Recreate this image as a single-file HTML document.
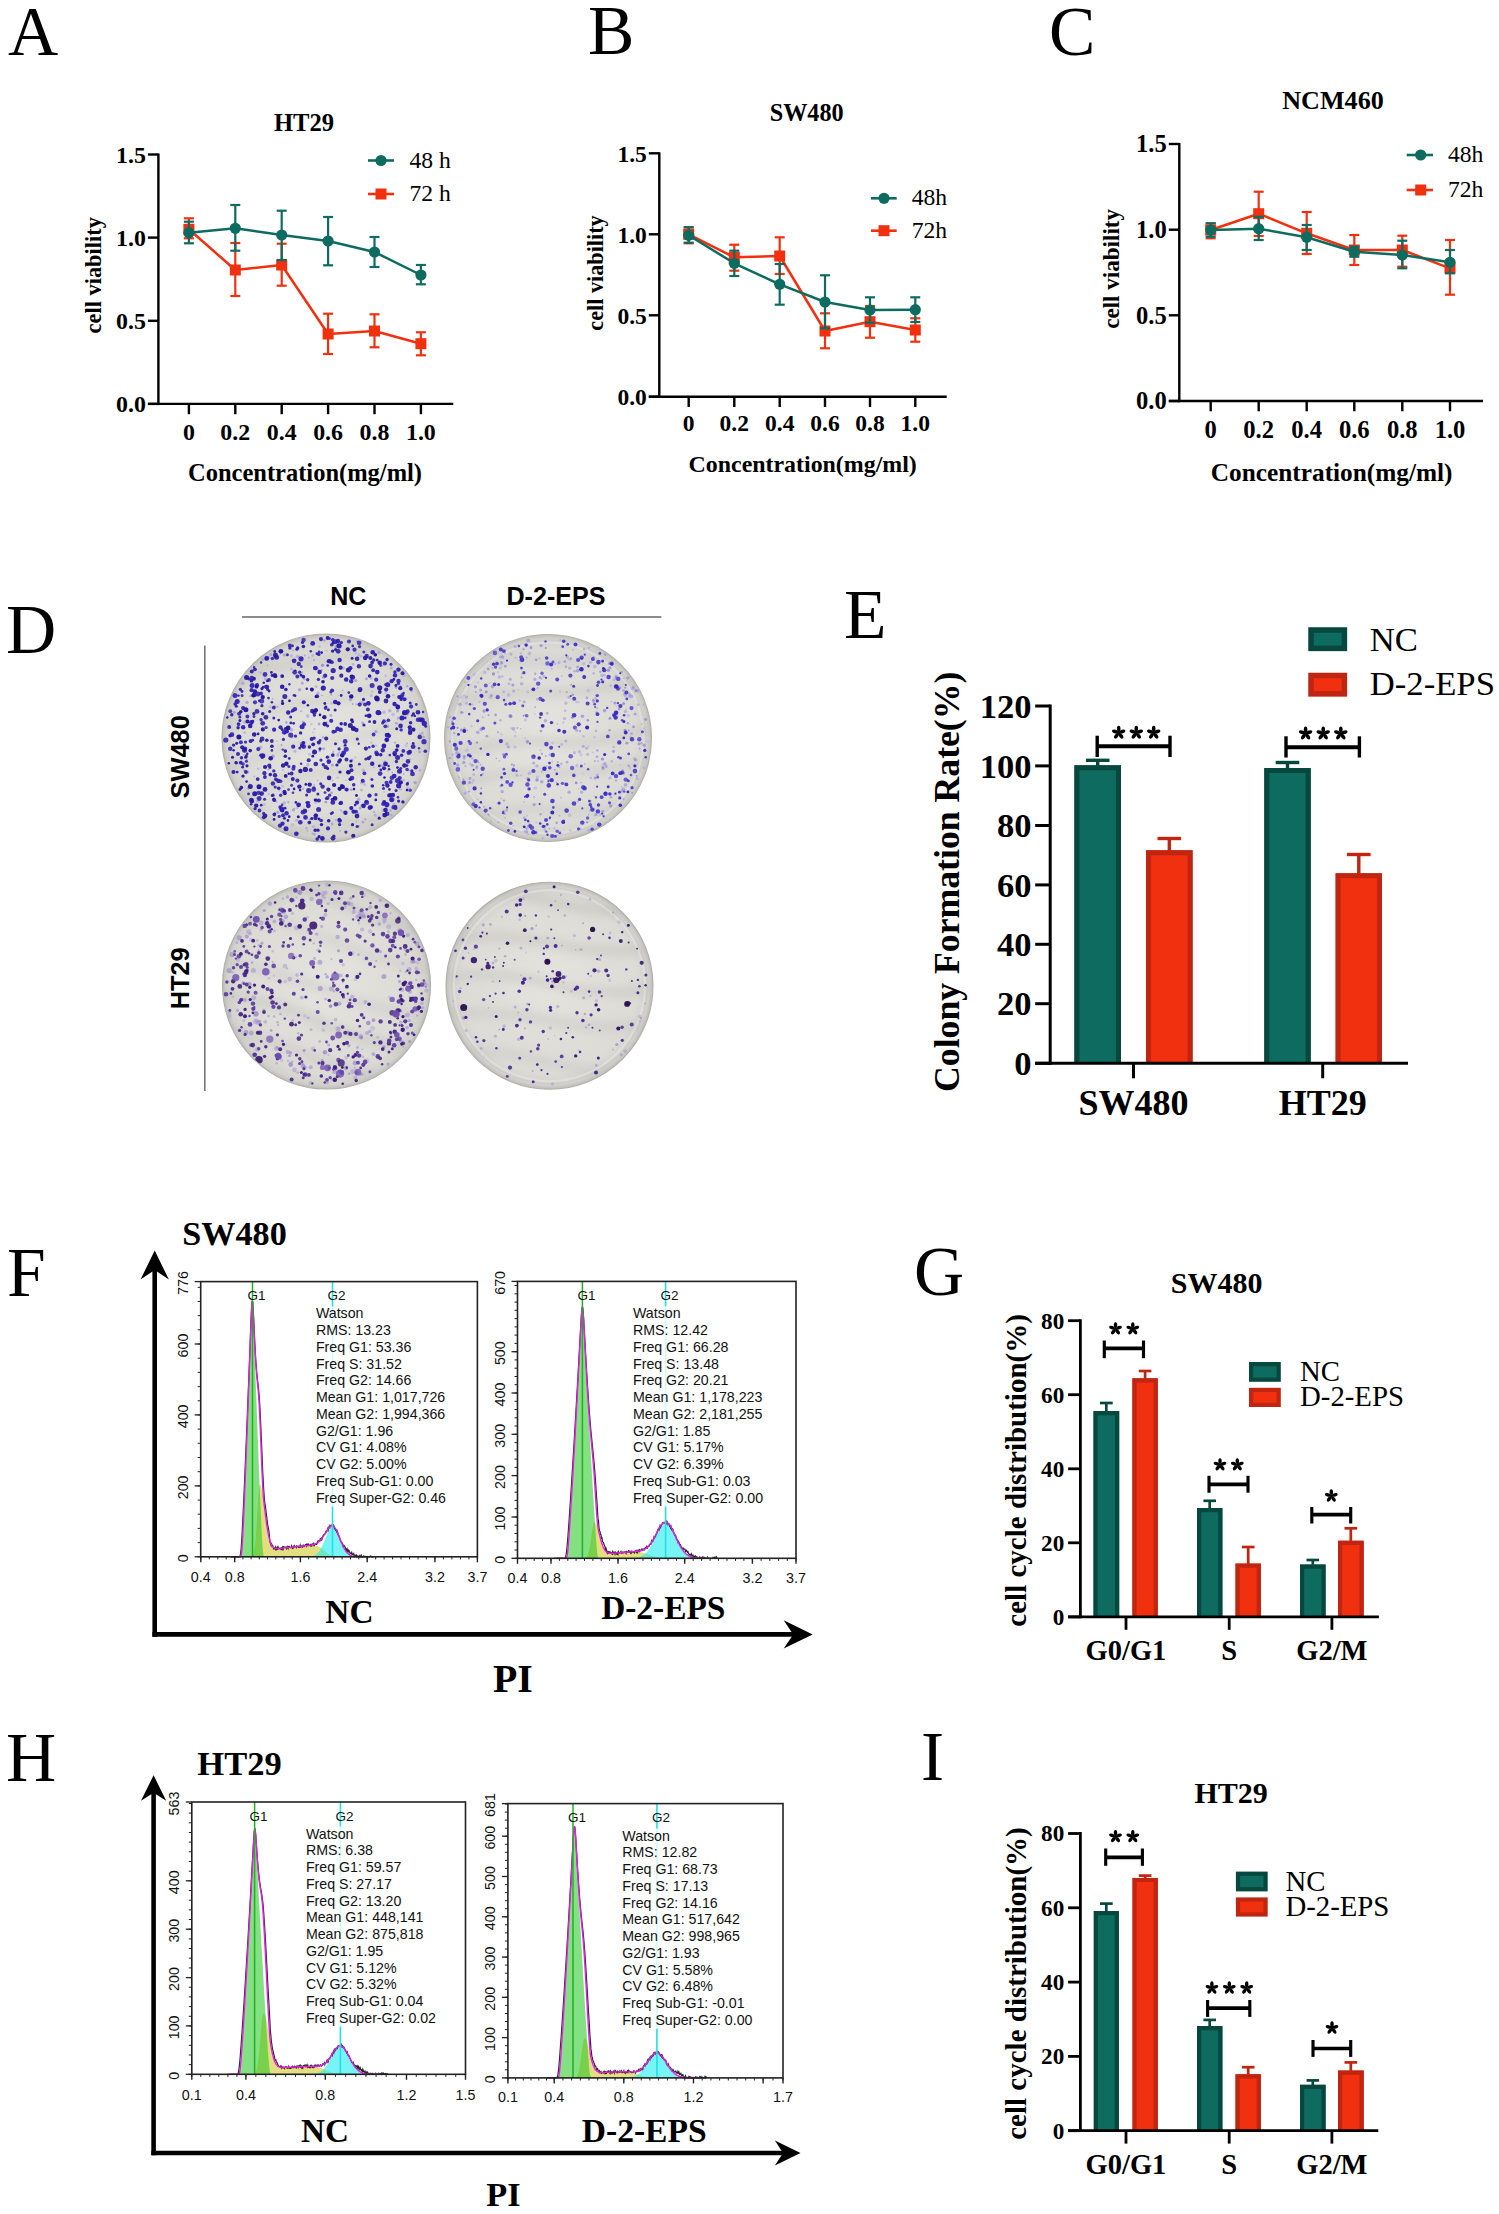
<!DOCTYPE html>
<html><head><meta charset="utf-8"><style>
html,body{margin:0;padding:0;background:#fff;}
svg{display:block;}
</style></head><body>
<svg width="1499" height="2214" viewBox="0 0 1499 2214">
<rect width="1499" height="2214" fill="#fff"/>
<text x="8.0" y="54.5" font-family='"Liberation Serif", serif' font-size="69.5" font-weight="normal" text-anchor="start" fill="#000" >A</text>
<text x="588.0" y="54.3" font-family='"Liberation Serif", serif' font-size="69.5" font-weight="normal" text-anchor="start" fill="#000" >B</text>
<text x="1049.0" y="54.8" font-family='"Liberation Serif", serif' font-size="69.5" font-weight="normal" text-anchor="start" fill="#000" >C</text>
<text x="6.0" y="653.0" font-family='"Liberation Serif", serif' font-size="69.5" font-weight="normal" text-anchor="start" fill="#000" >D</text>
<text x="844.0" y="638.0" font-family='"Liberation Serif", serif' font-size="69.5" font-weight="normal" text-anchor="start" fill="#000" >E</text>
<text x="7.0" y="1296.0" font-family='"Liberation Serif", serif' font-size="69.5" font-weight="normal" text-anchor="start" fill="#000" >F</text>
<text x="914.0" y="1294.5" font-family='"Liberation Serif", serif' font-size="69.5" font-weight="normal" text-anchor="start" fill="#000" >G</text>
<text x="6.0" y="1781.0" font-family='"Liberation Serif", serif' font-size="69.5" font-weight="normal" text-anchor="start" fill="#000" >H</text>
<text x="921.0" y="1780.2" font-family='"Liberation Serif", serif' font-size="69.5" font-weight="normal" text-anchor="start" fill="#000" >I</text>
<line x1="158.4" y1="153.5" x2="158.4" y2="405.1" stroke="#000" stroke-width="2.4" />
<line x1="147.9" y1="403.9" x2="453.3" y2="403.9" stroke="#000" stroke-width="2.4" />
<line x1="147.9" y1="154.5" x2="158.4" y2="154.5" stroke="#000" stroke-width="2.4" />
<text x="145.9" y="162.8" font-family='"Liberation Serif", serif' font-size="23.9" font-weight="bold" text-anchor="end" fill="#000" >1.5</text>
<line x1="147.9" y1="237.6" x2="158.4" y2="237.6" stroke="#000" stroke-width="2.4" />
<text x="145.9" y="245.9" font-family='"Liberation Serif", serif' font-size="23.9" font-weight="bold" text-anchor="end" fill="#000" >1.0</text>
<line x1="147.9" y1="320.8" x2="158.4" y2="320.8" stroke="#000" stroke-width="2.4" />
<text x="145.9" y="329.1" font-family='"Liberation Serif", serif' font-size="23.9" font-weight="bold" text-anchor="end" fill="#000" >0.5</text>
<line x1="147.9" y1="403.9" x2="158.4" y2="403.9" stroke="#000" stroke-width="2.4" />
<text x="145.9" y="412.2" font-family='"Liberation Serif", serif' font-size="23.9" font-weight="bold" text-anchor="end" fill="#000" >0.0</text>
<line x1="188.9" y1="403.9" x2="188.9" y2="414.2" stroke="#000" stroke-width="2.4" />
<text x="188.9" y="439.5" font-family='"Liberation Serif", serif' font-size="23.9" font-weight="bold" text-anchor="middle" fill="#000" >0</text>
<line x1="235.3" y1="403.9" x2="235.3" y2="414.2" stroke="#000" stroke-width="2.4" />
<text x="235.3" y="439.5" font-family='"Liberation Serif", serif' font-size="23.9" font-weight="bold" text-anchor="middle" fill="#000" >0.2</text>
<line x1="281.7" y1="403.9" x2="281.7" y2="414.2" stroke="#000" stroke-width="2.4" />
<text x="281.7" y="439.5" font-family='"Liberation Serif", serif' font-size="23.9" font-weight="bold" text-anchor="middle" fill="#000" >0.4</text>
<line x1="328.1" y1="403.9" x2="328.1" y2="414.2" stroke="#000" stroke-width="2.4" />
<text x="328.1" y="439.5" font-family='"Liberation Serif", serif' font-size="23.9" font-weight="bold" text-anchor="middle" fill="#000" >0.6</text>
<line x1="374.5" y1="403.9" x2="374.5" y2="414.2" stroke="#000" stroke-width="2.4" />
<text x="374.5" y="439.5" font-family='"Liberation Serif", serif' font-size="23.9" font-weight="bold" text-anchor="middle" fill="#000" >0.8</text>
<line x1="420.9" y1="403.9" x2="420.9" y2="414.2" stroke="#000" stroke-width="2.4" />
<text x="420.9" y="439.5" font-family='"Liberation Serif", serif' font-size="23.9" font-weight="bold" text-anchor="middle" fill="#000" >1.0</text>
<text x="304.0" y="131.3" font-family='"Liberation Serif", serif' font-size="24.6" font-weight="bold" text-anchor="middle" fill="#000" >HT29</text>
<text x="305.0" y="481.0" font-family='"Liberation Serif", serif' font-size="24.5" font-weight="bold" text-anchor="middle" fill="#000" >Concentration(mg/ml)</text>
<text transform="translate(100.6,275.3) rotate(-90)" font-family='"Liberation Serif", serif' font-size="22.4" font-weight="bold" text-anchor="middle" fill="#000">cell viability</text>
<line x1="188.9" y1="218.3" x2="188.9" y2="238.3" stroke="#f0300f" stroke-width="2.2" />
<line x1="183.9" y1="218.3" x2="193.9" y2="218.3" stroke="#f0300f" stroke-width="2.2" />
<line x1="183.9" y1="238.3" x2="193.9" y2="238.3" stroke="#f0300f" stroke-width="2.2" />
<line x1="235.3" y1="243.0" x2="235.3" y2="296.0" stroke="#f0300f" stroke-width="2.2" />
<line x1="230.3" y1="243.0" x2="240.3" y2="243.0" stroke="#f0300f" stroke-width="2.2" />
<line x1="230.3" y1="296.0" x2="240.3" y2="296.0" stroke="#f0300f" stroke-width="2.2" />
<line x1="281.7" y1="243.7" x2="281.7" y2="285.7" stroke="#f0300f" stroke-width="2.2" />
<line x1="276.7" y1="243.7" x2="286.7" y2="243.7" stroke="#f0300f" stroke-width="2.2" />
<line x1="276.7" y1="285.7" x2="286.7" y2="285.7" stroke="#f0300f" stroke-width="2.2" />
<line x1="328.1" y1="313.7" x2="328.1" y2="354.0" stroke="#f0300f" stroke-width="2.2" />
<line x1="323.1" y1="313.7" x2="333.1" y2="313.7" stroke="#f0300f" stroke-width="2.2" />
<line x1="323.1" y1="354.0" x2="333.1" y2="354.0" stroke="#f0300f" stroke-width="2.2" />
<line x1="374.5" y1="314.3" x2="374.5" y2="347.3" stroke="#f0300f" stroke-width="2.2" />
<line x1="369.5" y1="314.3" x2="379.5" y2="314.3" stroke="#f0300f" stroke-width="2.2" />
<line x1="369.5" y1="347.3" x2="379.5" y2="347.3" stroke="#f0300f" stroke-width="2.2" />
<line x1="420.9" y1="332.3" x2="420.9" y2="355.3" stroke="#f0300f" stroke-width="2.2" />
<line x1="415.9" y1="332.3" x2="425.9" y2="332.3" stroke="#f0300f" stroke-width="2.2" />
<line x1="415.9" y1="355.3" x2="425.9" y2="355.3" stroke="#f0300f" stroke-width="2.2" />
<polyline points="188.9,229.3 235.3,270.0 281.7,265.0 328.1,334.0 374.5,331.0 420.9,343.7" fill="none" stroke="#f0300f" stroke-width="2.5" stroke-linejoin="round"/>
<rect x="183.4" y="223.8" width="11" height="11" fill="#f0300f"/>
<rect x="229.8" y="264.5" width="11" height="11" fill="#f0300f"/>
<rect x="276.2" y="259.5" width="11" height="11" fill="#f0300f"/>
<rect x="322.6" y="328.5" width="11" height="11" fill="#f0300f"/>
<rect x="369.0" y="325.5" width="11" height="11" fill="#f0300f"/>
<rect x="415.4" y="338.2" width="11" height="11" fill="#f0300f"/>
<line x1="188.9" y1="221.7" x2="188.9" y2="243.3" stroke="#0e6b60" stroke-width="2.2" />
<line x1="183.9" y1="221.7" x2="193.9" y2="221.7" stroke="#0e6b60" stroke-width="2.2" />
<line x1="183.9" y1="243.3" x2="193.9" y2="243.3" stroke="#0e6b60" stroke-width="2.2" />
<line x1="235.3" y1="205.0" x2="235.3" y2="250.7" stroke="#0e6b60" stroke-width="2.2" />
<line x1="230.3" y1="205.0" x2="240.3" y2="205.0" stroke="#0e6b60" stroke-width="2.2" />
<line x1="230.3" y1="250.7" x2="240.3" y2="250.7" stroke="#0e6b60" stroke-width="2.2" />
<line x1="281.7" y1="210.7" x2="281.7" y2="260.0" stroke="#0e6b60" stroke-width="2.2" />
<line x1="276.7" y1="210.7" x2="286.7" y2="210.7" stroke="#0e6b60" stroke-width="2.2" />
<line x1="276.7" y1="260.0" x2="286.7" y2="260.0" stroke="#0e6b60" stroke-width="2.2" />
<line x1="328.1" y1="217.0" x2="328.1" y2="265.3" stroke="#0e6b60" stroke-width="2.2" />
<line x1="323.1" y1="217.0" x2="333.1" y2="217.0" stroke="#0e6b60" stroke-width="2.2" />
<line x1="323.1" y1="265.3" x2="333.1" y2="265.3" stroke="#0e6b60" stroke-width="2.2" />
<line x1="374.5" y1="237.0" x2="374.5" y2="267.0" stroke="#0e6b60" stroke-width="2.2" />
<line x1="369.5" y1="237.0" x2="379.5" y2="237.0" stroke="#0e6b60" stroke-width="2.2" />
<line x1="369.5" y1="267.0" x2="379.5" y2="267.0" stroke="#0e6b60" stroke-width="2.2" />
<line x1="420.9" y1="265.0" x2="420.9" y2="284.3" stroke="#0e6b60" stroke-width="2.2" />
<line x1="415.9" y1="265.0" x2="425.9" y2="265.0" stroke="#0e6b60" stroke-width="2.2" />
<line x1="415.9" y1="284.3" x2="425.9" y2="284.3" stroke="#0e6b60" stroke-width="2.2" />
<polyline points="188.9,232.7 235.3,228.3 281.7,235.0 328.1,241.0 374.5,252.0 420.9,275.0" fill="none" stroke="#0e6b60" stroke-width="2.5" stroke-linejoin="round"/>
<circle cx="188.9" cy="232.7" r="5.6" fill="#0e6b60"/>
<circle cx="235.3" cy="228.3" r="5.6" fill="#0e6b60"/>
<circle cx="281.7" cy="235.0" r="5.6" fill="#0e6b60"/>
<circle cx="328.1" cy="241.0" r="5.6" fill="#0e6b60"/>
<circle cx="374.5" cy="252.0" r="5.6" fill="#0e6b60"/>
<circle cx="420.9" cy="275.0" r="5.6" fill="#0e6b60"/>
<line x1="368.0" y1="160.5" x2="394.0" y2="160.5" stroke="#0e6b60" stroke-width="2.6" />
<circle cx="381" cy="160.5" r="5.6" fill="#0e6b60"/>
<line x1="368.0" y1="194.0" x2="394.0" y2="194.0" stroke="#f0300f" stroke-width="2.6" />
<rect x="375.5" y="188.5" width="11" height="11" fill="#f0300f"/>
<text x="409.5" y="167.5" font-family='"Liberation Serif", serif' font-size="23.6" font-weight="normal" text-anchor="start" fill="#000" >48 h</text>
<text x="409.5" y="201.0" font-family='"Liberation Serif", serif' font-size="23.6" font-weight="normal" text-anchor="start" fill="#000" >72 h</text>
<line x1="659.3" y1="152.3" x2="659.3" y2="397.9" stroke="#000" stroke-width="2.4" />
<line x1="648.8" y1="396.7" x2="946.7" y2="396.7" stroke="#000" stroke-width="2.4" />
<line x1="648.8" y1="153.3" x2="659.3" y2="153.3" stroke="#000" stroke-width="2.4" />
<text x="646.8" y="161.6" font-family='"Liberation Serif", serif' font-size="23.5" font-weight="bold" text-anchor="end" fill="#000" >1.5</text>
<line x1="648.8" y1="234.3" x2="659.3" y2="234.3" stroke="#000" stroke-width="2.4" />
<text x="646.8" y="242.6" font-family='"Liberation Serif", serif' font-size="23.5" font-weight="bold" text-anchor="end" fill="#000" >1.0</text>
<line x1="648.8" y1="315.3" x2="659.3" y2="315.3" stroke="#000" stroke-width="2.4" />
<text x="646.8" y="323.6" font-family='"Liberation Serif", serif' font-size="23.5" font-weight="bold" text-anchor="end" fill="#000" >0.5</text>
<line x1="648.8" y1="396.7" x2="659.3" y2="396.7" stroke="#000" stroke-width="2.4" />
<text x="646.8" y="405.0" font-family='"Liberation Serif", serif' font-size="23.5" font-weight="bold" text-anchor="end" fill="#000" >0.0</text>
<line x1="688.7" y1="396.7" x2="688.7" y2="407.0" stroke="#000" stroke-width="2.4" />
<text x="688.7" y="430.8" font-family='"Liberation Serif", serif' font-size="23.5" font-weight="bold" text-anchor="middle" fill="#000" >0</text>
<line x1="734.3" y1="396.7" x2="734.3" y2="407.0" stroke="#000" stroke-width="2.4" />
<text x="734.3" y="430.8" font-family='"Liberation Serif", serif' font-size="23.5" font-weight="bold" text-anchor="middle" fill="#000" >0.2</text>
<line x1="779.7" y1="396.7" x2="779.7" y2="407.0" stroke="#000" stroke-width="2.4" />
<text x="779.7" y="430.8" font-family='"Liberation Serif", serif' font-size="23.5" font-weight="bold" text-anchor="middle" fill="#000" >0.4</text>
<line x1="825.0" y1="396.7" x2="825.0" y2="407.0" stroke="#000" stroke-width="2.4" />
<text x="825.0" y="430.8" font-family='"Liberation Serif", serif' font-size="23.5" font-weight="bold" text-anchor="middle" fill="#000" >0.6</text>
<line x1="870.0" y1="396.7" x2="870.0" y2="407.0" stroke="#000" stroke-width="2.4" />
<text x="870.0" y="430.8" font-family='"Liberation Serif", serif' font-size="23.5" font-weight="bold" text-anchor="middle" fill="#000" >0.8</text>
<line x1="915.3" y1="396.7" x2="915.3" y2="407.0" stroke="#000" stroke-width="2.4" />
<text x="915.3" y="430.8" font-family='"Liberation Serif", serif' font-size="23.5" font-weight="bold" text-anchor="middle" fill="#000" >1.0</text>
<text x="806.7" y="121.3" font-family='"Liberation Serif", serif' font-size="24.2" font-weight="bold" text-anchor="middle" fill="#000" >SW480</text>
<text x="802.7" y="472.3" font-family='"Liberation Serif", serif' font-size="23.9" font-weight="bold" text-anchor="middle" fill="#000" >Concentration(mg/ml)</text>
<text transform="translate(602.5,273) rotate(-90)" font-family='"Liberation Serif", serif' font-size="22.2" font-weight="bold" text-anchor="middle" fill="#000">cell viability</text>
<line x1="688.7" y1="227.3" x2="688.7" y2="243.3" stroke="#f0300f" stroke-width="2.2" />
<line x1="683.7" y1="227.3" x2="693.7" y2="227.3" stroke="#f0300f" stroke-width="2.2" />
<line x1="683.7" y1="243.3" x2="693.7" y2="243.3" stroke="#f0300f" stroke-width="2.2" />
<line x1="734.3" y1="244.7" x2="734.3" y2="270.7" stroke="#f0300f" stroke-width="2.2" />
<line x1="729.3" y1="244.7" x2="739.3" y2="244.7" stroke="#f0300f" stroke-width="2.2" />
<line x1="729.3" y1="270.7" x2="739.3" y2="270.7" stroke="#f0300f" stroke-width="2.2" />
<line x1="779.7" y1="237.3" x2="779.7" y2="274.0" stroke="#f0300f" stroke-width="2.2" />
<line x1="774.7" y1="237.3" x2="784.7" y2="237.3" stroke="#f0300f" stroke-width="2.2" />
<line x1="774.7" y1="274.0" x2="784.7" y2="274.0" stroke="#f0300f" stroke-width="2.2" />
<line x1="825.0" y1="313.3" x2="825.0" y2="348.3" stroke="#f0300f" stroke-width="2.2" />
<line x1="820.0" y1="313.3" x2="830.0" y2="313.3" stroke="#f0300f" stroke-width="2.2" />
<line x1="820.0" y1="348.3" x2="830.0" y2="348.3" stroke="#f0300f" stroke-width="2.2" />
<line x1="870.0" y1="306.0" x2="870.0" y2="337.7" stroke="#f0300f" stroke-width="2.2" />
<line x1="865.0" y1="306.0" x2="875.0" y2="306.0" stroke="#f0300f" stroke-width="2.2" />
<line x1="865.0" y1="337.7" x2="875.0" y2="337.7" stroke="#f0300f" stroke-width="2.2" />
<line x1="915.3" y1="318.3" x2="915.3" y2="341.7" stroke="#f0300f" stroke-width="2.2" />
<line x1="910.3" y1="318.3" x2="920.3" y2="318.3" stroke="#f0300f" stroke-width="2.2" />
<line x1="910.3" y1="341.7" x2="920.3" y2="341.7" stroke="#f0300f" stroke-width="2.2" />
<polyline points="688.7,234.3 734.3,257.3 779.7,256.0 825.0,331.0 870.0,321.7 915.3,330.0" fill="none" stroke="#f0300f" stroke-width="2.5" stroke-linejoin="round"/>
<rect x="683.2" y="228.8" width="11" height="11" fill="#f0300f"/>
<rect x="728.8" y="251.8" width="11" height="11" fill="#f0300f"/>
<rect x="774.2" y="250.5" width="11" height="11" fill="#f0300f"/>
<rect x="819.5" y="325.5" width="11" height="11" fill="#f0300f"/>
<rect x="864.5" y="316.2" width="11" height="11" fill="#f0300f"/>
<rect x="909.8" y="324.5" width="11" height="11" fill="#f0300f"/>
<line x1="688.7" y1="227.3" x2="688.7" y2="242.7" stroke="#0e6b60" stroke-width="2.2" />
<line x1="683.7" y1="227.3" x2="693.7" y2="227.3" stroke="#0e6b60" stroke-width="2.2" />
<line x1="683.7" y1="242.7" x2="693.7" y2="242.7" stroke="#0e6b60" stroke-width="2.2" />
<line x1="734.3" y1="250.7" x2="734.3" y2="276.0" stroke="#0e6b60" stroke-width="2.2" />
<line x1="729.3" y1="250.7" x2="739.3" y2="250.7" stroke="#0e6b60" stroke-width="2.2" />
<line x1="729.3" y1="276.0" x2="739.3" y2="276.0" stroke="#0e6b60" stroke-width="2.2" />
<line x1="779.7" y1="264.0" x2="779.7" y2="304.7" stroke="#0e6b60" stroke-width="2.2" />
<line x1="774.7" y1="264.0" x2="784.7" y2="264.0" stroke="#0e6b60" stroke-width="2.2" />
<line x1="774.7" y1="304.7" x2="784.7" y2="304.7" stroke="#0e6b60" stroke-width="2.2" />
<line x1="825.0" y1="275.3" x2="825.0" y2="328.3" stroke="#0e6b60" stroke-width="2.2" />
<line x1="820.0" y1="275.3" x2="830.0" y2="275.3" stroke="#0e6b60" stroke-width="2.2" />
<line x1="820.0" y1="328.3" x2="830.0" y2="328.3" stroke="#0e6b60" stroke-width="2.2" />
<line x1="870.0" y1="297.3" x2="870.0" y2="322.7" stroke="#0e6b60" stroke-width="2.2" />
<line x1="865.0" y1="297.3" x2="875.0" y2="297.3" stroke="#0e6b60" stroke-width="2.2" />
<line x1="865.0" y1="322.7" x2="875.0" y2="322.7" stroke="#0e6b60" stroke-width="2.2" />
<line x1="915.3" y1="297.3" x2="915.3" y2="322.0" stroke="#0e6b60" stroke-width="2.2" />
<line x1="910.3" y1="297.3" x2="920.3" y2="297.3" stroke="#0e6b60" stroke-width="2.2" />
<line x1="910.3" y1="322.0" x2="920.3" y2="322.0" stroke="#0e6b60" stroke-width="2.2" />
<polyline points="688.7,235.3 734.3,263.3 779.7,284.3 825.0,302.0 870.0,310.0 915.3,309.7" fill="none" stroke="#0e6b60" stroke-width="2.5" stroke-linejoin="round"/>
<circle cx="688.7" cy="235.3" r="5.6" fill="#0e6b60"/>
<circle cx="734.3" cy="263.3" r="5.6" fill="#0e6b60"/>
<circle cx="779.7" cy="284.3" r="5.6" fill="#0e6b60"/>
<circle cx="825.0" cy="302.0" r="5.6" fill="#0e6b60"/>
<circle cx="870.0" cy="310.0" r="5.6" fill="#0e6b60"/>
<circle cx="915.3" cy="309.7" r="5.6" fill="#0e6b60"/>
<line x1="871.0" y1="198.3" x2="896.7" y2="198.3" stroke="#0e6b60" stroke-width="2.6" />
<circle cx="884" cy="198.3" r="5.6" fill="#0e6b60"/>
<line x1="871.0" y1="230.7" x2="896.7" y2="230.7" stroke="#f0300f" stroke-width="2.6" />
<rect x="878.5" y="225.2" width="11" height="11" fill="#f0300f"/>
<text x="911.7" y="205.3" font-family='"Liberation Serif", serif' font-size="23.6" font-weight="normal" text-anchor="start" fill="#000" >48h</text>
<text x="911.7" y="237.7" font-family='"Liberation Serif", serif' font-size="23.6" font-weight="normal" text-anchor="start" fill="#000" >72h</text>
<line x1="1179.3" y1="143.0" x2="1179.3" y2="402.2" stroke="#000" stroke-width="2.4" />
<line x1="1168.8" y1="401.0" x2="1483.0" y2="401.0" stroke="#000" stroke-width="2.4" />
<line x1="1168.8" y1="144.0" x2="1179.3" y2="144.0" stroke="#000" stroke-width="2.4" />
<text x="1166.8" y="152.3" font-family='"Liberation Serif", serif' font-size="24.6" font-weight="bold" text-anchor="end" fill="#000" >1.5</text>
<line x1="1168.8" y1="229.7" x2="1179.3" y2="229.7" stroke="#000" stroke-width="2.4" />
<text x="1166.8" y="238.0" font-family='"Liberation Serif", serif' font-size="24.6" font-weight="bold" text-anchor="end" fill="#000" >1.0</text>
<line x1="1168.8" y1="315.3" x2="1179.3" y2="315.3" stroke="#000" stroke-width="2.4" />
<text x="1166.8" y="323.6" font-family='"Liberation Serif", serif' font-size="24.6" font-weight="bold" text-anchor="end" fill="#000" >0.5</text>
<line x1="1168.8" y1="401.0" x2="1179.3" y2="401.0" stroke="#000" stroke-width="2.4" />
<text x="1166.8" y="409.3" font-family='"Liberation Serif", serif' font-size="24.6" font-weight="bold" text-anchor="end" fill="#000" >0.0</text>
<line x1="1210.7" y1="401.0" x2="1210.7" y2="411.3" stroke="#000" stroke-width="2.4" />
<text x="1210.7" y="437.5" font-family='"Liberation Serif", serif' font-size="24.6" font-weight="bold" text-anchor="middle" fill="#000" >0</text>
<line x1="1258.7" y1="401.0" x2="1258.7" y2="411.3" stroke="#000" stroke-width="2.4" />
<text x="1258.7" y="437.5" font-family='"Liberation Serif", serif' font-size="24.6" font-weight="bold" text-anchor="middle" fill="#000" >0.2</text>
<line x1="1306.7" y1="401.0" x2="1306.7" y2="411.3" stroke="#000" stroke-width="2.4" />
<text x="1306.7" y="437.5" font-family='"Liberation Serif", serif' font-size="24.6" font-weight="bold" text-anchor="middle" fill="#000" >0.4</text>
<line x1="1354.3" y1="401.0" x2="1354.3" y2="411.3" stroke="#000" stroke-width="2.4" />
<text x="1354.3" y="437.5" font-family='"Liberation Serif", serif' font-size="24.6" font-weight="bold" text-anchor="middle" fill="#000" >0.6</text>
<line x1="1402.3" y1="401.0" x2="1402.3" y2="411.3" stroke="#000" stroke-width="2.4" />
<text x="1402.3" y="437.5" font-family='"Liberation Serif", serif' font-size="24.6" font-weight="bold" text-anchor="middle" fill="#000" >0.8</text>
<line x1="1450.0" y1="401.0" x2="1450.0" y2="411.3" stroke="#000" stroke-width="2.4" />
<text x="1450.0" y="437.5" font-family='"Liberation Serif", serif' font-size="24.6" font-weight="bold" text-anchor="middle" fill="#000" >1.0</text>
<text x="1333.0" y="109.3" font-family='"Liberation Serif", serif' font-size="26.1" font-weight="bold" text-anchor="middle" fill="#000" >NCM460</text>
<text x="1331.7" y="481.0" font-family='"Liberation Serif", serif' font-size="25.3" font-weight="bold" text-anchor="middle" fill="#000" >Concentration(mg/ml)</text>
<text transform="translate(1119.3,268.9) rotate(-90)" font-family='"Liberation Serif", serif' font-size="23.1" font-weight="bold" text-anchor="middle" fill="#000">cell viability</text>
<line x1="1210.7" y1="223.3" x2="1210.7" y2="238.3" stroke="#f0300f" stroke-width="2.2" />
<line x1="1205.7" y1="223.3" x2="1215.7" y2="223.3" stroke="#f0300f" stroke-width="2.2" />
<line x1="1205.7" y1="238.3" x2="1215.7" y2="238.3" stroke="#f0300f" stroke-width="2.2" />
<line x1="1258.7" y1="191.7" x2="1258.7" y2="236.0" stroke="#f0300f" stroke-width="2.2" />
<line x1="1253.7" y1="191.7" x2="1263.7" y2="191.7" stroke="#f0300f" stroke-width="2.2" />
<line x1="1253.7" y1="236.0" x2="1263.7" y2="236.0" stroke="#f0300f" stroke-width="2.2" />
<line x1="1306.7" y1="212.0" x2="1306.7" y2="254.0" stroke="#f0300f" stroke-width="2.2" />
<line x1="1301.7" y1="212.0" x2="1311.7" y2="212.0" stroke="#f0300f" stroke-width="2.2" />
<line x1="1301.7" y1="254.0" x2="1311.7" y2="254.0" stroke="#f0300f" stroke-width="2.2" />
<line x1="1354.3" y1="235.0" x2="1354.3" y2="265.0" stroke="#f0300f" stroke-width="2.2" />
<line x1="1349.3" y1="235.0" x2="1359.3" y2="235.0" stroke="#f0300f" stroke-width="2.2" />
<line x1="1349.3" y1="265.0" x2="1359.3" y2="265.0" stroke="#f0300f" stroke-width="2.2" />
<line x1="1402.3" y1="235.7" x2="1402.3" y2="266.7" stroke="#f0300f" stroke-width="2.2" />
<line x1="1397.3" y1="235.7" x2="1407.3" y2="235.7" stroke="#f0300f" stroke-width="2.2" />
<line x1="1397.3" y1="266.7" x2="1407.3" y2="266.7" stroke="#f0300f" stroke-width="2.2" />
<line x1="1450.0" y1="240.0" x2="1450.0" y2="294.7" stroke="#f0300f" stroke-width="2.2" />
<line x1="1445.0" y1="240.0" x2="1455.0" y2="240.0" stroke="#f0300f" stroke-width="2.2" />
<line x1="1445.0" y1="294.7" x2="1455.0" y2="294.7" stroke="#f0300f" stroke-width="2.2" />
<polyline points="1210.7,230.0 1258.7,213.7 1306.7,233.3 1354.3,250.0 1402.3,250.0 1450.0,268.3" fill="none" stroke="#f0300f" stroke-width="2.5" stroke-linejoin="round"/>
<rect x="1205.2" y="224.5" width="11" height="11" fill="#f0300f"/>
<rect x="1253.2" y="208.2" width="11" height="11" fill="#f0300f"/>
<rect x="1301.2" y="227.8" width="11" height="11" fill="#f0300f"/>
<rect x="1348.8" y="244.5" width="11" height="11" fill="#f0300f"/>
<rect x="1396.8" y="244.5" width="11" height="11" fill="#f0300f"/>
<rect x="1444.5" y="262.8" width="11" height="11" fill="#f0300f"/>
<line x1="1210.7" y1="223.3" x2="1210.7" y2="236.7" stroke="#0e6b60" stroke-width="2.2" />
<line x1="1205.7" y1="223.3" x2="1215.7" y2="223.3" stroke="#0e6b60" stroke-width="2.2" />
<line x1="1205.7" y1="236.7" x2="1215.7" y2="236.7" stroke="#0e6b60" stroke-width="2.2" />
<line x1="1258.7" y1="216.7" x2="1258.7" y2="240.0" stroke="#0e6b60" stroke-width="2.2" />
<line x1="1253.7" y1="216.7" x2="1263.7" y2="216.7" stroke="#0e6b60" stroke-width="2.2" />
<line x1="1253.7" y1="240.0" x2="1263.7" y2="240.0" stroke="#0e6b60" stroke-width="2.2" />
<line x1="1306.7" y1="225.0" x2="1306.7" y2="250.0" stroke="#0e6b60" stroke-width="2.2" />
<line x1="1301.7" y1="225.0" x2="1311.7" y2="225.0" stroke="#0e6b60" stroke-width="2.2" />
<line x1="1301.7" y1="250.0" x2="1311.7" y2="250.0" stroke="#0e6b60" stroke-width="2.2" />
<line x1="1354.3" y1="246.7" x2="1354.3" y2="256.7" stroke="#0e6b60" stroke-width="2.2" />
<line x1="1349.3" y1="246.7" x2="1359.3" y2="246.7" stroke="#0e6b60" stroke-width="2.2" />
<line x1="1349.3" y1="256.7" x2="1359.3" y2="256.7" stroke="#0e6b60" stroke-width="2.2" />
<line x1="1402.3" y1="240.7" x2="1402.3" y2="268.3" stroke="#0e6b60" stroke-width="2.2" />
<line x1="1397.3" y1="240.7" x2="1407.3" y2="240.7" stroke="#0e6b60" stroke-width="2.2" />
<line x1="1397.3" y1="268.3" x2="1407.3" y2="268.3" stroke="#0e6b60" stroke-width="2.2" />
<line x1="1450.0" y1="250.0" x2="1450.0" y2="273.3" stroke="#0e6b60" stroke-width="2.2" />
<line x1="1445.0" y1="250.0" x2="1455.0" y2="250.0" stroke="#0e6b60" stroke-width="2.2" />
<line x1="1445.0" y1="273.3" x2="1455.0" y2="273.3" stroke="#0e6b60" stroke-width="2.2" />
<polyline points="1210.7,230.0 1258.7,228.7 1306.7,237.3 1354.3,251.7 1402.3,255.0 1450.0,262.3" fill="none" stroke="#0e6b60" stroke-width="2.5" stroke-linejoin="round"/>
<circle cx="1210.7" cy="230.0" r="5.6" fill="#0e6b60"/>
<circle cx="1258.7" cy="228.7" r="5.6" fill="#0e6b60"/>
<circle cx="1306.7" cy="237.3" r="5.6" fill="#0e6b60"/>
<circle cx="1354.3" cy="251.7" r="5.6" fill="#0e6b60"/>
<circle cx="1402.3" cy="255.0" r="5.6" fill="#0e6b60"/>
<circle cx="1450.0" cy="262.3" r="5.6" fill="#0e6b60"/>
<line x1="1406.7" y1="155.0" x2="1433.0" y2="155.0" stroke="#0e6b60" stroke-width="2.6" />
<circle cx="1420.7" cy="155" r="5.6" fill="#0e6b60"/>
<line x1="1406.7" y1="190.0" x2="1433.0" y2="190.0" stroke="#f0300f" stroke-width="2.6" />
<rect x="1415.2" y="184.5" width="11" height="11" fill="#f0300f"/>
<text x="1448.0" y="162.0" font-family='"Liberation Serif", serif' font-size="23.6" font-weight="normal" text-anchor="start" fill="#000" >48h</text>
<text x="1448.0" y="197.0" font-family='"Liberation Serif", serif' font-size="23.6" font-weight="normal" text-anchor="start" fill="#000" >72h</text>
<line x1="1035.2" y1="706.0" x2="1050.2" y2="706.0" stroke="#000" stroke-width="3.0" />
<text x="1031.5" y="717.6" font-family='"Liberation Serif", serif' font-size="34.5" font-weight="bold" text-anchor="end" fill="#000" >120</text>
<line x1="1035.2" y1="765.9" x2="1050.2" y2="765.9" stroke="#000" stroke-width="3.0" />
<text x="1031.5" y="777.5" font-family='"Liberation Serif", serif' font-size="34.5" font-weight="bold" text-anchor="end" fill="#000" >100</text>
<line x1="1035.2" y1="825.5" x2="1050.2" y2="825.5" stroke="#000" stroke-width="3.0" />
<text x="1031.5" y="837.1" font-family='"Liberation Serif", serif' font-size="34.5" font-weight="bold" text-anchor="end" fill="#000" >80</text>
<line x1="1035.2" y1="884.9" x2="1050.2" y2="884.9" stroke="#000" stroke-width="3.0" />
<text x="1031.5" y="896.5" font-family='"Liberation Serif", serif' font-size="34.5" font-weight="bold" text-anchor="end" fill="#000" >60</text>
<line x1="1035.2" y1="944.3" x2="1050.2" y2="944.3" stroke="#000" stroke-width="3.0" />
<text x="1031.5" y="955.9" font-family='"Liberation Serif", serif' font-size="34.5" font-weight="bold" text-anchor="end" fill="#000" >40</text>
<line x1="1035.2" y1="1003.7" x2="1050.2" y2="1003.7" stroke="#000" stroke-width="3.0" />
<text x="1031.5" y="1015.3" font-family='"Liberation Serif", serif' font-size="34.5" font-weight="bold" text-anchor="end" fill="#000" >20</text>
<line x1="1035.2" y1="1063.3" x2="1050.2" y2="1063.3" stroke="#000" stroke-width="3.0" />
<text x="1031.5" y="1074.9" font-family='"Liberation Serif", serif' font-size="34.5" font-weight="bold" text-anchor="end" fill="#000" >0</text>
<line x1="1133.5" y1="1063.3" x2="1133.5" y2="1078.3" stroke="#000" stroke-width="3.0" />
<line x1="1322.7" y1="1063.3" x2="1322.7" y2="1078.3" stroke="#000" stroke-width="3.0" />
<text x="1133.5" y="1114.5" font-family='"Liberation Serif", serif' font-size="36" font-weight="bold" text-anchor="middle" fill="#000" >SW480</text>
<text x="1322.7" y="1114.5" font-family='"Liberation Serif", serif' font-size="36" font-weight="bold" text-anchor="middle" fill="#000" >HT29</text>
<line x1="1097.7" y1="760.3" x2="1097.7" y2="766.3" stroke="#06483e" stroke-width="3.4" />
<line x1="1085.9" y1="760.3" x2="1109.5" y2="760.3" stroke="#06483e" stroke-width="3.4" />
<rect x="1074.4" y="765.3" width="46.6" height="298.0" fill="#0e6b60"/>
<path d="M1076.9,1063.3 L1076.9,767.8 L1118.5,767.8 L1118.5,1063.3" fill="none" stroke="#06483e" stroke-width="5"/>
<line x1="1169.3" y1="838.5" x2="1169.3" y2="851.2" stroke="#bf2510" stroke-width="3.4" />
<line x1="1157.5" y1="838.5" x2="1181.1" y2="838.5" stroke="#bf2510" stroke-width="3.4" />
<rect x="1146.0" y="850.2" width="46.6" height="213.1" fill="#f0300f"/>
<path d="M1148.5,1063.3 L1148.5,852.7 L1190.1,852.7 L1190.1,1063.3" fill="none" stroke="#bf2510" stroke-width="5"/>
<line x1="1287.5" y1="762.5" x2="1287.5" y2="769.0" stroke="#06483e" stroke-width="3.4" />
<line x1="1275.7" y1="762.5" x2="1299.3" y2="762.5" stroke="#06483e" stroke-width="3.4" />
<rect x="1264.3" y="768.0" width="46.4" height="295.3" fill="#0e6b60"/>
<path d="M1266.8,1063.3 L1266.8,770.5 L1308.2,770.5 L1308.2,1063.3" fill="none" stroke="#06483e" stroke-width="5"/>
<line x1="1358.8" y1="854.5" x2="1358.8" y2="874.3" stroke="#bf2510" stroke-width="3.4" />
<line x1="1347.0" y1="854.5" x2="1370.6" y2="854.5" stroke="#bf2510" stroke-width="3.4" />
<rect x="1335.6" y="873.3" width="46.4" height="190.0" fill="#f0300f"/>
<path d="M1338.1,1063.3 L1338.1,875.8 L1379.5,875.8 L1379.5,1063.3" fill="none" stroke="#bf2510" stroke-width="5"/>
<line x1="1050.2" y1="704.5" x2="1050.2" y2="1064.8" stroke="#000" stroke-width="3.0" />
<line x1="1035.2" y1="1063.3" x2="1408.0" y2="1063.3" stroke="#000" stroke-width="3.0" />
<line x1="1097.2" y1="746.3" x2="1170.0" y2="746.3" stroke="#000" stroke-width="4" />
<line x1="1097.2" y1="735.7" x2="1097.2" y2="757.0" stroke="#000" stroke-width="3.4" />
<line x1="1170.0" y1="735.7" x2="1170.0" y2="757.0" stroke="#000" stroke-width="3.4" />
<g fill="#000"><ellipse cx="1118.70" cy="728.84" rx="3.11" ry="1.79" transform="rotate(-90.0 1118.70 728.84)"/><ellipse cx="1122.37" cy="731.51" rx="3.11" ry="1.79" transform="rotate(-18.0 1122.37 731.51)"/><ellipse cx="1120.97" cy="735.83" rx="3.11" ry="1.79" transform="rotate(54.0 1120.97 735.83)"/><ellipse cx="1116.43" cy="735.83" rx="3.11" ry="1.79" transform="rotate(126.0 1116.43 735.83)"/><ellipse cx="1115.03" cy="731.51" rx="3.11" ry="1.79" transform="rotate(198.0 1115.03 731.51)"/><circle cx="1118.70" cy="732.70" r="1.38"/></g>
<g fill="#000"><ellipse cx="1136.30" cy="728.84" rx="3.11" ry="1.79" transform="rotate(-90.0 1136.30 728.84)"/><ellipse cx="1139.97" cy="731.51" rx="3.11" ry="1.79" transform="rotate(-18.0 1139.97 731.51)"/><ellipse cx="1138.57" cy="735.83" rx="3.11" ry="1.79" transform="rotate(54.0 1138.57 735.83)"/><ellipse cx="1134.03" cy="735.83" rx="3.11" ry="1.79" transform="rotate(126.0 1134.03 735.83)"/><ellipse cx="1132.63" cy="731.51" rx="3.11" ry="1.79" transform="rotate(198.0 1132.63 731.51)"/><circle cx="1136.30" cy="732.70" r="1.38"/></g>
<g fill="#000"><ellipse cx="1153.70" cy="728.84" rx="3.11" ry="1.79" transform="rotate(-90.0 1153.70 728.84)"/><ellipse cx="1157.37" cy="731.51" rx="3.11" ry="1.79" transform="rotate(-18.0 1157.37 731.51)"/><ellipse cx="1155.97" cy="735.83" rx="3.11" ry="1.79" transform="rotate(54.0 1155.97 735.83)"/><ellipse cx="1151.43" cy="735.83" rx="3.11" ry="1.79" transform="rotate(126.0 1151.43 735.83)"/><ellipse cx="1150.03" cy="731.51" rx="3.11" ry="1.79" transform="rotate(198.0 1150.03 731.51)"/><circle cx="1153.70" cy="732.70" r="1.38"/></g>
<line x1="1286.0" y1="747.2" x2="1359.4" y2="747.2" stroke="#000" stroke-width="4" />
<line x1="1286.0" y1="736.3" x2="1286.0" y2="757.5" stroke="#000" stroke-width="3.4" />
<line x1="1359.4" y1="736.3" x2="1359.4" y2="757.5" stroke="#000" stroke-width="3.4" />
<g fill="#000"><ellipse cx="1305.60" cy="729.64" rx="3.11" ry="1.79" transform="rotate(-90.0 1305.60 729.64)"/><ellipse cx="1309.27" cy="732.31" rx="3.11" ry="1.79" transform="rotate(-18.0 1309.27 732.31)"/><ellipse cx="1307.87" cy="736.63" rx="3.11" ry="1.79" transform="rotate(54.0 1307.87 736.63)"/><ellipse cx="1303.33" cy="736.63" rx="3.11" ry="1.79" transform="rotate(126.0 1303.33 736.63)"/><ellipse cx="1301.93" cy="732.31" rx="3.11" ry="1.79" transform="rotate(198.0 1301.93 732.31)"/><circle cx="1305.60" cy="733.50" r="1.38"/></g>
<g fill="#000"><ellipse cx="1323.20" cy="729.64" rx="3.11" ry="1.79" transform="rotate(-90.0 1323.20 729.64)"/><ellipse cx="1326.87" cy="732.31" rx="3.11" ry="1.79" transform="rotate(-18.0 1326.87 732.31)"/><ellipse cx="1325.47" cy="736.63" rx="3.11" ry="1.79" transform="rotate(54.0 1325.47 736.63)"/><ellipse cx="1320.93" cy="736.63" rx="3.11" ry="1.79" transform="rotate(126.0 1320.93 736.63)"/><ellipse cx="1319.53" cy="732.31" rx="3.11" ry="1.79" transform="rotate(198.0 1319.53 732.31)"/><circle cx="1323.20" cy="733.50" r="1.38"/></g>
<g fill="#000"><ellipse cx="1340.80" cy="729.64" rx="3.11" ry="1.79" transform="rotate(-90.0 1340.80 729.64)"/><ellipse cx="1344.47" cy="732.31" rx="3.11" ry="1.79" transform="rotate(-18.0 1344.47 732.31)"/><ellipse cx="1343.07" cy="736.63" rx="3.11" ry="1.79" transform="rotate(54.0 1343.07 736.63)"/><ellipse cx="1338.53" cy="736.63" rx="3.11" ry="1.79" transform="rotate(126.0 1338.53 736.63)"/><ellipse cx="1337.13" cy="732.31" rx="3.11" ry="1.79" transform="rotate(198.0 1337.13 732.31)"/><circle cx="1340.80" cy="733.50" r="1.38"/></g>
<text transform="translate(958.5,881.8) rotate(-90)" font-family='"Liberation Serif", serif' font-size="35.7" font-weight="bold" text-anchor="middle" fill="#000">Colony Formation Rate(%)</text>
<rect x="1311.0" y="630.0" width="33.4" height="18.4" fill="#0e6b60" stroke="#06483e" stroke-width="5.5"/>
<text x="1369.7" y="650.5" font-family='"Liberation Serif", serif' font-size="34.7" font-weight="normal" text-anchor="start" fill="#000" >NC</text>
<rect x="1311.0" y="675.5" width="33.4" height="18.4" fill="#f0300f" stroke="#bf2510" stroke-width="5.5"/>
<text x="1369.7" y="695.3" font-family='"Liberation Serif", serif' font-size="34.7" font-weight="normal" text-anchor="start" fill="#000" >D-2-EPS</text>
<line x1="1068.1" y1="1320.7" x2="1080.4" y2="1320.7" stroke="#000" stroke-width="2.8" />
<text x="1064.3" y="1328.5" font-family='"Liberation Serif", serif' font-size="23.2" font-weight="bold" text-anchor="end" fill="#000" >80</text>
<line x1="1068.1" y1="1394.7" x2="1080.4" y2="1394.7" stroke="#000" stroke-width="2.8" />
<text x="1064.3" y="1402.5" font-family='"Liberation Serif", serif' font-size="23.2" font-weight="bold" text-anchor="end" fill="#000" >60</text>
<line x1="1068.1" y1="1468.8" x2="1080.4" y2="1468.8" stroke="#000" stroke-width="2.8" />
<text x="1064.3" y="1476.6" font-family='"Liberation Serif", serif' font-size="23.2" font-weight="bold" text-anchor="end" fill="#000" >40</text>
<line x1="1068.1" y1="1542.8" x2="1080.4" y2="1542.8" stroke="#000" stroke-width="2.8" />
<text x="1064.3" y="1550.6" font-family='"Liberation Serif", serif' font-size="23.2" font-weight="bold" text-anchor="end" fill="#000" >20</text>
<line x1="1068.1" y1="1616.9" x2="1080.4" y2="1616.9" stroke="#000" stroke-width="2.8" />
<text x="1064.3" y="1624.7" font-family='"Liberation Serif", serif' font-size="23.2" font-weight="bold" text-anchor="end" fill="#000" >0</text>
<line x1="1126.0" y1="1616.9" x2="1126.0" y2="1629.8" stroke="#000" stroke-width="2.8" />
<line x1="1229.2" y1="1616.9" x2="1229.2" y2="1629.8" stroke="#000" stroke-width="2.8" />
<line x1="1331.9" y1="1616.9" x2="1331.9" y2="1629.8" stroke="#000" stroke-width="2.8" />
<text x="1126.0" y="1660.0" font-family='"Liberation Serif", serif' font-size="28.5" font-weight="bold" text-anchor="middle" fill="#000" >G0/G1</text>
<text x="1229.2" y="1660.0" font-family='"Liberation Serif", serif' font-size="28.5" font-weight="bold" text-anchor="middle" fill="#000" >S</text>
<text x="1331.9" y="1660.0" font-family='"Liberation Serif", serif' font-size="28.5" font-weight="bold" text-anchor="middle" fill="#000" >G2/M</text>
<line x1="1106.3" y1="1403.0" x2="1106.3" y2="1412.0" stroke="#06483e" stroke-width="2.7" />
<line x1="1100.0" y1="1403.0" x2="1112.7" y2="1403.0" stroke="#06483e" stroke-width="2.7" />
<rect x="1093.5" y="1411.0" width="25.7" height="205.9" fill="#0e6b60"/>
<path d="M1095.6,1616.9 L1095.6,1413.1 L1117.1,1413.1 L1117.1,1616.9" fill="none" stroke="#06483e" stroke-width="4.2"/>
<line x1="1145.1" y1="1371.0" x2="1145.1" y2="1379.3" stroke="#bf2510" stroke-width="2.7" />
<line x1="1138.8" y1="1371.0" x2="1151.4" y2="1371.0" stroke="#bf2510" stroke-width="2.7" />
<rect x="1132.4" y="1378.3" width="25.4" height="238.6" fill="#f0300f"/>
<path d="M1134.5,1616.9 L1134.5,1380.4 L1155.7,1380.4 L1155.7,1616.9" fill="none" stroke="#bf2510" stroke-width="4.2"/>
<line x1="1209.7" y1="1500.8" x2="1209.7" y2="1509.1" stroke="#06483e" stroke-width="2.7" />
<line x1="1203.4" y1="1500.8" x2="1216.0" y2="1500.8" stroke="#06483e" stroke-width="2.7" />
<rect x="1197.0" y="1508.1" width="25.4" height="108.8" fill="#0e6b60"/>
<path d="M1199.1,1616.9 L1199.1,1510.2 L1220.3,1510.2 L1220.3,1616.9" fill="none" stroke="#06483e" stroke-width="4.2"/>
<line x1="1248.2" y1="1547.0" x2="1248.2" y2="1564.6" stroke="#bf2510" stroke-width="2.7" />
<line x1="1241.9" y1="1547.0" x2="1254.5" y2="1547.0" stroke="#bf2510" stroke-width="2.7" />
<rect x="1235.5" y="1563.6" width="25.4" height="53.3" fill="#f0300f"/>
<path d="M1237.6,1616.9 L1237.6,1565.7 L1258.8,1565.7 L1258.8,1616.9" fill="none" stroke="#bf2510" stroke-width="4.2"/>
<line x1="1312.8" y1="1560.0" x2="1312.8" y2="1565.5" stroke="#06483e" stroke-width="2.7" />
<line x1="1306.5" y1="1560.0" x2="1319.1" y2="1560.0" stroke="#06483e" stroke-width="2.7" />
<rect x="1300.0" y="1564.5" width="25.6" height="52.4" fill="#0e6b60"/>
<path d="M1302.1,1616.9 L1302.1,1566.6 L1323.5,1566.6 L1323.5,1616.9" fill="none" stroke="#06483e" stroke-width="4.2"/>
<line x1="1350.8" y1="1528.3" x2="1350.8" y2="1541.7" stroke="#bf2510" stroke-width="2.7" />
<line x1="1344.5" y1="1528.3" x2="1357.2" y2="1528.3" stroke="#bf2510" stroke-width="2.7" />
<rect x="1338.0" y="1540.7" width="25.7" height="76.2" fill="#f0300f"/>
<path d="M1340.1,1616.9 L1340.1,1542.8 L1361.6,1542.8 L1361.6,1616.9" fill="none" stroke="#bf2510" stroke-width="4.2"/>
<line x1="1080.4" y1="1319.3" x2="1080.4" y2="1618.3" stroke="#000" stroke-width="2.8" />
<line x1="1068.1" y1="1616.9" x2="1378.9" y2="1616.9" stroke="#000" stroke-width="2.8" />
<line x1="1104.3" y1="1348.4" x2="1143.5" y2="1348.4" stroke="#000" stroke-width="3.7" />
<line x1="1104.3" y1="1340.5" x2="1104.3" y2="1358.2" stroke="#000" stroke-width="3.145" />
<line x1="1143.5" y1="1340.5" x2="1143.5" y2="1358.2" stroke="#000" stroke-width="3.145" />
<g fill="#000"><ellipse cx="1115.50" cy="1325.10" rx="2.97" ry="1.72" transform="rotate(-90.0 1115.50 1325.10)"/><ellipse cx="1119.02" cy="1327.66" rx="2.97" ry="1.72" transform="rotate(-18.0 1119.02 1327.66)"/><ellipse cx="1117.67" cy="1331.79" rx="2.97" ry="1.72" transform="rotate(54.0 1117.67 1331.79)"/><ellipse cx="1113.33" cy="1331.79" rx="2.97" ry="1.72" transform="rotate(126.0 1113.33 1331.79)"/><ellipse cx="1111.98" cy="1327.66" rx="2.97" ry="1.72" transform="rotate(198.0 1111.98 1327.66)"/><circle cx="1115.50" cy="1328.80" r="1.32"/></g>
<g fill="#000"><ellipse cx="1132.80" cy="1325.10" rx="2.97" ry="1.72" transform="rotate(-90.0 1132.80 1325.10)"/><ellipse cx="1136.32" cy="1327.66" rx="2.97" ry="1.72" transform="rotate(-18.0 1136.32 1327.66)"/><ellipse cx="1134.97" cy="1331.79" rx="2.97" ry="1.72" transform="rotate(54.0 1134.97 1331.79)"/><ellipse cx="1130.63" cy="1331.79" rx="2.97" ry="1.72" transform="rotate(126.0 1130.63 1331.79)"/><ellipse cx="1129.28" cy="1327.66" rx="2.97" ry="1.72" transform="rotate(198.0 1129.28 1327.66)"/><circle cx="1132.80" cy="1328.80" r="1.32"/></g>
<line x1="1209.0" y1="1484.3" x2="1248.0" y2="1484.3" stroke="#000" stroke-width="3.7" />
<line x1="1209.0" y1="1475.8" x2="1209.0" y2="1492.7" stroke="#000" stroke-width="3.145" />
<line x1="1248.0" y1="1475.8" x2="1248.0" y2="1492.7" stroke="#000" stroke-width="3.145" />
<g fill="#000"><ellipse cx="1220.00" cy="1461.10" rx="2.97" ry="1.72" transform="rotate(-90.0 1220.00 1461.10)"/><ellipse cx="1223.52" cy="1463.66" rx="2.97" ry="1.72" transform="rotate(-18.0 1223.52 1463.66)"/><ellipse cx="1222.17" cy="1467.79" rx="2.97" ry="1.72" transform="rotate(54.0 1222.17 1467.79)"/><ellipse cx="1217.83" cy="1467.79" rx="2.97" ry="1.72" transform="rotate(126.0 1217.83 1467.79)"/><ellipse cx="1216.48" cy="1463.66" rx="2.97" ry="1.72" transform="rotate(198.0 1216.48 1463.66)"/><circle cx="1220.00" cy="1464.80" r="1.32"/></g>
<g fill="#000"><ellipse cx="1237.30" cy="1461.10" rx="2.97" ry="1.72" transform="rotate(-90.0 1237.30 1461.10)"/><ellipse cx="1240.82" cy="1463.66" rx="2.97" ry="1.72" transform="rotate(-18.0 1240.82 1463.66)"/><ellipse cx="1239.47" cy="1467.79" rx="2.97" ry="1.72" transform="rotate(54.0 1239.47 1467.79)"/><ellipse cx="1235.13" cy="1467.79" rx="2.97" ry="1.72" transform="rotate(126.0 1235.13 1467.79)"/><ellipse cx="1233.78" cy="1463.66" rx="2.97" ry="1.72" transform="rotate(198.0 1233.78 1463.66)"/><circle cx="1237.30" cy="1464.80" r="1.32"/></g>
<line x1="1311.8" y1="1514.7" x2="1350.7" y2="1514.7" stroke="#000" stroke-width="3.7" />
<line x1="1311.8" y1="1507.0" x2="1311.8" y2="1523.5" stroke="#000" stroke-width="3.145" />
<line x1="1350.7" y1="1507.0" x2="1350.7" y2="1523.5" stroke="#000" stroke-width="3.145" />
<g fill="#000"><ellipse cx="1331.30" cy="1492.30" rx="2.97" ry="1.72" transform="rotate(-90.0 1331.30 1492.30)"/><ellipse cx="1334.82" cy="1494.86" rx="2.97" ry="1.72" transform="rotate(-18.0 1334.82 1494.86)"/><ellipse cx="1333.47" cy="1498.99" rx="2.97" ry="1.72" transform="rotate(54.0 1333.47 1498.99)"/><ellipse cx="1329.13" cy="1498.99" rx="2.97" ry="1.72" transform="rotate(126.0 1329.13 1498.99)"/><ellipse cx="1327.78" cy="1494.86" rx="2.97" ry="1.72" transform="rotate(198.0 1327.78 1494.86)"/><circle cx="1331.30" cy="1496.00" r="1.32"/></g>
<text transform="translate(1025.6,1470.4) rotate(-90)" font-family='"Liberation Serif", serif' font-size="29.0" font-weight="bold" text-anchor="middle" fill="#000">cell cycle distribution(%)</text>
<rect x="1251.1" y="1364.1" width="27.6" height="15.6" fill="#0e6b60" stroke="#06483e" stroke-width="4.2"/>
<text x="1300.0" y="1381.0" font-family='"Liberation Serif", serif' font-size="28.8" font-weight="normal" text-anchor="start" fill="#000" >NC</text>
<rect x="1251.1" y="1389.9" width="27.6" height="15.0" fill="#f0300f" stroke="#bf2510" stroke-width="4.2"/>
<text x="1300.0" y="1406.0" font-family='"Liberation Serif", serif' font-size="28.8" font-weight="normal" text-anchor="start" fill="#000" >D-2-EPS</text>
<text x="1216.6" y="1293.3" font-family='"Liberation Serif", serif' font-size="30" font-weight="bold" text-anchor="middle" fill="#000" >SW480</text>
<line x1="1068.1" y1="1833.5" x2="1080.4" y2="1833.5" stroke="#000" stroke-width="2.8" />
<text x="1064.3" y="1841.3" font-family='"Liberation Serif", serif' font-size="23.2" font-weight="bold" text-anchor="end" fill="#000" >80</text>
<line x1="1068.1" y1="1907.8" x2="1080.4" y2="1907.8" stroke="#000" stroke-width="2.8" />
<text x="1064.3" y="1915.6" font-family='"Liberation Serif", serif' font-size="23.2" font-weight="bold" text-anchor="end" fill="#000" >60</text>
<line x1="1068.1" y1="1982.1" x2="1080.4" y2="1982.1" stroke="#000" stroke-width="2.8" />
<text x="1064.3" y="1989.9" font-family='"Liberation Serif", serif' font-size="23.2" font-weight="bold" text-anchor="end" fill="#000" >40</text>
<line x1="1068.1" y1="2056.4" x2="1080.4" y2="2056.4" stroke="#000" stroke-width="2.8" />
<text x="1064.3" y="2064.2" font-family='"Liberation Serif", serif' font-size="23.2" font-weight="bold" text-anchor="end" fill="#000" >20</text>
<line x1="1068.1" y1="2130.7" x2="1080.4" y2="2130.7" stroke="#000" stroke-width="2.8" />
<text x="1064.3" y="2138.5" font-family='"Liberation Serif", serif' font-size="23.2" font-weight="bold" text-anchor="end" fill="#000" >0</text>
<line x1="1126.0" y1="2130.7" x2="1126.0" y2="2143.6" stroke="#000" stroke-width="2.8" />
<line x1="1229.2" y1="2130.7" x2="1229.2" y2="2143.6" stroke="#000" stroke-width="2.8" />
<line x1="1331.9" y1="2130.7" x2="1331.9" y2="2143.6" stroke="#000" stroke-width="2.8" />
<text x="1126.0" y="2174.0" font-family='"Liberation Serif", serif' font-size="28.5" font-weight="bold" text-anchor="middle" fill="#000" >G0/G1</text>
<text x="1229.2" y="2174.0" font-family='"Liberation Serif", serif' font-size="28.5" font-weight="bold" text-anchor="middle" fill="#000" >S</text>
<text x="1331.9" y="2174.0" font-family='"Liberation Serif", serif' font-size="28.5" font-weight="bold" text-anchor="middle" fill="#000" >G2/M</text>
<line x1="1106.3" y1="1903.6" x2="1106.3" y2="1912.0" stroke="#06483e" stroke-width="2.7" />
<line x1="1100.0" y1="1903.6" x2="1112.7" y2="1903.6" stroke="#06483e" stroke-width="2.7" />
<rect x="1093.8" y="1911.0" width="25.1" height="219.7" fill="#0e6b60"/>
<path d="M1095.9,2130.7 L1095.9,1913.1 L1116.8,1913.1 L1116.8,2130.7" fill="none" stroke="#06483e" stroke-width="4.2"/>
<line x1="1145.2" y1="1875.6" x2="1145.2" y2="1878.9" stroke="#bf2510" stroke-width="2.7" />
<line x1="1138.8" y1="1875.6" x2="1151.5" y2="1875.6" stroke="#bf2510" stroke-width="2.7" />
<rect x="1132.5" y="1877.9" width="25.3" height="252.8" fill="#f0300f"/>
<path d="M1134.6,2130.7 L1134.6,1880.0 L1155.7,1880.0 L1155.7,2130.7" fill="none" stroke="#bf2510" stroke-width="4.2"/>
<line x1="1209.7" y1="2019.9" x2="1209.7" y2="2027.0" stroke="#06483e" stroke-width="2.7" />
<line x1="1203.4" y1="2019.9" x2="1216.0" y2="2019.9" stroke="#06483e" stroke-width="2.7" />
<rect x="1197.0" y="2026.0" width="25.4" height="104.7" fill="#0e6b60"/>
<path d="M1199.1,2130.7 L1199.1,2028.1 L1220.3,2028.1 L1220.3,2130.7" fill="none" stroke="#06483e" stroke-width="4.2"/>
<line x1="1248.2" y1="2067.2" x2="1248.2" y2="2075.2" stroke="#bf2510" stroke-width="2.7" />
<line x1="1241.9" y1="2067.2" x2="1254.5" y2="2067.2" stroke="#bf2510" stroke-width="2.7" />
<rect x="1235.5" y="2074.2" width="25.4" height="56.5" fill="#f0300f"/>
<path d="M1237.6,2130.7 L1237.6,2076.3 L1258.8,2076.3 L1258.8,2130.7" fill="none" stroke="#bf2510" stroke-width="4.2"/>
<line x1="1312.8" y1="2080.4" x2="1312.8" y2="2085.8" stroke="#06483e" stroke-width="2.7" />
<line x1="1306.5" y1="2080.4" x2="1319.1" y2="2080.4" stroke="#06483e" stroke-width="2.7" />
<rect x="1300.0" y="2084.8" width="25.6" height="45.9" fill="#0e6b60"/>
<path d="M1302.1,2130.7 L1302.1,2086.9 L1323.5,2086.9 L1323.5,2130.7" fill="none" stroke="#06483e" stroke-width="4.2"/>
<line x1="1350.8" y1="2062.4" x2="1350.8" y2="2071.5" stroke="#bf2510" stroke-width="2.7" />
<line x1="1344.5" y1="2062.4" x2="1357.2" y2="2062.4" stroke="#bf2510" stroke-width="2.7" />
<rect x="1338.0" y="2070.5" width="25.7" height="60.2" fill="#f0300f"/>
<path d="M1340.1,2130.7 L1340.1,2072.6 L1361.6,2072.6 L1361.6,2130.7" fill="none" stroke="#bf2510" stroke-width="4.2"/>
<line x1="1080.4" y1="1832.1" x2="1080.4" y2="2132.1" stroke="#000" stroke-width="2.8" />
<line x1="1068.1" y1="2130.7" x2="1378.3" y2="2130.7" stroke="#000" stroke-width="2.8" />
<line x1="1105.7" y1="1857.4" x2="1142.4" y2="1857.4" stroke="#000" stroke-width="3.7" />
<line x1="1105.7" y1="1848.5" x2="1105.7" y2="1865.8" stroke="#000" stroke-width="3.145" />
<line x1="1142.4" y1="1848.5" x2="1142.4" y2="1865.8" stroke="#000" stroke-width="3.145" />
<g fill="#000"><ellipse cx="1115.50" cy="1832.90" rx="2.97" ry="1.72" transform="rotate(-90.0 1115.50 1832.90)"/><ellipse cx="1119.02" cy="1835.46" rx="2.97" ry="1.72" transform="rotate(-18.0 1119.02 1835.46)"/><ellipse cx="1117.67" cy="1839.59" rx="2.97" ry="1.72" transform="rotate(54.0 1117.67 1839.59)"/><ellipse cx="1113.33" cy="1839.59" rx="2.97" ry="1.72" transform="rotate(126.0 1113.33 1839.59)"/><ellipse cx="1111.98" cy="1835.46" rx="2.97" ry="1.72" transform="rotate(198.0 1111.98 1835.46)"/><circle cx="1115.50" cy="1836.60" r="1.32"/></g>
<g fill="#000"><ellipse cx="1132.80" cy="1832.90" rx="2.97" ry="1.72" transform="rotate(-90.0 1132.80 1832.90)"/><ellipse cx="1136.32" cy="1835.46" rx="2.97" ry="1.72" transform="rotate(-18.0 1136.32 1835.46)"/><ellipse cx="1134.97" cy="1839.59" rx="2.97" ry="1.72" transform="rotate(54.0 1134.97 1839.59)"/><ellipse cx="1130.63" cy="1839.59" rx="2.97" ry="1.72" transform="rotate(126.0 1130.63 1839.59)"/><ellipse cx="1129.28" cy="1835.46" rx="2.97" ry="1.72" transform="rotate(198.0 1129.28 1835.46)"/><circle cx="1132.80" cy="1836.60" r="1.32"/></g>
<line x1="1207.6" y1="2008.1" x2="1249.8" y2="2008.1" stroke="#000" stroke-width="3.7" />
<line x1="1207.6" y1="2000.0" x2="1207.6" y2="2016.9" stroke="#000" stroke-width="3.145" />
<line x1="1249.8" y1="2000.0" x2="1249.8" y2="2016.9" stroke="#000" stroke-width="3.145" />
<g fill="#000"><ellipse cx="1211.90" cy="1984.30" rx="2.97" ry="1.72" transform="rotate(-90.0 1211.90 1984.30)"/><ellipse cx="1215.42" cy="1986.86" rx="2.97" ry="1.72" transform="rotate(-18.0 1215.42 1986.86)"/><ellipse cx="1214.07" cy="1990.99" rx="2.97" ry="1.72" transform="rotate(54.0 1214.07 1990.99)"/><ellipse cx="1209.73" cy="1990.99" rx="2.97" ry="1.72" transform="rotate(126.0 1209.73 1990.99)"/><ellipse cx="1208.38" cy="1986.86" rx="2.97" ry="1.72" transform="rotate(198.0 1208.38 1986.86)"/><circle cx="1211.90" cy="1988.00" r="1.32"/></g>
<g fill="#000"><ellipse cx="1229.30" cy="1984.30" rx="2.97" ry="1.72" transform="rotate(-90.0 1229.30 1984.30)"/><ellipse cx="1232.82" cy="1986.86" rx="2.97" ry="1.72" transform="rotate(-18.0 1232.82 1986.86)"/><ellipse cx="1231.47" cy="1990.99" rx="2.97" ry="1.72" transform="rotate(54.0 1231.47 1990.99)"/><ellipse cx="1227.13" cy="1990.99" rx="2.97" ry="1.72" transform="rotate(126.0 1227.13 1990.99)"/><ellipse cx="1225.78" cy="1986.86" rx="2.97" ry="1.72" transform="rotate(198.0 1225.78 1986.86)"/><circle cx="1229.30" cy="1988.00" r="1.32"/></g>
<g fill="#000"><ellipse cx="1246.70" cy="1984.30" rx="2.97" ry="1.72" transform="rotate(-90.0 1246.70 1984.30)"/><ellipse cx="1250.22" cy="1986.86" rx="2.97" ry="1.72" transform="rotate(-18.0 1250.22 1986.86)"/><ellipse cx="1248.87" cy="1990.99" rx="2.97" ry="1.72" transform="rotate(54.0 1248.87 1990.99)"/><ellipse cx="1244.53" cy="1990.99" rx="2.97" ry="1.72" transform="rotate(126.0 1244.53 1990.99)"/><ellipse cx="1243.18" cy="1986.86" rx="2.97" ry="1.72" transform="rotate(198.0 1243.18 1986.86)"/><circle cx="1246.70" cy="1988.00" r="1.32"/></g>
<line x1="1313.0" y1="2048.5" x2="1350.7" y2="2048.5" stroke="#000" stroke-width="3.7" />
<line x1="1313.0" y1="2040.0" x2="1313.0" y2="2056.9" stroke="#000" stroke-width="3.145" />
<line x1="1350.7" y1="2040.0" x2="1350.7" y2="2056.9" stroke="#000" stroke-width="3.145" />
<g fill="#000"><ellipse cx="1332.00" cy="2024.30" rx="2.97" ry="1.72" transform="rotate(-90.0 1332.00 2024.30)"/><ellipse cx="1335.52" cy="2026.86" rx="2.97" ry="1.72" transform="rotate(-18.0 1335.52 2026.86)"/><ellipse cx="1334.17" cy="2030.99" rx="2.97" ry="1.72" transform="rotate(54.0 1334.17 2030.99)"/><ellipse cx="1329.83" cy="2030.99" rx="2.97" ry="1.72" transform="rotate(126.0 1329.83 2030.99)"/><ellipse cx="1328.48" cy="2026.86" rx="2.97" ry="1.72" transform="rotate(198.0 1328.48 2026.86)"/><circle cx="1332.00" cy="2028.00" r="1.32"/></g>
<text transform="translate(1025.5,1983.5) rotate(-90)" font-family='"Liberation Serif", serif' font-size="29.0" font-weight="bold" text-anchor="middle" fill="#000">cell cycle distribution(%)</text>
<rect x="1238.0" y="1873.7" width="27.6" height="15.6" fill="#0e6b60" stroke="#06483e" stroke-width="4.2"/>
<text x="1285.4" y="1890.6" font-family='"Liberation Serif", serif' font-size="28.8" font-weight="normal" text-anchor="start" fill="#000" >NC</text>
<rect x="1238.0" y="1899.5" width="27.6" height="15.0" fill="#f0300f" stroke="#bf2510" stroke-width="4.2"/>
<text x="1285.4" y="1915.6" font-family='"Liberation Serif", serif' font-size="28.8" font-weight="normal" text-anchor="start" fill="#000" >D-2-EPS</text>
<text x="1231.2" y="1802.5" font-family='"Liberation Serif", serif' font-size="30" font-weight="bold" text-anchor="middle" fill="#000" >HT29</text>
<defs><filter id="blur4" x="-20%" y="-20%" width="140%" height="140%"><feGaussianBlur stdDeviation="4"/></filter></defs>
<text x="348.3" y="605.2" font-family='"Liberation Sans", sans-serif' font-size="25.1" font-weight="bold" text-anchor="middle">NC</text>
<text x="556" y="605.2" font-family='"Liberation Sans", sans-serif' font-size="25.1" font-weight="bold" text-anchor="middle">D-2-EPS</text>
<line x1="242" y1="617" x2="661.3" y2="617" stroke="#666" stroke-width="1.6"/>
<line x1="204.8" y1="645.5" x2="204.8" y2="1091" stroke="#777" stroke-width="1.6"/>
<text transform="translate(188.8,756.8) rotate(-90)" font-family='"Liberation Sans", sans-serif' font-size="25.4" font-weight="bold" text-anchor="middle">SW480</text>
<text transform="translate(188.8,978.3) rotate(-90)" font-family='"Liberation Sans", sans-serif' font-size="25.4" font-weight="bold" text-anchor="middle">HT29</text>
<defs><radialGradient id="pg11" cx="0.5" cy="0.5" r="0.5"><stop offset="0" stop-color="#e4e3de"/><stop offset="0.85" stop-color="#dcdbd6"/><stop offset="0.96" stop-color="#d2d1cc"/><stop offset="1" stop-color="#bebdb8"/></radialGradient><clipPath id="cpg11"><circle cx="326" cy="738" r="103.5"/></clipPath></defs>
<circle cx="326" cy="738" r="104" fill="url(#pg11)" stroke="#b0afaa" stroke-width="1.1"/>
<g clip-path="url(#cpg11)">
<g filter="url(#blur4)" transform="rotate(-17 326 738)"><path d="M222.0,659.2 Q274.0,648.8 326.0,659.2 T430.0,659.2" fill="none" stroke="#bcbbb6" stroke-width="11.5" opacity="0.34"/><path d="M222.0,699.6 Q274.0,688.9 326.0,699.6 T430.0,699.6" fill="none" stroke="#bcbbb6" stroke-width="7.1" opacity="0.35"/><path d="M222.0,741.1 Q274.0,728.8 326.0,741.1 T430.0,741.1" fill="none" stroke="#bcbbb6" stroke-width="6.6" opacity="0.31"/><path d="M222.0,772.0 Q274.0,759.5 326.0,772.0 T430.0,772.0" fill="none" stroke="#bcbbb6" stroke-width="10.2" opacity="0.26"/><path d="M222.0,825.8 Q274.0,812.1 326.0,825.8 T430.0,825.8" fill="none" stroke="#bcbbb6" stroke-width="9.9" opacity="0.37"/></g>
<circle cx="409.0" cy="770.6" r="1.0" fill="#8a80d8" opacity="0.58"/>
<circle cx="277.5" cy="706.8" r="1.0" fill="#8a80d8" opacity="0.59"/>
<circle cx="246.8" cy="759.8" r="1.1" fill="#8a80d8" opacity="0.61"/>
<circle cx="314.3" cy="784.9" r="0.9" fill="#8a80d8" opacity="0.52"/>
<circle cx="386.6" cy="721.7" r="1.6" fill="#8a80d8" opacity="0.46"/>
<circle cx="309.6" cy="754.3" r="1.5" fill="#a098e0" opacity="0.42"/>
<circle cx="315.0" cy="826.3" r="0.9" fill="#a098e0" opacity="0.40"/>
<circle cx="390.3" cy="810.5" r="1.5" fill="#8a80d8" opacity="0.42"/>
<circle cx="286.4" cy="722.5" r="1.2" fill="#8a80d8" opacity="0.70"/>
<circle cx="277.3" cy="781.6" r="1.2" fill="#8a80d8" opacity="0.40"/>
<circle cx="242.8" cy="683.2" r="1.8" fill="#8a80d8" opacity="0.46"/>
<circle cx="267.4" cy="665.5" r="0.9" fill="#8a80d8" opacity="0.46"/>
<circle cx="283.8" cy="816.0" r="1.1" fill="#8a80d8" opacity="0.42"/>
<circle cx="406.1" cy="745.8" r="1.2" fill="#a098e0" opacity="0.44"/>
<circle cx="386.5" cy="807.3" r="1.2" fill="#8a80d8" opacity="0.49"/>
<circle cx="313.9" cy="660.1" r="1.0" fill="#8a80d8" opacity="0.61"/>
<circle cx="387.7" cy="771.2" r="0.8" fill="#8a80d8" opacity="0.41"/>
<circle cx="312.1" cy="690.7" r="1.1" fill="#a098e0" opacity="0.49"/>
<circle cx="403.7" cy="773.9" r="1.0" fill="#8a80d8" opacity="0.48"/>
<circle cx="371.3" cy="742.7" r="1.1" fill="#a098e0" opacity="0.47"/>
<circle cx="245.1" cy="722.0" r="1.8" fill="#8a80d8" opacity="0.51"/>
<circle cx="270.9" cy="654.7" r="1.5" fill="#8a80d8" opacity="0.58"/>
<circle cx="282.5" cy="792.3" r="1.1" fill="#8a80d8" opacity="0.41"/>
<circle cx="317.4" cy="668.5" r="1.1" fill="#8a80d8" opacity="0.42"/>
<circle cx="396.1" cy="687.2" r="1.5" fill="#8a80d8" opacity="0.64"/>
<circle cx="302.3" cy="683.1" r="1.7" fill="#a098e0" opacity="0.68"/>
<circle cx="414.0" cy="746.1" r="1.5" fill="#a098e0" opacity="0.57"/>
<circle cx="307.7" cy="716.1" r="1.8" fill="#a098e0" opacity="0.62"/>
<circle cx="250.5" cy="695.9" r="1.2" fill="#8a80d8" opacity="0.56"/>
<circle cx="373.9" cy="767.4" r="0.8" fill="#8a80d8" opacity="0.55"/>
<circle cx="322.5" cy="834.7" r="0.8" fill="#a098e0" opacity="0.44"/>
<circle cx="327.7" cy="665.4" r="1.1" fill="#a098e0" opacity="0.55"/>
<circle cx="325.8" cy="802.2" r="1.4" fill="#8a80d8" opacity="0.66"/>
<circle cx="294.7" cy="808.4" r="0.9" fill="#a098e0" opacity="0.51"/>
<circle cx="344.7" cy="746.0" r="1.8" fill="#8a80d8" opacity="0.43"/>
<circle cx="373.2" cy="653.2" r="1.2" fill="#a098e0" opacity="0.60"/>
<circle cx="260.5" cy="672.6" r="1.1" fill="#8a80d8" opacity="0.48"/>
<circle cx="309.9" cy="819.5" r="1.2" fill="#8a80d8" opacity="0.59"/>
<circle cx="331.3" cy="694.4" r="1.1" fill="#8a80d8" opacity="0.64"/>
<circle cx="352.5" cy="759.7" r="1.3" fill="#a098e0" opacity="0.69"/>
<circle cx="281.5" cy="745.0" r="1.0" fill="#8a80d8" opacity="0.63"/>
<circle cx="328.8" cy="757.0" r="1.6" fill="#8a80d8" opacity="0.52"/>
<circle cx="408.0" cy="788.0" r="1.7" fill="#a098e0" opacity="0.44"/>
<circle cx="393.4" cy="695.2" r="1.2" fill="#a098e0" opacity="0.54"/>
<circle cx="318.0" cy="693.0" r="1.6" fill="#8a80d8" opacity="0.46"/>
<circle cx="424.9" cy="723.8" r="1.3" fill="#a098e0" opacity="0.48"/>
<circle cx="313.4" cy="737.6" r="0.8" fill="#a098e0" opacity="0.57"/>
<circle cx="395.3" cy="750.5" r="1.6" fill="#8a80d8" opacity="0.53"/>
<circle cx="291.4" cy="655.7" r="1.7" fill="#a098e0" opacity="0.44"/>
<circle cx="372.0" cy="665.5" r="1.5" fill="#a098e0" opacity="0.57"/>
<circle cx="244.5" cy="770.6" r="1.4" fill="#8a80d8" opacity="0.56"/>
<circle cx="297.5" cy="807.9" r="1.2" fill="#8a80d8" opacity="0.49"/>
<circle cx="313.1" cy="826.7" r="1.3" fill="#a098e0" opacity="0.56"/>
<circle cx="403.3" cy="751.6" r="1.8" fill="#a098e0" opacity="0.56"/>
<circle cx="355.4" cy="757.5" r="1.0" fill="#a098e0" opacity="0.52"/>
<circle cx="314.3" cy="834.2" r="1.3" fill="#8a80d8" opacity="0.50"/>
<circle cx="411.5" cy="691.0" r="1.3" fill="#8a80d8" opacity="0.46"/>
<circle cx="392.7" cy="808.5" r="1.6" fill="#8a80d8" opacity="0.41"/>
<circle cx="323.7" cy="748.7" r="1.5" fill="#8a80d8" opacity="0.59"/>
<circle cx="393.8" cy="804.0" r="1.3" fill="#a098e0" opacity="0.62"/>
<circle cx="419.6" cy="751.8" r="1.4" fill="#8a80d8" opacity="0.56"/>
<circle cx="340.6" cy="810.3" r="1.0" fill="#8a80d8" opacity="0.47"/>
<circle cx="400.4" cy="685.9" r="1.1" fill="#a098e0" opacity="0.67"/>
<circle cx="356.4" cy="821.6" r="0.9" fill="#8a80d8" opacity="0.44"/>
<circle cx="247.7" cy="772.0" r="1.7" fill="#8a80d8" opacity="0.46"/>
<circle cx="400.2" cy="789.2" r="1.4" fill="#a098e0" opacity="0.67"/>
<circle cx="291.8" cy="736.8" r="1.6" fill="#8a80d8" opacity="0.64"/>
<circle cx="327.2" cy="722.3" r="1.4" fill="#a098e0" opacity="0.44"/>
<circle cx="350.5" cy="699.6" r="1.8" fill="#8a80d8" opacity="0.57"/>
<circle cx="408.4" cy="781.7" r="0.9" fill="#a098e0" opacity="0.54"/>
<circle cx="272.7" cy="698.8" r="0.8" fill="#8a80d8" opacity="0.65"/>
<circle cx="321.4" cy="670.2" r="1.2" fill="#8a80d8" opacity="0.58"/>
<circle cx="283.0" cy="824.2" r="0.9" fill="#a098e0" opacity="0.57"/>
<circle cx="284.3" cy="802.9" r="1.6" fill="#a098e0" opacity="0.67"/>
<circle cx="361.2" cy="656.3" r="1.2" fill="#a098e0" opacity="0.66"/>
<circle cx="334.4" cy="650.0" r="1.2" fill="#8a80d8" opacity="0.42"/>
<circle cx="394.9" cy="742.6" r="1.2" fill="#8a80d8" opacity="0.47"/>
<circle cx="282.8" cy="808.1" r="1.5" fill="#8a80d8" opacity="0.56"/>
<circle cx="262.8" cy="659.4" r="1.5" fill="#a098e0" opacity="0.69"/>
<circle cx="319.6" cy="646.7" r="1.1" fill="#a098e0" opacity="0.55"/>
<circle cx="407.0" cy="743.5" r="1.1" fill="#a098e0" opacity="0.67"/>
<circle cx="396.4" cy="723.3" r="1.4" fill="#8a80d8" opacity="0.59"/>
<circle cx="303.2" cy="722.0" r="1.6" fill="#8a80d8" opacity="0.52"/>
<circle cx="387.6" cy="726.3" r="1.7" fill="#8a80d8" opacity="0.53"/>
<circle cx="282.8" cy="770.0" r="1.1" fill="#a098e0" opacity="0.54"/>
<circle cx="275.8" cy="654.7" r="1.5" fill="#8a80d8" opacity="0.40"/>
<circle cx="337.6" cy="755.4" r="1.6" fill="#a098e0" opacity="0.42"/>
<circle cx="270.6" cy="706.7" r="1.5" fill="#a098e0" opacity="0.42"/>
<circle cx="260.5" cy="747.3" r="1.8" fill="#8a80d8" opacity="0.41"/>
<circle cx="407.5" cy="685.9" r="0.9" fill="#8a80d8" opacity="0.58"/>
<circle cx="237.8" cy="763.2" r="1.0" fill="#8a80d8" opacity="0.51"/>
<circle cx="364.8" cy="784.8" r="1.2" fill="#a098e0" opacity="0.59"/>
<circle cx="323.7" cy="677.2" r="1.6" fill="#8a80d8" opacity="0.69"/>
<circle cx="363.2" cy="770.3" r="1.7" fill="#a098e0" opacity="0.48"/>
<circle cx="299.0" cy="656.5" r="1.0" fill="#a098e0" opacity="0.63"/>
<circle cx="375.9" cy="731.6" r="1.7" fill="#8a80d8" opacity="0.59"/>
<circle cx="406.7" cy="751.8" r="0.8" fill="#8a80d8" opacity="0.56"/>
<circle cx="291.5" cy="668.9" r="1.4" fill="#a098e0" opacity="0.55"/>
<circle cx="267.4" cy="740.1" r="0.9" fill="#8a80d8" opacity="0.64"/>
<circle cx="374.0" cy="660.2" r="1.6" fill="#a098e0" opacity="0.53"/>
<circle cx="264.3" cy="804.6" r="1.5" fill="#a098e0" opacity="0.49"/>
<circle cx="363.0" cy="821.9" r="1.5" fill="#8a80d8" opacity="0.54"/>
<circle cx="258.3" cy="768.8" r="1.4" fill="#a098e0" opacity="0.49"/>
<circle cx="332.4" cy="765.1" r="1.5" fill="#8a80d8" opacity="0.61"/>
<circle cx="284.5" cy="815.8" r="1.7" fill="#8a80d8" opacity="0.51"/>
<circle cx="371.2" cy="779.1" r="1.5" fill="#a098e0" opacity="0.53"/>
<circle cx="303.0" cy="788.7" r="1.2" fill="#8a80d8" opacity="0.43"/>
<circle cx="319.1" cy="724.0" r="1.4" fill="#8a80d8" opacity="0.62"/>
<circle cx="361.5" cy="790.1" r="1.4" fill="#8a80d8" opacity="0.45"/>
<circle cx="307.4" cy="830.8" r="0.8" fill="#8a80d8" opacity="0.56"/>
<circle cx="268.3" cy="657.3" r="1.6" fill="#8a80d8" opacity="0.57"/>
<circle cx="288.3" cy="802.2" r="1.1" fill="#8a80d8" opacity="0.67"/>
<circle cx="382.9" cy="810.3" r="1.5" fill="#a098e0" opacity="0.47"/>
<circle cx="238.6" cy="726.1" r="1.6" fill="#a098e0" opacity="0.51"/>
<circle cx="364.0" cy="782.1" r="1.3" fill="#8a80d8" opacity="0.61"/>
<circle cx="355.8" cy="680.6" r="1.5" fill="#8a80d8" opacity="0.64"/>
<circle cx="417.8" cy="713.1" r="1.4" fill="#a098e0" opacity="0.61"/>
<circle cx="268.5" cy="769.4" r="0.9" fill="#8a80d8" opacity="0.70"/>
<circle cx="337.7" cy="777.6" r="1.2" fill="#a098e0" opacity="0.48"/>
<circle cx="317.7" cy="669.2" r="1.1" fill="#8a80d8" opacity="0.63"/>
<circle cx="301.7" cy="744.5" r="1.4" fill="#8a80d8" opacity="0.49"/>
<circle cx="274.6" cy="706.1" r="1.4" fill="#a098e0" opacity="0.58"/>
<circle cx="317.6" cy="780.6" r="1.0" fill="#a098e0" opacity="0.59"/>
<circle cx="371.3" cy="678.4" r="1.3" fill="#a098e0" opacity="0.67"/>
<circle cx="397.9" cy="718.1" r="1.3" fill="#8a80d8" opacity="0.52"/>
<circle cx="337.0" cy="702.7" r="1.8" fill="#a098e0" opacity="0.64"/>
<circle cx="403.8" cy="675.4" r="1.7" fill="#a098e0" opacity="0.54"/>
<circle cx="372.3" cy="691.6" r="1.2" fill="#a098e0" opacity="0.44"/>
<circle cx="387.7" cy="804.6" r="1.5" fill="#a098e0" opacity="0.55"/>
<circle cx="365.3" cy="819.3" r="1.0" fill="#8a80d8" opacity="0.65"/>
<circle cx="308.8" cy="657.6" r="0.9" fill="#a098e0" opacity="0.61"/>
<circle cx="234.4" cy="712.4" r="1.3" fill="#8a80d8" opacity="0.64"/>
<circle cx="407.2" cy="790.2" r="1.6" fill="#8a80d8" opacity="0.41"/>
<circle cx="393.0" cy="714.6" r="1.8" fill="#a098e0" opacity="0.49"/>
<circle cx="244.6" cy="755.0" r="1.5" fill="#a098e0" opacity="0.42"/>
<circle cx="284.3" cy="655.0" r="1.5" fill="#8a80d8" opacity="0.60"/>
<circle cx="304.8" cy="655.6" r="1.0" fill="#8a80d8" opacity="0.54"/>
<circle cx="357.1" cy="641.2" r="1.0" fill="#8a80d8" opacity="0.49"/>
<circle cx="303.9" cy="808.7" r="1.1" fill="#a098e0" opacity="0.57"/>
<circle cx="268.9" cy="794.0" r="0.9" fill="#a098e0" opacity="0.68"/>
<circle cx="283.9" cy="812.8" r="1.6" fill="#8a80d8" opacity="0.43"/>
<circle cx="301.0" cy="711.3" r="1.0" fill="#8a80d8" opacity="0.52"/>
<circle cx="391.6" cy="779.7" r="1.0" fill="#8a80d8" opacity="0.70"/>
<circle cx="277.8" cy="812.3" r="1.6" fill="#8a80d8" opacity="0.59"/>
<circle cx="257.1" cy="798.0" r="1.1" fill="#a098e0" opacity="0.59"/>
<circle cx="293.4" cy="809.9" r="1.6" fill="#8a80d8" opacity="0.60"/>
<circle cx="319.3" cy="750.0" r="1.1" fill="#a098e0" opacity="0.43"/>
<circle cx="343.3" cy="668.1" r="1.6" fill="#8a80d8" opacity="0.48"/>
<circle cx="331.6" cy="792.8" r="1.4" fill="#8a80d8" opacity="0.57"/>
<circle cx="423.5" cy="737.0" r="1.5" fill="#8a80d8" opacity="0.57"/>
<circle cx="341.4" cy="646.6" r="0.9" fill="#a098e0" opacity="0.57"/>
<circle cx="378.2" cy="713.0" r="1.2" fill="#a098e0" opacity="0.66"/>
<circle cx="332.2" cy="824.0" r="1.4" fill="#8a80d8" opacity="0.57"/>
<circle cx="422.1" cy="733.2" r="1.6" fill="#8a80d8" opacity="0.44"/>
<circle cx="369.2" cy="705.3" r="1.0" fill="#a098e0" opacity="0.65"/>
<circle cx="392.3" cy="772.4" r="0.8" fill="#8a80d8" opacity="0.63"/>
<circle cx="391.1" cy="815.0" r="1.6" fill="#a098e0" opacity="0.58"/>
<circle cx="373.9" cy="812.0" r="1.2" fill="#8a80d8" opacity="0.44"/>
<circle cx="361.1" cy="805.5" r="1.3" fill="#a098e0" opacity="0.47"/>
<circle cx="330.9" cy="715.2" r="1.5" fill="#8a80d8" opacity="0.52"/>
<circle cx="307.8" cy="764.7" r="1.7" fill="#a098e0" opacity="0.63"/>
<circle cx="379.0" cy="652.5" r="1.7" fill="#a098e0" opacity="0.65"/>
<circle cx="398.3" cy="708.8" r="1.1" fill="#a098e0" opacity="0.53"/>
<circle cx="297.6" cy="833.3" r="1.4" fill="#a098e0" opacity="0.62"/>
<circle cx="296.5" cy="820.3" r="1.4" fill="#8a80d8" opacity="0.47"/>
<circle cx="360.7" cy="702.5" r="1.8" fill="#a098e0" opacity="0.61"/>
<circle cx="308.9" cy="784.3" r="1.2" fill="#8a80d8" opacity="0.66"/>
<circle cx="385.6" cy="675.7" r="1.2" fill="#a098e0" opacity="0.57"/>
<circle cx="254.4" cy="776.5" r="0.9" fill="#8a80d8" opacity="0.43"/>
<circle cx="291.5" cy="729.7" r="1.8" fill="#8a80d8" opacity="0.49"/>
<circle cx="333.3" cy="751.8" r="1.2" fill="#a098e0" opacity="0.64"/>
<circle cx="274.3" cy="707.2" r="0.8" fill="#8a80d8" opacity="0.54"/>
<circle cx="361.7" cy="783.0" r="1.6" fill="#a098e0" opacity="0.66"/>
<circle cx="293.0" cy="650.5" r="0.9" fill="#a098e0" opacity="0.65"/>
<circle cx="358.7" cy="799.2" r="1.7" fill="#8a80d8" opacity="0.56"/>
<circle cx="423.2" cy="723.4" r="1.5" fill="#a098e0" opacity="0.62"/>
<circle cx="391.3" cy="668.1" r="1.5" fill="#8a80d8" opacity="0.50"/>
<circle cx="249.3" cy="783.2" r="1.0" fill="#a098e0" opacity="0.44"/>
<circle cx="316.2" cy="686.6" r="1.3" fill="#a098e0" opacity="0.64"/>
<circle cx="387.4" cy="683.5" r="1.4" fill="#8a80d8" opacity="0.69"/>
<circle cx="332.5" cy="780.4" r="0.9" fill="#8a80d8" opacity="0.54"/>
<circle cx="415.2" cy="782.6" r="1.7" fill="#8a80d8" opacity="0.58"/>
<circle cx="342.6" cy="690.3" r="0.9" fill="#a098e0" opacity="0.70"/>
<circle cx="321.8" cy="695.5" r="0.8" fill="#8a80d8" opacity="0.70"/>
<circle cx="326.3" cy="650.6" r="1.2" fill="#a098e0" opacity="0.42"/>
<circle cx="406.9" cy="686.5" r="1.1" fill="#a098e0" opacity="0.63"/>
<circle cx="366.5" cy="678.8" r="1.5" fill="#8a80d8" opacity="0.58"/>
<circle cx="295.0" cy="751.3" r="1.5" fill="#a098e0" opacity="0.64"/>
<circle cx="277.1" cy="741.3" r="1.0" fill="#a098e0" opacity="0.48"/>
<circle cx="420.0" cy="770.2" r="1.2" fill="#8a80d8" opacity="0.50"/>
<circle cx="353.2" cy="664.2" r="1.3" fill="#a098e0" opacity="0.66"/>
<circle cx="360.0" cy="808.2" r="1.4" fill="#8a80d8" opacity="0.59"/>
<circle cx="297.1" cy="656.6" r="1.6" fill="#a098e0" opacity="0.63"/>
<circle cx="244.8" cy="732.6" r="1.2" fill="#8a80d8" opacity="0.45"/>
<circle cx="347.0" cy="648.5" r="0.9" fill="#a098e0" opacity="0.54"/>
<circle cx="407.6" cy="715.5" r="0.9" fill="#8a80d8" opacity="0.44"/>
<circle cx="410.4" cy="759.2" r="1.0" fill="#8a80d8" opacity="0.43"/>
<circle cx="389.7" cy="710.7" r="1.8" fill="#8a80d8" opacity="0.49"/>
<circle cx="240.6" cy="786.1" r="0.9" fill="#8a80d8" opacity="0.51"/>
<circle cx="249.4" cy="673.9" r="0.8" fill="#a098e0" opacity="0.58"/>
<circle cx="247.0" cy="702.4" r="1.7" fill="#8a80d8" opacity="0.54"/>
<circle cx="258.0" cy="800.9" r="1.6" fill="#8a80d8" opacity="0.53"/>
<circle cx="356.0" cy="653.3" r="1.3" fill="#a098e0" opacity="0.46"/>
<circle cx="273.0" cy="756.3" r="1.8" fill="#8a80d8" opacity="0.66"/>
<circle cx="382.0" cy="765.6" r="1.5" fill="#a098e0" opacity="0.68"/>
<circle cx="322.2" cy="665.4" r="1.3" fill="#8a80d8" opacity="0.48"/>
<circle cx="362.4" cy="722.7" r="1.2" fill="#8a80d8" opacity="0.62"/>
<circle cx="319.7" cy="751.0" r="1.2" fill="#8a80d8" opacity="0.66"/>
<circle cx="362.9" cy="702.7" r="1.5" fill="#a098e0" opacity="0.52"/>
<circle cx="337.9" cy="754.6" r="1.4" fill="#8a80d8" opacity="0.46"/>
<circle cx="302.0" cy="672.5" r="1.3" fill="#a098e0" opacity="0.49"/>
<circle cx="371.2" cy="695.6" r="1.6" fill="#a098e0" opacity="0.52"/>
<circle cx="340.1" cy="830.8" r="1.1" fill="#a098e0" opacity="0.58"/>
<circle cx="324.2" cy="640.2" r="1.3" fill="#8a80d8" opacity="0.64"/>
<circle cx="299.6" cy="689.7" r="1.7" fill="#8a80d8" opacity="0.57"/>
<circle cx="331.5" cy="703.2" r="1.2" fill="#a098e0" opacity="0.43"/>
<circle cx="384.7" cy="761.3" r="1.2" fill="#a098e0" opacity="0.49"/>
<circle cx="368.4" cy="716.6" r="1.0" fill="#8a80d8" opacity="0.51"/>
<circle cx="322.7" cy="665.3" r="1.7" fill="#8a80d8" opacity="0.54"/>
<circle cx="292.5" cy="824.9" r="1.7" fill="#a098e0" opacity="0.44"/>
<circle cx="312.7" cy="833.4" r="1.2" fill="#a098e0" opacity="0.54"/>
<circle cx="376.2" cy="745.5" r="1.1" fill="#a098e0" opacity="0.57"/>
<circle cx="358.3" cy="813.9" r="1.3" fill="#a098e0" opacity="0.69"/>
<circle cx="397.6" cy="710.9" r="1.6" fill="#8a80d8" opacity="0.59"/>
<circle cx="315.4" cy="802.2" r="1.6" fill="#a098e0" opacity="0.51"/>
<circle cx="338.9" cy="752.8" r="1.3" fill="#a098e0" opacity="0.55"/>
<circle cx="314.4" cy="729.0" r="1.1" fill="#a098e0" opacity="0.60"/>
<circle cx="323.0" cy="737.2" r="1.2" fill="#8a80d8" opacity="0.56"/>
<circle cx="403.6" cy="780.0" r="1.6" fill="#a098e0" opacity="0.48"/>
<circle cx="351.8" cy="667.2" r="1.0" fill="#a098e0" opacity="0.61"/>
<circle cx="375.3" cy="815.2" r="1.4" fill="#a098e0" opacity="0.64"/>
<circle cx="282.5" cy="786.2" r="1.5" fill="#a098e0" opacity="0.47"/>
<circle cx="351.2" cy="789.7" r="1.3" fill="#8a80d8" opacity="0.66"/>
<circle cx="394.7" cy="677.9" r="1.1" fill="#a098e0" opacity="0.55"/>
<circle cx="311.4" cy="724.0" r="1.2" fill="#a098e0" opacity="0.42"/>
<circle cx="346.7" cy="669.2" r="1.2" fill="#a098e0" opacity="0.51"/>
<circle cx="352.7" cy="704.0" r="1.0" fill="#8a80d8" opacity="0.57"/>
<circle cx="265.3" cy="678.8" r="1.6" fill="#8a80d8" opacity="0.44"/>
<circle cx="335.8" cy="819.9" r="1.0" fill="#8a80d8" opacity="0.54"/>
<circle cx="406.6" cy="698.5" r="1.1" fill="#a098e0" opacity="0.53"/>
<circle cx="384.1" cy="712.2" r="1.8" fill="#8a80d8" opacity="0.45"/>
<circle cx="358.6" cy="826.3" r="1.2" fill="#8a80d8" opacity="0.52"/>
<circle cx="382.7" cy="665.5" r="1.0" fill="#8a80d8" opacity="0.49"/>
<circle cx="306.6" cy="828.3" r="1.2" fill="#a098e0" opacity="0.63"/>
<circle cx="304.3" cy="678.9" r="1.3" fill="#8a80d8" opacity="0.53"/>
<circle cx="385.9" cy="692.5" r="1.7" fill="#a098e0" opacity="0.44"/>
<circle cx="313.2" cy="732.4" r="0.9" fill="#a098e0" opacity="0.48"/>
<circle cx="279.4" cy="790.3" r="1.1" fill="#8a80d8" opacity="0.45"/>
<circle cx="280.2" cy="654.3" r="0.8" fill="#a098e0" opacity="0.55"/>
<circle cx="356.5" cy="704.4" r="1.3" fill="#a098e0" opacity="0.51"/>
<circle cx="342.5" cy="811.5" r="1.4" fill="#a098e0" opacity="0.48"/>
<circle cx="419.7" cy="734.6" r="1.2" fill="#8a80d8" opacity="0.45"/>
<circle cx="384.3" cy="791.9" r="0.9" fill="#a098e0" opacity="0.41"/>
<circle cx="301.3" cy="743.4" r="1.7" fill="#8a80d8" opacity="0.69"/>
<circle cx="358.9" cy="655.1" r="1.6" fill="#a098e0" opacity="0.52"/>
<circle cx="336.2" cy="646.8" r="1.8" fill="#8a80d8" opacity="0.68"/>
<circle cx="248.4" cy="788.3" r="1.7" fill="#8a80d8" opacity="0.40"/>
<circle cx="312.6" cy="655.5" r="1.3" fill="#a098e0" opacity="0.64"/>
<circle cx="277.0" cy="802.0" r="1.1" fill="#a098e0" opacity="0.58"/>
<circle cx="345.8" cy="780.2" r="0.8" fill="#8a80d8" opacity="0.56"/>
<circle cx="359.4" cy="764.2" r="1.4" fill="#3222b6" opacity="0.88"/>
<circle cx="407.1" cy="765.6" r="1.3" fill="#24169a" opacity="0.85"/>
<circle cx="304.0" cy="724.2" r="2.0" fill="#3222b6" opacity="0.91"/>
<circle cx="286.4" cy="763.8" r="2.2" fill="#24169a" opacity="0.97"/>
<circle cx="401.1" cy="697.3" r="2.4" fill="#3222b6" opacity="0.93"/>
<circle cx="276.6" cy="657.3" r="2.5" fill="#2a1aa8" opacity="0.88"/>
<circle cx="384.9" cy="663.4" r="2.1" fill="#2a1aa8" opacity="0.87"/>
<circle cx="245.9" cy="772.0" r="1.9" fill="#2c1cac" opacity="0.93"/>
<circle cx="397.6" cy="757.6" r="2.5" fill="#2c1cac" opacity="0.92"/>
<circle cx="396.7" cy="705.6" r="1.4" fill="#2c1cac" opacity="0.90"/>
<circle cx="356.1" cy="811.7" r="1.9" fill="#2c1cac" opacity="0.86"/>
<circle cx="395.9" cy="685.4" r="1.4" fill="#24169a" opacity="0.98"/>
<circle cx="372.7" cy="652.2" r="2.3" fill="#3222b6" opacity="1.00"/>
<circle cx="302.5" cy="642.4" r="1.6" fill="#3222b6" opacity="0.92"/>
<circle cx="357.2" cy="826.5" r="1.6" fill="#24169a" opacity="0.86"/>
<circle cx="236.7" cy="743.2" r="1.5" fill="#2c1cac" opacity="0.98"/>
<circle cx="388.0" cy="696.2" r="2.3" fill="#24169a" opacity="0.97"/>
<circle cx="378.6" cy="712.8" r="2.5" fill="#24169a" opacity="0.98"/>
<circle cx="265.0" cy="789.4" r="2.4" fill="#2c1cac" opacity="0.99"/>
<circle cx="353.3" cy="835.9" r="2.1" fill="#24169a" opacity="0.93"/>
<circle cx="351.2" cy="681.3" r="2.2" fill="#3222b6" opacity="0.95"/>
<circle cx="330.7" cy="692.1" r="1.4" fill="#2c1cac" opacity="0.86"/>
<circle cx="297.4" cy="780.6" r="2.1" fill="#3222b6" opacity="0.88"/>
<circle cx="318.8" cy="654.4" r="1.7" fill="#3222b6" opacity="0.97"/>
<circle cx="323.3" cy="764.8" r="1.7" fill="#2c1cac" opacity="0.89"/>
<circle cx="390.7" cy="782.0" r="1.9" fill="#2c1cac" opacity="0.89"/>
<circle cx="363.5" cy="699.4" r="1.6" fill="#2a1aa8" opacity="0.95"/>
<circle cx="251.8" cy="801.2" r="2.2" fill="#24169a" opacity="0.92"/>
<circle cx="309.2" cy="822.6" r="1.8" fill="#3222b6" opacity="0.89"/>
<circle cx="328.7" cy="820.7" r="1.8" fill="#24169a" opacity="0.94"/>
<circle cx="314.9" cy="799.9" r="1.3" fill="#2a1aa8" opacity="0.93"/>
<circle cx="410.2" cy="790.3" r="1.7" fill="#3222b6" opacity="0.85"/>
<circle cx="410.1" cy="732.7" r="2.3" fill="#2a1aa8" opacity="0.95"/>
<circle cx="339.0" cy="761.8" r="1.9" fill="#2c1cac" opacity="0.95"/>
<circle cx="424.3" cy="723.4" r="2.6" fill="#2c1cac" opacity="0.92"/>
<circle cx="383.2" cy="785.3" r="1.3" fill="#2c1cac" opacity="0.95"/>
<circle cx="229.2" cy="727.1" r="2.0" fill="#2c1cac" opacity="0.91"/>
<circle cx="321.6" cy="652.6" r="1.3" fill="#24169a" opacity="0.99"/>
<circle cx="400.3" cy="688.2" r="2.1" fill="#2c1cac" opacity="0.97"/>
<circle cx="413.1" cy="746.7" r="2.4" fill="#2a1aa8" opacity="0.87"/>
<circle cx="400.6" cy="725.9" r="2.3" fill="#2a1aa8" opacity="0.90"/>
<circle cx="293.6" cy="723.3" r="1.4" fill="#2a1aa8" opacity="0.93"/>
<circle cx="327.5" cy="797.9" r="2.0" fill="#2c1cac" opacity="0.86"/>
<circle cx="262.7" cy="713.8" r="1.8" fill="#2a1aa8" opacity="0.97"/>
<circle cx="290.8" cy="722.9" r="1.4" fill="#2a1aa8" opacity="0.91"/>
<circle cx="358.9" cy="666.2" r="2.2" fill="#2c1cac" opacity="0.87"/>
<circle cx="339.1" cy="748.9" r="1.6" fill="#2a1aa8" opacity="0.91"/>
<circle cx="280.5" cy="727.3" r="2.1" fill="#2c1cac" opacity="0.90"/>
<circle cx="387.8" cy="684.7" r="2.5" fill="#2a1aa8" opacity="0.91"/>
<circle cx="321.5" cy="824.6" r="1.7" fill="#2c1cac" opacity="0.97"/>
<circle cx="285.1" cy="808.2" r="1.4" fill="#3222b6" opacity="0.98"/>
<circle cx="240.8" cy="711.8" r="1.8" fill="#24169a" opacity="0.95"/>
<circle cx="314.5" cy="752.0" r="2.5" fill="#2c1cac" opacity="0.96"/>
<circle cx="387.4" cy="785.6" r="2.2" fill="#3222b6" opacity="0.99"/>
<circle cx="273.0" cy="795.2" r="1.6" fill="#2a1aa8" opacity="0.90"/>
<circle cx="327.7" cy="665.5" r="1.3" fill="#2a1aa8" opacity="0.88"/>
<circle cx="411.1" cy="706.6" r="2.1" fill="#3222b6" opacity="0.91"/>
<circle cx="397.5" cy="780.6" r="2.6" fill="#3222b6" opacity="0.90"/>
<circle cx="347.8" cy="649.3" r="2.1" fill="#2a1aa8" opacity="1.00"/>
<circle cx="380.8" cy="769.9" r="1.4" fill="#3222b6" opacity="0.95"/>
<circle cx="327.7" cy="637.9" r="2.0" fill="#2a1aa8" opacity="0.97"/>
<circle cx="284.8" cy="696.6" r="2.5" fill="#2a1aa8" opacity="0.88"/>
<circle cx="385.5" cy="810.0" r="2.3" fill="#2c1cac" opacity="0.97"/>
<circle cx="312.7" cy="643.4" r="2.4" fill="#3222b6" opacity="0.95"/>
<circle cx="351.0" cy="761.0" r="1.6" fill="#2a1aa8" opacity="0.99"/>
<circle cx="262.7" cy="723.3" r="2.4" fill="#2a1aa8" opacity="0.87"/>
<circle cx="377.3" cy="699.0" r="2.5" fill="#24169a" opacity="0.95"/>
<circle cx="299.7" cy="672.2" r="1.7" fill="#2c1cac" opacity="0.87"/>
<circle cx="290.7" cy="716.9" r="1.5" fill="#3222b6" opacity="0.97"/>
<circle cx="346.2" cy="679.5" r="2.2" fill="#2c1cac" opacity="0.94"/>
<circle cx="273.8" cy="707.6" r="1.9" fill="#2c1cac" opacity="0.90"/>
<circle cx="322.6" cy="786.6" r="2.2" fill="#2a1aa8" opacity="0.89"/>
<circle cx="256.2" cy="805.6" r="2.2" fill="#2c1cac" opacity="0.99"/>
<circle cx="257.7" cy="779.1" r="1.9" fill="#2c1cac" opacity="0.92"/>
<circle cx="396.1" cy="790.5" r="1.6" fill="#24169a" opacity="0.86"/>
<circle cx="253.9" cy="713.8" r="1.7" fill="#24169a" opacity="0.92"/>
<circle cx="306.6" cy="795.0" r="1.5" fill="#24169a" opacity="0.88"/>
<circle cx="269.1" cy="691.0" r="1.4" fill="#24169a" opacity="0.94"/>
<circle cx="289.9" cy="648.0" r="1.7" fill="#3222b6" opacity="0.94"/>
<circle cx="402.9" cy="801.9" r="1.7" fill="#24169a" opacity="0.93"/>
<circle cx="325.0" cy="792.6" r="1.4" fill="#2c1cac" opacity="0.86"/>
<circle cx="416.3" cy="704.5" r="1.4" fill="#2c1cac" opacity="0.87"/>
<circle cx="253.9" cy="678.8" r="2.0" fill="#24169a" opacity="0.93"/>
<circle cx="341.3" cy="642.5" r="1.6" fill="#2a1aa8" opacity="0.91"/>
<circle cx="247.4" cy="716.5" r="1.9" fill="#3222b6" opacity="0.90"/>
<circle cx="315.5" cy="818.0" r="2.2" fill="#24169a" opacity="0.86"/>
<circle cx="394.5" cy="704.0" r="2.2" fill="#3222b6" opacity="0.99"/>
<circle cx="391.8" cy="799.6" r="2.6" fill="#3222b6" opacity="0.90"/>
<circle cx="274.7" cy="651.5" r="1.4" fill="#2c1cac" opacity="0.94"/>
<circle cx="377.3" cy="672.1" r="2.3" fill="#2a1aa8" opacity="0.92"/>
<circle cx="315.9" cy="710.2" r="2.1" fill="#24169a" opacity="0.98"/>
<circle cx="353.6" cy="811.6" r="2.2" fill="#2a1aa8" opacity="0.93"/>
<circle cx="376.0" cy="794.7" r="1.6" fill="#3222b6" opacity="0.88"/>
<circle cx="288.1" cy="728.0" r="2.4" fill="#24169a" opacity="0.98"/>
<circle cx="311.7" cy="738.9" r="2.0" fill="#3222b6" opacity="0.99"/>
<circle cx="412.1" cy="715.6" r="1.2" fill="#2a1aa8" opacity="0.89"/>
<circle cx="240.0" cy="789.5" r="1.4" fill="#24169a" opacity="0.95"/>
<circle cx="329.6" cy="661.2" r="2.3" fill="#2a1aa8" opacity="0.91"/>
<circle cx="288.9" cy="766.6" r="1.5" fill="#3222b6" opacity="0.90"/>
<circle cx="327.6" cy="725.8" r="1.6" fill="#3222b6" opacity="0.93"/>
<circle cx="246.4" cy="761.2" r="1.5" fill="#2c1cac" opacity="0.88"/>
<circle cx="245.0" cy="748.8" r="2.3" fill="#3222b6" opacity="0.88"/>
<circle cx="261.0" cy="693.5" r="2.0" fill="#2a1aa8" opacity="0.88"/>
<circle cx="299.4" cy="786.6" r="2.2" fill="#2a1aa8" opacity="0.97"/>
<circle cx="328.4" cy="709.8" r="1.5" fill="#24169a" opacity="0.86"/>
<circle cx="307.9" cy="705.2" r="1.3" fill="#2a1aa8" opacity="1.00"/>
<circle cx="335.2" cy="702.0" r="2.3" fill="#3222b6" opacity="1.00"/>
<circle cx="237.2" cy="701.4" r="2.5" fill="#2a1aa8" opacity="0.92"/>
<circle cx="314.1" cy="738.1" r="1.7" fill="#2a1aa8" opacity="0.91"/>
<circle cx="340.1" cy="760.1" r="1.9" fill="#24169a" opacity="0.99"/>
<circle cx="387.2" cy="813.7" r="2.2" fill="#2a1aa8" opacity="0.88"/>
<circle cx="395.0" cy="675.3" r="2.2" fill="#2c1cac" opacity="0.91"/>
<circle cx="384.7" cy="815.1" r="2.4" fill="#24169a" opacity="0.96"/>
<circle cx="310.7" cy="769.9" r="2.0" fill="#3222b6" opacity="0.93"/>
<circle cx="331.9" cy="662.2" r="1.9" fill="#2a1aa8" opacity="0.86"/>
<circle cx="315.8" cy="764.0" r="2.3" fill="#24169a" opacity="0.87"/>
<circle cx="305.0" cy="811.1" r="2.3" fill="#2c1cac" opacity="0.90"/>
<circle cx="394.4" cy="755.1" r="1.4" fill="#2c1cac" opacity="1.00"/>
<circle cx="248.5" cy="793.9" r="1.3" fill="#24169a" opacity="0.86"/>
<circle cx="414.8" cy="715.9" r="1.2" fill="#2c1cac" opacity="0.97"/>
<circle cx="246.4" cy="755.7" r="1.5" fill="#2a1aa8" opacity="0.87"/>
<circle cx="359.8" cy="690.2" r="2.0" fill="#2c1cac" opacity="0.89"/>
<circle cx="351.5" cy="770.3" r="2.0" fill="#2c1cac" opacity="0.91"/>
<circle cx="374.5" cy="722.0" r="1.9" fill="#24169a" opacity="0.92"/>
<circle cx="335.2" cy="641.7" r="2.5" fill="#3222b6" opacity="0.89"/>
<circle cx="363.9" cy="725.0" r="1.6" fill="#2a1aa8" opacity="0.95"/>
<circle cx="392.9" cy="794.9" r="2.2" fill="#2c1cac" opacity="0.95"/>
<circle cx="262.1" cy="738.9" r="2.4" fill="#2c1cac" opacity="0.86"/>
<circle cx="400.7" cy="768.5" r="1.4" fill="#2a1aa8" opacity="0.89"/>
<circle cx="335.1" cy="710.1" r="1.5" fill="#2c1cac" opacity="0.97"/>
<circle cx="230.2" cy="735.6" r="1.8" fill="#2a1aa8" opacity="0.99"/>
<circle cx="308.3" cy="805.8" r="2.4" fill="#3222b6" opacity="0.99"/>
<circle cx="247.0" cy="765.8" r="1.6" fill="#24169a" opacity="0.95"/>
<circle cx="357.1" cy="658.8" r="2.3" fill="#24169a" opacity="0.87"/>
<circle cx="408.0" cy="761.4" r="2.3" fill="#3222b6" opacity="0.92"/>
<circle cx="259.0" cy="786.8" r="2.5" fill="#2a1aa8" opacity="1.00"/>
<circle cx="313.8" cy="787.9" r="1.7" fill="#3222b6" opacity="0.88"/>
<circle cx="413.4" cy="729.7" r="2.1" fill="#24169a" opacity="0.96"/>
<circle cx="270.3" cy="774.6" r="1.8" fill="#2a1aa8" opacity="0.94"/>
<circle cx="245.5" cy="742.1" r="1.7" fill="#3222b6" opacity="0.86"/>
<circle cx="396.7" cy="728.7" r="1.5" fill="#2a1aa8" opacity="0.95"/>
<circle cx="317.9" cy="794.1" r="1.5" fill="#3222b6" opacity="0.95"/>
<circle cx="378.0" cy="712.4" r="2.5" fill="#3222b6" opacity="0.93"/>
<circle cx="271.9" cy="750.4" r="1.3" fill="#2a1aa8" opacity="0.89"/>
<circle cx="394.7" cy="753.5" r="2.4" fill="#2a1aa8" opacity="0.92"/>
<circle cx="341.8" cy="785.9" r="2.0" fill="#24169a" opacity="0.92"/>
<circle cx="382.8" cy="722.9" r="1.6" fill="#2c1cac" opacity="0.88"/>
<circle cx="403.6" cy="693.1" r="1.3" fill="#2c1cac" opacity="0.91"/>
<circle cx="243.1" cy="708.1" r="2.1" fill="#3222b6" opacity="0.94"/>
<circle cx="335.5" cy="743.8" r="1.5" fill="#2a1aa8" opacity="0.94"/>
<circle cx="349.0" cy="641.4" r="2.0" fill="#3222b6" opacity="0.89"/>
<circle cx="345.2" cy="745.3" r="1.3" fill="#2a1aa8" opacity="0.99"/>
<circle cx="367.9" cy="709.4" r="2.0" fill="#2a1aa8" opacity="0.89"/>
<circle cx="372.3" cy="786.0" r="1.8" fill="#24169a" opacity="0.91"/>
<circle cx="263.8" cy="682.7" r="1.3" fill="#24169a" opacity="0.89"/>
<circle cx="278.5" cy="780.9" r="2.2" fill="#2c1cac" opacity="0.94"/>
<circle cx="323.3" cy="688.1" r="2.6" fill="#3222b6" opacity="0.99"/>
<circle cx="383.9" cy="746.0" r="2.4" fill="#2c1cac" opacity="0.96"/>
<circle cx="369.2" cy="747.3" r="1.3" fill="#3222b6" opacity="0.92"/>
<circle cx="262.2" cy="757.4" r="1.6" fill="#2a1aa8" opacity="0.91"/>
<circle cx="240.8" cy="762.7" r="1.9" fill="#2c1cac" opacity="0.95"/>
<circle cx="348.4" cy="669.9" r="2.5" fill="#2a1aa8" opacity="0.96"/>
<circle cx="407.6" cy="711.4" r="2.1" fill="#2c1cac" opacity="0.92"/>
<circle cx="332.1" cy="690.4" r="2.0" fill="#3222b6" opacity="0.93"/>
<circle cx="274.3" cy="814.6" r="1.8" fill="#2a1aa8" opacity="0.94"/>
<circle cx="389.6" cy="735.5" r="1.5" fill="#2c1cac" opacity="0.86"/>
<circle cx="373.7" cy="660.0" r="1.7" fill="#3222b6" opacity="0.96"/>
<circle cx="311.9" cy="689.4" r="2.0" fill="#24169a" opacity="1.00"/>
<circle cx="282.5" cy="823.6" r="2.2" fill="#2a1aa8" opacity="0.89"/>
<circle cx="252.7" cy="740.2" r="1.4" fill="#2c1cac" opacity="0.95"/>
<circle cx="246.6" cy="781.6" r="1.4" fill="#2a1aa8" opacity="0.92"/>
<circle cx="235.0" cy="695.6" r="2.5" fill="#3222b6" opacity="0.91"/>
<circle cx="254.0" cy="716.6" r="1.4" fill="#3222b6" opacity="0.97"/>
<circle cx="292.8" cy="779.0" r="2.0" fill="#2a1aa8" opacity="0.93"/>
<circle cx="341.3" cy="675.7" r="2.1" fill="#24169a" opacity="0.88"/>
<circle cx="261.1" cy="662.5" r="1.2" fill="#24169a" opacity="0.89"/>
<circle cx="408.8" cy="752.8" r="2.3" fill="#3222b6" opacity="0.88"/>
<circle cx="282.1" cy="810.1" r="2.4" fill="#24169a" opacity="0.98"/>
<circle cx="340.6" cy="729.7" r="2.3" fill="#3222b6" opacity="0.94"/>
<circle cx="334.1" cy="785.0" r="2.1" fill="#24169a" opacity="0.95"/>
<circle cx="393.8" cy="679.5" r="1.4" fill="#24169a" opacity="0.99"/>
<circle cx="300.4" cy="771.0" r="2.2" fill="#24169a" opacity="0.97"/>
<circle cx="233.6" cy="750.2" r="1.3" fill="#2c1cac" opacity="0.96"/>
<circle cx="412.5" cy="773.9" r="2.4" fill="#2a1aa8" opacity="0.86"/>
<circle cx="410.0" cy="729.9" r="2.0" fill="#2c1cac" opacity="0.86"/>
<circle cx="301.3" cy="666.7" r="1.4" fill="#3222b6" opacity="0.86"/>
<circle cx="404.4" cy="765.5" r="2.3" fill="#24169a" opacity="0.93"/>
<circle cx="326.4" cy="798.5" r="1.6" fill="#3222b6" opacity="0.85"/>
<circle cx="356.5" cy="795.5" r="1.4" fill="#24169a" opacity="0.98"/>
<circle cx="298.6" cy="804.8" r="2.4" fill="#2c1cac" opacity="0.95"/>
<circle cx="276.0" cy="779.3" r="1.9" fill="#2c1cac" opacity="0.92"/>
<circle cx="359.1" cy="642.8" r="2.4" fill="#3222b6" opacity="0.85"/>
<circle cx="331.2" cy="720.8" r="2.1" fill="#3222b6" opacity="0.93"/>
<circle cx="235.2" cy="704.1" r="1.8" fill="#3222b6" opacity="0.96"/>
<circle cx="265.9" cy="717.3" r="2.4" fill="#24169a" opacity="0.86"/>
<circle cx="230.3" cy="711.2" r="1.9" fill="#3222b6" opacity="0.86"/>
<circle cx="383.9" cy="721.2" r="1.9" fill="#2a1aa8" opacity="0.85"/>
<circle cx="271.4" cy="672.4" r="1.4" fill="#2c1cac" opacity="0.94"/>
<circle cx="320.0" cy="714.9" r="1.3" fill="#24169a" opacity="0.95"/>
<circle cx="261.1" cy="719.8" r="1.7" fill="#2a1aa8" opacity="0.85"/>
<circle cx="249.0" cy="679.0" r="1.5" fill="#3222b6" opacity="0.90"/>
<circle cx="386.6" cy="782.8" r="2.1" fill="#3222b6" opacity="0.88"/>
<circle cx="350.2" cy="779.2" r="1.7" fill="#24169a" opacity="0.97"/>
<circle cx="391.6" cy="681.2" r="2.1" fill="#3222b6" opacity="0.97"/>
<circle cx="289.2" cy="816.7" r="1.4" fill="#2a1aa8" opacity="0.99"/>
<circle cx="259.2" cy="798.5" r="2.4" fill="#3222b6" opacity="0.91"/>
<circle cx="289.4" cy="684.2" r="1.2" fill="#3222b6" opacity="0.89"/>
<circle cx="325.7" cy="767.1" r="2.2" fill="#2c1cac" opacity="0.89"/>
<circle cx="409.8" cy="727.3" r="2.1" fill="#2c1cac" opacity="0.99"/>
<circle cx="318.8" cy="742.5" r="2.0" fill="#2a1aa8" opacity="0.93"/>
<circle cx="401.2" cy="729.9" r="1.7" fill="#3222b6" opacity="0.91"/>
<circle cx="263.0" cy="687.3" r="1.5" fill="#2a1aa8" opacity="0.92"/>
<circle cx="331.3" cy="813.6" r="1.5" fill="#2a1aa8" opacity="0.86"/>
<circle cx="332.8" cy="755.1" r="1.9" fill="#2c1cac" opacity="0.94"/>
<circle cx="310.8" cy="651.3" r="1.3" fill="#2a1aa8" opacity="0.87"/>
<circle cx="345.2" cy="741.5" r="2.4" fill="#2c1cac" opacity="0.87"/>
<circle cx="305.4" cy="769.4" r="2.6" fill="#2a1aa8" opacity="0.94"/>
<circle cx="285.3" cy="751.1" r="1.8" fill="#2a1aa8" opacity="0.95"/>
<circle cx="285.6" cy="728.8" r="1.7" fill="#24169a" opacity="0.91"/>
<circle cx="357.3" cy="739.1" r="1.6" fill="#2a1aa8" opacity="0.88"/>
<circle cx="333.4" cy="731.7" r="2.0" fill="#2c1cac" opacity="0.89"/>
<circle cx="369.9" cy="807.6" r="2.3" fill="#3222b6" opacity="0.99"/>
<circle cx="318.0" cy="830.2" r="1.6" fill="#24169a" opacity="0.96"/>
<circle cx="401.1" cy="699.6" r="1.5" fill="#2c1cac" opacity="0.98"/>
<circle cx="278.7" cy="720.1" r="1.4" fill="#2c1cac" opacity="0.98"/>
<circle cx="401.9" cy="717.9" r="2.5" fill="#3222b6" opacity="1.00"/>
<circle cx="405.2" cy="717.9" r="1.4" fill="#2c1cac" opacity="0.92"/>
<circle cx="272.4" cy="658.5" r="1.8" fill="#3222b6" opacity="0.88"/>
<circle cx="318.9" cy="800.5" r="2.1" fill="#2a1aa8" opacity="0.89"/>
<circle cx="357.0" cy="816.1" r="2.4" fill="#24169a" opacity="0.91"/>
<circle cx="390.8" cy="795.2" r="2.2" fill="#3222b6" opacity="0.95"/>
<circle cx="396.8" cy="750.1" r="1.8" fill="#24169a" opacity="0.97"/>
<circle cx="258.3" cy="749.1" r="2.1" fill="#3222b6" opacity="0.90"/>
<circle cx="323.0" cy="681.7" r="1.8" fill="#24169a" opacity="0.99"/>
<circle cx="395.5" cy="808.1" r="2.0" fill="#2a1aa8" opacity="0.91"/>
<circle cx="351.3" cy="808.1" r="2.1" fill="#3222b6" opacity="1.00"/>
<circle cx="401.6" cy="755.3" r="1.8" fill="#3222b6" opacity="0.95"/>
<circle cx="261.2" cy="805.2" r="1.4" fill="#2a1aa8" opacity="0.92"/>
<circle cx="380.6" cy="665.5" r="1.4" fill="#3222b6" opacity="0.87"/>
<circle cx="274.8" cy="813.9" r="1.4" fill="#3222b6" opacity="0.98"/>
<circle cx="376.2" cy="679.7" r="2.1" fill="#3222b6" opacity="0.89"/>
<circle cx="247.3" cy="753.8" r="1.2" fill="#2c1cac" opacity="0.98"/>
<circle cx="379.2" cy="818.2" r="1.6" fill="#24169a" opacity="0.90"/>
<circle cx="356.4" cy="730.0" r="2.2" fill="#2a1aa8" opacity="0.92"/>
<circle cx="254.7" cy="793.7" r="2.5" fill="#2c1cac" opacity="0.99"/>
<circle cx="407.5" cy="783.3" r="1.4" fill="#2c1cac" opacity="0.93"/>
<circle cx="233.5" cy="771.9" r="2.0" fill="#2a1aa8" opacity="0.94"/>
<circle cx="307.2" cy="802.6" r="1.7" fill="#24169a" opacity="0.96"/>
<circle cx="375.8" cy="799.9" r="1.4" fill="#2a1aa8" opacity="0.98"/>
<circle cx="314.4" cy="715.2" r="1.5" fill="#2c1cac" opacity="0.88"/>
<circle cx="377.0" cy="754.1" r="2.2" fill="#2c1cac" opacity="0.97"/>
<circle cx="282.2" cy="676.1" r="1.9" fill="#24169a" opacity="0.97"/>
<circle cx="283.4" cy="739.4" r="1.6" fill="#2c1cac" opacity="0.88"/>
<circle cx="350.3" cy="725.4" r="2.5" fill="#24169a" opacity="0.90"/>
<circle cx="352.7" cy="645.9" r="1.3" fill="#24169a" opacity="0.87"/>
<circle cx="391.0" cy="664.2" r="1.5" fill="#3222b6" opacity="0.98"/>
<circle cx="328.4" cy="789.6" r="2.1" fill="#24169a" opacity="0.92"/>
<circle cx="363.5" cy="805.8" r="2.4" fill="#2c1cac" opacity="0.98"/>
<circle cx="365.8" cy="758.9" r="1.5" fill="#24169a" opacity="0.87"/>
<circle cx="266.9" cy="687.1" r="2.3" fill="#2c1cac" opacity="0.91"/>
<circle cx="273.8" cy="770.9" r="1.7" fill="#3222b6" opacity="0.90"/>
<circle cx="354.5" cy="649.7" r="2.1" fill="#3222b6" opacity="0.91"/>
<circle cx="305.8" cy="784.4" r="1.3" fill="#24169a" opacity="0.99"/>
<circle cx="372.0" cy="779.6" r="1.4" fill="#2a1aa8" opacity="0.93"/>
<circle cx="384.5" cy="777.5" r="1.3" fill="#2c1cac" opacity="0.99"/>
<circle cx="359.6" cy="646.6" r="1.6" fill="#2c1cac" opacity="0.85"/>
<circle cx="284.4" cy="818.2" r="1.5" fill="#2a1aa8" opacity="0.91"/>
<circle cx="236.3" cy="706.3" r="1.5" fill="#2c1cac" opacity="0.94"/>
<circle cx="309.4" cy="747.0" r="1.7" fill="#24169a" opacity="0.90"/>
<circle cx="242.1" cy="695.7" r="1.4" fill="#2a1aa8" opacity="0.88"/>
<circle cx="357.0" cy="802.6" r="2.1" fill="#3222b6" opacity="1.00"/>
<circle cx="418.0" cy="712.2" r="2.3" fill="#2a1aa8" opacity="0.92"/>
<circle cx="371.1" cy="807.1" r="1.9" fill="#2c1cac" opacity="0.97"/>
<circle cx="251.7" cy="678.1" r="2.4" fill="#2c1cac" opacity="0.86"/>
<circle cx="366.6" cy="802.4" r="2.5" fill="#3222b6" opacity="0.87"/>
<circle cx="255.0" cy="702.3" r="2.1" fill="#3222b6" opacity="0.87"/>
<circle cx="260.8" cy="741.1" r="1.7" fill="#24169a" opacity="0.86"/>
<circle cx="251.6" cy="690.2" r="2.1" fill="#2c1cac" opacity="0.90"/>
<circle cx="389.8" cy="755.1" r="1.3" fill="#2c1cac" opacity="0.87"/>
<circle cx="247.5" cy="721.5" r="2.0" fill="#2a1aa8" opacity="0.99"/>
<circle cx="269.0" cy="679.9" r="1.9" fill="#2c1cac" opacity="0.88"/>
<circle cx="410.2" cy="702.9" r="1.5" fill="#2a1aa8" opacity="0.90"/>
<circle cx="407.0" cy="790.0" r="1.2" fill="#24169a" opacity="0.99"/>
<circle cx="373.2" cy="670.3" r="2.0" fill="#3222b6" opacity="0.92"/>
<circle cx="278.7" cy="788.2" r="1.8" fill="#3222b6" opacity="1.00"/>
<circle cx="286.9" cy="731.6" r="2.0" fill="#2a1aa8" opacity="0.93"/>
<circle cx="339.2" cy="819.4" r="1.7" fill="#2a1aa8" opacity="0.90"/>
<circle cx="362.7" cy="780.7" r="2.0" fill="#2c1cac" opacity="0.90"/>
<circle cx="270.7" cy="758.3" r="2.3" fill="#24169a" opacity="0.96"/>
<circle cx="336.9" cy="765.0" r="1.6" fill="#2a1aa8" opacity="0.96"/>
<circle cx="284.4" cy="791.6" r="1.9" fill="#3222b6" opacity="0.99"/>
<circle cx="280.2" cy="807.1" r="1.9" fill="#2a1aa8" opacity="0.88"/>
<circle cx="341.2" cy="695.5" r="1.4" fill="#3222b6" opacity="0.99"/>
<circle cx="287.9" cy="820.4" r="1.3" fill="#2c1cac" opacity="0.98"/>
<circle cx="321.0" cy="760.1" r="1.6" fill="#2c1cac" opacity="0.91"/>
<circle cx="241.4" cy="787.6" r="1.8" fill="#2c1cac" opacity="0.96"/>
<circle cx="370.4" cy="756.6" r="1.3" fill="#2c1cac" opacity="0.89"/>
<circle cx="231.8" cy="714.8" r="1.7" fill="#2c1cac" opacity="0.95"/>
<circle cx="275.2" cy="787.1" r="1.6" fill="#2a1aa8" opacity="0.85"/>
<circle cx="329.1" cy="777.9" r="2.3" fill="#2a1aa8" opacity="0.96"/>
<circle cx="252.8" cy="721.2" r="1.4" fill="#2c1cac" opacity="0.87"/>
<circle cx="250.8" cy="741.2" r="1.7" fill="#3222b6" opacity="0.93"/>
<circle cx="398.5" cy="681.0" r="2.2" fill="#3222b6" opacity="0.92"/>
<circle cx="250.2" cy="725.9" r="2.3" fill="#2a1aa8" opacity="0.97"/>
<circle cx="257.0" cy="711.4" r="2.4" fill="#2c1cac" opacity="0.87"/>
<circle cx="398.4" cy="683.6" r="1.6" fill="#2c1cac" opacity="0.87"/>
<circle cx="243.0" cy="776.1" r="1.7" fill="#2c1cac" opacity="0.98"/>
<circle cx="372.2" cy="763.8" r="2.2" fill="#2a1aa8" opacity="0.94"/>
<circle cx="299.8" cy="748.0" r="1.5" fill="#24169a" opacity="0.87"/>
<circle cx="395.4" cy="806.6" r="1.8" fill="#3222b6" opacity="0.93"/>
<circle cx="293.8" cy="766.6" r="1.9" fill="#2c1cac" opacity="0.87"/>
<circle cx="324.8" cy="724.1" r="2.4" fill="#24169a" opacity="0.96"/>
<circle cx="230.2" cy="748.8" r="2.2" fill="#3222b6" opacity="0.90"/>
<circle cx="345.5" cy="812.8" r="2.2" fill="#2a1aa8" opacity="0.95"/>
<circle cx="394.2" cy="776.1" r="2.4" fill="#2a1aa8" opacity="0.92"/>
<circle cx="242.0" cy="691.4" r="1.4" fill="#3222b6" opacity="0.97"/>
<circle cx="274.1" cy="729.7" r="2.1" fill="#3222b6" opacity="0.96"/>
<circle cx="404.0" cy="713.2" r="1.4" fill="#2a1aa8" opacity="0.99"/>
<circle cx="379.7" cy="662.7" r="2.3" fill="#2a1aa8" opacity="0.98"/>
<circle cx="407.1" cy="769.5" r="1.8" fill="#2c1cac" opacity="0.86"/>
<circle cx="377.1" cy="671.8" r="1.5" fill="#3222b6" opacity="0.95"/>
<circle cx="399.5" cy="771.3" r="2.5" fill="#2c1cac" opacity="0.92"/>
<circle cx="297.4" cy="676.6" r="2.0" fill="#2a1aa8" opacity="0.87"/>
<circle cx="375.4" cy="654.9" r="1.4" fill="#2c1cac" opacity="0.97"/>
<circle cx="338.5" cy="703.3" r="2.1" fill="#24169a" opacity="0.96"/>
<circle cx="294.1" cy="788.9" r="1.3" fill="#2a1aa8" opacity="0.98"/>
<circle cx="303.4" cy="742.8" r="1.9" fill="#2a1aa8" opacity="0.99"/>
<circle cx="228.8" cy="763.2" r="1.2" fill="#24169a" opacity="0.98"/>
<circle cx="386.8" cy="739.8" r="2.4" fill="#2c1cac" opacity="1.00"/>
<circle cx="339.0" cy="645.8" r="2.6" fill="#2c1cac" opacity="0.99"/>
<circle cx="245.9" cy="709.7" r="2.5" fill="#2a1aa8" opacity="1.00"/>
<circle cx="306.8" cy="688.7" r="1.3" fill="#3222b6" opacity="0.96"/>
<circle cx="295.5" cy="736.1" r="1.7" fill="#2a1aa8" opacity="0.90"/>
<circle cx="282.2" cy="729.4" r="1.5" fill="#2a1aa8" opacity="0.93"/>
<circle cx="281.6" cy="809.0" r="2.4" fill="#3222b6" opacity="0.95"/>
<circle cx="376.6" cy="698.1" r="2.5" fill="#24169a" opacity="0.98"/>
<circle cx="342.2" cy="755.3" r="2.2" fill="#24169a" opacity="0.97"/>
<circle cx="241.5" cy="757.7" r="1.7" fill="#3222b6" opacity="0.93"/>
<circle cx="251.1" cy="804.2" r="1.3" fill="#2a1aa8" opacity="0.89"/>
<circle cx="282.6" cy="703.4" r="1.6" fill="#24169a" opacity="0.98"/>
<circle cx="348.8" cy="692.6" r="1.3" fill="#2a1aa8" opacity="0.92"/>
<circle cx="339.7" cy="820.6" r="2.2" fill="#2a1aa8" opacity="0.97"/>
<circle cx="338.0" cy="641.0" r="2.2" fill="#2c1cac" opacity="0.92"/>
<circle cx="295.2" cy="695.8" r="1.2" fill="#2c1cac" opacity="0.95"/>
<circle cx="297.7" cy="648.0" r="1.7" fill="#24169a" opacity="0.91"/>
<circle cx="313.7" cy="789.5" r="2.4" fill="#3222b6" opacity="0.86"/>
<circle cx="365.9" cy="715.7" r="1.3" fill="#2a1aa8" opacity="0.96"/>
<circle cx="397.5" cy="767.6" r="1.4" fill="#2a1aa8" opacity="0.96"/>
<circle cx="389.0" cy="736.5" r="1.6" fill="#2a1aa8" opacity="0.88"/>
<circle cx="250.4" cy="741.0" r="1.8" fill="#3222b6" opacity="0.93"/>
<circle cx="347.0" cy="789.7" r="1.8" fill="#2c1cac" opacity="0.85"/>
<circle cx="415.7" cy="767.3" r="2.2" fill="#24169a" opacity="0.90"/>
<circle cx="352.5" cy="824.7" r="1.6" fill="#2c1cac" opacity="0.99"/>
<circle cx="396.4" cy="761.5" r="1.7" fill="#24169a" opacity="0.86"/>
<circle cx="341.2" cy="723.8" r="1.7" fill="#2a1aa8" opacity="0.98"/>
<circle cx="333.0" cy="838.3" r="2.4" fill="#24169a" opacity="0.86"/>
<circle cx="303.7" cy="746.6" r="2.3" fill="#3222b6" opacity="0.92"/>
<circle cx="366.5" cy="657.1" r="1.6" fill="#2c1cac" opacity="0.93"/>
<circle cx="292.4" cy="645.7" r="1.5" fill="#24169a" opacity="0.87"/>
<circle cx="373.6" cy="734.5" r="1.9" fill="#3222b6" opacity="0.91"/>
<circle cx="397.8" cy="707.0" r="2.4" fill="#2c1cac" opacity="1.00"/>
<circle cx="301.9" cy="745.7" r="2.0" fill="#2a1aa8" opacity="0.89"/>
<circle cx="360.1" cy="689.4" r="2.4" fill="#2c1cac" opacity="0.87"/>
<circle cx="350.9" cy="765.8" r="2.0" fill="#24169a" opacity="0.94"/>
<circle cx="262.8" cy="729.4" r="2.1" fill="#24169a" opacity="0.95"/>
<circle cx="386.0" cy="701.0" r="2.4" fill="#24169a" opacity="0.90"/>
<circle cx="260.9" cy="755.3" r="1.8" fill="#24169a" opacity="0.89"/>
<circle cx="418.1" cy="719.8" r="2.3" fill="#3222b6" opacity="0.90"/>
<circle cx="402.5" cy="673.2" r="2.0" fill="#24169a" opacity="0.93"/>
<circle cx="387.0" cy="735.1" r="2.3" fill="#2c1cac" opacity="0.97"/>
<circle cx="236.1" cy="762.7" r="1.8" fill="#2a1aa8" opacity="0.99"/>
<circle cx="366.7" cy="655.9" r="2.2" fill="#2a1aa8" opacity="0.87"/>
<circle cx="389.4" cy="789.4" r="1.3" fill="#2a1aa8" opacity="0.94"/>
<circle cx="366.3" cy="801.3" r="1.6" fill="#2a1aa8" opacity="0.85"/>
<circle cx="325.9" cy="706.8" r="1.4" fill="#2a1aa8" opacity="0.89"/>
<circle cx="250.3" cy="786.6" r="2.5" fill="#24169a" opacity="0.92"/>
<circle cx="380.1" cy="773.6" r="2.4" fill="#2c1cac" opacity="0.87"/>
<circle cx="328.0" cy="828.4" r="2.1" fill="#3222b6" opacity="0.96"/>
<circle cx="342.8" cy="786.9" r="2.2" fill="#24169a" opacity="0.98"/>
<circle cx="240.3" cy="689.3" r="1.6" fill="#2a1aa8" opacity="0.90"/>
<circle cx="267.6" cy="689.4" r="1.5" fill="#2a1aa8" opacity="0.88"/>
<circle cx="232.5" cy="757.3" r="1.5" fill="#2a1aa8" opacity="0.97"/>
<circle cx="246.6" cy="677.5" r="2.5" fill="#24169a" opacity="0.94"/>
<circle cx="269.7" cy="711.6" r="1.5" fill="#2c1cac" opacity="0.98"/>
<circle cx="373.1" cy="746.3" r="1.7" fill="#2c1cac" opacity="0.87"/>
<circle cx="368.4" cy="703.2" r="2.3" fill="#2a1aa8" opacity="0.95"/>
<circle cx="332.6" cy="812.7" r="1.4" fill="#2c1cac" opacity="0.90"/>
<circle cx="425.3" cy="751.3" r="1.8" fill="#2c1cac" opacity="0.92"/>
<circle cx="298.8" cy="664.0" r="2.2" fill="#24169a" opacity="0.85"/>
<circle cx="317.1" cy="696.3" r="2.0" fill="#2c1cac" opacity="0.92"/>
<circle cx="238.5" cy="724.1" r="1.9" fill="#3222b6" opacity="0.96"/>
<circle cx="251.8" cy="671.5" r="2.0" fill="#24169a" opacity="0.89"/>
<circle cx="319.6" cy="672.0" r="2.2" fill="#24169a" opacity="0.90"/>
<circle cx="238.1" cy="727.7" r="1.7" fill="#24169a" opacity="0.91"/>
<circle cx="262.7" cy="697.1" r="2.2" fill="#24169a" opacity="0.97"/>
<circle cx="257.0" cy="685.2" r="2.1" fill="#3222b6" opacity="0.95"/>
<circle cx="312.2" cy="711.0" r="2.2" fill="#2c1cac" opacity="0.92"/>
<circle cx="258.4" cy="792.8" r="2.1" fill="#3222b6" opacity="0.87"/>
<circle cx="316.0" cy="696.7" r="1.4" fill="#24169a" opacity="1.00"/>
<circle cx="424.0" cy="741.7" r="2.6" fill="#2c1cac" opacity="0.86"/>
<circle cx="387.1" cy="659.5" r="1.7" fill="#3222b6" opacity="0.98"/>
<circle cx="238.0" cy="754.0" r="2.0" fill="#2c1cac" opacity="0.90"/>
<circle cx="315.6" cy="815.4" r="2.0" fill="#2a1aa8" opacity="0.99"/>
<circle cx="266.8" cy="740.3" r="1.8" fill="#24169a" opacity="0.92"/>
<circle cx="316.0" cy="815.6" r="2.1" fill="#2c1cac" opacity="0.95"/>
<circle cx="295.0" cy="709.1" r="2.2" fill="#3222b6" opacity="0.90"/>
<circle cx="225.8" cy="740.0" r="2.6" fill="#3222b6" opacity="0.91"/>
<circle cx="270.0" cy="767.5" r="1.4" fill="#2c1cac" opacity="0.93"/>
<circle cx="398.7" cy="785.7" r="2.6" fill="#2a1aa8" opacity="0.93"/>
<circle cx="420.3" cy="719.6" r="2.3" fill="#2c1cac" opacity="0.87"/>
<circle cx="280.0" cy="825.6" r="2.2" fill="#2c1cac" opacity="0.90"/>
<circle cx="266.7" cy="658.4" r="2.4" fill="#2a1aa8" opacity="0.99"/>
<circle cx="291.6" cy="773.5" r="1.9" fill="#2a1aa8" opacity="0.91"/>
<circle cx="352.0" cy="778.1" r="2.3" fill="#2c1cac" opacity="0.89"/>
<circle cx="327.7" cy="768.5" r="1.5" fill="#2c1cac" opacity="0.95"/>
<circle cx="254.2" cy="694.9" r="2.3" fill="#2a1aa8" opacity="0.90"/>
<circle cx="258.1" cy="733.9" r="1.4" fill="#2a1aa8" opacity="0.96"/>
<circle cx="398.0" cy="797.3" r="1.3" fill="#2a1aa8" opacity="0.88"/>
<circle cx="242.6" cy="767.2" r="1.4" fill="#24169a" opacity="0.92"/>
<circle cx="370.5" cy="666.1" r="2.3" fill="#24169a" opacity="0.85"/>
<circle cx="407.2" cy="784.3" r="1.5" fill="#3222b6" opacity="0.89"/>
<circle cx="352.6" cy="677.2" r="2.5" fill="#2c1cac" opacity="0.89"/>
<circle cx="317.2" cy="839.1" r="1.8" fill="#3222b6" opacity="0.95"/>
<circle cx="280.7" cy="795.3" r="1.7" fill="#3222b6" opacity="0.85"/>
<circle cx="369.5" cy="795.6" r="2.2" fill="#3222b6" opacity="0.98"/>
<circle cx="243.2" cy="727.2" r="2.2" fill="#2c1cac" opacity="0.93"/>
<circle cx="240.9" cy="742.3" r="2.0" fill="#3222b6" opacity="0.91"/>
<circle cx="308.7" cy="760.3" r="2.0" fill="#2a1aa8" opacity="0.91"/>
<circle cx="383.1" cy="804.1" r="2.0" fill="#3222b6" opacity="0.91"/>
<circle cx="276.7" cy="657.1" r="1.3" fill="#2c1cac" opacity="0.86"/>
<circle cx="335.6" cy="649.5" r="1.5" fill="#2a1aa8" opacity="0.97"/>
<circle cx="355.1" cy="805.1" r="1.3" fill="#24169a" opacity="0.89"/>
<circle cx="264.4" cy="773.2" r="2.1" fill="#2c1cac" opacity="0.91"/>
<circle cx="379.7" cy="687.8" r="2.6" fill="#24169a" opacity="0.94"/>
<circle cx="272.0" cy="675.5" r="1.4" fill="#2c1cac" opacity="0.94"/>
<circle cx="309.7" cy="784.6" r="2.2" fill="#24169a" opacity="0.90"/>
<circle cx="265.1" cy="767.0" r="2.1" fill="#2a1aa8" opacity="0.97"/>
<circle cx="410.6" cy="722.8" r="1.8" fill="#2c1cac" opacity="0.93"/>
<circle cx="320.7" cy="783.7" r="1.5" fill="#2c1cac" opacity="0.90"/>
<circle cx="244.5" cy="750.3" r="2.5" fill="#24169a" opacity="0.86"/>
<circle cx="314.3" cy="712.6" r="2.3" fill="#24169a" opacity="0.86"/>
<circle cx="280.9" cy="651.3" r="2.4" fill="#24169a" opacity="0.99"/>
<circle cx="339.6" cy="824.6" r="1.7" fill="#3222b6" opacity="0.95"/>
<circle cx="333.2" cy="670.6" r="2.6" fill="#2c1cac" opacity="0.92"/>
<circle cx="302.1" cy="726.7" r="2.5" fill="#3222b6" opacity="0.96"/>
<circle cx="259.5" cy="810.5" r="1.9" fill="#3222b6" opacity="0.92"/>
<circle cx="265.0" cy="674.5" r="2.4" fill="#3222b6" opacity="0.89"/>
<circle cx="284.8" cy="793.2" r="2.0" fill="#24169a" opacity="0.96"/>
<circle cx="285.9" cy="689.5" r="1.8" fill="#2c1cac" opacity="0.97"/>
<circle cx="286.6" cy="813.3" r="2.2" fill="#3222b6" opacity="0.96"/>
<circle cx="285.3" cy="756.2" r="1.8" fill="#2a1aa8" opacity="0.96"/>
<circle cx="280.7" cy="781.3" r="1.7" fill="#3222b6" opacity="0.89"/>
<circle cx="305.5" cy="817.4" r="2.3" fill="#3222b6" opacity="0.96"/>
<circle cx="398.4" cy="669.6" r="2.2" fill="#3222b6" opacity="0.99"/>
<circle cx="271.9" cy="702.3" r="1.3" fill="#3222b6" opacity="0.93"/>
<circle cx="385.3" cy="726.3" r="1.9" fill="#2c1cac" opacity="0.85"/>
<circle cx="346.2" cy="749.2" r="2.5" fill="#3222b6" opacity="0.89"/>
<circle cx="388.4" cy="720.2" r="1.8" fill="#3222b6" opacity="0.93"/>
<circle cx="300.1" cy="790.1" r="1.3" fill="#2a1aa8" opacity="0.97"/>
<circle cx="365.1" cy="658.0" r="2.2" fill="#2a1aa8" opacity="0.94"/>
<circle cx="332.5" cy="799.6" r="1.8" fill="#2a1aa8" opacity="0.91"/>
<circle cx="402.4" cy="695.0" r="2.1" fill="#2c1cac" opacity="0.86"/>
<circle cx="300.3" cy="822.3" r="2.3" fill="#3222b6" opacity="0.91"/>
<circle cx="251.4" cy="800.1" r="2.4" fill="#2a1aa8" opacity="0.95"/>
<circle cx="303.4" cy="646.5" r="1.8" fill="#3222b6" opacity="1.00"/>
<circle cx="256.6" cy="686.7" r="1.9" fill="#24169a" opacity="0.99"/>
<circle cx="227.3" cy="717.5" r="1.2" fill="#2a1aa8" opacity="0.97"/>
<circle cx="329.6" cy="795.2" r="1.6" fill="#3222b6" opacity="0.90"/>
<circle cx="307.7" cy="679.8" r="1.7" fill="#3222b6" opacity="0.93"/>
<circle cx="295.1" cy="670.7" r="1.3" fill="#2c1cac" opacity="0.97"/>
<circle cx="351.8" cy="720.0" r="1.8" fill="#24169a" opacity="0.97"/>
<circle cx="351.3" cy="696.4" r="2.2" fill="#24169a" opacity="1.00"/>
<circle cx="282.9" cy="815.3" r="1.9" fill="#2c1cac" opacity="0.91"/>
<circle cx="300.9" cy="675.1" r="1.4" fill="#24169a" opacity="0.98"/>
<circle cx="399.7" cy="778.0" r="2.1" fill="#2c1cac" opacity="0.89"/>
<circle cx="286.0" cy="828.7" r="2.5" fill="#2c1cac" opacity="0.93"/>
<circle cx="370.4" cy="658.0" r="2.1" fill="#24169a" opacity="0.92"/>
<circle cx="372.1" cy="824.7" r="1.5" fill="#2c1cac" opacity="0.89"/>
<circle cx="365.9" cy="748.6" r="2.1" fill="#24169a" opacity="0.89"/>
<circle cx="262.8" cy="755.8" r="2.5" fill="#2c1cac" opacity="0.99"/>
<circle cx="413.4" cy="713.9" r="1.6" fill="#2a1aa8" opacity="0.96"/>
<circle cx="324.8" cy="703.5" r="1.4" fill="#24169a" opacity="0.95"/>
<circle cx="316.9" cy="653.7" r="1.4" fill="#2a1aa8" opacity="0.91"/>
<circle cx="296.9" cy="649.2" r="1.6" fill="#2c1cac" opacity="0.96"/>
<circle cx="413.2" cy="743.4" r="1.4" fill="#3222b6" opacity="1.00"/>
<circle cx="264.6" cy="799.2" r="1.5" fill="#2c1cac" opacity="0.89"/>
<circle cx="422.3" cy="719.9" r="2.5" fill="#2a1aa8" opacity="0.94"/>
<circle cx="369.6" cy="676.0" r="1.8" fill="#2c1cac" opacity="1.00"/>
<circle cx="282.2" cy="686.8" r="2.3" fill="#2c1cac" opacity="0.99"/>
<circle cx="394.9" cy="671.9" r="1.7" fill="#2a1aa8" opacity="0.89"/>
<circle cx="275.4" cy="655.0" r="2.5" fill="#24169a" opacity="0.88"/>
<circle cx="340.1" cy="803.3" r="1.6" fill="#3222b6" opacity="0.99"/>
<circle cx="353.4" cy="728.6" r="2.5" fill="#24169a" opacity="0.97"/>
<circle cx="245.8" cy="757.2" r="1.6" fill="#24169a" opacity="0.94"/>
<circle cx="341.0" cy="802.9" r="2.1" fill="#2a1aa8" opacity="0.92"/>
<circle cx="346.5" cy="759.5" r="2.0" fill="#2c1cac" opacity="0.89"/>
<circle cx="425.7" cy="726.3" r="1.5" fill="#2c1cac" opacity="0.89"/>
<circle cx="288.2" cy="712.5" r="2.2" fill="#3222b6" opacity="0.97"/>
<circle cx="289.5" cy="700.8" r="1.4" fill="#24169a" opacity="0.99"/>
<circle cx="332.8" cy="639.8" r="1.9" fill="#2c1cac" opacity="0.90"/>
<circle cx="343.7" cy="752.8" r="2.4" fill="#3222b6" opacity="0.94"/>
<circle cx="273.8" cy="718.0" r="1.5" fill="#2a1aa8" opacity="0.89"/>
<circle cx="404.6" cy="712.7" r="2.6" fill="#2a1aa8" opacity="0.95"/>
<circle cx="391.9" cy="777.8" r="2.3" fill="#3222b6" opacity="0.86"/>
<circle cx="340.6" cy="667.7" r="2.1" fill="#24169a" opacity="0.94"/>
<circle cx="275.0" cy="775.3" r="2.2" fill="#2a1aa8" opacity="0.91"/>
<circle cx="250.2" cy="750.6" r="1.8" fill="#24169a" opacity="0.94"/>
<circle cx="288.5" cy="789.6" r="1.4" fill="#3222b6" opacity="0.85"/>
<circle cx="400.8" cy="782.4" r="2.1" fill="#2a1aa8" opacity="0.99"/>
<circle cx="282.7" cy="749.6" r="1.2" fill="#3222b6" opacity="0.86"/>
<circle cx="239.9" cy="717.0" r="1.5" fill="#3222b6" opacity="0.91"/>
<circle cx="268.5" cy="698.1" r="1.4" fill="#2c1cac" opacity="0.89"/>
<circle cx="352.5" cy="721.7" r="1.5" fill="#2c1cac" opacity="0.99"/>
<circle cx="293.1" cy="710.3" r="1.9" fill="#3222b6" opacity="0.95"/>
<circle cx="261.9" cy="688.8" r="1.5" fill="#2a1aa8" opacity="0.93"/>
<circle cx="301.0" cy="658.8" r="2.6" fill="#3222b6" opacity="0.95"/>
<circle cx="318.6" cy="809.4" r="2.5" fill="#2c1cac" opacity="0.89"/>
<circle cx="259.3" cy="700.7" r="1.3" fill="#24169a" opacity="0.99"/>
<circle cx="254.1" cy="667.1" r="1.2" fill="#2c1cac" opacity="0.91"/>
<circle cx="372.1" cy="662.5" r="1.9" fill="#2a1aa8" opacity="0.92"/>
<circle cx="369.2" cy="715.8" r="2.4" fill="#2c1cac" opacity="1.00"/>
<circle cx="274.1" cy="819.4" r="1.4" fill="#24169a" opacity="0.96"/>
<circle cx="289.3" cy="758.4" r="1.4" fill="#2a1aa8" opacity="0.89"/>
<circle cx="252.1" cy="685.4" r="2.5" fill="#3222b6" opacity="0.95"/>
<circle cx="399.1" cy="697.0" r="2.0" fill="#2c1cac" opacity="0.93"/>
<circle cx="346.3" cy="789.4" r="1.9" fill="#3222b6" opacity="0.88"/>
<circle cx="295.9" cy="802.4" r="1.4" fill="#2c1cac" opacity="0.92"/>
<circle cx="379.9" cy="713.1" r="1.7" fill="#3222b6" opacity="0.86"/>
<circle cx="266.0" cy="686.6" r="1.9" fill="#3222b6" opacity="1.00"/>
<circle cx="351.7" cy="676.7" r="2.1" fill="#2a1aa8" opacity="1.00"/>
<circle cx="254.8" cy="691.5" r="2.3" fill="#2c1cac" opacity="0.98"/>
<circle cx="359.7" cy="704.6" r="2.1" fill="#2a1aa8" opacity="0.86"/>
<circle cx="403.3" cy="750.8" r="1.9" fill="#3222b6" opacity="0.90"/>
<circle cx="284.3" cy="732.3" r="2.4" fill="#3222b6" opacity="0.96"/>
<circle cx="309.8" cy="822.4" r="1.3" fill="#24169a" opacity="0.89"/>
<circle cx="272.1" cy="795.6" r="1.3" fill="#2c1cac" opacity="0.95"/>
<circle cx="290.7" cy="735.0" r="2.6" fill="#3222b6" opacity="0.86"/>
<circle cx="325.6" cy="708.1" r="1.9" fill="#3222b6" opacity="0.87"/>
<circle cx="254.2" cy="734.5" r="2.3" fill="#24169a" opacity="0.93"/>
<circle cx="327.3" cy="757.2" r="1.6" fill="#2a1aa8" opacity="0.94"/>
<circle cx="294.1" cy="660.8" r="2.4" fill="#2a1aa8" opacity="0.90"/>
<circle cx="354.0" cy="789.1" r="1.3" fill="#2a1aa8" opacity="0.99"/>
<circle cx="393.6" cy="807.2" r="2.1" fill="#3222b6" opacity="0.88"/>
<circle cx="377.2" cy="660.1" r="1.4" fill="#24169a" opacity="0.88"/>
<circle cx="423.1" cy="712.0" r="1.2" fill="#3222b6" opacity="0.95"/>
<circle cx="383.5" cy="788.5" r="1.5" fill="#2c1cac" opacity="0.86"/>
<circle cx="389.2" cy="795.4" r="2.1" fill="#24169a" opacity="0.86"/>
<circle cx="345.2" cy="724.0" r="1.9" fill="#2c1cac" opacity="0.95"/>
<circle cx="291.6" cy="785.2" r="1.5" fill="#3222b6" opacity="0.86"/>
<circle cx="242.2" cy="747.3" r="2.1" fill="#24169a" opacity="0.92"/>
<circle cx="283.1" cy="765.5" r="2.2" fill="#2a1aa8" opacity="0.96"/>
<circle cx="358.7" cy="743.7" r="1.2" fill="#3222b6" opacity="0.94"/>
<circle cx="319.0" cy="819.0" r="1.5" fill="#24169a" opacity="0.95"/>
<circle cx="340.0" cy="772.0" r="1.6" fill="#2c1cac" opacity="0.98"/>
<circle cx="419.0" cy="748.2" r="1.2" fill="#3222b6" opacity="0.88"/>
<circle cx="282.4" cy="700.9" r="1.2" fill="#24169a" opacity="0.91"/>
<circle cx="279.2" cy="816.4" r="1.6" fill="#3222b6" opacity="0.88"/>
<circle cx="303.6" cy="639.9" r="2.2" fill="#3222b6" opacity="0.86"/>
<circle cx="328.5" cy="661.2" r="1.9" fill="#2c1cac" opacity="0.93"/>
<circle cx="419.7" cy="737.0" r="2.3" fill="#24169a" opacity="0.86"/>
<circle cx="386.2" cy="689.5" r="2.1" fill="#3222b6" opacity="0.95"/>
<circle cx="296.3" cy="833.7" r="2.3" fill="#2c1cac" opacity="0.92"/>
<circle cx="375.3" cy="654.8" r="1.8" fill="#24169a" opacity="0.88"/>
<circle cx="380.7" cy="754.7" r="1.8" fill="#2a1aa8" opacity="0.96"/>
<circle cx="386.8" cy="804.6" r="2.6" fill="#3222b6" opacity="0.98"/>
<circle cx="254.9" cy="669.3" r="1.9" fill="#3222b6" opacity="0.96"/>
<circle cx="322.4" cy="838.4" r="2.3" fill="#2a1aa8" opacity="0.97"/>
<circle cx="263.9" cy="817.2" r="2.0" fill="#24169a" opacity="0.87"/>
<circle cx="265.1" cy="815.8" r="2.3" fill="#2c1cac" opacity="0.95"/>
<circle cx="335.0" cy="798.4" r="2.4" fill="#24169a" opacity="0.96"/>
<circle cx="337.5" cy="728.9" r="2.3" fill="#3222b6" opacity="0.94"/>
<circle cx="391.4" cy="799.7" r="1.8" fill="#2c1cac" opacity="0.92"/>
<circle cx="385.7" cy="684.5" r="1.5" fill="#2c1cac" opacity="0.86"/>
<circle cx="253.2" cy="695.5" r="2.0" fill="#24169a" opacity="0.98"/>
<circle cx="319.0" cy="651.9" r="1.3" fill="#2c1cac" opacity="0.86"/>
<circle cx="386.1" cy="813.4" r="1.3" fill="#2a1aa8" opacity="0.86"/>
<circle cx="379.3" cy="765.9" r="1.4" fill="#24169a" opacity="0.92"/>
<circle cx="352.1" cy="658.2" r="1.5" fill="#24169a" opacity="0.91"/>
<circle cx="328.8" cy="761.6" r="2.3" fill="#3222b6" opacity="0.97"/>
<circle cx="231.9" cy="734.7" r="2.4" fill="#3222b6" opacity="0.93"/>
<circle cx="318.4" cy="679.4" r="1.7" fill="#2a1aa8" opacity="0.88"/>
<circle cx="325.2" cy="675.7" r="2.1" fill="#2c1cac" opacity="0.93"/>
<circle cx="339.6" cy="788.8" r="2.1" fill="#24169a" opacity="1.00"/>
<circle cx="289.8" cy="645.4" r="1.9" fill="#3222b6" opacity="0.94"/>
<circle cx="315.2" cy="830.3" r="1.7" fill="#2c1cac" opacity="0.99"/>
<circle cx="282.1" cy="804.9" r="1.3" fill="#3222b6" opacity="0.86"/>
<circle cx="263.7" cy="813.4" r="1.6" fill="#2a1aa8" opacity="0.86"/>
<circle cx="348.3" cy="772.3" r="2.3" fill="#24169a" opacity="0.99"/>
<circle cx="333.8" cy="836.2" r="1.7" fill="#2a1aa8" opacity="0.85"/>
<circle cx="255.1" cy="808.6" r="1.6" fill="#2a1aa8" opacity="0.92"/>
<circle cx="316.2" cy="800.2" r="1.6" fill="#24169a" opacity="0.98"/>
<circle cx="379.8" cy="692.0" r="1.9" fill="#24169a" opacity="0.96"/>
<circle cx="397.6" cy="745.9" r="1.9" fill="#2a1aa8" opacity="0.97"/>
<circle cx="323.7" cy="717.2" r="1.3" fill="#2a1aa8" opacity="0.85"/>
<circle cx="274.7" cy="675.3" r="2.3" fill="#24169a" opacity="0.85"/>
<circle cx="243.0" cy="764.1" r="1.8" fill="#3222b6" opacity="0.86"/>
<circle cx="382.7" cy="750.2" r="2.2" fill="#2a1aa8" opacity="0.91"/>
<circle cx="238.5" cy="695.6" r="1.2" fill="#2c1cac" opacity="0.95"/>
<circle cx="271.9" cy="746.2" r="1.8" fill="#24169a" opacity="0.96"/>
<circle cx="237.2" cy="772.1" r="1.3" fill="#2a1aa8" opacity="0.98"/>
<circle cx="298.3" cy="816.8" r="1.5" fill="#24169a" opacity="0.97"/>
<circle cx="398.6" cy="801.1" r="1.6" fill="#2c1cac" opacity="0.93"/>
<circle cx="384.0" cy="768.2" r="2.0" fill="#2c1cac" opacity="0.96"/>
<circle cx="294.7" cy="672.3" r="2.4" fill="#3222b6" opacity="0.87"/>
<circle cx="363.8" cy="651.9" r="1.5" fill="#3222b6" opacity="0.87"/>
<circle cx="267.4" cy="680.9" r="1.4" fill="#24169a" opacity="0.92"/>
<circle cx="313.2" cy="744.3" r="1.9" fill="#2c1cac" opacity="0.99"/>
<circle cx="332.8" cy="802.4" r="2.4" fill="#3222b6" opacity="0.94"/>
<circle cx="411.8" cy="770.8" r="1.6" fill="#2a1aa8" opacity="0.90"/>
<circle cx="385.5" cy="763.9" r="2.4" fill="#2c1cac" opacity="0.97"/>
<circle cx="388.6" cy="766.0" r="1.2" fill="#24169a" opacity="0.85"/>
<circle cx="261.6" cy="793.6" r="2.4" fill="#24169a" opacity="0.89"/>
<circle cx="332.2" cy="678.0" r="2.1" fill="#2a1aa8" opacity="0.86"/>
<circle cx="321.2" cy="820.5" r="1.8" fill="#3222b6" opacity="0.91"/>
<circle cx="287.4" cy="654.8" r="1.5" fill="#24169a" opacity="0.85"/>
<circle cx="251.5" cy="680.7" r="1.9" fill="#2c1cac" opacity="0.95"/>
<circle cx="238.9" cy="736.9" r="2.5" fill="#24169a" opacity="0.98"/>
<circle cx="261.7" cy="701.0" r="2.5" fill="#3222b6" opacity="0.85"/>
<circle cx="319.1" cy="836.7" r="1.6" fill="#24169a" opacity="0.98"/>
<circle cx="301.1" cy="763.8" r="1.3" fill="#2c1cac" opacity="0.85"/>
<circle cx="293.0" cy="792.7" r="1.3" fill="#3222b6" opacity="0.88"/>
<circle cx="264.9" cy="777.0" r="1.9" fill="#2c1cac" opacity="0.93"/>
<circle cx="326.2" cy="738.6" r="2.0" fill="#24169a" opacity="0.92"/>
<circle cx="321.0" cy="639.1" r="2.1" fill="#24169a" opacity="0.87"/>
<circle cx="293.4" cy="768.7" r="2.0" fill="#3222b6" opacity="0.85"/>
<circle cx="261.9" cy="705.7" r="1.6" fill="#2c1cac" opacity="0.90"/>
<circle cx="257.7" cy="694.1" r="2.5" fill="#2c1cac" opacity="0.85"/>
<circle cx="275.3" cy="676.2" r="2.1" fill="#24169a" opacity="0.90"/>
<circle cx="409.9" cy="751.9" r="2.1" fill="#2c1cac" opacity="0.94"/>
<circle cx="353.7" cy="784.8" r="1.8" fill="#3222b6" opacity="0.93"/>
<circle cx="239.1" cy="713.7" r="2.0" fill="#2c1cac" opacity="0.90"/>
<circle cx="338.2" cy="651.3" r="2.4" fill="#2c1cac" opacity="0.90"/>
<circle cx="303.3" cy="676.6" r="1.9" fill="#2c1cac" opacity="0.99"/>
<circle cx="272.9" cy="783.5" r="2.2" fill="#2a1aa8" opacity="0.86"/>
<circle cx="294.1" cy="695.3" r="1.4" fill="#3222b6" opacity="0.97"/>
<circle cx="332.6" cy="651.1" r="1.7" fill="#2a1aa8" opacity="0.95"/>
<circle cx="269.3" cy="765.6" r="2.1" fill="#24169a" opacity="0.85"/>
<circle cx="324.4" cy="717.2" r="2.1" fill="#24169a" opacity="0.95"/>
<circle cx="308.9" cy="802.6" r="1.3" fill="#3222b6" opacity="0.93"/>
<circle cx="339.6" cy="660.0" r="2.2" fill="#2c1cac" opacity="0.90"/>
<circle cx="389.1" cy="769.3" r="1.3" fill="#2a1aa8" opacity="0.89"/>
<circle cx="271.8" cy="741.0" r="1.9" fill="#24169a" opacity="0.87"/>
<circle cx="273.9" cy="799.2" r="1.7" fill="#24169a" opacity="0.97"/>
<circle cx="376.3" cy="752.7" r="2.1" fill="#3222b6" opacity="0.87"/>
<circle cx="300.6" cy="732.9" r="1.7" fill="#2c1cac" opacity="0.95"/>
<circle cx="233.6" cy="745.1" r="1.7" fill="#24169a" opacity="0.86"/>
<circle cx="266.1" cy="727.6" r="1.7" fill="#3222b6" opacity="0.85"/>
<circle cx="312.8" cy="756.2" r="1.4" fill="#24169a" opacity="0.96"/>
<circle cx="369.6" cy="721.7" r="1.4" fill="#3222b6" opacity="0.97"/>
<circle cx="303.8" cy="702.3" r="2.0" fill="#2a1aa8" opacity="0.94"/>
<circle cx="384.2" cy="802.1" r="2.0" fill="#2c1cac" opacity="0.98"/>
<circle cx="293.2" cy="746.7" r="2.1" fill="#3222b6" opacity="0.94"/>
<circle cx="285.7" cy="775.9" r="1.9" fill="#24169a" opacity="0.98"/>
<circle cx="331.8" cy="644.7" r="1.8" fill="#2a1aa8" opacity="0.90"/>
<circle cx="335.4" cy="731.4" r="1.5" fill="#2a1aa8" opacity="0.89"/>
<circle cx="411.0" cy="688.9" r="1.8" fill="#2a1aa8" opacity="0.92"/>
<circle cx="311.8" cy="818.6" r="1.5" fill="#24169a" opacity="0.96"/>
<circle cx="364.4" cy="773.3" r="1.9" fill="#3222b6" opacity="0.90"/>
<circle cx="404.5" cy="699.2" r="2.0" fill="#2c1cac" opacity="0.94"/>
<circle cx="388.3" cy="734.3" r="1.6" fill="#2a1aa8" opacity="0.94"/>
<circle cx="407.2" cy="713.4" r="1.3" fill="#3222b6" opacity="0.87"/>
<circle cx="251.4" cy="722.4" r="2.3" fill="#3222b6" opacity="0.93"/>
<circle cx="315.5" cy="668.1" r="2.2" fill="#2c1cac" opacity="0.93"/>
<circle cx="320.0" cy="748.8" r="1.6" fill="#3222b6" opacity="1.00"/>
<circle cx="291.7" cy="711.6" r="1.2" fill="#2a1aa8" opacity="0.87"/>
<circle cx="345.9" cy="832.1" r="1.6" fill="#2c1cac" opacity="0.89"/>
<circle cx="315.2" cy="668.1" r="2.2" fill="#3222b6" opacity="0.97"/>
<circle cx="308.7" cy="790.6" r="2.6" fill="#2a1aa8" opacity="0.87"/>
<circle cx="320.1" cy="740.5" r="1.4" fill="#3222b6" opacity="0.92"/>
<circle cx="365.1" cy="704.6" r="2.0" fill="#3222b6" opacity="0.92"/>
<circle cx="252.1" cy="721.7" r="1.7" fill="#2c1cac" opacity="0.85"/>
<circle cx="333.2" cy="642.8" r="1.6" fill="#2a1aa8" opacity="0.97"/>
<circle cx="303.0" cy="812.2" r="2.4" fill="#3222b6" opacity="0.89"/>
<circle cx="239.9" cy="720.5" r="1.5" fill="#24169a" opacity="0.95"/>
<circle cx="274.3" cy="800.2" r="1.9" fill="#3222b6" opacity="0.93"/>
<circle cx="368.6" cy="758.3" r="2.0" fill="#2a1aa8" opacity="0.94"/>
<circle cx="372.1" cy="685.4" r="2.5" fill="#2c1cac" opacity="0.86"/>
<circle cx="350.3" cy="668.2" r="2.1" fill="#2c1cac" opacity="0.93"/>
<circle cx="288.8" cy="773.8" r="1.2" fill="#24169a" opacity="0.97"/>
<circle cx="329.5" cy="638.6" r="1.4" fill="#3222b6" opacity="0.87"/>
</g>
<defs><radialGradient id="pg12" cx="0.5" cy="0.5" r="0.5"><stop offset="0" stop-color="#e4e3de"/><stop offset="0.85" stop-color="#dcdbd6"/><stop offset="0.96" stop-color="#d2d1cc"/><stop offset="1" stop-color="#bebdb8"/></radialGradient><clipPath id="cpg12"><circle cx="548" cy="738" r="103.0"/></clipPath></defs>
<circle cx="548" cy="738" r="103.5" fill="url(#pg12)" stroke="#b0afaa" stroke-width="1.1"/>
<g clip-path="url(#cpg12)">
<g filter="url(#blur4)" transform="rotate(-8 548 738)"><path d="M444.5,660.0 Q496.2,648.7 548.0,660.0 T651.5,660.0" fill="none" stroke="#bcbbb6" stroke-width="10.0" opacity="0.28"/><path d="M444.5,691.9 Q496.2,682.9 548.0,691.9 T651.5,691.9" fill="none" stroke="#bcbbb6" stroke-width="7.6" opacity="0.41"/><path d="M444.5,742.1 Q496.2,731.3 548.0,742.1 T651.5,742.1" fill="none" stroke="#bcbbb6" stroke-width="9.3" opacity="0.38"/><path d="M444.5,772.7 Q496.2,763.2 548.0,772.7 T651.5,772.7" fill="none" stroke="#bcbbb6" stroke-width="7.0" opacity="0.43"/><path d="M444.5,810.6 Q496.2,798.1 548.0,810.6 T651.5,810.6" fill="none" stroke="#bcbbb6" stroke-width="6.4" opacity="0.39"/></g>
<circle cx="548" cy="738" r="95.5" fill="none" stroke="#eeeeea" stroke-width="2" opacity="0.4"/>
<circle cx="548" cy="738" r="98.0" fill="none" stroke="#c2c1bc" stroke-width="1.1" opacity="0.35"/>
<circle cx="639.5" cy="748.7" r="0.9" fill="#7c70d4" opacity="0.53"/>
<circle cx="643.5" cy="704.8" r="0.9" fill="#a8a0e4" opacity="0.69"/>
<circle cx="459.9" cy="704.3" r="1.8" fill="#8c84dc" opacity="0.54"/>
<circle cx="525.3" cy="719.9" r="1.5" fill="#a8a0e4" opacity="0.52"/>
<circle cx="545.4" cy="720.7" r="1.8" fill="#7c70d4" opacity="0.44"/>
<circle cx="477.7" cy="799.5" r="1.1" fill="#a8a0e4" opacity="0.43"/>
<circle cx="574.5" cy="671.3" r="1.3" fill="#8c84dc" opacity="0.48"/>
<circle cx="565.9" cy="740.9" r="1.5" fill="#8c84dc" opacity="0.49"/>
<circle cx="517.4" cy="728.1" r="1.0" fill="#7c70d4" opacity="0.45"/>
<circle cx="491.2" cy="695.6" r="1.5" fill="#7c70d4" opacity="0.51"/>
<circle cx="466.8" cy="750.2" r="1.8" fill="#a8a0e4" opacity="0.43"/>
<circle cx="482.8" cy="717.3" r="1.0" fill="#7c70d4" opacity="0.43"/>
<circle cx="632.3" cy="688.5" r="1.6" fill="#8c84dc" opacity="0.43"/>
<circle cx="492.6" cy="686.6" r="1.8" fill="#7c70d4" opacity="0.53"/>
<circle cx="567.4" cy="657.1" r="1.6" fill="#7c70d4" opacity="0.39"/>
<circle cx="477.0" cy="742.6" r="1.2" fill="#7c70d4" opacity="0.68"/>
<circle cx="537.6" cy="777.1" r="1.7" fill="#a8a0e4" opacity="0.47"/>
<circle cx="472.4" cy="765.2" r="1.6" fill="#7c70d4" opacity="0.45"/>
<circle cx="519.4" cy="660.1" r="0.9" fill="#a8a0e4" opacity="0.50"/>
<circle cx="633.5" cy="726.9" r="1.4" fill="#7c70d4" opacity="0.60"/>
<circle cx="597.4" cy="750.4" r="1.2" fill="#8c84dc" opacity="0.67"/>
<circle cx="504.0" cy="800.6" r="1.2" fill="#7c70d4" opacity="0.48"/>
<circle cx="600.1" cy="815.1" r="0.8" fill="#8c84dc" opacity="0.66"/>
<circle cx="565.9" cy="666.8" r="1.2" fill="#8c84dc" opacity="0.60"/>
<circle cx="569.8" cy="659.2" r="1.5" fill="#a8a0e4" opacity="0.57"/>
<circle cx="520.9" cy="653.3" r="1.2" fill="#8c84dc" opacity="0.38"/>
<circle cx="533.7" cy="763.0" r="1.5" fill="#7c70d4" opacity="0.46"/>
<circle cx="500.8" cy="664.3" r="1.7" fill="#a8a0e4" opacity="0.41"/>
<circle cx="457.1" cy="746.4" r="0.9" fill="#7c70d4" opacity="0.47"/>
<circle cx="626.2" cy="709.2" r="0.8" fill="#a8a0e4" opacity="0.48"/>
<circle cx="524.2" cy="817.8" r="1.3" fill="#8c84dc" opacity="0.53"/>
<circle cx="508.5" cy="746.9" r="1.4" fill="#7c70d4" opacity="0.44"/>
<circle cx="593.6" cy="657.1" r="1.0" fill="#7c70d4" opacity="0.59"/>
<circle cx="480.6" cy="764.7" r="0.9" fill="#8c84dc" opacity="0.54"/>
<circle cx="541.4" cy="679.0" r="1.1" fill="#a8a0e4" opacity="0.66"/>
<circle cx="507.0" cy="743.9" r="1.6" fill="#8c84dc" opacity="0.44"/>
<circle cx="526.7" cy="831.7" r="1.7" fill="#7c70d4" opacity="0.45"/>
<circle cx="478.3" cy="682.4" r="0.9" fill="#a8a0e4" opacity="0.57"/>
<circle cx="564.8" cy="661.5" r="1.2" fill="#7c70d4" opacity="0.58"/>
<circle cx="460.1" cy="742.2" r="1.7" fill="#8c84dc" opacity="0.41"/>
<circle cx="628.0" cy="723.3" r="1.3" fill="#8c84dc" opacity="0.65"/>
<circle cx="529.4" cy="653.6" r="1.8" fill="#a8a0e4" opacity="0.62"/>
<circle cx="587.0" cy="697.8" r="1.5" fill="#8c84dc" opacity="0.54"/>
<circle cx="580.4" cy="828.7" r="1.0" fill="#a8a0e4" opacity="0.67"/>
<circle cx="463.4" cy="712.7" r="0.8" fill="#8c84dc" opacity="0.48"/>
<circle cx="584.7" cy="764.0" r="0.8" fill="#8c84dc" opacity="0.63"/>
<circle cx="469.6" cy="754.3" r="1.4" fill="#a8a0e4" opacity="0.65"/>
<circle cx="557.5" cy="724.1" r="0.8" fill="#8c84dc" opacity="0.52"/>
<circle cx="628.3" cy="715.4" r="1.5" fill="#a8a0e4" opacity="0.54"/>
<circle cx="603.3" cy="764.8" r="1.7" fill="#a8a0e4" opacity="0.37"/>
<circle cx="620.0" cy="764.7" r="0.8" fill="#8c84dc" opacity="0.36"/>
<circle cx="614.9" cy="703.1" r="1.5" fill="#7c70d4" opacity="0.61"/>
<circle cx="550.3" cy="754.7" r="1.7" fill="#a8a0e4" opacity="0.57"/>
<circle cx="513.7" cy="690.9" r="1.6" fill="#8c84dc" opacity="0.49"/>
<circle cx="602.4" cy="759.0" r="1.6" fill="#7c70d4" opacity="0.68"/>
<circle cx="596.6" cy="712.7" r="1.4" fill="#7c70d4" opacity="0.45"/>
<circle cx="476.4" cy="768.5" r="1.1" fill="#a8a0e4" opacity="0.62"/>
<circle cx="588.2" cy="690.8" r="1.8" fill="#a8a0e4" opacity="0.47"/>
<circle cx="489.5" cy="683.4" r="0.9" fill="#a8a0e4" opacity="0.48"/>
<circle cx="513.4" cy="728.9" r="1.8" fill="#7c70d4" opacity="0.45"/>
<circle cx="621.2" cy="806.1" r="1.4" fill="#a8a0e4" opacity="0.41"/>
<circle cx="479.4" cy="701.9" r="1.2" fill="#a8a0e4" opacity="0.48"/>
<circle cx="638.1" cy="704.6" r="1.4" fill="#8c84dc" opacity="0.41"/>
<circle cx="528.0" cy="778.8" r="1.2" fill="#a8a0e4" opacity="0.65"/>
<circle cx="631.5" cy="733.7" r="1.4" fill="#8c84dc" opacity="0.53"/>
<circle cx="535.1" cy="714.0" r="0.9" fill="#a8a0e4" opacity="0.41"/>
<circle cx="536.7" cy="766.0" r="1.6" fill="#8c84dc" opacity="0.45"/>
<circle cx="564.1" cy="783.7" r="1.4" fill="#7c70d4" opacity="0.42"/>
<circle cx="513.1" cy="825.9" r="0.9" fill="#a8a0e4" opacity="0.49"/>
<circle cx="534.9" cy="679.3" r="1.6" fill="#8c84dc" opacity="0.56"/>
<circle cx="510.3" cy="679.2" r="1.5" fill="#7c70d4" opacity="0.47"/>
<circle cx="581.1" cy="754.7" r="1.5" fill="#a8a0e4" opacity="0.49"/>
<circle cx="603.3" cy="815.7" r="1.6" fill="#a8a0e4" opacity="0.55"/>
<circle cx="589.8" cy="663.0" r="0.9" fill="#a8a0e4" opacity="0.39"/>
<circle cx="576.8" cy="765.7" r="1.6" fill="#a8a0e4" opacity="0.53"/>
<circle cx="558.8" cy="766.7" r="1.6" fill="#a8a0e4" opacity="0.65"/>
<circle cx="452.6" cy="720.8" r="1.2" fill="#8c84dc" opacity="0.39"/>
<circle cx="623.6" cy="799.2" r="1.0" fill="#8c84dc" opacity="0.54"/>
<circle cx="523.5" cy="715.8" r="1.0" fill="#7c70d4" opacity="0.64"/>
<circle cx="613.7" cy="746.9" r="1.3" fill="#a8a0e4" opacity="0.64"/>
<circle cx="623.5" cy="690.5" r="1.3" fill="#7c70d4" opacity="0.49"/>
<circle cx="472.2" cy="782.8" r="0.9" fill="#a8a0e4" opacity="0.63"/>
<circle cx="627.1" cy="733.2" r="1.0" fill="#a8a0e4" opacity="0.45"/>
<circle cx="603.1" cy="768.6" r="1.5" fill="#8c84dc" opacity="0.65"/>
<circle cx="534.1" cy="796.9" r="0.9" fill="#8c84dc" opacity="0.64"/>
<circle cx="636.6" cy="775.7" r="1.0" fill="#7c70d4" opacity="0.54"/>
<circle cx="609.7" cy="663.5" r="1.8" fill="#8c84dc" opacity="0.64"/>
<circle cx="472.3" cy="758.4" r="1.3" fill="#a8a0e4" opacity="0.61"/>
<circle cx="528.8" cy="822.9" r="1.6" fill="#a8a0e4" opacity="0.42"/>
<circle cx="488.6" cy="814.6" r="1.1" fill="#7c70d4" opacity="0.52"/>
<circle cx="495.6" cy="714.9" r="1.3" fill="#7c70d4" opacity="0.57"/>
<circle cx="541.0" cy="731.1" r="1.4" fill="#8c84dc" opacity="0.68"/>
<circle cx="623.6" cy="703.5" r="1.5" fill="#7c70d4" opacity="0.66"/>
<circle cx="576.7" cy="730.4" r="1.4" fill="#7c70d4" opacity="0.50"/>
<circle cx="630.7" cy="737.2" r="1.6" fill="#a8a0e4" opacity="0.43"/>
<circle cx="508.5" cy="695.1" r="1.8" fill="#a8a0e4" opacity="0.58"/>
<circle cx="556.7" cy="782.5" r="0.9" fill="#8c84dc" opacity="0.58"/>
<circle cx="594.4" cy="815.4" r="1.0" fill="#a8a0e4" opacity="0.54"/>
<circle cx="569.1" cy="792.3" r="1.7" fill="#8c84dc" opacity="0.56"/>
<circle cx="465.5" cy="766.2" r="1.0" fill="#8c84dc" opacity="0.58"/>
<circle cx="621.5" cy="772.9" r="1.3" fill="#7c70d4" opacity="0.51"/>
<circle cx="625.2" cy="687.7" r="1.0" fill="#7c70d4" opacity="0.58"/>
<circle cx="511.2" cy="728.2" r="1.0" fill="#a8a0e4" opacity="0.57"/>
<circle cx="527.4" cy="741.7" r="1.7" fill="#7c70d4" opacity="0.66"/>
<circle cx="619.2" cy="709.0" r="1.4" fill="#7c70d4" opacity="0.55"/>
<circle cx="645.7" cy="719.3" r="1.6" fill="#8c84dc" opacity="0.66"/>
<circle cx="471.5" cy="726.1" r="1.4" fill="#a8a0e4" opacity="0.38"/>
<circle cx="625.5" cy="711.6" r="1.7" fill="#7c70d4" opacity="0.36"/>
<circle cx="481.2" cy="729.4" r="1.8" fill="#7c70d4" opacity="0.50"/>
<circle cx="587.7" cy="754.4" r="1.7" fill="#8c84dc" opacity="0.39"/>
<circle cx="488.5" cy="715.2" r="0.9" fill="#7c70d4" opacity="0.67"/>
<circle cx="610.6" cy="776.5" r="1.0" fill="#a8a0e4" opacity="0.37"/>
<circle cx="594.8" cy="666.5" r="1.8" fill="#8c84dc" opacity="0.40"/>
<circle cx="610.7" cy="685.6" r="1.1" fill="#7c70d4" opacity="0.48"/>
<circle cx="476.9" cy="766.9" r="1.6" fill="#8c84dc" opacity="0.66"/>
<circle cx="465.1" cy="793.3" r="1.7" fill="#a8a0e4" opacity="0.70"/>
<circle cx="520.8" cy="660.8" r="1.7" fill="#a8a0e4" opacity="0.62"/>
<circle cx="590.8" cy="778.0" r="1.2" fill="#8c84dc" opacity="0.43"/>
<circle cx="602.0" cy="675.3" r="1.7" fill="#a8a0e4" opacity="0.66"/>
<circle cx="604.9" cy="763.6" r="1.7" fill="#8c84dc" opacity="0.56"/>
<circle cx="605.1" cy="654.5" r="1.2" fill="#7c70d4" opacity="0.45"/>
<circle cx="563.3" cy="722.5" r="1.1" fill="#a8a0e4" opacity="0.55"/>
<circle cx="635.5" cy="691.1" r="1.6" fill="#a8a0e4" opacity="0.40"/>
<circle cx="647.8" cy="741.7" r="1.3" fill="#a8a0e4" opacity="0.38"/>
<circle cx="540.5" cy="750.3" r="1.0" fill="#8c84dc" opacity="0.37"/>
<circle cx="528.3" cy="640.5" r="1.8" fill="#8c84dc" opacity="0.61"/>
<circle cx="625.1" cy="730.3" r="1.5" fill="#7c70d4" opacity="0.60"/>
<circle cx="600.3" cy="671.7" r="1.2" fill="#8c84dc" opacity="0.69"/>
<circle cx="574.4" cy="752.7" r="1.6" fill="#a8a0e4" opacity="0.64"/>
<circle cx="530.9" cy="648.2" r="1.1" fill="#8c84dc" opacity="0.42"/>
<circle cx="613.4" cy="794.5" r="0.9" fill="#a8a0e4" opacity="0.37"/>
<circle cx="528.0" cy="783.0" r="0.8" fill="#a8a0e4" opacity="0.41"/>
<circle cx="606.1" cy="766.4" r="1.7" fill="#8c84dc" opacity="0.52"/>
<circle cx="572.3" cy="717.5" r="1.3" fill="#7c70d4" opacity="0.69"/>
<circle cx="502.4" cy="676.6" r="1.3" fill="#a8a0e4" opacity="0.55"/>
<circle cx="503.7" cy="691.9" r="1.4" fill="#a8a0e4" opacity="0.62"/>
<circle cx="556.7" cy="822.7" r="1.3" fill="#7c70d4" opacity="0.56"/>
<circle cx="568.8" cy="697.3" r="1.6" fill="#8c84dc" opacity="0.41"/>
<circle cx="463.3" cy="779.5" r="1.0" fill="#7c70d4" opacity="0.59"/>
<circle cx="582.3" cy="716.3" r="1.7" fill="#7c70d4" opacity="0.52"/>
<circle cx="644.0" cy="728.3" r="0.8" fill="#7c70d4" opacity="0.39"/>
<circle cx="544.4" cy="827.1" r="1.5" fill="#7c70d4" opacity="0.45"/>
<circle cx="459.1" cy="777.4" r="0.9" fill="#7c70d4" opacity="0.35"/>
<circle cx="604.4" cy="675.3" r="1.3" fill="#7c70d4" opacity="0.36"/>
<circle cx="611.5" cy="701.5" r="0.8" fill="#8c84dc" opacity="0.50"/>
<circle cx="474.1" cy="674.4" r="1.6" fill="#a8a0e4" opacity="0.37"/>
<circle cx="511.9" cy="764.6" r="1.1" fill="#7c70d4" opacity="0.54"/>
<circle cx="514.1" cy="765.3" r="1.1" fill="#8c84dc" opacity="0.67"/>
<circle cx="463.9" cy="762.6" r="1.6" fill="#8c84dc" opacity="0.62"/>
<circle cx="609.9" cy="778.2" r="1.4" fill="#a8a0e4" opacity="0.63"/>
<circle cx="486.9" cy="736.2" r="1.4" fill="#7c70d4" opacity="0.52"/>
<circle cx="552.3" cy="761.5" r="1.1" fill="#a8a0e4" opacity="0.51"/>
<circle cx="527.9" cy="825.9" r="1.0" fill="#7c70d4" opacity="0.53"/>
<circle cx="625.5" cy="784.9" r="1.8" fill="#8c84dc" opacity="0.53"/>
<circle cx="581.0" cy="782.7" r="0.8" fill="#7c70d4" opacity="0.51"/>
<circle cx="521.9" cy="673.8" r="0.9" fill="#8c84dc" opacity="0.41"/>
<circle cx="593.7" cy="673.3" r="1.4" fill="#8c84dc" opacity="0.40"/>
<circle cx="464.9" cy="682.2" r="0.8" fill="#8c84dc" opacity="0.64"/>
<circle cx="624.1" cy="693.8" r="1.0" fill="#7c70d4" opacity="0.50"/>
<circle cx="609.3" cy="793.6" r="1.1" fill="#8c84dc" opacity="0.68"/>
<circle cx="484.7" cy="672.4" r="1.7" fill="#8c84dc" opacity="0.37"/>
<circle cx="557.7" cy="762.0" r="0.9" fill="#7c70d4" opacity="0.50"/>
<circle cx="515.3" cy="646.7" r="1.6" fill="#8c84dc" opacity="0.44"/>
<circle cx="497.9" cy="672.4" r="1.1" fill="#a8a0e4" opacity="0.42"/>
<circle cx="521.6" cy="677.4" r="1.0" fill="#7c70d4" opacity="0.56"/>
<circle cx="535.3" cy="788.1" r="1.7" fill="#a8a0e4" opacity="0.52"/>
<circle cx="609.9" cy="667.5" r="1.3" fill="#7c70d4" opacity="0.61"/>
<circle cx="639.0" cy="744.0" r="1.4" fill="#7c70d4" opacity="0.53"/>
<circle cx="514.8" cy="747.0" r="1.6" fill="#a8a0e4" opacity="0.52"/>
<circle cx="628.8" cy="730.4" r="0.9" fill="#7c70d4" opacity="0.64"/>
<circle cx="535.2" cy="673.7" r="1.2" fill="#7c70d4" opacity="0.48"/>
<circle cx="500.4" cy="668.1" r="1.5" fill="#a8a0e4" opacity="0.56"/>
<circle cx="579.3" cy="798.8" r="1.4" fill="#a8a0e4" opacity="0.36"/>
<circle cx="473.5" cy="780.6" r="1.3" fill="#a8a0e4" opacity="0.63"/>
<circle cx="541.1" cy="645.6" r="1.6" fill="#7c70d4" opacity="0.55"/>
<circle cx="527.5" cy="641.5" r="1.1" fill="#a8a0e4" opacity="0.35"/>
<circle cx="608.3" cy="670.2" r="1.6" fill="#7c70d4" opacity="0.69"/>
<circle cx="565.2" cy="710.7" r="1.2" fill="#a8a0e4" opacity="0.67"/>
<circle cx="464.5" cy="728.6" r="1.4" fill="#7c70d4" opacity="0.46"/>
<circle cx="611.0" cy="797.3" r="1.3" fill="#8c84dc" opacity="0.66"/>
<circle cx="470.0" cy="778.5" r="1.4" fill="#8c84dc" opacity="0.65"/>
<circle cx="464.3" cy="756.5" r="1.5" fill="#7c70d4" opacity="0.60"/>
<circle cx="466.5" cy="697.1" r="1.6" fill="#7c70d4" opacity="0.39"/>
<circle cx="469.0" cy="791.6" r="1.1" fill="#8c84dc" opacity="0.67"/>
<circle cx="546.4" cy="766.3" r="1.0" fill="#7c70d4" opacity="0.43"/>
<circle cx="635.4" cy="760.0" r="1.3" fill="#7c70d4" opacity="0.63"/>
<circle cx="510.9" cy="654.1" r="1.6" fill="#8c84dc" opacity="0.45"/>
<circle cx="489.7" cy="807.8" r="1.0" fill="#8c84dc" opacity="0.47"/>
<circle cx="518.3" cy="690.0" r="0.8" fill="#a8a0e4" opacity="0.62"/>
<circle cx="490.5" cy="697.2" r="1.8" fill="#a8a0e4" opacity="0.53"/>
<circle cx="609.6" cy="730.3" r="1.3" fill="#7c70d4" opacity="0.57"/>
<circle cx="604.6" cy="710.6" r="1.8" fill="#8c84dc" opacity="0.67"/>
<circle cx="593.6" cy="701.5" r="1.6" fill="#7c70d4" opacity="0.40"/>
<circle cx="561.0" cy="797.7" r="1.1" fill="#a8a0e4" opacity="0.43"/>
<circle cx="529.3" cy="773.2" r="1.6" fill="#7c70d4" opacity="0.37"/>
<circle cx="602.7" cy="767.1" r="1.2" fill="#7c70d4" opacity="0.55"/>
<circle cx="626.6" cy="792.1" r="1.3" fill="#a8a0e4" opacity="0.60"/>
<circle cx="467.4" cy="730.4" r="0.9" fill="#7c70d4" opacity="0.50"/>
<circle cx="583.1" cy="716.6" r="1.2" fill="#a8a0e4" opacity="0.62"/>
<circle cx="505.2" cy="653.5" r="0.8" fill="#7c70d4" opacity="0.50"/>
<circle cx="626.9" cy="743.2" r="1.4" fill="#7c70d4" opacity="0.64"/>
<circle cx="537.6" cy="687.9" r="0.9" fill="#7c70d4" opacity="0.43"/>
<circle cx="482.8" cy="774.1" r="1.2" fill="#7c70d4" opacity="0.45"/>
<circle cx="500.5" cy="720.3" r="1.3" fill="#7c70d4" opacity="0.38"/>
<circle cx="572.9" cy="649.7" r="0.9" fill="#a8a0e4" opacity="0.62"/>
<circle cx="492.5" cy="667.9" r="1.0" fill="#7c70d4" opacity="0.37"/>
<circle cx="583.5" cy="736.3" r="1.3" fill="#a8a0e4" opacity="0.52"/>
<circle cx="588.6" cy="814.7" r="0.8" fill="#8c84dc" opacity="0.66"/>
<circle cx="516.9" cy="775.2" r="1.5" fill="#8c84dc" opacity="0.46"/>
<circle cx="560.1" cy="691.7" r="1.1" fill="#a8a0e4" opacity="0.44"/>
<circle cx="587.2" cy="822.3" r="1.1" fill="#7c70d4" opacity="0.69"/>
<circle cx="461.4" cy="730.0" r="1.5" fill="#7c70d4" opacity="0.67"/>
<circle cx="498.8" cy="803.8" r="1.4" fill="#a8a0e4" opacity="0.37"/>
<circle cx="634.7" cy="758.7" r="1.7" fill="#8c84dc" opacity="0.40"/>
<circle cx="484.1" cy="711.0" r="1.7" fill="#7c70d4" opacity="0.62"/>
<circle cx="595.9" cy="730.9" r="1.1" fill="#8c84dc" opacity="0.62"/>
<circle cx="630.1" cy="695.7" r="1.0" fill="#7c70d4" opacity="0.46"/>
<circle cx="552.5" cy="742.8" r="1.4" fill="#a8a0e4" opacity="0.48"/>
<circle cx="589.0" cy="647.8" r="0.9" fill="#7c70d4" opacity="0.52"/>
<circle cx="510.7" cy="716.3" r="1.8" fill="#7c70d4" opacity="0.68"/>
<circle cx="580.0" cy="731.1" r="1.3" fill="#7c70d4" opacity="0.45"/>
<circle cx="535.1" cy="707.1" r="0.9" fill="#8c84dc" opacity="0.64"/>
<circle cx="571.2" cy="684.8" r="1.1" fill="#7c70d4" opacity="0.45"/>
<circle cx="569.7" cy="815.3" r="1.8" fill="#a8a0e4" opacity="0.46"/>
<circle cx="469.7" cy="782.6" r="1.5" fill="#8c84dc" opacity="0.68"/>
<circle cx="454.1" cy="733.2" r="1.3" fill="#8c84dc" opacity="0.52"/>
<circle cx="616.2" cy="706.0" r="0.9" fill="#a8a0e4" opacity="0.42"/>
<circle cx="561.8" cy="675.9" r="1.0" fill="#a8a0e4" opacity="0.53"/>
<circle cx="502.1" cy="663.5" r="0.8" fill="#8c84dc" opacity="0.38"/>
<circle cx="558.9" cy="662.6" r="1.6" fill="#a8a0e4" opacity="0.64"/>
<circle cx="594.9" cy="761.1" r="1.1" fill="#7c70d4" opacity="0.41"/>
<circle cx="505.3" cy="666.3" r="1.4" fill="#8c84dc" opacity="0.69"/>
<circle cx="502.2" cy="791.6" r="1.7" fill="#8c84dc" opacity="0.58"/>
<circle cx="452.1" cy="722.1" r="1.1" fill="#7c70d4" opacity="0.39"/>
<circle cx="560.3" cy="640.1" r="1.0" fill="#8c84dc" opacity="0.37"/>
<circle cx="582.6" cy="773.4" r="0.8" fill="#a8a0e4" opacity="0.42"/>
<circle cx="595.2" cy="777.9" r="1.5" fill="#8c84dc" opacity="0.70"/>
<circle cx="561.6" cy="744.4" r="1.3" fill="#a8a0e4" opacity="0.69"/>
<circle cx="635.1" cy="714.0" r="1.6" fill="#8c84dc" opacity="0.62"/>
<circle cx="503.8" cy="754.5" r="1.6" fill="#7c70d4" opacity="0.68"/>
<circle cx="488.3" cy="669.0" r="1.3" fill="#7c70d4" opacity="0.59"/>
<circle cx="644.1" cy="745.3" r="1.7" fill="#7c70d4" opacity="0.53"/>
<circle cx="577.5" cy="670.7" r="1.8" fill="#8c84dc" opacity="0.67"/>
<circle cx="523.8" cy="802.1" r="0.9" fill="#a8a0e4" opacity="0.64"/>
<circle cx="496.3" cy="758.4" r="0.8" fill="#8c84dc" opacity="0.64"/>
<circle cx="464.2" cy="758.6" r="1.2" fill="#8c84dc" opacity="0.56"/>
<circle cx="539.3" cy="658.3" r="1.1" fill="#a8a0e4" opacity="0.59"/>
<circle cx="595.4" cy="698.6" r="1.1" fill="#7c70d4" opacity="0.55"/>
<circle cx="461.5" cy="712.4" r="1.4" fill="#7c70d4" opacity="0.66"/>
<circle cx="627.8" cy="677.9" r="1.6" fill="#7c70d4" opacity="0.47"/>
<circle cx="466.3" cy="703.2" r="1.4" fill="#a8a0e4" opacity="0.66"/>
<circle cx="570.3" cy="830.4" r="1.2" fill="#a8a0e4" opacity="0.47"/>
<circle cx="584.1" cy="649.2" r="1.3" fill="#8c84dc" opacity="0.49"/>
<circle cx="610.7" cy="805.9" r="1.7" fill="#7c70d4" opacity="0.56"/>
<circle cx="501.6" cy="662.6" r="1.6" fill="#8c84dc" opacity="0.68"/>
<circle cx="638.3" cy="779.2" r="0.9" fill="#a8a0e4" opacity="0.59"/>
<circle cx="637.1" cy="690.7" r="1.8" fill="#7c70d4" opacity="0.46"/>
<circle cx="588.5" cy="746.4" r="1.2" fill="#a8a0e4" opacity="0.42"/>
<circle cx="526.7" cy="828.3" r="1.6" fill="#8c84dc" opacity="0.45"/>
<circle cx="505.3" cy="817.7" r="0.8" fill="#7c70d4" opacity="0.47"/>
<circle cx="577.8" cy="801.6" r="1.1" fill="#8c84dc" opacity="0.50"/>
<circle cx="536.2" cy="822.5" r="1.1" fill="#a8a0e4" opacity="0.44"/>
<circle cx="537.2" cy="699.4" r="1.3" fill="#a8a0e4" opacity="0.62"/>
<circle cx="587.8" cy="720.2" r="1.2" fill="#7c70d4" opacity="0.69"/>
<circle cx="533.7" cy="755.4" r="1.2" fill="#7c70d4" opacity="0.54"/>
<circle cx="519.7" cy="700.5" r="1.1" fill="#8c84dc" opacity="0.54"/>
<circle cx="515.1" cy="735.9" r="1.5" fill="#a8a0e4" opacity="0.38"/>
<circle cx="542.0" cy="753.8" r="1.1" fill="#7c70d4" opacity="0.59"/>
<circle cx="554.5" cy="828.4" r="1.6" fill="#a8a0e4" opacity="0.38"/>
<circle cx="521.7" cy="683.7" r="1.7" fill="#7c70d4" opacity="0.40"/>
<circle cx="520.6" cy="657.1" r="1.4" fill="#7c70d4" opacity="0.65"/>
<circle cx="578.7" cy="702.2" r="1.0" fill="#a8a0e4" opacity="0.54"/>
<circle cx="572.7" cy="694.7" r="1.2" fill="#7c70d4" opacity="0.61"/>
<circle cx="543.8" cy="676.5" r="1.5" fill="#8c84dc" opacity="0.48"/>
<circle cx="510.2" cy="715.9" r="1.7" fill="#7c70d4" opacity="0.68"/>
<circle cx="524.2" cy="701.7" r="1.5" fill="#7c70d4" opacity="0.43"/>
<circle cx="515.4" cy="657.7" r="1.1" fill="#8c84dc" opacity="0.37"/>
<circle cx="635.6" cy="690.7" r="1.1" fill="#7c70d4" opacity="0.68"/>
<circle cx="541.7" cy="781.7" r="1.8" fill="#8c84dc" opacity="0.62"/>
<circle cx="540.0" cy="677.6" r="1.5" fill="#8c84dc" opacity="0.62"/>
<circle cx="509.0" cy="683.8" r="1.5" fill="#a8a0e4" opacity="0.62"/>
<circle cx="469.8" cy="684.8" r="0.8" fill="#7c70d4" opacity="0.50"/>
<circle cx="623.6" cy="773.1" r="1.6" fill="#7c70d4" opacity="0.55"/>
<circle cx="463.5" cy="762.4" r="1.7" fill="#a8a0e4" opacity="0.56"/>
<circle cx="621.7" cy="791.1" r="1.6" fill="#7c70d4" opacity="0.41"/>
<circle cx="567.1" cy="762.2" r="1.4" fill="#8c84dc" opacity="0.58"/>
<circle cx="623.4" cy="789.2" r="1.7" fill="#8c84dc" opacity="0.58"/>
<circle cx="621.4" cy="786.8" r="0.9" fill="#a8a0e4" opacity="0.43"/>
<circle cx="581.7" cy="792.2" r="1.6" fill="#8c84dc" opacity="0.50"/>
<circle cx="475.7" cy="692.0" r="0.9" fill="#8c84dc" opacity="0.68"/>
<circle cx="595.0" cy="796.5" r="0.9" fill="#a8a0e4" opacity="0.49"/>
<circle cx="449.8" cy="741.5" r="1.2" fill="#8c84dc" opacity="0.59"/>
<circle cx="549.3" cy="828.6" r="0.9" fill="#8c84dc" opacity="0.65"/>
<circle cx="473.7" cy="774.6" r="1.4" fill="#a8a0e4" opacity="0.63"/>
<circle cx="498.6" cy="822.5" r="0.9" fill="#8c84dc" opacity="0.49"/>
<circle cx="527.9" cy="834.4" r="1.3" fill="#a8a0e4" opacity="0.38"/>
<circle cx="463.8" cy="695.5" r="1.3" fill="#a8a0e4" opacity="0.48"/>
<circle cx="449.8" cy="758.2" r="1.1" fill="#7c70d4" opacity="0.50"/>
<circle cx="448.2" cy="727.3" r="1.3" fill="#8c84dc" opacity="0.40"/>
<circle cx="527.6" cy="778.5" r="1.6" fill="#8c84dc" opacity="0.46"/>
<circle cx="597.3" cy="775.0" r="1.6" fill="#8c84dc" opacity="0.49"/>
<circle cx="565.7" cy="640.5" r="1.1" fill="#a8a0e4" opacity="0.52"/>
<circle cx="610.0" cy="718.3" r="1.5" fill="#8c84dc" opacity="0.63"/>
<circle cx="480.7" cy="689.9" r="1.5" fill="#8c84dc" opacity="0.57"/>
<circle cx="536.2" cy="659.8" r="1.4" fill="#7c70d4" opacity="0.59"/>
<circle cx="502.7" cy="657.0" r="1.7" fill="#8c84dc" opacity="0.64"/>
<circle cx="469.9" cy="763.9" r="1.3" fill="#a8a0e4" opacity="0.49"/>
<circle cx="501.4" cy="734.3" r="1.4" fill="#a8a0e4" opacity="0.36"/>
<circle cx="633.2" cy="686.9" r="1.3" fill="#8c84dc" opacity="0.51"/>
<circle cx="621.6" cy="672.2" r="1.1" fill="#7c70d4" opacity="0.58"/>
<circle cx="501.3" cy="798.6" r="0.8" fill="#7c70d4" opacity="0.35"/>
<circle cx="583.3" cy="746.4" r="1.7" fill="#8c84dc" opacity="0.49"/>
<circle cx="592.8" cy="752.3" r="0.9" fill="#a8a0e4" opacity="0.52"/>
<circle cx="525.2" cy="714.9" r="0.9" fill="#7c70d4" opacity="0.39"/>
<circle cx="576.5" cy="701.9" r="1.3" fill="#a8a0e4" opacity="0.48"/>
<circle cx="501.4" cy="654.4" r="1.3" fill="#a8a0e4" opacity="0.45"/>
<circle cx="576.2" cy="782.9" r="1.4" fill="#7c70d4" opacity="0.70"/>
<circle cx="561.2" cy="763.8" r="1.3" fill="#8c84dc" opacity="0.45"/>
<circle cx="537.6" cy="766.1" r="0.8" fill="#8c84dc" opacity="0.45"/>
<circle cx="520.8" cy="728.7" r="0.8" fill="#8c84dc" opacity="0.57"/>
<circle cx="564.6" cy="718.6" r="1.7" fill="#a8a0e4" opacity="0.68"/>
<circle cx="589.9" cy="810.3" r="0.9" fill="#8c84dc" opacity="0.42"/>
<circle cx="531.0" cy="647.4" r="1.4" fill="#8c84dc" opacity="0.66"/>
<circle cx="545.8" cy="756.0" r="1.1" fill="#8c84dc" opacity="0.50"/>
<circle cx="551.8" cy="668.9" r="0.9" fill="#8c84dc" opacity="0.53"/>
<circle cx="500.8" cy="786.2" r="1.4" fill="#8c84dc" opacity="0.38"/>
<circle cx="486.3" cy="691.9" r="1.4" fill="#7c70d4" opacity="0.67"/>
<circle cx="622.6" cy="770.7" r="1.4" fill="#8c84dc" opacity="0.54"/>
<circle cx="475.5" cy="686.7" r="1.5" fill="#7c70d4" opacity="0.60"/>
<circle cx="544.9" cy="830.0" r="1.5" fill="#8c84dc" opacity="0.37"/>
<circle cx="478.5" cy="762.5" r="1.0" fill="#8c84dc" opacity="0.63"/>
<circle cx="629.2" cy="696.5" r="1.7" fill="#a8a0e4" opacity="0.58"/>
<circle cx="506.6" cy="810.1" r="1.6" fill="#8c84dc" opacity="0.47"/>
<circle cx="615.9" cy="678.7" r="1.3" fill="#8c84dc" opacity="0.58"/>
<circle cx="566.8" cy="692.1" r="1.2" fill="#7c70d4" opacity="0.40"/>
<circle cx="548.7" cy="780.0" r="1.3" fill="#7c70d4" opacity="0.54"/>
<circle cx="504.7" cy="813.7" r="1.2" fill="#7c70d4" opacity="0.45"/>
<circle cx="450.0" cy="717.0" r="1.3" fill="#8c84dc" opacity="0.39"/>
<circle cx="641.7" cy="724.0" r="0.8" fill="#7c70d4" opacity="0.44"/>
<circle cx="552.7" cy="722.7" r="1.2" fill="#7c70d4" opacity="0.40"/>
<circle cx="636.6" cy="778.3" r="1.5" fill="#a8a0e4" opacity="0.47"/>
<circle cx="616.2" cy="676.9" r="1.7" fill="#7c70d4" opacity="0.66"/>
<circle cx="590.7" cy="662.3" r="1.4" fill="#8c84dc" opacity="0.38"/>
<circle cx="457.6" cy="696.4" r="1.1" fill="#7c70d4" opacity="0.51"/>
<circle cx="525.2" cy="738.2" r="1.1" fill="#a8a0e4" opacity="0.46"/>
<circle cx="545.8" cy="648.0" r="1.1" fill="#7c70d4" opacity="0.65"/>
<circle cx="484.0" cy="807.0" r="1.2" fill="#a8a0e4" opacity="0.56"/>
<circle cx="524.7" cy="831.3" r="1.1" fill="#8c84dc" opacity="0.57"/>
<circle cx="534.1" cy="804.6" r="1.6" fill="#7c70d4" opacity="0.53"/>
<circle cx="457.0" cy="752.9" r="1.7" fill="#8c84dc" opacity="0.58"/>
<circle cx="526.7" cy="657.4" r="1.0" fill="#8c84dc" opacity="0.56"/>
<circle cx="498.0" cy="732.3" r="1.0" fill="#7c70d4" opacity="0.51"/>
<circle cx="570.9" cy="658.4" r="1.0" fill="#7c70d4" opacity="0.69"/>
<circle cx="527.7" cy="691.8" r="1.5" fill="#a8a0e4" opacity="0.49"/>
<circle cx="591.5" cy="828.1" r="0.8" fill="#8c84dc" opacity="0.42"/>
<circle cx="513.3" cy="767.2" r="0.9" fill="#a8a0e4" opacity="0.55"/>
<circle cx="510.9" cy="784.7" r="1.5" fill="#a8a0e4" opacity="0.53"/>
<circle cx="586.6" cy="748.3" r="1.4" fill="#8c84dc" opacity="0.51"/>
<circle cx="641.4" cy="743.2" r="1.2" fill="#7c70d4" opacity="0.42"/>
<circle cx="537.0" cy="779.9" r="1.7" fill="#7c70d4" opacity="0.67"/>
<circle cx="457.6" cy="727.9" r="1.1" fill="#7c70d4" opacity="0.67"/>
<circle cx="515.4" cy="731.9" r="0.9" fill="#a8a0e4" opacity="0.39"/>
<circle cx="541.8" cy="771.7" r="1.0" fill="#8c84dc" opacity="0.53"/>
<circle cx="616.0" cy="780.5" r="1.3" fill="#8c84dc" opacity="0.50"/>
<circle cx="593.4" cy="700.1" r="1.3" fill="#7c70d4" opacity="0.60"/>
<circle cx="461.4" cy="697.3" r="1.6" fill="#a8a0e4" opacity="0.37"/>
<circle cx="525.6" cy="644.8" r="1.3" fill="#8c84dc" opacity="0.59"/>
<circle cx="559.6" cy="815.8" r="1.0" fill="#8c84dc" opacity="0.45"/>
<circle cx="625.1" cy="695.2" r="1.7" fill="#7c70d4" opacity="0.42"/>
<circle cx="602.8" cy="811.3" r="1.4" fill="#8c84dc" opacity="0.62"/>
<circle cx="629.5" cy="694.3" r="1.5" fill="#8c84dc" opacity="0.46"/>
<circle cx="613.8" cy="679.9" r="1.4" fill="#8c84dc" opacity="0.40"/>
<circle cx="594.5" cy="737.2" r="1.0" fill="#a8a0e4" opacity="0.68"/>
<circle cx="583.6" cy="663.7" r="1.7" fill="#a8a0e4" opacity="0.51"/>
<circle cx="588.8" cy="830.2" r="1.5" fill="#a8a0e4" opacity="0.65"/>
<circle cx="523.5" cy="649.3" r="1.1" fill="#7c70d4" opacity="0.60"/>
<circle cx="632.1" cy="792.7" r="1.0" fill="#8c84dc" opacity="0.69"/>
<circle cx="540.5" cy="814.3" r="1.3" fill="#7c70d4" opacity="0.46"/>
<circle cx="493.5" cy="673.9" r="1.6" fill="#7c70d4" opacity="0.69"/>
<circle cx="490.9" cy="821.5" r="1.3" fill="#a8a0e4" opacity="0.49"/>
<circle cx="590.0" cy="801.5" r="1.6" fill="#8c84dc" opacity="0.45"/>
<circle cx="578.7" cy="789.0" r="0.8" fill="#a8a0e4" opacity="0.60"/>
<circle cx="559.2" cy="833.2" r="0.9" fill="#a8a0e4" opacity="0.64"/>
<circle cx="579.4" cy="751.7" r="1.8" fill="#a8a0e4" opacity="0.59"/>
<circle cx="611.0" cy="668.2" r="1.1" fill="#a8a0e4" opacity="0.47"/>
<circle cx="597.0" cy="708.2" r="1.1" fill="#8c84dc" opacity="0.44"/>
<circle cx="452.7" cy="754.6" r="1.5" fill="#a8a0e4" opacity="0.43"/>
<circle cx="598.0" cy="761.1" r="0.9" fill="#7c70d4" opacity="0.47"/>
<circle cx="565.9" cy="703.2" r="1.6" fill="#8c84dc" opacity="0.45"/>
<circle cx="628.8" cy="765.8" r="1.4" fill="#8c84dc" opacity="0.58"/>
<circle cx="643.7" cy="768.0" r="1.4" fill="#a8a0e4" opacity="0.55"/>
<circle cx="547.2" cy="713.2" r="1.2" fill="#8c84dc" opacity="0.65"/>
<circle cx="634.1" cy="688.2" r="1.3" fill="#8c84dc" opacity="0.43"/>
<circle cx="521.1" cy="775.4" r="0.9" fill="#8c84dc" opacity="0.41"/>
<circle cx="597.0" cy="756.8" r="1.3" fill="#8c84dc" opacity="0.62"/>
<circle cx="499.4" cy="677.0" r="1.8" fill="#a8a0e4" opacity="0.68"/>
<circle cx="623.7" cy="678.2" r="0.8" fill="#7c70d4" opacity="0.49"/>
<circle cx="477.5" cy="760.9" r="1.3" fill="#8c84dc" opacity="0.53"/>
<circle cx="611.8" cy="761.3" r="1.3" fill="#a8a0e4" opacity="0.64"/>
<circle cx="508.2" cy="747.1" r="1.4" fill="#a8a0e4" opacity="0.54"/>
<circle cx="512.8" cy="685.1" r="1.5" fill="#7c70d4" opacity="0.59"/>
<circle cx="569.7" cy="668.2" r="1.6" fill="#8c84dc" opacity="0.41"/>
<circle cx="630.2" cy="768.1" r="1.0" fill="#8c84dc" opacity="0.41"/>
<circle cx="554.8" cy="769.8" r="0.9" fill="#8c84dc" opacity="0.69"/>
<circle cx="619.7" cy="687.7" r="1.8" fill="#8c84dc" opacity="0.57"/>
<circle cx="613.5" cy="751.3" r="1.6" fill="#8c84dc" opacity="0.64"/>
<circle cx="527.1" cy="815.6" r="0.9" fill="#a8a0e4" opacity="0.50"/>
<circle cx="596.0" cy="814.4" r="1.5" fill="#7c70d4" opacity="0.48"/>
<circle cx="500.3" cy="656.8" r="1.4" fill="#8c84dc" opacity="0.58"/>
<circle cx="598.3" cy="663.1" r="1.6" fill="#7c70d4" opacity="0.62"/>
<circle cx="499.4" cy="761.0" r="1.0" fill="#a8a0e4" opacity="0.55"/>
<circle cx="631.6" cy="696.4" r="1.8" fill="#8c84dc" opacity="0.51"/>
<circle cx="481.2" cy="788.3" r="0.9" fill="#7c70d4" opacity="0.67"/>
<circle cx="472.3" cy="704.5" r="1.1" fill="#a8a0e4" opacity="0.60"/>
<circle cx="577.6" cy="667.0" r="1.2" fill="#7c70d4" opacity="0.60"/>
<circle cx="609.9" cy="718.6" r="1.0" fill="#7c70d4" opacity="0.49"/>
<circle cx="554.5" cy="663.5" r="1.7" fill="#a8a0e4" opacity="0.41"/>
<circle cx="542.8" cy="838.3" r="1.0" fill="#7c70d4" opacity="0.39"/>
<circle cx="457.6" cy="765.1" r="1.6" fill="#8c84dc" opacity="0.69"/>
<circle cx="477.8" cy="732.4" r="1.8" fill="#8c84dc" opacity="0.55"/>
<circle cx="548.0" cy="775.9" r="2.0" fill="#3224b8" opacity="0.95"/>
<circle cx="592.9" cy="659.0" r="2.0" fill="#4a3cd0" opacity="0.94"/>
<circle cx="620.5" cy="758.0" r="1.5" fill="#3a2cc8" opacity="0.87"/>
<circle cx="584.2" cy="677.1" r="2.0" fill="#3224b8" opacity="0.90"/>
<circle cx="595.1" cy="707.0" r="1.1" fill="#4a3cd0" opacity="0.79"/>
<circle cx="503.9" cy="769.2" r="1.4" fill="#4a3cd0" opacity="0.77"/>
<circle cx="562.7" cy="646.7" r="1.4" fill="#4a3cd0" opacity="0.90"/>
<circle cx="454.8" cy="744.8" r="2.1" fill="#3a2cc8" opacity="0.94"/>
<circle cx="480.9" cy="802.2" r="1.2" fill="#3224b8" opacity="0.93"/>
<circle cx="602.7" cy="681.8" r="1.6" fill="#3a2cc8" opacity="0.93"/>
<circle cx="474.3" cy="708.5" r="1.6" fill="#4a3cd0" opacity="0.92"/>
<circle cx="578.7" cy="724.3" r="2.1" fill="#3224b8" opacity="0.83"/>
<circle cx="581.4" cy="669.3" r="2.3" fill="#3224b8" opacity="0.97"/>
<circle cx="523.9" cy="672.7" r="1.6" fill="#4a3cd0" opacity="0.96"/>
<circle cx="512.5" cy="782.4" r="1.1" fill="#3a2cc8" opacity="0.98"/>
<circle cx="575.5" cy="644.6" r="2.0" fill="#4a3cd0" opacity="0.99"/>
<circle cx="623.8" cy="737.9" r="1.4" fill="#3224b8" opacity="0.91"/>
<circle cx="479.5" cy="807.5" r="1.1" fill="#3224b8" opacity="0.88"/>
<circle cx="499.1" cy="803.0" r="1.6" fill="#3a2cc8" opacity="0.91"/>
<circle cx="530.0" cy="743.6" r="1.1" fill="#3a2cc8" opacity="0.81"/>
<circle cx="552.4" cy="801.0" r="2.3" fill="#3a2cc8" opacity="0.86"/>
<circle cx="592.1" cy="829.3" r="1.8" fill="#3a2cc8" opacity="0.79"/>
<circle cx="473.6" cy="769.8" r="1.0" fill="#3224b8" opacity="0.90"/>
<circle cx="526.2" cy="645.1" r="1.7" fill="#3a2cc8" opacity="1.00"/>
<circle cx="622.1" cy="772.4" r="2.0" fill="#3224b8" opacity="0.76"/>
<circle cx="615.6" cy="717.5" r="2.2" fill="#3a2cc8" opacity="0.94"/>
<circle cx="528.7" cy="779.9" r="1.6" fill="#3224b8" opacity="0.85"/>
<circle cx="469.2" cy="714.1" r="1.3" fill="#4a3cd0" opacity="0.92"/>
<circle cx="591.2" cy="807.0" r="1.3" fill="#4a3cd0" opacity="0.91"/>
<circle cx="612.7" cy="773.4" r="1.9" fill="#3a2cc8" opacity="0.97"/>
<circle cx="463.9" cy="782.7" r="2.1" fill="#3224b8" opacity="0.77"/>
<circle cx="587.1" cy="727.4" r="2.0" fill="#3224b8" opacity="1.00"/>
<circle cx="494.9" cy="652.9" r="2.3" fill="#4a3cd0" opacity="0.76"/>
<circle cx="566.4" cy="784.4" r="1.9" fill="#4a3cd0" opacity="0.98"/>
<circle cx="552.8" cy="755.0" r="2.2" fill="#3224b8" opacity="0.84"/>
<circle cx="457.9" cy="769.4" r="2.3" fill="#4a3cd0" opacity="0.78"/>
<circle cx="619.3" cy="742.4" r="2.2" fill="#3224b8" opacity="0.85"/>
<circle cx="526.9" cy="796.3" r="1.8" fill="#3a2cc8" opacity="0.96"/>
<circle cx="618.5" cy="757.2" r="1.3" fill="#4a3cd0" opacity="0.96"/>
<circle cx="563.2" cy="821.9" r="2.0" fill="#3224b8" opacity="0.98"/>
<circle cx="540.4" cy="698.8" r="2.1" fill="#4a3cd0" opacity="0.79"/>
<circle cx="546.4" cy="819.9" r="1.2" fill="#4a3cd0" opacity="0.86"/>
<circle cx="494.9" cy="723.1" r="1.5" fill="#4a3cd0" opacity="0.90"/>
<circle cx="634.9" cy="765.8" r="1.6" fill="#3a2cc8" opacity="0.98"/>
<circle cx="550.7" cy="691.1" r="1.5" fill="#3224b8" opacity="0.76"/>
<circle cx="601.5" cy="679.5" r="1.1" fill="#3a2cc8" opacity="0.88"/>
<circle cx="549.5" cy="763.1" r="1.4" fill="#3224b8" opacity="0.86"/>
<circle cx="570.7" cy="756.3" r="2.3" fill="#4a3cd0" opacity="0.76"/>
<circle cx="538.2" cy="683.6" r="2.2" fill="#4a3cd0" opacity="0.84"/>
<circle cx="514.9" cy="831.4" r="1.3" fill="#3224b8" opacity="0.99"/>
<circle cx="454.1" cy="718.2" r="1.8" fill="#3224b8" opacity="0.77"/>
<circle cx="573.7" cy="686.3" r="1.5" fill="#3224b8" opacity="0.84"/>
<circle cx="475.7" cy="806.1" r="2.1" fill="#3224b8" opacity="0.91"/>
<circle cx="573.8" cy="775.4" r="1.8" fill="#3a2cc8" opacity="0.84"/>
<circle cx="529.1" cy="788.9" r="1.7" fill="#3a2cc8" opacity="0.86"/>
<circle cx="574.0" cy="803.5" r="2.3" fill="#3a2cc8" opacity="0.85"/>
<circle cx="598.5" cy="805.0" r="1.7" fill="#3a2cc8" opacity="0.88"/>
<circle cx="596.1" cy="797.4" r="1.1" fill="#3a2cc8" opacity="0.85"/>
<circle cx="468.4" cy="754.9" r="1.5" fill="#4a3cd0" opacity="0.97"/>
<circle cx="628.7" cy="753.9" r="1.4" fill="#3a2cc8" opacity="0.79"/>
<circle cx="619.8" cy="797.9" r="1.6" fill="#3224b8" opacity="0.84"/>
<circle cx="546.7" cy="658.0" r="1.8" fill="#3a2cc8" opacity="0.86"/>
<circle cx="562.3" cy="783.3" r="1.6" fill="#4a3cd0" opacity="0.78"/>
<circle cx="583.2" cy="787.2" r="2.2" fill="#4a3cd0" opacity="0.80"/>
<circle cx="623.9" cy="721.6" r="1.5" fill="#3224b8" opacity="0.98"/>
<circle cx="587.6" cy="818.0" r="1.7" fill="#4a3cd0" opacity="0.78"/>
<circle cx="604.2" cy="670.2" r="2.1" fill="#3224b8" opacity="0.86"/>
<circle cx="522.1" cy="659.8" r="2.3" fill="#3224b8" opacity="0.82"/>
<circle cx="642.4" cy="731.8" r="1.5" fill="#3a2cc8" opacity="0.82"/>
<circle cx="594.7" cy="704.2" r="1.4" fill="#4a3cd0" opacity="0.89"/>
<circle cx="614.0" cy="715.1" r="1.9" fill="#3a2cc8" opacity="0.99"/>
<circle cx="597.7" cy="777.2" r="1.3" fill="#4a3cd0" opacity="0.78"/>
<circle cx="578.5" cy="828.8" r="1.6" fill="#3a2cc8" opacity="0.82"/>
<circle cx="552.3" cy="812.6" r="2.0" fill="#3224b8" opacity="0.95"/>
<circle cx="505.8" cy="704.3" r="1.5" fill="#3224b8" opacity="0.78"/>
<circle cx="535.8" cy="832.5" r="1.6" fill="#4a3cd0" opacity="0.84"/>
<circle cx="549.8" cy="818.2" r="1.1" fill="#4a3cd0" opacity="0.98"/>
<circle cx="557.6" cy="784.3" r="1.2" fill="#3224b8" opacity="0.92"/>
<circle cx="468.4" cy="678.1" r="2.0" fill="#4a3cd0" opacity="0.86"/>
<circle cx="557.2" cy="679.5" r="2.0" fill="#4a3cd0" opacity="0.88"/>
<circle cx="530.2" cy="826.0" r="2.0" fill="#3224b8" opacity="0.80"/>
<circle cx="480.9" cy="793.4" r="1.2" fill="#3224b8" opacity="0.94"/>
<circle cx="622.2" cy="720.3" r="1.3" fill="#3a2cc8" opacity="0.84"/>
<circle cx="635.0" cy="771.1" r="2.3" fill="#3224b8" opacity="0.78"/>
<circle cx="572.1" cy="768.0" r="2.2" fill="#4a3cd0" opacity="0.75"/>
<circle cx="542.7" cy="725.8" r="1.9" fill="#3224b8" opacity="0.97"/>
<circle cx="548.8" cy="785.4" r="2.3" fill="#3a2cc8" opacity="0.85"/>
<circle cx="451.3" cy="728.5" r="1.2" fill="#3a2cc8" opacity="0.98"/>
<circle cx="507.0" cy="660.6" r="1.1" fill="#3a2cc8" opacity="1.00"/>
<circle cx="620.4" cy="706.0" r="2.1" fill="#3224b8" opacity="0.84"/>
<circle cx="620.3" cy="805.3" r="1.8" fill="#3224b8" opacity="0.92"/>
<circle cx="618.0" cy="688.8" r="1.9" fill="#3224b8" opacity="0.78"/>
<circle cx="549.8" cy="767.7" r="1.8" fill="#4a3cd0" opacity="0.89"/>
<circle cx="504.5" cy="773.5" r="1.6" fill="#3224b8" opacity="0.93"/>
<circle cx="540.2" cy="823.5" r="1.3" fill="#3a2cc8" opacity="0.92"/>
<circle cx="524.2" cy="826.8" r="1.4" fill="#3224b8" opacity="0.99"/>
<circle cx="645.7" cy="757.2" r="1.2" fill="#3a2cc8" opacity="0.92"/>
<circle cx="608.2" cy="786.7" r="1.5" fill="#3224b8" opacity="0.87"/>
<circle cx="626.8" cy="698.9" r="1.4" fill="#4a3cd0" opacity="0.98"/>
<circle cx="590.3" cy="804.7" r="1.8" fill="#3a2cc8" opacity="0.84"/>
<circle cx="619.4" cy="792.2" r="1.4" fill="#3a2cc8" opacity="0.93"/>
<circle cx="559.2" cy="746.8" r="1.0" fill="#3224b8" opacity="0.83"/>
<circle cx="584.6" cy="788.2" r="2.2" fill="#3224b8" opacity="0.82"/>
<circle cx="501.9" cy="785.2" r="1.4" fill="#3a2cc8" opacity="0.77"/>
<circle cx="497.0" cy="663.6" r="1.9" fill="#3224b8" opacity="0.81"/>
<circle cx="503.1" cy="812.9" r="1.4" fill="#4a3cd0" opacity="0.89"/>
<circle cx="490.2" cy="808.3" r="1.2" fill="#3224b8" opacity="0.75"/>
<circle cx="487.9" cy="754.4" r="1.7" fill="#3224b8" opacity="0.99"/>
<circle cx="481.1" cy="695.6" r="1.8" fill="#4a3cd0" opacity="0.96"/>
<circle cx="564.3" cy="731.7" r="2.0" fill="#3224b8" opacity="0.92"/>
<circle cx="507.2" cy="781.9" r="1.9" fill="#4a3cd0" opacity="0.87"/>
<circle cx="597.5" cy="721.9" r="1.1" fill="#3a2cc8" opacity="0.80"/>
<circle cx="563.6" cy="821.0" r="1.4" fill="#4a3cd0" opacity="0.82"/>
<circle cx="480.8" cy="748.6" r="1.2" fill="#3a2cc8" opacity="0.78"/>
<circle cx="556.8" cy="773.9" r="1.3" fill="#3a2cc8" opacity="0.98"/>
<circle cx="574.2" cy="698.8" r="2.0" fill="#3a2cc8" opacity="0.84"/>
<circle cx="589.4" cy="801.1" r="1.3" fill="#3224b8" opacity="0.85"/>
<circle cx="533.4" cy="832.3" r="2.2" fill="#3224b8" opacity="0.89"/>
<circle cx="581.6" cy="657.6" r="2.2" fill="#3a2cc8" opacity="0.81"/>
<circle cx="547.5" cy="834.7" r="1.2" fill="#3224b8" opacity="0.82"/>
<circle cx="631.0" cy="775.1" r="1.3" fill="#4a3cd0" opacity="0.81"/>
<circle cx="625.7" cy="779.6" r="2.2" fill="#4a3cd0" opacity="0.78"/>
<circle cx="611.6" cy="663.6" r="2.1" fill="#4a3cd0" opacity="0.92"/>
<circle cx="470.0" cy="704.3" r="1.3" fill="#4a3cd0" opacity="0.85"/>
<circle cx="547.3" cy="824.4" r="1.3" fill="#4a3cd0" opacity="0.93"/>
<circle cx="548.4" cy="781.3" r="1.1" fill="#3a2cc8" opacity="0.92"/>
<circle cx="521.3" cy="657.3" r="2.0" fill="#4a3cd0" opacity="0.82"/>
<circle cx="555.3" cy="836.3" r="1.5" fill="#4a3cd0" opacity="0.94"/>
<circle cx="617.3" cy="686.4" r="1.6" fill="#4a3cd0" opacity="0.76"/>
<circle cx="514.1" cy="703.2" r="1.9" fill="#3a2cc8" opacity="0.93"/>
<circle cx="500.9" cy="741.1" r="2.1" fill="#3224b8" opacity="0.88"/>
<circle cx="507.1" cy="807.4" r="1.1" fill="#3224b8" opacity="0.88"/>
<circle cx="481.1" cy="775.2" r="1.1" fill="#4a3cd0" opacity="0.87"/>
<circle cx="597.3" cy="700.9" r="1.6" fill="#3a2cc8" opacity="0.93"/>
<circle cx="542.0" cy="673.2" r="1.7" fill="#4a3cd0" opacity="0.77"/>
<circle cx="570.7" cy="696.1" r="1.1" fill="#3224b8" opacity="0.76"/>
<circle cx="533.4" cy="689.3" r="1.9" fill="#3224b8" opacity="0.93"/>
<circle cx="625.7" cy="732.5" r="1.9" fill="#3a2cc8" opacity="0.98"/>
<circle cx="618.3" cy="678.9" r="2.2" fill="#4a3cd0" opacity="0.84"/>
<circle cx="592.4" cy="809.6" r="2.2" fill="#4a3cd0" opacity="0.98"/>
<circle cx="557.2" cy="831.2" r="1.7" fill="#4a3cd0" opacity="0.76"/>
<circle cx="521.5" cy="668.1" r="1.3" fill="#3224b8" opacity="0.86"/>
<circle cx="493.6" cy="664.2" r="1.7" fill="#3a2cc8" opacity="0.91"/>
<circle cx="453.3" cy="727.5" r="1.9" fill="#3a2cc8" opacity="0.97"/>
<circle cx="574.9" cy="727.6" r="2.1" fill="#4a3cd0" opacity="0.78"/>
<circle cx="513.4" cy="769.9" r="1.9" fill="#3a2cc8" opacity="0.90"/>
<circle cx="625.8" cy="685.0" r="1.0" fill="#3a2cc8" opacity="0.98"/>
<circle cx="609.5" cy="802.8" r="1.5" fill="#4a3cd0" opacity="0.88"/>
<circle cx="546.0" cy="820.1" r="2.0" fill="#4a3cd0" opacity="0.85"/>
<circle cx="546.0" cy="677.8" r="1.1" fill="#3224b8" opacity="0.95"/>
<circle cx="639.3" cy="739.2" r="2.2" fill="#4a3cd0" opacity="0.82"/>
<circle cx="533.5" cy="756.7" r="2.3" fill="#3224b8" opacity="0.76"/>
<circle cx="498.6" cy="684.6" r="1.5" fill="#3224b8" opacity="0.96"/>
<circle cx="459.1" cy="754.8" r="1.4" fill="#3224b8" opacity="0.88"/>
<circle cx="501.5" cy="777.4" r="1.3" fill="#3224b8" opacity="0.84"/>
<circle cx="544.4" cy="768.7" r="2.2" fill="#3a2cc8" opacity="0.99"/>
<circle cx="544.7" cy="794.2" r="1.5" fill="#3a2cc8" opacity="0.86"/>
<circle cx="616.1" cy="712.8" r="2.3" fill="#3a2cc8" opacity="0.99"/>
<circle cx="567.7" cy="644.3" r="1.5" fill="#4a3cd0" opacity="0.85"/>
<circle cx="475.5" cy="761.1" r="2.1" fill="#4a3cd0" opacity="0.85"/>
<circle cx="570.4" cy="675.6" r="2.1" fill="#3224b8" opacity="0.75"/>
<circle cx="525.4" cy="819.9" r="1.3" fill="#3a2cc8" opacity="0.88"/>
<circle cx="543.2" cy="826.4" r="1.6" fill="#3a2cc8" opacity="0.89"/>
<circle cx="456.3" cy="748.7" r="2.0" fill="#4a3cd0" opacity="0.76"/>
<circle cx="582.3" cy="822.6" r="2.2" fill="#4a3cd0" opacity="0.90"/>
<circle cx="553.0" cy="662.0" r="1.4" fill="#4a3cd0" opacity="0.82"/>
<circle cx="481.8" cy="696.1" r="1.8" fill="#3224b8" opacity="0.90"/>
<circle cx="602.1" cy="813.6" r="1.1" fill="#3224b8" opacity="0.86"/>
<circle cx="539.2" cy="758.0" r="1.8" fill="#3224b8" opacity="0.98"/>
<circle cx="527.4" cy="784.5" r="2.2" fill="#3a2cc8" opacity="0.76"/>
<circle cx="599.9" cy="653.4" r="1.4" fill="#3224b8" opacity="0.84"/>
<circle cx="605.5" cy="793.7" r="2.2" fill="#3a2cc8" opacity="0.99"/>
<circle cx="632.0" cy="739.2" r="2.2" fill="#3224b8" opacity="0.81"/>
<circle cx="524.8" cy="796.8" r="1.0" fill="#4a3cd0" opacity="1.00"/>
<circle cx="520.1" cy="812.1" r="1.8" fill="#4a3cd0" opacity="0.85"/>
<circle cx="470.3" cy="743.4" r="1.8" fill="#4a3cd0" opacity="0.76"/>
<circle cx="541.1" cy="714.0" r="1.9" fill="#3224b8" opacity="0.89"/>
<circle cx="584.8" cy="654.7" r="1.1" fill="#4a3cd0" opacity="0.95"/>
<circle cx="624.2" cy="791.6" r="1.2" fill="#4a3cd0" opacity="0.86"/>
<circle cx="579.6" cy="799.4" r="1.7" fill="#4a3cd0" opacity="0.91"/>
<circle cx="602.6" cy="661.1" r="1.5" fill="#3224b8" opacity="0.84"/>
<circle cx="495.5" cy="667.1" r="1.7" fill="#3a2cc8" opacity="0.79"/>
<circle cx="587.6" cy="703.4" r="2.0" fill="#3224b8" opacity="0.81"/>
<circle cx="598.4" cy="662.0" r="2.2" fill="#4a3cd0" opacity="0.91"/>
<circle cx="557.9" cy="765.2" r="1.5" fill="#3224b8" opacity="0.88"/>
<circle cx="604.7" cy="754.5" r="1.6" fill="#3a2cc8" opacity="1.00"/>
<circle cx="628.3" cy="780.7" r="1.5" fill="#3224b8" opacity="0.80"/>
<circle cx="597.2" cy="695.6" r="1.7" fill="#4a3cd0" opacity="0.89"/>
<circle cx="539.6" cy="804.0" r="1.0" fill="#3a2cc8" opacity="0.95"/>
<circle cx="458.5" cy="734.4" r="1.4" fill="#3a2cc8" opacity="0.94"/>
<circle cx="626.4" cy="692.4" r="2.0" fill="#3a2cc8" opacity="0.89"/>
<circle cx="504.5" cy="756.7" r="1.7" fill="#4a3cd0" opacity="0.79"/>
<circle cx="603.7" cy="816.3" r="1.1" fill="#3a2cc8" opacity="0.82"/>
<circle cx="485.8" cy="685.5" r="2.0" fill="#4a3cd0" opacity="0.80"/>
<circle cx="574.1" cy="715.2" r="2.3" fill="#3224b8" opacity="0.86"/>
<circle cx="540.1" cy="717.6" r="1.2" fill="#3224b8" opacity="0.79"/>
<circle cx="522.8" cy="705.7" r="1.5" fill="#3a2cc8" opacity="0.76"/>
<circle cx="482.7" cy="768.8" r="2.2" fill="#4a3cd0" opacity="0.88"/>
<circle cx="588.4" cy="666.1" r="1.3" fill="#3224b8" opacity="0.87"/>
<circle cx="474.6" cy="788.4" r="2.1" fill="#3224b8" opacity="0.89"/>
<circle cx="566.3" cy="655.3" r="1.1" fill="#3224b8" opacity="0.89"/>
<circle cx="528.1" cy="821.0" r="1.3" fill="#3224b8" opacity="0.85"/>
<circle cx="553.3" cy="807.5" r="1.4" fill="#3a2cc8" opacity="0.75"/>
<circle cx="542.9" cy="700.3" r="1.8" fill="#3224b8" opacity="0.86"/>
<circle cx="578.1" cy="659.9" r="2.0" fill="#4a3cd0" opacity="0.91"/>
<circle cx="531.9" cy="827.8" r="2.3" fill="#4a3cd0" opacity="0.82"/>
<circle cx="608.6" cy="677.0" r="2.2" fill="#4a3cd0" opacity="0.94"/>
<circle cx="620.2" cy="673.2" r="1.0" fill="#3224b8" opacity="0.95"/>
<circle cx="612.0" cy="664.1" r="1.5" fill="#3224b8" opacity="0.86"/>
<circle cx="550.0" cy="817.3" r="1.1" fill="#4a3cd0" opacity="0.79"/>
<circle cx="469.0" cy="741.3" r="1.5" fill="#4a3cd0" opacity="0.88"/>
<circle cx="597.1" cy="786.7" r="1.1" fill="#4a3cd0" opacity="0.92"/>
<circle cx="559.0" cy="730.5" r="1.8" fill="#3224b8" opacity="0.89"/>
<circle cx="551.1" cy="664.4" r="2.0" fill="#3a2cc8" opacity="0.95"/>
<circle cx="487.2" cy="709.9" r="1.6" fill="#3a2cc8" opacity="0.98"/>
<circle cx="597.9" cy="811.4" r="2.2" fill="#4a3cd0" opacity="0.97"/>
<circle cx="609.9" cy="794.0" r="1.8" fill="#3a2cc8" opacity="0.84"/>
<circle cx="620.2" cy="773.2" r="1.9" fill="#3a2cc8" opacity="0.99"/>
<circle cx="546.3" cy="831.7" r="1.1" fill="#4a3cd0" opacity="0.85"/>
<circle cx="551.4" cy="722.6" r="1.6" fill="#3224b8" opacity="0.91"/>
<circle cx="473.4" cy="804.2" r="2.0" fill="#4a3cd0" opacity="0.77"/>
<circle cx="510.1" cy="703.7" r="1.8" fill="#3a2cc8" opacity="0.95"/>
<circle cx="516.5" cy="771.0" r="1.2" fill="#4a3cd0" opacity="0.79"/>
<circle cx="607.2" cy="707.9" r="1.2" fill="#4a3cd0" opacity="0.94"/>
<circle cx="581.3" cy="766.1" r="1.5" fill="#3224b8" opacity="0.76"/>
<circle cx="468.4" cy="685.1" r="1.1" fill="#3224b8" opacity="0.97"/>
<circle cx="631.5" cy="708.1" r="2.1" fill="#4a3cd0" opacity="0.83"/>
<circle cx="545.5" cy="641.4" r="1.2" fill="#4a3cd0" opacity="0.96"/>
<circle cx="504.1" cy="700.1" r="1.3" fill="#3a2cc8" opacity="0.84"/>
<circle cx="624.1" cy="715.2" r="1.3" fill="#3224b8" opacity="0.84"/>
<circle cx="497.7" cy="697.2" r="2.1" fill="#4a3cd0" opacity="0.82"/>
<circle cx="616.0" cy="776.1" r="2.2" fill="#4a3cd0" opacity="0.88"/>
<circle cx="500.8" cy="649.5" r="2.0" fill="#3224b8" opacity="0.83"/>
<circle cx="481.2" cy="678.4" r="1.2" fill="#3a2cc8" opacity="0.90"/>
<circle cx="597.5" cy="685.5" r="1.4" fill="#3224b8" opacity="0.86"/>
<circle cx="603.4" cy="668.3" r="1.4" fill="#3224b8" opacity="0.96"/>
<circle cx="551.1" cy="747.7" r="2.0" fill="#4a3cd0" opacity="0.94"/>
<circle cx="464.3" cy="731.0" r="1.9" fill="#3224b8" opacity="0.99"/>
<circle cx="526.7" cy="715.7" r="1.8" fill="#4a3cd0" opacity="0.75"/>
<circle cx="551.7" cy="780.2" r="2.1" fill="#3a2cc8" opacity="0.92"/>
<circle cx="566.6" cy="810.6" r="2.3" fill="#3224b8" opacity="0.79"/>
<circle cx="563.7" cy="641.3" r="1.7" fill="#3224b8" opacity="0.85"/>
<circle cx="533.4" cy="771.0" r="2.1" fill="#4a3cd0" opacity="0.91"/>
<circle cx="510.7" cy="823.2" r="1.7" fill="#3224b8" opacity="0.78"/>
<circle cx="599.3" cy="824.6" r="2.2" fill="#4a3cd0" opacity="0.98"/>
<circle cx="477.7" cy="720.7" r="1.5" fill="#3a2cc8" opacity="0.95"/>
<circle cx="546.4" cy="744.1" r="2.3" fill="#3224b8" opacity="0.79"/>
<circle cx="485.7" cy="810.6" r="2.1" fill="#3224b8" opacity="0.76"/>
<circle cx="454.7" cy="763.5" r="1.4" fill="#3a2cc8" opacity="0.82"/>
<circle cx="458.4" cy="756.4" r="2.1" fill="#3a2cc8" opacity="0.89"/>
<circle cx="508.4" cy="830.5" r="1.4" fill="#3a2cc8" opacity="0.81"/>
<circle cx="617.9" cy="703.1" r="1.2" fill="#3a2cc8" opacity="0.87"/>
<circle cx="616.1" cy="686.5" r="2.2" fill="#3224b8" opacity="0.98"/>
<circle cx="547.5" cy="663.4" r="2.2" fill="#4a3cd0" opacity="0.75"/>
<circle cx="582.3" cy="808.4" r="1.1" fill="#3a2cc8" opacity="0.76"/>
<circle cx="544.5" cy="826.1" r="1.2" fill="#3a2cc8" opacity="0.79"/>
<circle cx="453.0" cy="723.8" r="1.6" fill="#3a2cc8" opacity="0.86"/>
<circle cx="503.4" cy="811.5" r="1.1" fill="#4a3cd0" opacity="0.80"/>
<circle cx="607.8" cy="736.4" r="1.9" fill="#3224b8" opacity="0.77"/>
<circle cx="494.6" cy="684.3" r="1.9" fill="#3224b8" opacity="0.82"/>
<circle cx="601.6" cy="797.2" r="1.9" fill="#3a2cc8" opacity="0.82"/>
<circle cx="628.0" cy="791.9" r="1.3" fill="#3224b8" opacity="0.94"/>
<circle cx="484.8" cy="703.8" r="2.1" fill="#4a3cd0" opacity="0.88"/>
<circle cx="588.1" cy="769.2" r="1.3" fill="#3a2cc8" opacity="0.78"/>
<circle cx="470.2" cy="756.0" r="1.6" fill="#3224b8" opacity="0.94"/>
<circle cx="483.2" cy="728.2" r="1.8" fill="#4a3cd0" opacity="0.79"/>
<circle cx="644.8" cy="750.4" r="1.7" fill="#3224b8" opacity="0.91"/>
<circle cx="559.9" cy="832.9" r="1.4" fill="#4a3cd0" opacity="0.83"/>
<circle cx="597.5" cy="714.2" r="1.9" fill="#3224b8" opacity="0.84"/>
<circle cx="518.9" cy="646.1" r="1.3" fill="#3a2cc8" opacity="0.75"/>
<circle cx="527.6" cy="795.6" r="1.8" fill="#3a2cc8" opacity="0.95"/>
<circle cx="581.7" cy="658.5" r="1.1" fill="#3224b8" opacity="0.86"/>
<circle cx="510.6" cy="784.8" r="2.2" fill="#4a3cd0" opacity="0.82"/>
<circle cx="632.0" cy="787.7" r="1.6" fill="#3224b8" opacity="0.79"/>
<circle cx="460.6" cy="743.0" r="2.1" fill="#4a3cd0" opacity="0.92"/>
<circle cx="503.9" cy="651.1" r="1.9" fill="#3a2cc8" opacity="0.88"/>
<circle cx="506.3" cy="754.2" r="1.5" fill="#4a3cd0" opacity="0.89"/>
<circle cx="598.5" cy="682.2" r="1.8" fill="#3224b8" opacity="0.76"/>
<circle cx="552.2" cy="836.0" r="2.1" fill="#4a3cd0" opacity="0.86"/>
<circle cx="615.4" cy="793.7" r="1.1" fill="#3a2cc8" opacity="0.96"/>
</g>
<defs><radialGradient id="pg13" cx="0.5" cy="0.5" r="0.5"><stop offset="0" stop-color="#e4e3de"/><stop offset="0.85" stop-color="#dcdbd6"/><stop offset="0.96" stop-color="#d2d1cc"/><stop offset="1" stop-color="#bebdb8"/></radialGradient><clipPath id="cpg13"><circle cx="326.5" cy="985" r="103.5"/></clipPath></defs>
<circle cx="326.5" cy="985" r="104" fill="url(#pg13)" stroke="#b0afaa" stroke-width="1.1"/>
<g clip-path="url(#cpg13)">
<g filter="url(#blur4)" transform="rotate(15 326.5 985)"><path d="M222.5,903.1 Q274.5,891.7 326.5,903.1 T430.5,903.1" fill="none" stroke="#bcbbb6" stroke-width="10.1" opacity="0.42"/><path d="M222.5,941.5 Q274.5,933.6 326.5,941.5 T430.5,941.5" fill="none" stroke="#bcbbb6" stroke-width="6.9" opacity="0.30"/><path d="M222.5,989.8 Q274.5,982.7 326.5,989.8 T430.5,989.8" fill="none" stroke="#bcbbb6" stroke-width="9.2" opacity="0.29"/><path d="M222.5,1022.3 Q274.5,1012.8 326.5,1022.3 T430.5,1022.3" fill="none" stroke="#bcbbb6" stroke-width="11.0" opacity="0.37"/><path d="M222.5,1057.3 Q274.5,1049.1 326.5,1057.3 T430.5,1057.3" fill="none" stroke="#bcbbb6" stroke-width="6.9" opacity="0.42"/></g>
<circle cx="323.5" cy="893.3" r="2.5" fill="#a898d4" opacity="0.47"/>
<circle cx="232.1" cy="954.5" r="2.6" fill="#8c78c4" opacity="0.48"/>
<circle cx="368.3" cy="1023.0" r="2.3" fill="#8c78c4" opacity="0.69"/>
<circle cx="325.8" cy="909.9" r="1.2" fill="#8c78c4" opacity="0.61"/>
<circle cx="349.9" cy="1034.3" r="1.6" fill="#a898d4" opacity="0.51"/>
<circle cx="369.7" cy="1031.5" r="1.8" fill="#9a88cc" opacity="0.55"/>
<circle cx="383.9" cy="1047.0" r="1.7" fill="#8c78c4" opacity="0.68"/>
<circle cx="404.6" cy="950.0" r="1.1" fill="#9a88cc" opacity="0.52"/>
<circle cx="324.9" cy="1052.3" r="2.2" fill="#8c78c4" opacity="0.65"/>
<circle cx="352.8" cy="1071.5" r="2.4" fill="#a898d4" opacity="0.53"/>
<circle cx="299.1" cy="893.2" r="1.4" fill="#a898d4" opacity="0.42"/>
<circle cx="261.9" cy="943.3" r="1.6" fill="#8c78c4" opacity="0.55"/>
<circle cx="345.1" cy="907.1" r="1.9" fill="#9a88cc" opacity="0.41"/>
<circle cx="353.8" cy="912.1" r="2.1" fill="#a898d4" opacity="0.64"/>
<circle cx="377.8" cy="1037.2" r="1.5" fill="#a898d4" opacity="0.46"/>
<circle cx="407.0" cy="1027.6" r="1.8" fill="#a898d4" opacity="0.65"/>
<circle cx="373.4" cy="1054.1" r="1.9" fill="#8c78c4" opacity="0.53"/>
<circle cx="302.7" cy="1064.0" r="1.1" fill="#8c78c4" opacity="0.60"/>
<circle cx="256.2" cy="1020.6" r="2.3" fill="#9a88cc" opacity="0.44"/>
<circle cx="328.7" cy="1045.1" r="1.5" fill="#9a88cc" opacity="0.57"/>
<circle cx="271.4" cy="998.9" r="1.1" fill="#9a88cc" opacity="0.56"/>
<circle cx="361.5" cy="1074.2" r="1.8" fill="#8c78c4" opacity="0.49"/>
<circle cx="411.6" cy="958.3" r="1.2" fill="#9a88cc" opacity="0.39"/>
<circle cx="311.0" cy="1029.5" r="1.6" fill="#9a88cc" opacity="0.47"/>
<circle cx="250.7" cy="940.0" r="1.9" fill="#a898d4" opacity="0.37"/>
<circle cx="338.5" cy="950.8" r="1.5" fill="#8c78c4" opacity="0.61"/>
<circle cx="407.8" cy="935.1" r="2.1" fill="#9a88cc" opacity="0.52"/>
<circle cx="345.4" cy="928.9" r="1.3" fill="#8c78c4" opacity="0.43"/>
<circle cx="337.6" cy="937.0" r="2.2" fill="#9a88cc" opacity="0.55"/>
<circle cx="400.4" cy="929.5" r="1.2" fill="#9a88cc" opacity="0.68"/>
<circle cx="277.6" cy="1022.2" r="1.2" fill="#8c78c4" opacity="0.45"/>
<circle cx="401.4" cy="999.5" r="2.2" fill="#9a88cc" opacity="0.53"/>
<circle cx="287.7" cy="1051.9" r="2.0" fill="#9a88cc" opacity="0.57"/>
<circle cx="305.0" cy="1067.6" r="2.2" fill="#9a88cc" opacity="0.38"/>
<circle cx="278.1" cy="1025.0" r="1.2" fill="#9a88cc" opacity="0.51"/>
<circle cx="322.2" cy="1060.5" r="1.5" fill="#9a88cc" opacity="0.68"/>
<circle cx="360.7" cy="1036.4" r="2.3" fill="#a898d4" opacity="0.49"/>
<circle cx="413.9" cy="961.4" r="1.7" fill="#a898d4" opacity="0.60"/>
<circle cx="340.8" cy="975.4" r="1.8" fill="#8c78c4" opacity="0.41"/>
<circle cx="294.5" cy="1070.0" r="2.4" fill="#a898d4" opacity="0.55"/>
<circle cx="319.9" cy="962.2" r="2.5" fill="#8c78c4" opacity="0.50"/>
<circle cx="336.2" cy="973.6" r="1.2" fill="#8c78c4" opacity="0.40"/>
<circle cx="405.5" cy="945.3" r="1.4" fill="#a898d4" opacity="0.36"/>
<circle cx="243.1" cy="982.9" r="1.9" fill="#a898d4" opacity="0.58"/>
<circle cx="399.5" cy="981.6" r="1.4" fill="#8c78c4" opacity="0.61"/>
<circle cx="417.1" cy="943.7" r="2.3" fill="#9a88cc" opacity="0.59"/>
<circle cx="257.1" cy="940.5" r="1.4" fill="#9a88cc" opacity="0.39"/>
<circle cx="252.1" cy="962.5" r="1.2" fill="#8c78c4" opacity="0.53"/>
<circle cx="257.2" cy="1049.2" r="2.3" fill="#a898d4" opacity="0.63"/>
<circle cx="343.1" cy="964.7" r="1.8" fill="#a898d4" opacity="0.47"/>
<circle cx="287.5" cy="896.9" r="1.6" fill="#9a88cc" opacity="0.62"/>
<circle cx="376.2" cy="960.9" r="1.0" fill="#8c78c4" opacity="0.51"/>
<circle cx="326.4" cy="909.2" r="1.1" fill="#9a88cc" opacity="0.35"/>
<circle cx="380.4" cy="900.3" r="1.8" fill="#a898d4" opacity="0.68"/>
<circle cx="405.8" cy="972.1" r="1.1" fill="#9a88cc" opacity="0.58"/>
<circle cx="274.4" cy="930.9" r="1.5" fill="#9a88cc" opacity="0.41"/>
<circle cx="255.9" cy="1014.2" r="2.6" fill="#9a88cc" opacity="0.58"/>
<circle cx="351.1" cy="904.2" r="2.4" fill="#9a88cc" opacity="0.39"/>
<circle cx="359.1" cy="916.0" r="2.2" fill="#8c78c4" opacity="0.41"/>
<circle cx="268.4" cy="1016.1" r="1.4" fill="#a898d4" opacity="0.63"/>
<circle cx="313.1" cy="1048.8" r="2.2" fill="#9a88cc" opacity="0.38"/>
<circle cx="351.8" cy="953.5" r="2.5" fill="#a898d4" opacity="0.40"/>
<circle cx="390.9" cy="1031.9" r="1.8" fill="#8c78c4" opacity="0.39"/>
<circle cx="259.4" cy="1021.8" r="2.1" fill="#9a88cc" opacity="0.52"/>
<circle cx="318.2" cy="950.3" r="1.8" fill="#8c78c4" opacity="0.39"/>
<circle cx="240.2" cy="1014.6" r="1.7" fill="#9a88cc" opacity="0.60"/>
<circle cx="304.7" cy="1015.9" r="1.7" fill="#a898d4" opacity="0.36"/>
<circle cx="324.7" cy="897.6" r="1.2" fill="#8c78c4" opacity="0.41"/>
<circle cx="407.5" cy="1015.1" r="2.5" fill="#a898d4" opacity="0.62"/>
<circle cx="357.3" cy="916.7" r="2.0" fill="#a898d4" opacity="0.63"/>
<circle cx="380.3" cy="951.7" r="1.6" fill="#9a88cc" opacity="0.54"/>
<circle cx="250.0" cy="933.6" r="1.9" fill="#a898d4" opacity="0.50"/>
<circle cx="311.5" cy="898.9" r="2.2" fill="#8c78c4" opacity="0.37"/>
<circle cx="342.8" cy="982.1" r="1.1" fill="#a898d4" opacity="0.66"/>
<circle cx="321.3" cy="900.8" r="1.7" fill="#8c78c4" opacity="0.41"/>
<circle cx="266.1" cy="957.7" r="1.1" fill="#a898d4" opacity="0.43"/>
<circle cx="358.5" cy="954.6" r="1.3" fill="#9a88cc" opacity="0.59"/>
<circle cx="261.0" cy="929.5" r="1.6" fill="#8c78c4" opacity="0.40"/>
<circle cx="355.5" cy="979.3" r="1.9" fill="#a898d4" opacity="0.38"/>
<circle cx="410.0" cy="992.0" r="2.1" fill="#a898d4" opacity="0.57"/>
<circle cx="258.2" cy="1022.5" r="2.5" fill="#9a88cc" opacity="0.51"/>
<circle cx="355.3" cy="1077.9" r="2.2" fill="#a898d4" opacity="0.53"/>
<circle cx="362.0" cy="914.4" r="2.6" fill="#9a88cc" opacity="0.55"/>
<circle cx="417.4" cy="962.5" r="2.1" fill="#a898d4" opacity="0.35"/>
<circle cx="331.5" cy="959.2" r="1.1" fill="#8c78c4" opacity="0.37"/>
<circle cx="287.1" cy="968.5" r="1.1" fill="#9a88cc" opacity="0.48"/>
<circle cx="229.4" cy="1015.9" r="2.3" fill="#a898d4" opacity="0.40"/>
<circle cx="362.9" cy="1056.8" r="1.2" fill="#9a88cc" opacity="0.55"/>
<circle cx="348.4" cy="903.4" r="2.1" fill="#8c78c4" opacity="0.60"/>
<circle cx="295.9" cy="956.9" r="1.4" fill="#a898d4" opacity="0.45"/>
<circle cx="327.2" cy="976.9" r="1.7" fill="#8c78c4" opacity="0.58"/>
<circle cx="316.7" cy="934.1" r="1.7" fill="#9a88cc" opacity="0.55"/>
<circle cx="299.8" cy="892.5" r="2.4" fill="#8c78c4" opacity="0.62"/>
<circle cx="330.2" cy="1050.5" r="1.7" fill="#8c78c4" opacity="0.49"/>
<circle cx="290.7" cy="1051.9" r="1.0" fill="#9a88cc" opacity="0.39"/>
<circle cx="285.8" cy="916.9" r="2.4" fill="#9a88cc" opacity="0.61"/>
<circle cx="258.6" cy="950.2" r="1.0" fill="#8c78c4" opacity="0.60"/>
<circle cx="321.7" cy="926.4" r="1.6" fill="#a898d4" opacity="0.62"/>
<circle cx="248.6" cy="931.8" r="2.5" fill="#9a88cc" opacity="0.39"/>
<circle cx="304.1" cy="1067.4" r="1.8" fill="#8c78c4" opacity="0.63"/>
<circle cx="342.1" cy="1027.0" r="1.9" fill="#a898d4" opacity="0.46"/>
<circle cx="354.7" cy="1067.4" r="1.0" fill="#9a88cc" opacity="0.50"/>
<circle cx="349.2" cy="1073.6" r="1.2" fill="#8c78c4" opacity="0.59"/>
<circle cx="244.8" cy="1000.0" r="2.0" fill="#8c78c4" opacity="0.47"/>
<circle cx="322.8" cy="898.1" r="1.7" fill="#a898d4" opacity="0.40"/>
<circle cx="339.4" cy="1003.6" r="2.2" fill="#8c78c4" opacity="0.48"/>
<circle cx="232.8" cy="996.8" r="1.0" fill="#a898d4" opacity="0.70"/>
<circle cx="276.4" cy="1048.4" r="2.4" fill="#a898d4" opacity="0.64"/>
<circle cx="325.7" cy="974.2" r="1.3" fill="#a898d4" opacity="0.69"/>
<circle cx="331.4" cy="1079.5" r="1.2" fill="#a898d4" opacity="0.50"/>
<circle cx="409.2" cy="1020.5" r="1.7" fill="#8c78c4" opacity="0.43"/>
<circle cx="328.4" cy="1055.0" r="1.1" fill="#9a88cc" opacity="0.47"/>
<circle cx="283.2" cy="920.9" r="1.6" fill="#9a88cc" opacity="0.56"/>
<circle cx="290.4" cy="1053.0" r="1.7" fill="#8c78c4" opacity="0.50"/>
<circle cx="274.2" cy="1016.6" r="1.3" fill="#a898d4" opacity="0.62"/>
<circle cx="253.4" cy="970.4" r="2.5" fill="#9a88cc" opacity="0.47"/>
<circle cx="270.6" cy="928.8" r="1.6" fill="#8c78c4" opacity="0.66"/>
<circle cx="361.1" cy="1037.4" r="2.0" fill="#8c78c4" opacity="0.67"/>
<circle cx="400.9" cy="1041.8" r="2.1" fill="#9a88cc" opacity="0.58"/>
<circle cx="296.4" cy="927.9" r="2.4" fill="#a898d4" opacity="0.55"/>
<circle cx="263.8" cy="1010.3" r="1.6" fill="#9a88cc" opacity="0.64"/>
<circle cx="348.6" cy="1033.1" r="2.1" fill="#8c78c4" opacity="0.47"/>
<circle cx="347.8" cy="1032.1" r="1.5" fill="#9a88cc" opacity="0.62"/>
<circle cx="384.6" cy="919.4" r="2.4" fill="#a898d4" opacity="0.65"/>
<circle cx="357.3" cy="1047.6" r="1.6" fill="#a898d4" opacity="0.47"/>
<circle cx="325.6" cy="999.1" r="1.3" fill="#9a88cc" opacity="0.63"/>
<circle cx="334.0" cy="991.0" r="1.4" fill="#9a88cc" opacity="0.51"/>
<circle cx="313.8" cy="943.2" r="1.2" fill="#a898d4" opacity="0.53"/>
<circle cx="399.1" cy="930.7" r="2.3" fill="#9a88cc" opacity="0.51"/>
<circle cx="236.9" cy="942.7" r="1.4" fill="#9a88cc" opacity="0.52"/>
<circle cx="370.1" cy="931.5" r="2.2" fill="#a898d4" opacity="0.41"/>
<circle cx="356.3" cy="1072.6" r="1.4" fill="#a898d4" opacity="0.53"/>
<circle cx="319.7" cy="1041.4" r="1.2" fill="#8c78c4" opacity="0.54"/>
<circle cx="255.0" cy="1022.0" r="2.3" fill="#a898d4" opacity="0.47"/>
<circle cx="285.0" cy="966.2" r="2.4" fill="#a898d4" opacity="0.49"/>
<circle cx="402.3" cy="989.8" r="2.1" fill="#a898d4" opacity="0.66"/>
<circle cx="301.7" cy="997.7" r="1.9" fill="#a898d4" opacity="0.61"/>
<circle cx="400.9" cy="1022.3" r="1.7" fill="#9a88cc" opacity="0.51"/>
<circle cx="331.3" cy="988.9" r="2.4" fill="#9a88cc" opacity="0.53"/>
<circle cx="318.0" cy="902.5" r="1.9" fill="#a898d4" opacity="0.69"/>
<circle cx="332.4" cy="1039.6" r="1.1" fill="#9a88cc" opacity="0.52"/>
<circle cx="232.5" cy="972.2" r="1.2" fill="#9a88cc" opacity="0.36"/>
<circle cx="399.9" cy="997.7" r="1.4" fill="#9a88cc" opacity="0.45"/>
<circle cx="277.4" cy="1047.6" r="1.3" fill="#8c78c4" opacity="0.43"/>
<circle cx="384.1" cy="922.2" r="1.2" fill="#8c78c4" opacity="0.42"/>
<circle cx="402.9" cy="963.6" r="1.8" fill="#a898d4" opacity="0.37"/>
<circle cx="410.3" cy="1025.8" r="1.4" fill="#a898d4" opacity="0.38"/>
<circle cx="405.4" cy="954.5" r="1.4" fill="#8c78c4" opacity="0.36"/>
<circle cx="269.1" cy="978.2" r="1.3" fill="#a898d4" opacity="0.44"/>
<circle cx="362.3" cy="1049.4" r="1.1" fill="#a898d4" opacity="0.43"/>
<circle cx="362.1" cy="929.6" r="2.0" fill="#9a88cc" opacity="0.46"/>
<circle cx="373.5" cy="1020.2" r="1.9" fill="#8c78c4" opacity="0.60"/>
<circle cx="272.6" cy="961.7" r="1.0" fill="#9a88cc" opacity="0.55"/>
<circle cx="271.2" cy="1030.4" r="1.4" fill="#9a88cc" opacity="0.70"/>
<circle cx="288.0" cy="1060.9" r="1.3" fill="#9a88cc" opacity="0.39"/>
<circle cx="358.0" cy="1047.1" r="1.2" fill="#a898d4" opacity="0.41"/>
<circle cx="346.1" cy="1067.7" r="2.2" fill="#8c78c4" opacity="0.62"/>
<circle cx="330.6" cy="1006.2" r="1.7" fill="#8c78c4" opacity="0.60"/>
<circle cx="274.0" cy="975.8" r="1.3" fill="#a898d4" opacity="0.37"/>
<circle cx="379.3" cy="924.1" r="1.8" fill="#8c78c4" opacity="0.47"/>
<circle cx="334.4" cy="1071.7" r="2.3" fill="#a898d4" opacity="0.66"/>
<circle cx="328.1" cy="903.6" r="1.5" fill="#9a88cc" opacity="0.47"/>
<circle cx="422.4" cy="1007.8" r="1.7" fill="#a898d4" opacity="0.67"/>
<circle cx="372.5" cy="1028.2" r="2.5" fill="#a898d4" opacity="0.37"/>
<circle cx="297.0" cy="975.1" r="1.8" fill="#9a88cc" opacity="0.43"/>
<circle cx="229.4" cy="1012.0" r="1.7" fill="#a898d4" opacity="0.54"/>
<circle cx="424.5" cy="982.5" r="1.5" fill="#8c78c4" opacity="0.70"/>
<circle cx="298.2" cy="1033.3" r="1.2" fill="#8c78c4" opacity="0.44"/>
<circle cx="237.9" cy="959.4" r="2.3" fill="#a898d4" opacity="0.43"/>
<circle cx="294.0" cy="900.5" r="1.3" fill="#8c78c4" opacity="0.55"/>
<circle cx="323.4" cy="1030.0" r="2.0" fill="#a898d4" opacity="0.38"/>
<circle cx="326.8" cy="1082.4" r="2.1" fill="#9a88cc" opacity="0.47"/>
<circle cx="370.2" cy="907.3" r="2.0" fill="#9a88cc" opacity="0.45"/>
<circle cx="359.7" cy="912.7" r="1.7" fill="#a898d4" opacity="0.59"/>
<circle cx="411.0" cy="982.5" r="2.0" fill="#a898d4" opacity="0.47"/>
<circle cx="276.6" cy="1063.3" r="1.3" fill="#9a88cc" opacity="0.45"/>
<circle cx="294.7" cy="889.7" r="1.8" fill="#9a88cc" opacity="0.68"/>
<circle cx="403.3" cy="1047.1" r="1.1" fill="#a898d4" opacity="0.42"/>
<circle cx="304.1" cy="1050.6" r="1.5" fill="#8c78c4" opacity="0.63"/>
<circle cx="274.4" cy="921.4" r="1.9" fill="#9a88cc" opacity="0.51"/>
<circle cx="264.2" cy="910.5" r="1.6" fill="#9a88cc" opacity="0.67"/>
<circle cx="325.4" cy="914.8" r="2.1" fill="#9a88cc" opacity="0.44"/>
<circle cx="307.4" cy="917.6" r="1.4" fill="#a898d4" opacity="0.53"/>
<circle cx="290.7" cy="1064.6" r="2.3" fill="#8c78c4" opacity="0.67"/>
<circle cx="425.3" cy="984.9" r="2.4" fill="#9a88cc" opacity="0.48"/>
<circle cx="335.6" cy="1019.6" r="1.8" fill="#9a88cc" opacity="0.45"/>
<circle cx="412.7" cy="961.2" r="2.5" fill="#8c78c4" opacity="0.52"/>
<circle cx="388.1" cy="1064.1" r="1.6" fill="#8c78c4" opacity="0.48"/>
<circle cx="308.1" cy="1017.8" r="1.4" fill="#9a88cc" opacity="0.54"/>
<circle cx="253.8" cy="997.8" r="2.4" fill="#9a88cc" opacity="0.49"/>
<circle cx="367.0" cy="1060.4" r="2.5" fill="#a898d4" opacity="0.35"/>
<circle cx="310.5" cy="1083.0" r="1.9" fill="#9a88cc" opacity="0.44"/>
<circle cx="330.6" cy="1005.9" r="1.6" fill="#8c78c4" opacity="0.47"/>
<circle cx="229.2" cy="970.6" r="2.6" fill="#8c78c4" opacity="0.53"/>
<circle cx="400.3" cy="970.8" r="1.2" fill="#a898d4" opacity="0.45"/>
<circle cx="352.2" cy="996.6" r="1.8" fill="#8c78c4" opacity="0.44"/>
<circle cx="269.9" cy="903.6" r="2.2" fill="#8c78c4" opacity="0.52"/>
<circle cx="261.1" cy="923.0" r="2.4" fill="#9a88cc" opacity="0.51"/>
<circle cx="259.0" cy="945.3" r="1.5" fill="#a898d4" opacity="0.53"/>
<circle cx="409.7" cy="1041.6" r="1.5" fill="#8c78c4" opacity="0.56"/>
<circle cx="255.9" cy="1013.4" r="2.6" fill="#9a88cc" opacity="0.56"/>
<circle cx="365.4" cy="1002.0" r="2.1" fill="#8c78c4" opacity="0.40"/>
<circle cx="417.2" cy="1015.6" r="1.1" fill="#8c78c4" opacity="0.51"/>
<circle cx="388.8" cy="926.8" r="2.5" fill="#a898d4" opacity="0.49"/>
<circle cx="388.4" cy="931.8" r="1.6" fill="#8c78c4" opacity="0.39"/>
<circle cx="314.4" cy="958.4" r="1.7" fill="#a898d4" opacity="0.54"/>
<circle cx="288.6" cy="1055.9" r="1.1" fill="#a898d4" opacity="0.61"/>
<circle cx="415.4" cy="1003.2" r="1.3" fill="#a898d4" opacity="0.36"/>
<circle cx="283.4" cy="911.7" r="2.5" fill="#8c78c4" opacity="0.48"/>
<circle cx="383.9" cy="976.6" r="2.5" fill="#8c78c4" opacity="0.56"/>
<circle cx="283.0" cy="898.7" r="1.1" fill="#9a88cc" opacity="0.65"/>
<circle cx="327.3" cy="884.8" r="2.3" fill="#9a88cc" opacity="0.37"/>
<circle cx="272.7" cy="951.2" r="1.2" fill="#a898d4" opacity="0.51"/>
<circle cx="265.3" cy="1021.8" r="1.9" fill="#8c78c4" opacity="0.37"/>
<circle cx="239.2" cy="937.9" r="2.6" fill="#8c78c4" opacity="0.53"/>
<circle cx="246.8" cy="936.5" r="2.0" fill="#9a88cc" opacity="0.68"/>
<circle cx="409.8" cy="997.1" r="1.2" fill="#8c78c4" opacity="0.46"/>
<circle cx="289.7" cy="979.1" r="2.3" fill="#a898d4" opacity="0.61"/>
<circle cx="249.1" cy="984.4" r="2.5" fill="#8c78c4" opacity="0.64"/>
<circle cx="367.1" cy="1033.1" r="2.0" fill="#a898d4" opacity="0.68"/>
<circle cx="359.1" cy="923.4" r="1.1" fill="#9a88cc" opacity="0.37"/>
<circle cx="341.3" cy="1073.5" r="1.7" fill="#8c78c4" opacity="0.48"/>
<circle cx="346.2" cy="1057.7" r="1.9" fill="#a898d4" opacity="0.44"/>
<circle cx="292.7" cy="1020.5" r="1.2" fill="#9a88cc" opacity="0.58"/>
<circle cx="416.2" cy="980.0" r="1.2" fill="#a898d4" opacity="0.59"/>
<circle cx="280.2" cy="983.0" r="1.3" fill="#9a88cc" opacity="0.69"/>
<circle cx="325.8" cy="892.7" r="1.9" fill="#a898d4" opacity="0.56"/>
<circle cx="292.5" cy="913.5" r="1.3" fill="#9a88cc" opacity="0.52"/>
<circle cx="363.9" cy="916.4" r="2.0" fill="#9a88cc" opacity="0.68"/>
<circle cx="389.4" cy="997.1" r="1.6" fill="#a898d4" opacity="0.45"/>
<circle cx="348.9" cy="1045.7" r="1.6" fill="#9a88cc" opacity="0.56"/>
<circle cx="237.4" cy="1010.4" r="1.6" fill="#9a88cc" opacity="0.60"/>
<circle cx="310.7" cy="1067.2" r="2.0" fill="#9a88cc" opacity="0.57"/>
<circle cx="322.8" cy="895.5" r="1.5" fill="#8c78c4" opacity="0.41"/>
<circle cx="297.8" cy="1072.6" r="1.2" fill="#9a88cc" opacity="0.59"/>
<circle cx="350.8" cy="898.2" r="1.6" fill="#8c78c4" opacity="0.45"/>
<circle cx="421.9" cy="1003.2" r="2.0" fill="#a898d4" opacity="0.58"/>
<circle cx="363.8" cy="895.0" r="2.1" fill="#a898d4" opacity="0.42"/>
<circle cx="243.7" cy="1020.4" r="1.5" fill="#a898d4" opacity="0.49"/>
<circle cx="425.8" cy="986.9" r="1.1" fill="#8c78c4" opacity="0.68"/>
<circle cx="292.1" cy="1061.8" r="1.5" fill="#a898d4" opacity="0.57"/>
<circle cx="355.0" cy="1063.0" r="2.4" fill="#9a88cc" opacity="0.69"/>
<circle cx="320.2" cy="988.6" r="2.5" fill="#9a88cc" opacity="0.68"/>
<circle cx="296.4" cy="897.5" r="1.1" fill="#9a88cc" opacity="0.47"/>
<circle cx="281.8" cy="1060.3" r="1.6" fill="#a898d4" opacity="0.40"/>
<circle cx="280.4" cy="1014.0" r="1.3" fill="#9a88cc" opacity="0.54"/>
<circle cx="281.2" cy="909.5" r="2.5" fill="#8c78c4" opacity="0.50"/>
<circle cx="285.3" cy="981.6" r="1.8" fill="#a898d4" opacity="0.43"/>
<circle cx="301.4" cy="1063.6" r="1.2" fill="#a898d4" opacity="0.54"/>
<circle cx="246.0" cy="1032.4" r="2.3" fill="#9a88cc" opacity="0.65"/>
<circle cx="251.3" cy="1033.0" r="2.4" fill="#8c78c4" opacity="0.48"/>
<circle cx="338.0" cy="1029.0" r="2.5" fill="#8c78c4" opacity="0.40"/>
<circle cx="416.2" cy="968.4" r="1.8" fill="#9a88cc" opacity="0.39"/>
<circle cx="289.9" cy="1055.7" r="1.3" fill="#8c78c4" opacity="0.49"/>
<circle cx="409.3" cy="969.3" r="2.2" fill="#9a88cc" opacity="0.50"/>
<circle cx="408.3" cy="985.9" r="2.3" fill="#9a88cc" opacity="0.55"/>
<circle cx="302.3" cy="1064.8" r="2.5" fill="#a898d4" opacity="0.37"/>
<circle cx="390.5" cy="913.2" r="1.1" fill="#a898d4" opacity="0.68"/>
<circle cx="303.3" cy="1066.2" r="2.3" fill="#9a88cc" opacity="0.53"/>
<circle cx="426.4" cy="990.6" r="2.2" fill="#9a88cc" opacity="0.37"/>
<circle cx="418.1" cy="1008.3" r="2.1" fill="#3a1a78" opacity="0.97"/>
<circle cx="260.0" cy="1032.8" r="2.3" fill="#4a2a90" opacity="0.91"/>
<circle cx="338.5" cy="926.3" r="2.1" fill="#5a3aa0" opacity="0.84"/>
<circle cx="304.1" cy="1074.5" r="1.5" fill="#3a1a78" opacity="0.98"/>
<circle cx="345.3" cy="1032.8" r="2.0" fill="#3a1a78" opacity="0.84"/>
<circle cx="321.9" cy="906.0" r="1.2" fill="#3a1a78" opacity="0.87"/>
<circle cx="396.9" cy="1039.2" r="2.0" fill="#4a2a90" opacity="0.81"/>
<circle cx="230.9" cy="993.4" r="1.3" fill="#3a1a78" opacity="0.87"/>
<circle cx="299.3" cy="1022.5" r="1.6" fill="#3a1a78" opacity="0.84"/>
<circle cx="298.9" cy="1038.6" r="2.3" fill="#4a2a90" opacity="0.89"/>
<circle cx="345.0" cy="903.3" r="2.0" fill="#5a3aa0" opacity="0.95"/>
<circle cx="269.4" cy="946.5" r="1.6" fill="#5a3aa0" opacity="0.95"/>
<circle cx="330.2" cy="1077.6" r="1.6" fill="#5a3aa0" opacity="0.94"/>
<circle cx="385.6" cy="955.9" r="1.5" fill="#4a2a90" opacity="0.83"/>
<circle cx="244.9" cy="975.0" r="2.2" fill="#4a2a90" opacity="0.95"/>
<circle cx="295.4" cy="890.4" r="2.3" fill="#5a3aa0" opacity="0.81"/>
<circle cx="398.8" cy="918.4" r="1.8" fill="#5a3aa0" opacity="0.98"/>
<circle cx="277.4" cy="1058.8" r="1.7" fill="#4a2a90" opacity="0.93"/>
<circle cx="320.5" cy="945.8" r="1.2" fill="#5a3aa0" opacity="0.83"/>
<circle cx="267.8" cy="958.6" r="2.3" fill="#3a1a78" opacity="0.86"/>
<circle cx="369.9" cy="1071.7" r="1.5" fill="#5a3aa0" opacity="0.89"/>
<circle cx="303.0" cy="888.5" r="2.4" fill="#4a2a90" opacity="0.87"/>
<circle cx="251.0" cy="1045.1" r="1.9" fill="#5a3aa0" opacity="0.83"/>
<circle cx="390.8" cy="1033.1" r="1.5" fill="#5a3aa0" opacity="0.86"/>
<circle cx="272.0" cy="992.8" r="1.8" fill="#3a1a78" opacity="0.91"/>
<circle cx="422.0" cy="984.6" r="2.3" fill="#5a3aa0" opacity="0.83"/>
<circle cx="357.5" cy="1020.5" r="1.8" fill="#3a1a78" opacity="0.91"/>
<circle cx="403.1" cy="1000.8" r="1.6" fill="#4a2a90" opacity="0.93"/>
<circle cx="365.1" cy="1062.0" r="2.4" fill="#5a3aa0" opacity="0.88"/>
<circle cx="289.7" cy="924.8" r="2.3" fill="#5a3aa0" opacity="0.99"/>
<circle cx="252.8" cy="1045.1" r="2.3" fill="#3a1a78" opacity="0.82"/>
<circle cx="253.0" cy="1003.6" r="2.2" fill="#5a3aa0" opacity="0.93"/>
<circle cx="377.9" cy="1057.1" r="1.5" fill="#3a1a78" opacity="0.90"/>
<circle cx="249.8" cy="987.3" r="1.6" fill="#3a1a78" opacity="0.98"/>
<circle cx="237.2" cy="964.7" r="1.6" fill="#5a3aa0" opacity="0.88"/>
<circle cx="403.1" cy="1043.3" r="1.9" fill="#3a1a78" opacity="0.84"/>
<circle cx="236.0" cy="958.6" r="1.2" fill="#5a3aa0" opacity="0.87"/>
<circle cx="271.6" cy="916.5" r="1.7" fill="#4a2a90" opacity="0.83"/>
<circle cx="255.6" cy="992.7" r="2.0" fill="#5a3aa0" opacity="0.84"/>
<circle cx="301.4" cy="1072.4" r="1.5" fill="#3a1a78" opacity="0.95"/>
<circle cx="283.0" cy="946.0" r="1.7" fill="#5a3aa0" opacity="0.94"/>
<circle cx="283.7" cy="942.4" r="1.3" fill="#4a2a90" opacity="0.97"/>
<circle cx="317.5" cy="1002.3" r="1.3" fill="#4a2a90" opacity="0.80"/>
<circle cx="414.8" cy="942.2" r="1.4" fill="#5a3aa0" opacity="0.82"/>
<circle cx="245.1" cy="1016.1" r="1.4" fill="#5a3aa0" opacity="0.94"/>
<circle cx="395.1" cy="1024.9" r="1.9" fill="#3a1a78" opacity="0.84"/>
<circle cx="422.0" cy="950.4" r="1.8" fill="#4a2a90" opacity="0.92"/>
<circle cx="279.4" cy="909.8" r="1.2" fill="#4a2a90" opacity="0.90"/>
<circle cx="303.7" cy="944.3" r="1.3" fill="#3a1a78" opacity="0.83"/>
<circle cx="303.9" cy="1068.8" r="1.5" fill="#4a2a90" opacity="0.91"/>
<circle cx="314.7" cy="1050.4" r="1.3" fill="#5a3aa0" opacity="0.96"/>
<circle cx="362.3" cy="896.9" r="1.2" fill="#4a2a90" opacity="0.87"/>
<circle cx="346.8" cy="1067.7" r="1.1" fill="#3a1a78" opacity="1.00"/>
<circle cx="334.8" cy="1079.7" r="2.3" fill="#3a1a78" opacity="0.98"/>
<circle cx="372.6" cy="925.1" r="1.7" fill="#4a2a90" opacity="0.89"/>
<circle cx="282.5" cy="910.4" r="2.4" fill="#5a3aa0" opacity="0.90"/>
<circle cx="366.8" cy="909.3" r="1.4" fill="#4a2a90" opacity="0.86"/>
<circle cx="401.3" cy="1000.2" r="2.0" fill="#3a1a78" opacity="0.88"/>
<circle cx="374.3" cy="1042.6" r="1.6" fill="#5a3aa0" opacity="0.92"/>
<circle cx="319.0" cy="885.6" r="1.2" fill="#5a3aa0" opacity="0.81"/>
<circle cx="402.0" cy="1025.6" r="1.5" fill="#4a2a90" opacity="0.97"/>
<circle cx="311.4" cy="890.5" r="1.4" fill="#3a1a78" opacity="0.98"/>
<circle cx="243.9" cy="973.7" r="1.5" fill="#4a2a90" opacity="0.91"/>
<circle cx="281.3" cy="923.4" r="2.3" fill="#3a1a78" opacity="0.92"/>
<circle cx="338.5" cy="922.5" r="1.8" fill="#3a1a78" opacity="0.86"/>
<circle cx="279.6" cy="981.2" r="2.0" fill="#4a2a90" opacity="0.95"/>
<circle cx="418.9" cy="985.5" r="1.9" fill="#5a3aa0" opacity="0.87"/>
<circle cx="260.4" cy="1024.9" r="1.7" fill="#4a2a90" opacity="0.87"/>
<circle cx="226.9" cy="982.0" r="1.7" fill="#5a3aa0" opacity="0.98"/>
<circle cx="246.1" cy="971.9" r="2.3" fill="#3a1a78" opacity="0.88"/>
<circle cx="383.0" cy="934.1" r="2.3" fill="#4a2a90" opacity="0.86"/>
<circle cx="361.7" cy="1014.8" r="1.9" fill="#4a2a90" opacity="0.91"/>
<circle cx="289.9" cy="910.0" r="1.9" fill="#3a1a78" opacity="0.86"/>
<circle cx="243.8" cy="946.4" r="1.4" fill="#4a2a90" opacity="0.81"/>
<circle cx="310.6" cy="933.0" r="2.0" fill="#5a3aa0" opacity="0.99"/>
<circle cx="363.3" cy="1064.8" r="2.1" fill="#5a3aa0" opacity="0.99"/>
<circle cx="410.8" cy="998.3" r="1.4" fill="#4a2a90" opacity="0.95"/>
<circle cx="372.4" cy="945.4" r="2.2" fill="#5a3aa0" opacity="0.81"/>
<circle cx="346.9" cy="986.7" r="1.9" fill="#3a1a78" opacity="0.96"/>
<circle cx="342.7" cy="1083.8" r="1.3" fill="#3a1a78" opacity="0.95"/>
<circle cx="261.2" cy="1041.4" r="1.4" fill="#4a2a90" opacity="0.92"/>
<circle cx="342.2" cy="908.5" r="1.9" fill="#3a1a78" opacity="0.85"/>
<circle cx="335.2" cy="1068.1" r="2.2" fill="#5a3aa0" opacity="0.81"/>
<circle cx="392.7" cy="945.8" r="2.0" fill="#5a3aa0" opacity="0.83"/>
<circle cx="337.3" cy="1076.5" r="1.5" fill="#3a1a78" opacity="0.85"/>
<circle cx="292.8" cy="944.5" r="1.2" fill="#4a2a90" opacity="0.83"/>
<circle cx="421.5" cy="993.4" r="1.2" fill="#5a3aa0" opacity="0.99"/>
<circle cx="240.7" cy="1014.2" r="2.3" fill="#4a2a90" opacity="0.96"/>
<circle cx="281.5" cy="916.1" r="1.1" fill="#3a1a78" opacity="0.84"/>
<circle cx="376.2" cy="906.9" r="1.9" fill="#3a1a78" opacity="0.94"/>
<circle cx="271.7" cy="929.3" r="1.2" fill="#4a2a90" opacity="0.94"/>
<circle cx="335.2" cy="892.3" r="2.2" fill="#5a3aa0" opacity="0.94"/>
<circle cx="392.3" cy="1048.8" r="1.5" fill="#4a2a90" opacity="0.98"/>
<circle cx="350.5" cy="1033.9" r="2.1" fill="#3a1a78" opacity="0.83"/>
<circle cx="341.2" cy="892.9" r="2.3" fill="#4a2a90" opacity="0.93"/>
<circle cx="275.1" cy="902.5" r="1.2" fill="#3a1a78" opacity="1.00"/>
<circle cx="360.7" cy="1067.9" r="1.4" fill="#3a1a78" opacity="0.83"/>
<circle cx="291.7" cy="900.1" r="2.3" fill="#4a2a90" opacity="0.90"/>
<circle cx="378.4" cy="912.4" r="1.7" fill="#4a2a90" opacity="0.88"/>
<circle cx="401.7" cy="1044.1" r="1.6" fill="#3a1a78" opacity="0.96"/>
<circle cx="401.4" cy="999.0" r="1.2" fill="#3a1a78" opacity="0.98"/>
<circle cx="263.2" cy="986.6" r="2.0" fill="#3a1a78" opacity="0.98"/>
<circle cx="239.6" cy="1030.4" r="1.7" fill="#5a3aa0" opacity="0.97"/>
<circle cx="399.9" cy="1010.7" r="1.8" fill="#5a3aa0" opacity="0.89"/>
<circle cx="321.3" cy="1076.0" r="1.8" fill="#4a2a90" opacity="0.99"/>
<circle cx="317.7" cy="976.8" r="2.0" fill="#3a1a78" opacity="0.98"/>
<circle cx="380.6" cy="1021.4" r="2.2" fill="#5a3aa0" opacity="0.95"/>
<circle cx="238.9" cy="956.2" r="2.3" fill="#5a3aa0" opacity="0.85"/>
<circle cx="276.3" cy="1055.6" r="1.8" fill="#5a3aa0" opacity="0.82"/>
<circle cx="291.5" cy="1024.2" r="2.4" fill="#3a1a78" opacity="0.90"/>
<circle cx="226.0" cy="994.3" r="2.3" fill="#5a3aa0" opacity="0.91"/>
<circle cx="412.3" cy="1032.9" r="1.5" fill="#5a3aa0" opacity="0.89"/>
<circle cx="354.0" cy="908.1" r="1.5" fill="#4a2a90" opacity="0.81"/>
<circle cx="356.2" cy="1080.5" r="1.7" fill="#3a1a78" opacity="0.93"/>
<circle cx="361.7" cy="893.0" r="2.2" fill="#4a2a90" opacity="0.89"/>
<circle cx="394.3" cy="937.3" r="2.0" fill="#5a3aa0" opacity="0.83"/>
<circle cx="253.2" cy="940.7" r="1.9" fill="#3a1a78" opacity="0.93"/>
<circle cx="377.8" cy="1056.4" r="2.3" fill="#5a3aa0" opacity="0.92"/>
<circle cx="361.6" cy="910.3" r="2.0" fill="#5a3aa0" opacity="0.83"/>
<circle cx="291.6" cy="1079.4" r="2.0" fill="#3a1a78" opacity="0.84"/>
<circle cx="254.4" cy="946.5" r="1.1" fill="#3a1a78" opacity="0.87"/>
<circle cx="246.7" cy="924.7" r="1.5" fill="#3a1a78" opacity="0.80"/>
<circle cx="272.1" cy="996.6" r="1.7" fill="#3a1a78" opacity="0.98"/>
<circle cx="269.6" cy="931.4" r="2.0" fill="#5a3aa0" opacity="0.91"/>
<circle cx="329.5" cy="885.2" r="1.2" fill="#3a1a78" opacity="0.83"/>
<circle cx="322.5" cy="1063.1" r="2.2" fill="#4a2a90" opacity="0.93"/>
<circle cx="245.0" cy="1016.3" r="2.0" fill="#3a1a78" opacity="0.90"/>
<circle cx="389.8" cy="1022.1" r="2.0" fill="#3a1a78" opacity="0.88"/>
<circle cx="341.7" cy="1072.2" r="2.2" fill="#5a3aa0" opacity="0.96"/>
<circle cx="284.8" cy="1018.6" r="1.2" fill="#5a3aa0" opacity="0.99"/>
<circle cx="276.3" cy="1003.6" r="1.4" fill="#4a2a90" opacity="1.00"/>
<circle cx="408.0" cy="1033.8" r="1.8" fill="#5a3aa0" opacity="0.95"/>
<circle cx="347.0" cy="940.5" r="2.3" fill="#5a3aa0" opacity="0.87"/>
<circle cx="250.0" cy="923.7" r="1.9" fill="#5a3aa0" opacity="0.81"/>
<circle cx="246.6" cy="951.6" r="2.0" fill="#4a2a90" opacity="0.81"/>
<circle cx="234.5" cy="954.5" r="1.5" fill="#5a3aa0" opacity="0.90"/>
<circle cx="326.5" cy="1042.0" r="1.4" fill="#5a3aa0" opacity="0.94"/>
<circle cx="324.0" cy="1023.3" r="1.8" fill="#3a1a78" opacity="0.82"/>
<circle cx="258.7" cy="1048.8" r="1.7" fill="#4a2a90" opacity="0.81"/>
<circle cx="320.4" cy="917.9" r="1.1" fill="#4a2a90" opacity="0.97"/>
<circle cx="296.4" cy="906.0" r="1.3" fill="#4a2a90" opacity="0.81"/>
<circle cx="403.6" cy="936.1" r="1.7" fill="#3a1a78" opacity="0.96"/>
<circle cx="234.7" cy="951.4" r="1.3" fill="#5a3aa0" opacity="0.82"/>
<circle cx="254.5" cy="985.1" r="1.7" fill="#3a1a78" opacity="0.96"/>
<circle cx="265.8" cy="1046.8" r="1.7" fill="#4a2a90" opacity="0.99"/>
<circle cx="313.3" cy="967.1" r="1.6" fill="#3a1a78" opacity="0.84"/>
<circle cx="327.0" cy="1079.8" r="1.9" fill="#5a3aa0" opacity="0.91"/>
<circle cx="410.2" cy="983.3" r="2.1" fill="#5a3aa0" opacity="0.83"/>
<circle cx="405.3" cy="1021.3" r="2.1" fill="#4a2a90" opacity="0.90"/>
<circle cx="380.4" cy="1042.4" r="2.2" fill="#4a2a90" opacity="0.98"/>
<circle cx="301.5" cy="1035.0" r="1.6" fill="#3a1a78" opacity="0.80"/>
<circle cx="401.0" cy="988.8" r="1.2" fill="#4a2a90" opacity="0.82"/>
<circle cx="416.9" cy="972.3" r="2.1" fill="#5a3aa0" opacity="0.90"/>
<circle cx="357.6" cy="935.3" r="1.9" fill="#5a3aa0" opacity="0.84"/>
<circle cx="331.7" cy="1023.3" r="1.3" fill="#5a3aa0" opacity="0.82"/>
<circle cx="304.7" cy="919.5" r="2.2" fill="#5a3aa0" opacity="0.97"/>
<circle cx="343.1" cy="980.1" r="1.7" fill="#3a1a78" opacity="0.92"/>
<circle cx="356.0" cy="1034.1" r="2.1" fill="#4a2a90" opacity="0.83"/>
<circle cx="410.5" cy="1000.6" r="1.5" fill="#3a1a78" opacity="0.98"/>
<circle cx="387.5" cy="936.4" r="2.3" fill="#5a3aa0" opacity="0.95"/>
<circle cx="407.5" cy="951.0" r="2.0" fill="#4a2a90" opacity="0.88"/>
<circle cx="411.6" cy="987.0" r="2.2" fill="#3a1a78" opacity="0.81"/>
<circle cx="267.5" cy="989.1" r="2.0" fill="#4a2a90" opacity="0.82"/>
<circle cx="250.9" cy="917.0" r="1.3" fill="#4a2a90" opacity="0.86"/>
<circle cx="338.0" cy="1046.4" r="1.6" fill="#3a1a78" opacity="0.96"/>
<circle cx="301.7" cy="974.0" r="1.5" fill="#4a2a90" opacity="0.98"/>
<circle cx="252.9" cy="1012.8" r="1.4" fill="#3a1a78" opacity="0.89"/>
<circle cx="401.6" cy="1003.9" r="1.3" fill="#3a1a78" opacity="0.90"/>
<circle cx="258.9" cy="952.8" r="1.9" fill="#4a2a90" opacity="0.91"/>
<circle cx="422.3" cy="999.0" r="1.9" fill="#3a1a78" opacity="0.99"/>
<circle cx="412.6" cy="958.6" r="2.0" fill="#3a1a78" opacity="0.96"/>
<circle cx="309.2" cy="929.7" r="2.0" fill="#5a3aa0" opacity="0.96"/>
<circle cx="233.2" cy="981.3" r="2.2" fill="#3a1a78" opacity="0.88"/>
<circle cx="333.2" cy="982.7" r="1.2" fill="#4a2a90" opacity="0.80"/>
<circle cx="342.7" cy="1027.1" r="1.8" fill="#3a1a78" opacity="0.81"/>
<circle cx="300.2" cy="955.8" r="1.8" fill="#4a2a90" opacity="0.82"/>
<circle cx="240.6" cy="1000.5" r="1.6" fill="#5a3aa0" opacity="0.97"/>
<circle cx="317.7" cy="1011.9" r="2.0" fill="#5a3aa0" opacity="0.89"/>
<circle cx="413.1" cy="939.2" r="1.4" fill="#4a2a90" opacity="0.93"/>
<circle cx="320.6" cy="942.2" r="1.8" fill="#4a2a90" opacity="0.84"/>
<circle cx="339.4" cy="1049.2" r="1.5" fill="#4a2a90" opacity="0.90"/>
<circle cx="358.5" cy="920.2" r="1.2" fill="#3a1a78" opacity="0.90"/>
<circle cx="390.9" cy="1037.1" r="1.4" fill="#3a1a78" opacity="0.90"/>
<circle cx="389.0" cy="1043.4" r="2.2" fill="#3a1a78" opacity="0.87"/>
<circle cx="302.2" cy="900.8" r="2.4" fill="#4a2a90" opacity="1.00"/>
<circle cx="359.6" cy="936.6" r="2.1" fill="#5a3aa0" opacity="0.89"/>
<circle cx="284.6" cy="910.8" r="1.5" fill="#4a2a90" opacity="0.83"/>
<circle cx="267.3" cy="919.0" r="1.6" fill="#3a1a78" opacity="0.91"/>
<circle cx="303.0" cy="989.5" r="1.6" fill="#4a2a90" opacity="0.90"/>
<circle cx="403.0" cy="1016.6" r="1.7" fill="#3a1a78" opacity="1.00"/>
<circle cx="397.7" cy="1018.2" r="1.3" fill="#3a1a78" opacity="0.88"/>
<circle cx="350.1" cy="999.8" r="1.4" fill="#4a2a90" opacity="0.83"/>
<circle cx="419.1" cy="959.2" r="1.8" fill="#5a3aa0" opacity="0.80"/>
<circle cx="262.1" cy="927.6" r="1.8" fill="#5a3aa0" opacity="0.85"/>
<circle cx="332.0" cy="899.4" r="1.5" fill="#4a2a90" opacity="1.00"/>
<circle cx="299.8" cy="1058.7" r="1.7" fill="#3a1a78" opacity="0.83"/>
<circle cx="322.8" cy="918.6" r="2.2" fill="#5a3aa0" opacity="0.87"/>
<circle cx="347.0" cy="1042.8" r="2.1" fill="#4a2a90" opacity="0.91"/>
<circle cx="272.6" cy="1002.5" r="2.3" fill="#4a2a90" opacity="0.90"/>
<circle cx="386.9" cy="905.8" r="2.3" fill="#3a1a78" opacity="0.91"/>
<circle cx="390.7" cy="940.9" r="2.4" fill="#5a3aa0" opacity="0.97"/>
<circle cx="251.9" cy="954.7" r="1.3" fill="#3a1a78" opacity="0.84"/>
<circle cx="421.7" cy="1011.5" r="1.3" fill="#4a2a90" opacity="1.00"/>
<circle cx="349.0" cy="1006.3" r="2.3" fill="#3a1a78" opacity="0.87"/>
<circle cx="340.2" cy="1071.3" r="1.6" fill="#5a3aa0" opacity="0.86"/>
<circle cx="254.3" cy="1007.1" r="1.2" fill="#5a3aa0" opacity="0.81"/>
<circle cx="347.2" cy="975.7" r="1.7" fill="#4a2a90" opacity="0.94"/>
<circle cx="382.1" cy="1064.2" r="1.3" fill="#4a2a90" opacity="0.91"/>
<circle cx="414.6" cy="1000.6" r="1.2" fill="#4a2a90" opacity="0.98"/>
<circle cx="303.2" cy="1077.7" r="1.5" fill="#4a2a90" opacity="0.92"/>
<circle cx="345.2" cy="929.6" r="2.1" fill="#5a3aa0" opacity="0.85"/>
<circle cx="332.7" cy="1038.0" r="2.4" fill="#5a3aa0" opacity="0.83"/>
<circle cx="413.5" cy="998.2" r="1.7" fill="#5a3aa0" opacity="0.88"/>
<circle cx="253.3" cy="1008.8" r="2.1" fill="#5a3aa0" opacity="0.98"/>
<circle cx="302.0" cy="1061.7" r="1.4" fill="#4a2a90" opacity="0.91"/>
<circle cx="357.4" cy="1052.3" r="1.6" fill="#4a2a90" opacity="0.89"/>
<circle cx="232.5" cy="988.8" r="1.9" fill="#4a2a90" opacity="0.92"/>
<circle cx="355.4" cy="1055.0" r="1.9" fill="#3a1a78" opacity="0.90"/>
<circle cx="268.8" cy="926.2" r="2.3" fill="#3a1a78" opacity="0.93"/>
<circle cx="243.9" cy="983.6" r="1.3" fill="#5a3aa0" opacity="0.98"/>
<circle cx="318.8" cy="1063.0" r="1.5" fill="#5a3aa0" opacity="0.99"/>
<circle cx="365.1" cy="941.1" r="1.6" fill="#4a2a90" opacity="0.91"/>
<circle cx="297.5" cy="981.3" r="1.8" fill="#4a2a90" opacity="0.84"/>
<circle cx="233.5" cy="967.8" r="1.7" fill="#5a3aa0" opacity="0.93"/>
<circle cx="270.4" cy="997.7" r="1.8" fill="#3a1a78" opacity="0.92"/>
<circle cx="295.6" cy="1024.7" r="1.5" fill="#3a1a78" opacity="0.81"/>
<circle cx="335.9" cy="1004.3" r="2.3" fill="#4a2a90" opacity="0.84"/>
<circle cx="354.8" cy="1000.2" r="2.1" fill="#5a3aa0" opacity="0.94"/>
<circle cx="296.5" cy="1055.0" r="1.6" fill="#3a1a78" opacity="0.93"/>
<circle cx="409.6" cy="973.0" r="1.4" fill="#3a1a78" opacity="0.86"/>
<circle cx="250.2" cy="999.5" r="1.6" fill="#3a1a78" opacity="0.97"/>
<circle cx="366.4" cy="958.4" r="1.8" fill="#5a3aa0" opacity="0.86"/>
<circle cx="369.6" cy="920.9" r="1.8" fill="#5a3aa0" opacity="1.00"/>
<circle cx="279.3" cy="914.7" r="2.1" fill="#5a3aa0" opacity="0.81"/>
<circle cx="371.0" cy="918.7" r="1.8" fill="#3a1a78" opacity="0.83"/>
<circle cx="310.6" cy="889.7" r="1.5" fill="#3a1a78" opacity="0.97"/>
<circle cx="239.8" cy="986.4" r="2.4" fill="#3a1a78" opacity="0.86"/>
<circle cx="405.2" cy="982.3" r="1.9" fill="#3a1a78" opacity="0.96"/>
<circle cx="293.8" cy="993.7" r="2.0" fill="#4a2a90" opacity="0.85"/>
<circle cx="280.7" cy="919.5" r="1.7" fill="#5a3aa0" opacity="0.86"/>
<circle cx="245.1" cy="1034.4" r="1.6" fill="#4a2a90" opacity="0.91"/>
<circle cx="394.2" cy="1045.3" r="2.3" fill="#5a3aa0" opacity="0.91"/>
<circle cx="418.8" cy="972.5" r="1.3" fill="#4a2a90" opacity="0.85"/>
<circle cx="242.0" cy="940.9" r="1.8" fill="#3a1a78" opacity="0.91"/>
<circle cx="350.3" cy="953.8" r="2.2" fill="#4a2a90" opacity="0.99"/>
<circle cx="338.4" cy="1059.9" r="2.2" fill="#5a3aa0" opacity="0.85"/>
<circle cx="246.5" cy="984.5" r="2.0" fill="#5a3aa0" opacity="0.96"/>
<circle cx="402.7" cy="1029.7" r="2.2" fill="#3a1a78" opacity="0.99"/>
<circle cx="347.8" cy="993.7" r="1.1" fill="#4a2a90" opacity="0.91"/>
<circle cx="358.0" cy="1062.7" r="1.9" fill="#5a3aa0" opacity="0.91"/>
<circle cx="257.8" cy="1032.7" r="2.0" fill="#3a1a78" opacity="0.91"/>
<circle cx="249.1" cy="953.3" r="1.3" fill="#3a1a78" opacity="0.85"/>
<circle cx="353.3" cy="896.4" r="1.3" fill="#4a2a90" opacity="0.88"/>
<circle cx="359.8" cy="1026.3" r="1.3" fill="#5a3aa0" opacity="0.98"/>
<circle cx="241.5" cy="1027.3" r="1.2" fill="#5a3aa0" opacity="0.97"/>
<circle cx="240.9" cy="953.9" r="1.9" fill="#3a1a78" opacity="0.98"/>
<circle cx="254.7" cy="1054.8" r="2.3" fill="#4a2a90" opacity="0.91"/>
<circle cx="360.2" cy="917.9" r="1.4" fill="#3a1a78" opacity="0.94"/>
<circle cx="369.1" cy="1004.3" r="1.8" fill="#3a1a78" opacity="0.97"/>
<circle cx="348.3" cy="1055.5" r="1.4" fill="#5a3aa0" opacity="0.86"/>
<circle cx="337.4" cy="989.4" r="2.0" fill="#5a3aa0" opacity="0.88"/>
<circle cx="373.3" cy="934.4" r="1.6" fill="#4a2a90" opacity="0.84"/>
<circle cx="388.5" cy="964.0" r="1.4" fill="#3a1a78" opacity="0.85"/>
<circle cx="389.0" cy="1052.0" r="1.5" fill="#3a1a78" opacity="0.88"/>
<circle cx="411.0" cy="949.2" r="1.4" fill="#3a1a78" opacity="0.91"/>
<circle cx="316.6" cy="895.1" r="1.4" fill="#4a2a90" opacity="0.93"/>
<circle cx="298.5" cy="1015.2" r="1.4" fill="#4a2a90" opacity="0.92"/>
<circle cx="395.3" cy="947.3" r="1.2" fill="#3a1a78" opacity="0.95"/>
<circle cx="308.9" cy="1074.9" r="1.9" fill="#4a2a90" opacity="0.91"/>
<circle cx="330.2" cy="1050.2" r="2.1" fill="#4a2a90" opacity="0.91"/>
<circle cx="382.7" cy="1049.1" r="1.9" fill="#3a1a78" opacity="0.91"/>
<circle cx="357.4" cy="976.9" r="2.1" fill="#3a1a78" opacity="0.95"/>
<circle cx="244.2" cy="964.7" r="1.7" fill="#4a2a90" opacity="0.95"/>
<circle cx="399.0" cy="1009.9" r="1.6" fill="#5a3aa0" opacity="0.94"/>
<circle cx="339.2" cy="898.6" r="1.3" fill="#4a2a90" opacity="0.99"/>
<circle cx="352.1" cy="1006.5" r="1.4" fill="#5a3aa0" opacity="0.98"/>
<circle cx="370.1" cy="963.9" r="2.0" fill="#4a2a90" opacity="0.91"/>
<circle cx="256.5" cy="925.5" r="1.4" fill="#5a3aa0" opacity="0.96"/>
<circle cx="393.2" cy="941.1" r="2.1" fill="#3a1a78" opacity="0.84"/>
<circle cx="399.5" cy="1038.8" r="2.3" fill="#5a3aa0" opacity="0.80"/>
<circle cx="273.4" cy="1006.8" r="2.1" fill="#5a3aa0" opacity="0.93"/>
<circle cx="312.4" cy="1083.4" r="1.1" fill="#3a1a78" opacity="0.90"/>
<circle cx="405.2" cy="946.5" r="2.4" fill="#3a1a78" opacity="0.85"/>
<circle cx="256.6" cy="956.6" r="2.4" fill="#5a3aa0" opacity="0.89"/>
<circle cx="329.0" cy="1067.9" r="1.5" fill="#4a2a90" opacity="0.82"/>
<circle cx="415.8" cy="1001.4" r="1.6" fill="#5a3aa0" opacity="0.90"/>
<circle cx="363.8" cy="1017.7" r="1.5" fill="#5a3aa0" opacity="0.97"/>
<circle cx="325.7" cy="910.7" r="1.6" fill="#3a1a78" opacity="0.86"/>
<circle cx="331.6" cy="979.2" r="1.6" fill="#4a2a90" opacity="0.83"/>
<circle cx="397.9" cy="956.5" r="2.1" fill="#5a3aa0" opacity="0.91"/>
<circle cx="360.0" cy="973.9" r="1.3" fill="#4a2a90" opacity="0.93"/>
<circle cx="370.5" cy="903.0" r="1.2" fill="#5a3aa0" opacity="0.93"/>
<circle cx="249.5" cy="1016.0" r="1.3" fill="#5a3aa0" opacity="0.86"/>
<circle cx="371.4" cy="1035.3" r="1.3" fill="#5a3aa0" opacity="0.86"/>
<circle cx="376.7" cy="917.4" r="1.7" fill="#3a1a78" opacity="0.83"/>
<circle cx="398.3" cy="976.0" r="1.5" fill="#3a1a78" opacity="0.90"/>
<circle cx="239.3" cy="1002.5" r="1.8" fill="#5a3aa0" opacity="0.90"/>
<circle cx="334.9" cy="972.8" r="1.4" fill="#3a1a78" opacity="0.84"/>
<circle cx="397.6" cy="1010.5" r="2.2" fill="#3a1a78" opacity="0.89"/>
<circle cx="356.6" cy="1072.8" r="1.9" fill="#5a3aa0" opacity="0.98"/>
<circle cx="273.7" cy="965.9" r="2.3" fill="#5a3aa0" opacity="0.85"/>
<circle cx="418.7" cy="984.9" r="1.4" fill="#3a1a78" opacity="0.94"/>
<circle cx="341.0" cy="961.0" r="2.0" fill="#4a2a90" opacity="0.86"/>
<circle cx="353.2" cy="1056.9" r="1.7" fill="#3a1a78" opacity="0.98"/>
<circle cx="344.0" cy="1043.8" r="1.8" fill="#3a1a78" opacity="1.00"/>
<circle cx="250.0" cy="1024.4" r="2.4" fill="#5a3aa0" opacity="0.92"/>
<circle cx="333.6" cy="1069.3" r="1.4" fill="#5a3aa0" opacity="0.88"/>
<circle cx="380.2" cy="1058.4" r="1.8" fill="#3a1a78" opacity="0.82"/>
<circle cx="423.8" cy="980.5" r="1.2" fill="#4a2a90" opacity="0.81"/>
<circle cx="394.9" cy="933.7" r="2.1" fill="#3a1a78" opacity="0.82"/>
<circle cx="414.1" cy="1034.8" r="1.4" fill="#3a1a78" opacity="0.98"/>
<circle cx="394.7" cy="1031.7" r="2.2" fill="#3a1a78" opacity="0.89"/>
<circle cx="229.9" cy="1010.4" r="1.4" fill="#5a3aa0" opacity="0.97"/>
<circle cx="241.0" cy="967.0" r="2.0" fill="#4a2a90" opacity="0.85"/>
<circle cx="418.9" cy="946.7" r="1.5" fill="#4a2a90" opacity="0.81"/>
<circle cx="277.4" cy="1034.8" r="1.6" fill="#3a1a78" opacity="0.85"/>
<circle cx="399.5" cy="1025.3" r="1.1" fill="#3a1a78" opacity="0.83"/>
<circle cx="318.9" cy="893.8" r="1.7" fill="#5a3aa0" opacity="0.98"/>
<circle cx="305.1" cy="1074.6" r="2.4" fill="#4a2a90" opacity="0.86"/>
<circle cx="310.2" cy="940.1" r="1.5" fill="#4a2a90" opacity="0.85"/>
<circle cx="342.4" cy="1067.5" r="1.4" fill="#3a1a78" opacity="0.95"/>
<circle cx="411.0" cy="1025.0" r="2.0" fill="#5a3aa0" opacity="1.00"/>
<circle cx="246.1" cy="964.3" r="2.4" fill="#4a2a90" opacity="0.88"/>
<circle cx="265.9" cy="964.2" r="1.8" fill="#3a1a78" opacity="0.92"/>
<circle cx="329.3" cy="1000.5" r="1.8" fill="#3a1a78" opacity="0.92"/>
<circle cx="282.5" cy="1041.1" r="1.4" fill="#5a3aa0" opacity="0.83"/>
<circle cx="279.0" cy="1007.4" r="2.1" fill="#4a2a90" opacity="0.86"/>
<circle cx="264.6" cy="1056.3" r="1.6" fill="#3a1a78" opacity="0.89"/>
<circle cx="371.9" cy="915.9" r="1.8" fill="#4a2a90" opacity="0.90"/>
<circle cx="299.7" cy="926.4" r="2.3" fill="#3a1a78" opacity="0.99"/>
<circle cx="246.9" cy="970.3" r="1.7" fill="#3a1a78" opacity="0.83"/>
<circle cx="343.4" cy="996.9" r="1.6" fill="#4a2a90" opacity="0.81"/>
<circle cx="412.0" cy="999.2" r="2.4" fill="#3a1a78" opacity="0.83"/>
<circle cx="377.1" cy="950.5" r="2.3" fill="#4a2a90" opacity="0.95"/>
<circle cx="293.6" cy="957.7" r="1.8" fill="#4a2a90" opacity="1.00"/>
<circle cx="245.1" cy="1009.4" r="1.6" fill="#3a1a78" opacity="0.93"/>
<circle cx="241.4" cy="999.6" r="1.9" fill="#4a2a90" opacity="0.83"/>
<circle cx="374.5" cy="966.8" r="1.2" fill="#5a3aa0" opacity="0.83"/>
<circle cx="288.5" cy="946.0" r="2.0" fill="#4a2a90" opacity="0.83"/>
<circle cx="285.6" cy="926.1" r="1.3" fill="#5a3aa0" opacity="0.81"/>
<circle cx="254.7" cy="924.4" r="1.8" fill="#3a1a78" opacity="0.81"/>
<circle cx="267.1" cy="923.3" r="2.2" fill="#4a2a90" opacity="0.98"/>
<circle cx="248.2" cy="992.1" r="1.7" fill="#4a2a90" opacity="0.85"/>
<circle cx="390.4" cy="1032.3" r="1.2" fill="#3a1a78" opacity="0.99"/>
<circle cx="407.4" cy="970.7" r="1.1" fill="#4a2a90" opacity="0.99"/>
<circle cx="290.5" cy="938.5" r="1.6" fill="#3a1a78" opacity="0.87"/>
<circle cx="303.9" cy="938.2" r="2.2" fill="#5a3aa0" opacity="0.91"/>
<circle cx="415.6" cy="998.8" r="2.4" fill="#5a3aa0" opacity="1.00"/>
<circle cx="271.4" cy="990.5" r="2.1" fill="#4a2a90" opacity="0.90"/>
<circle cx="285.2" cy="1004.4" r="2.0" fill="#3a1a78" opacity="0.86"/>
<circle cx="305.9" cy="997.0" r="1.6" fill="#4a2a90" opacity="1.00"/>
<circle cx="324.7" cy="1082.5" r="1.2" fill="#3a1a78" opacity="0.81"/>
<circle cx="353.1" cy="919.4" r="1.2" fill="#5a3aa0" opacity="0.88"/>
<circle cx="349.7" cy="1003.4" r="1.7" fill="#5a3aa0" opacity="0.89"/>
<circle cx="368.4" cy="916.6" r="1.5" fill="#3a1a78" opacity="0.83"/>
<circle cx="419.0" cy="1007.2" r="2.0" fill="#3a1a78" opacity="0.86"/>
<circle cx="389.2" cy="1040.7" r="2.3" fill="#5a3aa0" opacity="0.97"/>
<circle cx="333.9" cy="985.6" r="1.9" fill="#5a3aa0" opacity="0.91"/>
<circle cx="280.2" cy="1049.3" r="2.0" fill="#3a1a78" opacity="0.86"/>
<circle cx="247.2" cy="967.2" r="1.5" fill="#5a3aa0" opacity="0.90"/>
<circle cx="260.7" cy="946.5" r="1.4" fill="#4a2a90" opacity="0.82"/>
<circle cx="319.5" cy="951.5" r="1.2" fill="#4a2a90" opacity="0.96"/>
<circle cx="390.2" cy="950.1" r="2.3" fill="#4a2a90" opacity="0.87"/>
<circle cx="338.7" cy="898.6" r="1.2" fill="#3a1a78" opacity="0.98"/>
<circle cx="400.6" cy="995.9" r="1.8" fill="#4a2a90" opacity="0.91"/>
<circle cx="359.1" cy="1055.6" r="2.2" fill="#5a3aa0" opacity="0.96"/>
<circle cx="334.9" cy="1067.2" r="2.1" fill="#3a1a78" opacity="0.87"/>
<circle cx="403.8" cy="984.1" r="2.3" fill="#3a1a78" opacity="0.99"/>
<circle cx="264.0" cy="1012.1" r="1.9" fill="#3a1a78" opacity="0.88"/>
<circle cx="335.6" cy="893.7" r="1.4" fill="#5a3aa0" opacity="0.94"/>
<circle cx="398.8" cy="1001.5" r="2.3" fill="#5a3aa0" opacity="0.94"/>
<circle cx="283.5" cy="1044.3" r="1.6" fill="#3a1a78" opacity="0.98"/>
<circle cx="340.5" cy="992.2" r="1.1" fill="#3a1a78" opacity="0.95"/>
<circle cx="244.7" cy="925.9" r="2.2" fill="#5a3aa0" opacity="0.94"/>
<circle cx="400.5" cy="948.4" r="1.3" fill="#5a3aa0" opacity="0.94"/>
<circle cx="412.2" cy="1011.5" r="2.1" fill="#5a3aa0" opacity="0.90"/>
<circle cx="421.2" cy="1011.2" r="1.5" fill="#3a1a78" opacity="0.83"/>
<circle cx="399.9" cy="989.6" r="1.2" fill="#3a1a78" opacity="0.87"/>
<circle cx="299.6" cy="1063.5" r="1.6" fill="#5a3aa0" opacity="0.92"/>
<circle cx="342.8" cy="994.8" r="1.9" fill="#3a1a78" opacity="0.97"/>
<circle cx="327.6" cy="1067.8" r="3.4" fill="#6a4ab0" opacity="0.81"/>
<circle cx="401.0" cy="932.8" r="3.2" fill="#6a4ab0" opacity="0.92"/>
<circle cx="335.3" cy="976.5" r="4.1" fill="#7a5cb8" opacity="0.82"/>
<circle cx="357.9" cy="1072.2" r="3.4" fill="#7a5cb8" opacity="0.85"/>
<circle cx="278.6" cy="1056.6" r="3.2" fill="#6a4ab0" opacity="0.89"/>
<circle cx="319.2" cy="901.9" r="3.1" fill="#7a5cb8" opacity="0.82"/>
<circle cx="408.2" cy="988.7" r="3.0" fill="#6a4ab0" opacity="0.86"/>
<circle cx="269.8" cy="1039.1" r="3.7" fill="#7a5cb8" opacity="0.76"/>
<circle cx="340.1" cy="1073.6" r="4.1" fill="#6a4ab0" opacity="0.79"/>
<circle cx="392.2" cy="1012.7" r="2.8" fill="#3a1a70" opacity="0.75"/>
<circle cx="341.2" cy="1062.9" r="3.6" fill="#3a1a70" opacity="0.78"/>
<circle cx="313.3" cy="925.6" r="4.0" fill="#3a1a70" opacity="0.90"/>
<circle cx="259.0" cy="1059.7" r="3.8" fill="#3a1a70" opacity="0.94"/>
<circle cx="322.5" cy="1067.4" r="2.6" fill="#7a5cb8" opacity="0.84"/>
<circle cx="397.9" cy="920.7" r="2.8" fill="#3a1a70" opacity="0.79"/>
<circle cx="338.6" cy="1035.0" r="3.4" fill="#6a4ab0" opacity="0.79"/>
<circle cx="235.8" cy="977.6" r="3.6" fill="#6a4ab0" opacity="0.79"/>
<circle cx="301.8" cy="905.7" r="3.7" fill="#3a1a70" opacity="0.89"/>
<circle cx="415.1" cy="1008.9" r="2.7" fill="#6a4ab0" opacity="0.82"/>
<circle cx="256.3" cy="919.3" r="3.4" fill="#6a4ab0" opacity="0.94"/>
<circle cx="312.2" cy="963.1" r="3.0" fill="#6a4ab0" opacity="0.81"/>
<circle cx="396.8" cy="1034.8" r="2.8" fill="#6a4ab0" opacity="0.91"/>
<circle cx="291.2" cy="955.9" r="3.2" fill="#7a5cb8" opacity="0.79"/>
<circle cx="392.2" cy="999.4" r="2.7" fill="#6a4ab0" opacity="0.77"/>
<circle cx="396.1" cy="1013.9" r="3.6" fill="#6a4ab0" opacity="0.95"/>
<circle cx="265.8" cy="971.7" r="3.8" fill="#6a4ab0" opacity="0.80"/>
<circle cx="278.1" cy="1055.8" r="3.0" fill="#6a4ab0" opacity="0.90"/>
<circle cx="384.9" cy="915.3" r="2.9" fill="#7a5cb8" opacity="0.80"/>
</g>
<defs><radialGradient id="pg14" cx="0.5" cy="0.5" r="0.5"><stop offset="0" stop-color="#e4e3de"/><stop offset="0.85" stop-color="#dcdbd6"/><stop offset="0.96" stop-color="#d2d1cc"/><stop offset="1" stop-color="#bebdb8"/></radialGradient><clipPath id="cpg14"><circle cx="549.5" cy="985.7" r="103.0"/></clipPath></defs>
<circle cx="549.5" cy="985.7" r="103.5" fill="url(#pg14)" stroke="#b0afaa" stroke-width="1.1"/>
<g clip-path="url(#cpg14)">
<g filter="url(#blur4)" transform="rotate(3 549.5 985.7)"><path d="M446.0,901.8 Q497.8,890.2 549.5,901.8 T653.0,901.8" fill="none" stroke="#bcbbb6" stroke-width="9.9" opacity="0.44"/><path d="M446.0,943.7 Q497.8,935.7 549.5,943.7 T653.0,943.7" fill="none" stroke="#bcbbb6" stroke-width="10.4" opacity="0.38"/><path d="M446.0,983.6 Q497.8,972.1 549.5,983.6 T653.0,983.6" fill="none" stroke="#bcbbb6" stroke-width="8.4" opacity="0.41"/><path d="M446.0,1020.0 Q497.8,1012.2 549.5,1020.0 T653.0,1020.0" fill="none" stroke="#bcbbb6" stroke-width="11.4" opacity="0.32"/><path d="M446.0,1061.6 Q497.8,1049.1 549.5,1061.6 T653.0,1061.6" fill="none" stroke="#bcbbb6" stroke-width="9.8" opacity="0.28"/></g>
<circle cx="549.5" cy="985.7" r="95.5" fill="none" stroke="#eeeeea" stroke-width="2" opacity="0.4"/>
<circle cx="549.5" cy="985.7" r="98.0" fill="none" stroke="#c2c1bc" stroke-width="1.1" opacity="0.35"/>
<circle cx="525.9" cy="952.5" r="0.9" fill="#9488c8" opacity="0.31"/>
<circle cx="481.1" cy="1048.4" r="1.4" fill="#9488c8" opacity="0.52"/>
<circle cx="610.2" cy="933.0" r="1.4" fill="#9488c8" opacity="0.35"/>
<circle cx="456.0" cy="977.6" r="1.0" fill="#9488c8" opacity="0.46"/>
<circle cx="548.0" cy="1038.9" r="0.9" fill="#8070b8" opacity="0.37"/>
<circle cx="515.2" cy="1006.9" r="1.5" fill="#8070b8" opacity="0.41"/>
<circle cx="518.3" cy="1012.6" r="1.1" fill="#9488c8" opacity="0.41"/>
<circle cx="519.0" cy="990.6" r="1.0" fill="#9488c8" opacity="0.32"/>
<circle cx="473.6" cy="949.2" r="0.8" fill="#9488c8" opacity="0.54"/>
<circle cx="495.9" cy="960.7" r="1.7" fill="#9488c8" opacity="0.39"/>
<circle cx="530.2" cy="978.1" r="1.6" fill="#8070b8" opacity="0.40"/>
<circle cx="553.2" cy="987.2" r="1.4" fill="#9488c8" opacity="0.43"/>
<circle cx="624.9" cy="1051.2" r="1.8" fill="#8070b8" opacity="0.30"/>
<circle cx="578.8" cy="1050.4" r="1.0" fill="#9488c8" opacity="0.37"/>
<circle cx="493.0" cy="962.9" r="1.4" fill="#8070b8" opacity="0.43"/>
<circle cx="504.1" cy="1026.1" r="1.8" fill="#9488c8" opacity="0.42"/>
<circle cx="538.4" cy="971.7" r="1.2" fill="#9488c8" opacity="0.32"/>
<circle cx="583.6" cy="997.9" r="1.7" fill="#8070b8" opacity="0.36"/>
<circle cx="495.3" cy="1036.2" r="1.6" fill="#9488c8" opacity="0.48"/>
<circle cx="488.4" cy="1007.8" r="0.9" fill="#8070b8" opacity="0.34"/>
<circle cx="521.0" cy="948.0" r="1.5" fill="#9488c8" opacity="0.55"/>
<circle cx="523.1" cy="898.5" r="1.4" fill="#9488c8" opacity="0.37"/>
<circle cx="613.2" cy="912.5" r="0.9" fill="#8070b8" opacity="0.53"/>
<circle cx="558.8" cy="975.1" r="0.9" fill="#8070b8" opacity="0.32"/>
<circle cx="586.1" cy="1027.3" r="1.2" fill="#8070b8" opacity="0.30"/>
<circle cx="460.6" cy="988.3" r="1.3" fill="#9488c8" opacity="0.32"/>
<circle cx="505.1" cy="956.2" r="1.3" fill="#8070b8" opacity="0.48"/>
<circle cx="554.9" cy="980.6" r="0.9" fill="#9488c8" opacity="0.41"/>
<circle cx="645.0" cy="1003.5" r="0.9" fill="#9488c8" opacity="0.54"/>
<circle cx="463.6" cy="1017.9" r="1.7" fill="#8070b8" opacity="0.55"/>
<circle cx="499.5" cy="948.6" r="1.1" fill="#9488c8" opacity="0.54"/>
<circle cx="536.3" cy="925.5" r="1.0" fill="#8070b8" opacity="0.49"/>
<circle cx="575.5" cy="949.8" r="0.9" fill="#8070b8" opacity="0.41"/>
<circle cx="557.8" cy="1006.6" r="1.6" fill="#9488c8" opacity="0.49"/>
<circle cx="547.8" cy="938.1" r="1.4" fill="#8070b8" opacity="0.48"/>
<circle cx="584.8" cy="1013.9" r="1.2" fill="#8070b8" opacity="0.49"/>
<circle cx="583.0" cy="923.3" r="1.1" fill="#8070b8" opacity="0.45"/>
<circle cx="590.0" cy="899.4" r="1.3" fill="#9488c8" opacity="0.43"/>
<circle cx="519.7" cy="919.6" r="1.3" fill="#9488c8" opacity="0.39"/>
<circle cx="561.9" cy="945.6" r="0.8" fill="#8070b8" opacity="0.55"/>
<circle cx="581.0" cy="949.5" r="1.6" fill="#9488c8" opacity="0.51"/>
<circle cx="550.4" cy="1028.0" r="1.7" fill="#9488c8" opacity="0.38"/>
<circle cx="625.9" cy="1049.2" r="0.8" fill="#9488c8" opacity="0.34"/>
<circle cx="616.8" cy="1044.5" r="1.6" fill="#8070b8" opacity="0.53"/>
<circle cx="499.2" cy="1029.5" r="0.9" fill="#8070b8" opacity="0.48"/>
<circle cx="639.9" cy="1021.0" r="1.3" fill="#9488c8" opacity="0.35"/>
<circle cx="609.8" cy="980.4" r="1.3" fill="#8070b8" opacity="0.32"/>
<circle cx="521.2" cy="975.2" r="1.0" fill="#8070b8" opacity="0.33"/>
<circle cx="493.1" cy="981.6" r="1.4" fill="#9488c8" opacity="0.33"/>
<circle cx="596.4" cy="1065.4" r="1.3" fill="#8070b8" opacity="0.46"/>
<circle cx="555.8" cy="978.4" r="0.9" fill="#9488c8" opacity="0.35"/>
<circle cx="532.0" cy="928.6" r="1.7" fill="#8070b8" opacity="0.53"/>
<circle cx="590.8" cy="976.1" r="1.2" fill="#9488c8" opacity="0.42"/>
<circle cx="618.9" cy="922.1" r="1.7" fill="#9488c8" opacity="0.34"/>
<circle cx="525.2" cy="915.9" r="1.1" fill="#8070b8" opacity="0.50"/>
<circle cx="501.9" cy="916.8" r="1.1" fill="#8070b8" opacity="0.35"/>
<circle cx="554.5" cy="1035.9" r="0.8" fill="#9488c8" opacity="0.31"/>
<circle cx="524.8" cy="1028.4" r="0.9" fill="#8070b8" opacity="0.50"/>
<circle cx="552.6" cy="981.3" r="1.2" fill="#9488c8" opacity="0.54"/>
<circle cx="596.5" cy="1000.8" r="1.7" fill="#9488c8" opacity="0.35"/>
<circle cx="598.6" cy="971.3" r="1.8" fill="#8070b8" opacity="0.43"/>
<circle cx="589.0" cy="1024.8" r="1.4" fill="#8070b8" opacity="0.42"/>
<circle cx="507.7" cy="1076.3" r="1.3" fill="#8070b8" opacity="0.50"/>
<circle cx="554.3" cy="982.1" r="1.8" fill="#9488c8" opacity="0.36"/>
<circle cx="555.4" cy="901.3" r="0.8" fill="#8070b8" opacity="0.51"/>
<circle cx="563.5" cy="982.3" r="1.0" fill="#9488c8" opacity="0.54"/>
<circle cx="466.2" cy="1030.6" r="1.6" fill="#9488c8" opacity="0.39"/>
<circle cx="548.7" cy="916.6" r="1.2" fill="#9488c8" opacity="0.35"/>
<circle cx="621.3" cy="1054.7" r="1.6" fill="#9488c8" opacity="0.47"/>
<circle cx="640.7" cy="1018.1" r="1.2" fill="#8070b8" opacity="0.45"/>
<circle cx="590.5" cy="996.0" r="1.1" fill="#8070b8" opacity="0.38"/>
<circle cx="566.4" cy="976.0" r="0.8" fill="#8070b8" opacity="0.44"/>
<circle cx="468.5" cy="953.0" r="0.9" fill="#8070b8" opacity="0.38"/>
<circle cx="483.2" cy="924.8" r="1.6" fill="#8070b8" opacity="0.46"/>
<circle cx="639.7" cy="1016.5" r="1.8" fill="#9488c8" opacity="0.35"/>
<circle cx="613.0" cy="1049.6" r="1.1" fill="#8070b8" opacity="0.31"/>
<circle cx="560.9" cy="894.9" r="1.1" fill="#8070b8" opacity="0.37"/>
<circle cx="453.2" cy="1001.2" r="1.0" fill="#9488c8" opacity="0.47"/>
<circle cx="564.8" cy="915.5" r="1.3" fill="#9488c8" opacity="0.55"/>
<circle cx="527.5" cy="1004.0" r="1.3" fill="#8070b8" opacity="0.50"/>
<circle cx="599.5" cy="959.4" r="1.7" fill="#9488c8" opacity="0.49"/>
<circle cx="571.3" cy="991.2" r="1.3" fill="#8070b8" opacity="0.31"/>
<circle cx="559.5" cy="979.0" r="1.6" fill="#8070b8" opacity="0.49"/>
<circle cx="503.8" cy="1027.6" r="0.9" fill="#9488c8" opacity="0.35"/>
<circle cx="628.9" cy="925.1" r="1.2" fill="#8070b8" opacity="0.38"/>
<circle cx="490.5" cy="924.5" r="1.4" fill="#9488c8" opacity="0.55"/>
<circle cx="552.6" cy="1084.0" r="1.7" fill="#9488c8" opacity="0.33"/>
<circle cx="518.7" cy="1039.2" r="1.8" fill="#8070b8" opacity="0.37"/>
<circle cx="574.4" cy="935.6" r="1.6" fill="#9488c8" opacity="0.42"/>
<circle cx="532.7" cy="1071.1" r="1.1" fill="#9488c8" opacity="0.54"/>
<circle cx="606.2" cy="970.4" r="2.0" fill="#2c1468" opacity="0.85"/>
<circle cx="519.2" cy="991.2" r="1.8" fill="#3a1c80" opacity="0.86"/>
<circle cx="589.1" cy="938.0" r="1.8" fill="#48289a" opacity="0.83"/>
<circle cx="471.1" cy="976.7" r="1.1" fill="#48289a" opacity="0.95"/>
<circle cx="525.8" cy="891.3" r="1.9" fill="#40208a" opacity="0.86"/>
<circle cx="622.3" cy="1040.3" r="1.6" fill="#40208a" opacity="0.86"/>
<circle cx="628.3" cy="925.4" r="1.4" fill="#2c1468" opacity="0.97"/>
<circle cx="519.7" cy="1058.2" r="1.4" fill="#40208a" opacity="0.86"/>
<circle cx="477.4" cy="1041.8" r="1.3" fill="#48289a" opacity="0.89"/>
<circle cx="455.5" cy="950.8" r="1.4" fill="#48289a" opacity="0.99"/>
<circle cx="553.4" cy="978.5" r="1.0" fill="#48289a" opacity="0.81"/>
<circle cx="596.0" cy="1072.5" r="2.0" fill="#3a1c80" opacity="0.92"/>
<circle cx="463.1" cy="958.1" r="1.5" fill="#48289a" opacity="0.92"/>
<circle cx="503.5" cy="993.0" r="1.3" fill="#3a1c80" opacity="0.91"/>
<circle cx="599.7" cy="1030.4" r="1.0" fill="#48289a" opacity="0.83"/>
<circle cx="551.2" cy="929.5" r="1.1" fill="#2c1468" opacity="0.85"/>
<circle cx="561.7" cy="1056.4" r="1.9" fill="#48289a" opacity="0.85"/>
<circle cx="468.0" cy="983.7" r="0.9" fill="#40208a" opacity="0.88"/>
<circle cx="575.3" cy="989.2" r="1.6" fill="#3a1c80" opacity="0.93"/>
<circle cx="459.6" cy="991.5" r="1.7" fill="#48289a" opacity="0.84"/>
<circle cx="637.1" cy="948.7" r="0.9" fill="#2c1468" opacity="0.94"/>
<circle cx="577.8" cy="892.3" r="1.8" fill="#3a1c80" opacity="0.80"/>
<circle cx="550.6" cy="1010.3" r="1.6" fill="#3a1c80" opacity="0.92"/>
<circle cx="577.0" cy="1012.7" r="1.7" fill="#3a1c80" opacity="0.86"/>
<circle cx="597.2" cy="959.1" r="1.1" fill="#40208a" opacity="0.97"/>
<circle cx="637.9" cy="992.7" r="1.5" fill="#40208a" opacity="0.93"/>
<circle cx="603.1" cy="934.2" r="1.0" fill="#3a1c80" opacity="0.83"/>
<circle cx="480.7" cy="936.3" r="1.4" fill="#40208a" opacity="0.96"/>
<circle cx="609.5" cy="937.8" r="1.4" fill="#3a1c80" opacity="0.81"/>
<circle cx="496.4" cy="1048.3" r="1.2" fill="#48289a" opacity="0.93"/>
<circle cx="535.9" cy="938.0" r="1.6" fill="#2c1468" opacity="0.86"/>
<circle cx="568.1" cy="1027.7" r="1.0" fill="#40208a" opacity="0.82"/>
<circle cx="533.2" cy="1081.7" r="1.5" fill="#40208a" opacity="0.90"/>
<circle cx="645.6" cy="985.2" r="1.2" fill="#3a1c80" opacity="0.95"/>
<circle cx="507.2" cy="1076.4" r="1.4" fill="#40208a" opacity="0.80"/>
<circle cx="601.7" cy="996.2" r="1.1" fill="#3a1c80" opacity="0.82"/>
<circle cx="554.3" cy="938.2" r="1.0" fill="#40208a" opacity="0.85"/>
<circle cx="520.1" cy="904.4" r="1.6" fill="#40208a" opacity="0.82"/>
<circle cx="631.7" cy="1024.6" r="2.0" fill="#3a1c80" opacity="0.80"/>
<circle cx="546.6" cy="976.3" r="1.0" fill="#40208a" opacity="0.92"/>
<circle cx="467.7" cy="928.0" r="0.9" fill="#40208a" opacity="0.95"/>
<circle cx="547.5" cy="1073.9" r="1.1" fill="#40208a" opacity="0.87"/>
<circle cx="628.6" cy="942.5" r="1.0" fill="#40208a" opacity="0.96"/>
<circle cx="510.0" cy="1067.6" r="2.1" fill="#48289a" opacity="0.89"/>
<circle cx="521.8" cy="1037.7" r="2.0" fill="#48289a" opacity="0.91"/>
<circle cx="493.0" cy="1001.9" r="0.9" fill="#3a1c80" opacity="0.99"/>
<circle cx="526.9" cy="1009.7" r="1.7" fill="#3a1c80" opacity="0.82"/>
<circle cx="622.1" cy="1027.2" r="1.7" fill="#3a1c80" opacity="0.80"/>
<circle cx="572.8" cy="1037.3" r="1.3" fill="#40208a" opacity="0.96"/>
<circle cx="456.8" cy="976.3" r="1.1" fill="#48289a" opacity="0.97"/>
<circle cx="495.6" cy="993.6" r="1.1" fill="#48289a" opacity="0.94"/>
<circle cx="506.7" cy="911.5" r="2.0" fill="#40208a" opacity="0.88"/>
<circle cx="598.3" cy="1057.9" r="1.5" fill="#2c1468" opacity="0.92"/>
<circle cx="582.9" cy="1020.5" r="1.8" fill="#48289a" opacity="0.95"/>
<circle cx="483.9" cy="1040.6" r="1.6" fill="#40208a" opacity="0.84"/>
<circle cx="588.2" cy="973.8" r="1.0" fill="#48289a" opacity="0.98"/>
<circle cx="551.1" cy="905.3" r="1.3" fill="#3a1c80" opacity="0.95"/>
<circle cx="555.6" cy="946.0" r="2.0" fill="#48289a" opacity="0.98"/>
<circle cx="486.9" cy="933.6" r="1.1" fill="#40208a" opacity="0.87"/>
<circle cx="637.9" cy="979.9" r="1.2" fill="#3a1c80" opacity="0.84"/>
<circle cx="503.8" cy="962.8" r="1.0" fill="#40208a" opacity="0.91"/>
<circle cx="520.4" cy="900.1" r="1.9" fill="#3a1c80" opacity="0.96"/>
<circle cx="575.7" cy="1055.9" r="1.7" fill="#3a1c80" opacity="0.98"/>
<circle cx="485.7" cy="959.6" r="0.9" fill="#48289a" opacity="0.92"/>
<circle cx="547.0" cy="946.5" r="2.0" fill="#3a1c80" opacity="0.81"/>
<circle cx="568.2" cy="904.1" r="1.3" fill="#48289a" opacity="0.97"/>
<circle cx="554.1" cy="886.8" r="1.5" fill="#2c1468" opacity="0.95"/>
<circle cx="561.9" cy="1067.0" r="1.1" fill="#48289a" opacity="0.88"/>
<circle cx="530.4" cy="941.3" r="1.0" fill="#2c1468" opacity="0.96"/>
<circle cx="503.1" cy="966.0" r="1.0" fill="#2c1468" opacity="0.84"/>
<circle cx="626.3" cy="969.4" r="1.2" fill="#48289a" opacity="0.90"/>
<circle cx="482.4" cy="932.6" r="1.1" fill="#3a1c80" opacity="0.89"/>
<circle cx="516.9" cy="1025.6" r="1.9" fill="#3a1c80" opacity="0.91"/>
<circle cx="620.8" cy="940.9" r="2.0" fill="#2c1468" opacity="0.89"/>
<circle cx="631.9" cy="981.1" r="1.0" fill="#3a1c80" opacity="0.87"/>
<circle cx="551.9" cy="986.4" r="1.8" fill="#2c1468" opacity="0.97"/>
<circle cx="496.2" cy="1016.5" r="1.5" fill="#2c1468" opacity="0.95"/>
<circle cx="560.9" cy="1039.0" r="1.3" fill="#40208a" opacity="0.97"/>
<circle cx="629.2" cy="1003.2" r="1.7" fill="#40208a" opacity="0.99"/>
<circle cx="475.9" cy="946.7" r="2.1" fill="#40208a" opacity="0.80"/>
<circle cx="598.6" cy="1009.7" r="1.8" fill="#2c1468" opacity="0.94"/>
<circle cx="537.8" cy="1048.7" r="1.8" fill="#48289a" opacity="0.90"/>
<circle cx="522.9" cy="982.8" r="2.0" fill="#40208a" opacity="0.99"/>
<circle cx="563.6" cy="977.2" r="1.9" fill="#40208a" opacity="0.84"/>
<circle cx="594.5" cy="970.3" r="2.1" fill="#2c1468" opacity="0.88"/>
<circle cx="618.3" cy="1028.6" r="2.0" fill="#2c1468" opacity="0.99"/>
<circle cx="641.7" cy="962.8" r="2.1" fill="#2c1468" opacity="0.85"/>
<circle cx="465.9" cy="1017.4" r="1.6" fill="#3a1c80" opacity="0.98"/>
<circle cx="482.0" cy="969.4" r="1.2" fill="#3a1c80" opacity="0.80"/>
<circle cx="577.1" cy="987.5" r="2.0" fill="#48289a" opacity="0.97"/>
<circle cx="558.0" cy="910.1" r="0.9" fill="#48289a" opacity="0.96"/>
<circle cx="467.6" cy="984.1" r="1.1" fill="#3a1c80" opacity="0.91"/>
<circle cx="550.4" cy="1007.4" r="1.7" fill="#48289a" opacity="0.93"/>
<circle cx="639.4" cy="986.2" r="1.3" fill="#3a1c80" opacity="0.86"/>
<circle cx="489.9" cy="996.0" r="1.1" fill="#2c1468" opacity="0.89"/>
<circle cx="524.8" cy="930.2" r="1.9" fill="#2c1468" opacity="0.92"/>
<circle cx="554.6" cy="979.9" r="1.5" fill="#48289a" opacity="0.85"/>
<circle cx="507.5" cy="943.2" r="1.8" fill="#2c1468" opacity="0.96"/>
<circle cx="520.2" cy="915.1" r="1.8" fill="#3a1c80" opacity="0.99"/>
<circle cx="550.8" cy="978.7" r="0.9" fill="#40208a" opacity="0.83"/>
<circle cx="543.9" cy="948.4" r="1.1" fill="#40208a" opacity="0.96"/>
<circle cx="530.5" cy="1021.9" r="1.7" fill="#48289a" opacity="0.87"/>
<circle cx="494.9" cy="957.0" r="0.9" fill="#3a1c80" opacity="0.87"/>
<circle cx="566.3" cy="1033.0" r="1.1" fill="#40208a" opacity="0.89"/>
<circle cx="552.7" cy="971.3" r="1.3" fill="#48289a" opacity="0.93"/>
<circle cx="580.1" cy="1052.0" r="1.3" fill="#3a1c80" opacity="0.87"/>
<circle cx="543.2" cy="1031.5" r="1.7" fill="#3a1c80" opacity="0.86"/>
<circle cx="547.6" cy="980.1" r="1.8" fill="#40208a" opacity="0.99"/>
<circle cx="465.4" cy="948.2" r="1.6" fill="#48289a" opacity="0.97"/>
<circle cx="503.3" cy="1029.5" r="1.4" fill="#3a1c80" opacity="0.92"/>
<circle cx="558.9" cy="979.1" r="1.7" fill="#2c1468" opacity="0.93"/>
<circle cx="645.9" cy="974.9" r="1.5" fill="#2c1468" opacity="0.84"/>
<circle cx="530.9" cy="1051.4" r="1.2" fill="#48289a" opacity="0.89"/>
<circle cx="608.1" cy="975.5" r="1.7" fill="#3a1c80" opacity="0.81"/>
<circle cx="560.3" cy="978.0" r="1.5" fill="#2c1468" opacity="0.95"/>
<circle cx="529.2" cy="1004.5" r="1.0" fill="#48289a" opacity="0.98"/>
<circle cx="463.0" cy="939.9" r="1.4" fill="#48289a" opacity="0.86"/>
<circle cx="516.6" cy="905.0" r="1.7" fill="#2c1468" opacity="0.89"/>
<circle cx="591.1" cy="1014.8" r="1.6" fill="#48289a" opacity="0.93"/>
<circle cx="499.7" cy="981.1" r="0.9" fill="#40208a" opacity="0.95"/>
<circle cx="524.4" cy="979.3" r="2.0" fill="#48289a" opacity="0.95"/>
<circle cx="487.8" cy="963.2" r="1.4" fill="#40208a" opacity="0.95"/>
<circle cx="563.5" cy="992.3" r="1.0" fill="#3a1c80" opacity="0.87"/>
<circle cx="483.7" cy="999.6" r="1.7" fill="#48289a" opacity="0.80"/>
<circle cx="535.9" cy="915.4" r="1.2" fill="#40208a" opacity="0.88"/>
<circle cx="514.6" cy="959.8" r="1.0" fill="#48289a" opacity="0.84"/>
<circle cx="493.1" cy="967.4" r="1.2" fill="#40208a" opacity="0.95"/>
<circle cx="537.3" cy="1064.6" r="1.3" fill="#3a1c80" opacity="0.99"/>
<circle cx="541.5" cy="1070.1" r="1.1" fill="#40208a" opacity="0.97"/>
<circle cx="476.0" cy="1037.3" r="1.3" fill="#48289a" opacity="1.00"/>
<circle cx="596.1" cy="1004.9" r="1.7" fill="#3a1c80" opacity="1.00"/>
<circle cx="520.0" cy="1019.8" r="1.7" fill="#48289a" opacity="0.84"/>
<circle cx="592.5" cy="1027.7" r="1.0" fill="#40208a" opacity="0.90"/>
<circle cx="599.5" cy="992.0" r="1.8" fill="#48289a" opacity="0.89"/>
<circle cx="601.0" cy="955.6" r="1.0" fill="#48289a" opacity="0.87"/>
<circle cx="538.6" cy="1045.1" r="1.6" fill="#40208a" opacity="0.83"/>
<circle cx="622.2" cy="932.1" r="1.2" fill="#2c1468" opacity="0.97"/>
<circle cx="555.7" cy="1061.6" r="1.4" fill="#48289a" opacity="0.81"/>
<circle cx="543.7" cy="953.9" r="1.2" fill="#48289a" opacity="0.97"/>
<circle cx="589.1" cy="991.6" r="1.3" fill="#2c1468" opacity="0.81"/>
<circle cx="473.9" cy="960.1" r="3.2" fill="#3a1c70" opacity="0.97"/>
<circle cx="592.6" cy="929.4" r="2.6" fill="#2a1050" opacity="0.98"/>
<circle cx="558.5" cy="974.0" r="2.9" fill="#3a1c70" opacity="0.96"/>
<circle cx="556.4" cy="980.2" r="2.9" fill="#2a1050" opacity="0.90"/>
<circle cx="488.1" cy="966.7" r="2.6" fill="#3a1c70" opacity="0.95"/>
<circle cx="463.7" cy="1007.5" r="3.5" fill="#2a1050" opacity="0.96"/>
<circle cx="627.1" cy="1003.9" r="2.9" fill="#2a1050" opacity="0.98"/>
<circle cx="547.4" cy="961.7" r="3.0" fill="#2a1050" opacity="0.99"/>
</g>
<text x="182.3" y="1244.6" font-family='"Liberation Serif", serif' font-size="34.2" font-weight="bold">SW480</text>
<line x1="154.7" y1="1269.1" x2="154.7" y2="1636.7" stroke="#000" stroke-width="4.6"/>
<line x1="152.39999999999998" y1="1634.4" x2="794.2" y2="1634.4" stroke="#000" stroke-width="4.6"/>
<path d="M154.7,1250.6 L140.5,1279.6 L154.7,1270.1 L168.89999999999998,1279.6 Z" fill="#000"/>
<path d="M812.7,1634.4 L783.7,1620.2 L793.2,1634.4 L783.7,1648.6000000000001 Z" fill="#000"/>
<text x="349.4" y="1622.6" font-family='"Liberation Serif", serif' font-size="33.4" font-weight="bold" text-anchor="middle">NC</text>
<text x="663.3" y="1619.2" font-family='"Liberation Serif", serif' font-size="33.4" font-weight="bold" text-anchor="middle">D-2-EPS</text>
<text x="512.8" y="1692.4" font-family='"Liberation Serif", serif' font-size="39.8" font-weight="bold" text-anchor="middle">PI</text>
<path d="M236.7,1556.8 L236.7,1556.8 L237.2,1556.8 L237.7,1556.8 L238.2,1556.8 L238.7,1556.8 L239.2,1556.8 L239.7,1556.8 L240.2,1556.8 L240.7,1556.8 L241.2,1556.8 L241.7,1556.8 L242.2,1556.8 L242.7,1556.8 L243.2,1556.8 L243.7,1556.8 L244.2,1556.8 L244.7,1556.8 L245.2,1556.8 L245.7,1556.8 L246.2,1556.8 L246.7,1556.8 L247.2,1556.8 L247.7,1556.8 L248.2,1556.8 L248.7,1556.8 L249.2,1556.8 L249.7,1556.8 L250.2,1556.8 L250.7,1556.7 L251.2,1556.6 L251.7,1556.5 L252.2,1556.2 L252.7,1555.3 L253.2,1554.3 L253.7,1552.8 L254.2,1550.5 L254.7,1547.4 L255.2,1543.1 L255.7,1537.6 L256.2,1530.9 L256.7,1523.1 L257.2,1514.7 L257.7,1506.2 L258.2,1498.2 L258.7,1491.6 L259.2,1487.0 L259.7,1484.9 L260.2,1484.8 L260.7,1485.4 L261.2,1486.8 L261.7,1488.7 L262.2,1491.2 L262.7,1494.2 L263.2,1497.5 L263.7,1501.2 L264.2,1505.0 L264.7,1509.0 L265.2,1513.0 L265.7,1516.9 L266.2,1520.7 L266.7,1524.3 L267.2,1527.6 L267.7,1530.7 L268.2,1533.5 L268.7,1536.0 L269.2,1538.2 L269.7,1540.1 L270.2,1541.8 L270.7,1543.2 L271.2,1544.4 L271.7,1545.3 L272.2,1546.1 L272.7,1546.7 L273.2,1547.2 L273.7,1547.6 L274.2,1547.9 L274.7,1548.1 L275.2,1548.3 L275.7,1548.4 L276.2,1548.4 L276.7,1548.5 L277.2,1548.5 L277.7,1548.5 L278.2,1548.5 L278.7,1548.4 L279.2,1548.4 L279.7,1548.4 L280.2,1548.3 L280.7,1548.3 L281.2,1548.2 L281.7,1548.2 L282.2,1548.1 L282.7,1548.1 L283.2,1548.0 L283.7,1548.0 L284.2,1547.9 L284.7,1547.9 L285.2,1547.8 L285.7,1547.8 L286.2,1547.7 L286.7,1547.7 L287.2,1547.6 L287.7,1547.6 L288.2,1547.5 L288.7,1547.5 L289.2,1547.4 L289.7,1547.3 L290.2,1547.3 L290.7,1547.2 L291.2,1547.2 L291.7,1547.1 L292.2,1547.1 L292.7,1547.0 L293.2,1547.0 L293.7,1546.9 L294.2,1546.9 L294.7,1546.8 L295.2,1546.8 L295.7,1546.7 L296.2,1546.7 L296.7,1546.6 L297.2,1546.6 L297.7,1546.5 L298.2,1546.5 L298.7,1546.4 L299.2,1546.4 L299.7,1546.3 L300.2,1546.3 L300.7,1546.2 L301.2,1546.2 L301.7,1546.1 L302.2,1546.1 L302.7,1546.0 L303.2,1546.0 L303.7,1545.9 L304.2,1545.9 L304.7,1545.8 L305.2,1545.8 L305.7,1545.8 L306.2,1545.7 L306.7,1545.7 L307.2,1545.6 L307.7,1545.6 L308.2,1545.6 L308.7,1545.5 L309.2,1545.5 L309.7,1545.5 L310.2,1545.4 L310.7,1545.4 L311.2,1545.4 L311.7,1545.4 L312.2,1545.4 L312.7,1545.4 L313.2,1545.4 L313.7,1545.5 L314.2,1545.5 L314.7,1545.6 L315.2,1545.6 L315.7,1545.7 L316.2,1545.8 L316.7,1545.9 L317.2,1546.0 L317.7,1546.2 L318.2,1546.4 L318.7,1546.6 L319.2,1546.8 L319.7,1547.1 L320.2,1547.4 L320.7,1547.7 L321.2,1548.0 L321.7,1548.4 L322.2,1548.8 L322.7,1549.2 L323.2,1549.6 L323.7,1550.0 L324.2,1550.5 L324.7,1550.9 L325.2,1551.4 L325.7,1551.8 L326.2,1552.3 L326.7,1552.7 L327.2,1553.1 L327.7,1553.4 L328.2,1553.8 L328.7,1554.1 L329.2,1554.4 L329.7,1554.7 L330.2,1554.9 L330.7,1555.1 L331.2,1555.3 L331.7,1555.5 L332.2,1555.7 L332.7,1555.8 L333.2,1555.9 L333.7,1556.0 L334.2,1556.1 L334.7,1556.2 L335.2,1556.3 L335.7,1556.4 L336.2,1556.4 L336.7,1556.5 L337.2,1556.5 L337.7,1556.5 L338.2,1556.6 L338.7,1556.6 L339.2,1556.6 L339.7,1556.7 L340.2,1556.7 L340.7,1556.7 L341.2,1556.7 L341.7,1556.7 L342.2,1556.7 L342.7,1556.7 L343.2,1556.7 L343.7,1556.8 L344.2,1556.8 L344.7,1556.8 L345.2,1556.8 L345.7,1556.8 L346.2,1556.8 L346.7,1556.8 L347.2,1556.8 L347.7,1556.8 L348.2,1556.8 L348.7,1556.8 L349.2,1556.8 L349.7,1556.8 L350.2,1556.8 L350.7,1556.8 L351.2,1556.8 L351.7,1556.8 L352.2,1556.8 L352.7,1556.8 L353.2,1556.8 L353.7,1556.8 L354.2,1556.8 L354.7,1556.8 L355.2,1556.8 L355.7,1556.8 L356.2,1556.8 L356.7,1556.8 L357.2,1556.8 L357.7,1556.8 L358.2,1556.8 L358.7,1556.8 L359.2,1556.8 L359.7,1556.8 L360.2,1556.8 L360.7,1556.8 L361.2,1556.8 L361.7,1556.8 L361.7,1556.8 Z" fill="#e3de80" opacity="1"/>
<path d="M236.7,1556.8 L236.7,1556.8 L237.2,1556.8 L237.7,1556.8 L238.2,1556.8 L238.7,1556.8 L239.2,1556.8 L239.7,1556.8 L240.2,1556.7 L240.7,1556.3 L241.2,1554.8 L241.7,1551.1 L242.2,1544.7 L242.7,1535.9 L243.2,1525.7 L243.7,1514.6 L244.2,1503.1 L244.7,1491.2 L245.2,1479.0 L245.7,1466.5 L246.2,1453.8 L246.7,1440.8 L247.2,1427.7 L247.7,1414.4 L248.2,1400.9 L248.7,1387.3 L249.2,1373.5 L249.7,1359.6 L250.2,1345.5 L250.7,1331.5 L251.2,1318.0 L251.7,1307.0 L252.2,1301.6 L252.7,1304.1 L253.2,1313.3 L253.7,1326.0 L254.2,1339.9 L254.7,1354.0 L255.2,1367.9 L255.7,1381.8 L256.2,1395.5 L256.7,1409.0 L257.2,1422.4 L257.7,1435.6 L258.2,1448.6 L258.7,1461.4 L259.2,1474.0 L259.7,1486.3 L260.2,1498.4 L260.7,1510.1 L261.2,1521.3 L261.7,1531.9 L262.2,1541.4 L262.7,1548.8 L263.2,1553.5 L263.7,1555.8 L264.2,1556.6 L264.7,1556.8 L265.2,1556.8 L265.7,1556.8 L266.2,1556.8 L266.7,1556.8 L267.2,1556.8 L267.7,1556.8 L267.7,1556.8 Z" fill="#22c822" opacity="0.56"/>
<path d="M303.7,1556.8 L303.7,1556.8 L304.2,1556.8 L304.7,1556.8 L305.2,1556.8 L305.7,1556.8 L306.2,1556.8 L306.7,1556.7 L307.2,1556.7 L307.7,1556.7 L308.2,1556.7 L308.7,1556.7 L309.2,1556.6 L309.7,1556.6 L310.2,1556.5 L310.7,1556.5 L311.2,1556.4 L311.7,1556.3 L312.2,1556.2 L312.7,1556.1 L313.2,1555.9 L313.7,1555.7 L314.2,1555.5 L314.7,1555.3 L315.2,1555.0 L315.7,1554.7 L316.2,1554.4 L316.7,1554.0 L317.2,1553.6 L317.7,1553.1 L318.2,1552.5 L318.7,1551.9 L319.2,1551.2 L319.7,1550.5 L320.2,1549.7 L320.7,1548.9 L321.2,1547.9 L321.7,1547.0 L322.2,1545.9 L322.7,1544.8 L323.2,1543.7 L323.7,1542.5 L324.2,1541.3 L324.7,1540.1 L325.2,1538.9 L325.7,1537.6 L326.2,1536.4 L326.7,1535.2 L327.2,1534.0 L327.7,1532.9 L328.2,1531.8 L328.7,1530.8 L329.2,1529.9 L329.7,1529.1 L330.2,1528.4 L330.7,1527.8 L331.2,1527.3 L331.7,1527.0 L332.2,1526.8 L332.7,1526.8 L333.2,1526.9 L333.7,1527.1 L334.2,1527.5 L334.7,1528.0 L335.2,1528.6 L335.7,1529.4 L336.2,1530.2 L336.7,1531.2 L337.2,1532.2 L337.7,1533.3 L338.2,1534.4 L338.7,1535.6 L339.2,1536.9 L339.7,1538.1 L340.2,1539.4 L340.7,1540.6 L341.2,1541.8 L341.7,1543.0 L342.2,1544.2 L342.7,1545.3 L343.2,1546.3 L343.7,1547.4 L344.2,1548.3 L344.7,1549.2 L345.2,1550.0 L345.7,1550.8 L346.2,1551.5 L346.7,1552.2 L347.2,1552.7 L347.7,1553.3 L348.2,1553.7 L348.7,1554.2 L349.2,1554.5 L349.7,1554.9 L350.2,1555.2 L350.7,1555.4 L351.2,1555.6 L351.7,1555.8 L352.2,1556.0 L352.7,1556.1 L353.2,1556.2 L353.7,1556.3 L354.2,1556.4 L354.7,1556.5 L355.2,1556.6 L355.7,1556.6 L356.2,1556.6 L356.7,1556.7 L357.2,1556.7 L357.7,1556.7 L358.2,1556.7 L358.7,1556.7 L359.2,1556.8 L359.7,1556.8 L360.2,1556.8 L360.7,1556.8 L361.2,1556.8 L361.7,1556.8 L361.7,1556.8 Z" fill="#22eef0" opacity="0.62"/>
<polyline points="230.7,1556.8 231.2,1556.8 231.7,1556.8 232.2,1556.8 232.7,1556.8 233.2,1556.8 233.7,1556.8 234.2,1556.8 234.7,1556.8 235.2,1556.8 235.7,1556.8 236.2,1556.8 236.7,1556.8 237.2,1556.8 237.7,1556.8 238.2,1556.8 238.7,1556.8 239.2,1556.7 239.7,1556.5 240.2,1555.4 240.7,1552.8 241.2,1547.8 241.7,1540.6 242.2,1531.8 242.7,1521.9 243.2,1511.5 243.7,1500.7 244.2,1489.6 244.7,1478.2 245.2,1466.6 245.7,1454.7 246.2,1442.7 246.7,1430.5 247.2,1418.2 247.7,1405.7 248.2,1393.1 248.7,1380.3 249.2,1367.4 249.7,1354.4 250.2,1341.3 250.7,1328.2 251.2,1315.8 251.7,1305.8 252.2,1300.9 252.7,1302.4 253.2,1309.6 253.7,1319.7 254.2,1330.6 254.7,1341.0 255.2,1350.4 255.7,1358.8 256.2,1365.9 256.7,1371.9 257.2,1376.9 257.7,1381.4 258.2,1385.8 258.7,1390.6 259.2,1396.5 259.7,1403.9 260.2,1413.2 260.7,1424.2 261.2,1435.6 261.7,1447.3 262.2,1459.0 262.7,1471.5 263.2,1480.5 263.7,1489.5 264.2,1496.6 264.7,1502.3 265.2,1504.8 265.7,1508.6 266.2,1513.2 266.7,1516.8 267.2,1521.1 267.7,1525.1 268.2,1527.2 268.7,1529.6 269.2,1533.7 269.7,1539.3 270.2,1542.5 270.7,1543.9 271.2,1545.6 271.7,1543.9 272.2,1545.4 272.7,1545.7 273.2,1546.9 273.7,1548.9 274.2,1548.4 274.7,1548.1 275.2,1549.3 275.7,1547.1 276.2,1548.8 276.7,1549.4 277.2,1547.6 277.7,1549.5 278.2,1547.3 278.7,1548.6 279.2,1548.3 279.7,1548.8 280.2,1548.4 280.7,1549.1 281.2,1549.5 281.7,1547.1 282.2,1548.9 282.7,1547.3 283.2,1548.8 283.7,1546.7 284.2,1546.8 284.7,1547.2 285.2,1547.1 285.7,1547.5 286.2,1547.1 286.7,1548.7 287.2,1547.7 287.7,1546.6 288.2,1548.3 288.7,1546.3 289.2,1546.3 289.7,1547.6 290.2,1547.7 290.7,1547.4 291.2,1547.5 291.7,1545.8 292.2,1547.4 292.7,1548.4 293.2,1548.1 293.7,1546.3 294.2,1545.5 294.7,1546.8 295.2,1546.8 295.7,1546.6 296.2,1546.0 296.7,1547.4 297.2,1546.3 297.7,1546.4 298.2,1546.1 298.7,1547.3 299.2,1547.3 299.7,1546.7 300.2,1545.1 300.7,1546.7 301.2,1545.9 301.7,1546.7 302.2,1547.2 302.7,1547.2 303.2,1545.1 303.7,1545.1 304.2,1546.2 304.7,1545.3 305.2,1545.3 305.7,1544.6 306.2,1544.4 306.7,1545.9 307.2,1544.2 307.7,1544.2 308.2,1545.2 308.7,1544.3 309.2,1545.3 309.7,1545.6 310.2,1545.9 310.7,1544.0 311.2,1546.0 311.7,1546.1 312.2,1544.0 312.7,1543.9 313.2,1544.6 313.7,1543.5 314.2,1545.5 314.7,1544.7 315.2,1544.5 315.7,1543.9 316.2,1544.3 316.7,1544.3 317.2,1543.3 317.7,1541.3 318.2,1540.7 318.7,1541.0 319.2,1541.3 319.7,1541.5 320.2,1539.0 320.7,1539.7 321.2,1538.5 321.7,1539.9 322.2,1538.7 322.7,1536.3 323.2,1535.7 323.7,1534.7 324.2,1534.7 324.7,1534.5 325.2,1533.2 325.7,1531.7 326.2,1532.4 326.7,1531.0 327.2,1530.9 327.7,1528.7 328.2,1530.1 328.7,1527.6 329.2,1526.2 329.7,1528.3 330.2,1526.2 330.7,1525.7 331.2,1524.9 331.7,1525.5 332.2,1526.4 332.7,1526.1 333.2,1524.7 333.7,1525.2 334.2,1527.9 334.7,1528.6 335.2,1529.3 335.7,1530.3 336.2,1530.0 336.7,1531.8 337.2,1530.8 337.7,1532.5 338.2,1535.2 338.7,1535.2 339.2,1537.0 339.7,1537.7 340.2,1539.7 340.7,1541.0 341.2,1542.1 341.7,1542.6 342.2,1542.7 342.7,1544.1 343.2,1546.4 343.7,1545.3 344.2,1545.6 344.7,1546.6 345.2,1547.1 345.7,1549.9 346.2,1549.1 346.7,1550.7 347.2,1549.2 347.7,1551.2 348.2,1550.2 348.7,1551.8 349.2,1551.0 349.7,1552.5 350.2,1553.6 350.7,1553.1 351.2,1553.7 351.7,1552.4 352.2,1554.5 352.7,1554.3 353.2,1554.5 353.7,1553.7 354.2,1556.4 354.7,1555.2 355.2,1555.7 355.7,1555.3 356.2,1554.8 356.7,1556.8 357.2,1555.8 357.7,1556.4 358.2,1556.4 358.7,1556.8 359.2,1555.8 359.7,1555.4 360.2,1556.8 360.7,1556.8 361.2,1555.4 361.7,1556.8 362.2,1556.8 362.7,1556.8 363.2,1555.9 363.7,1556.1 364.2,1556.8 364.7,1556.5 365.2,1556.8 365.7,1556.4 366.2,1556.8 366.7,1556.8 367.2,1556.8 367.7,1556.8 368.2,1556.8 368.7,1556.8 369.2,1556.8 369.7,1556.8 370.2,1556.2 370.7,1555.9 371.2,1556.2 371.7,1556.8 372.2,1556.8 372.7,1556.8 373.2,1556.8 373.7,1556.4" fill="none" stroke="#111" stroke-width="1.2" opacity="0.9"/>
<polyline points="233.7,1556.8 234.2,1556.8 234.7,1556.8 235.2,1556.8 235.7,1556.8 236.2,1556.8 236.7,1556.8 237.2,1556.8 237.7,1556.8 238.2,1556.8 238.7,1556.8 239.2,1556.8 239.7,1556.8 240.2,1556.7 240.7,1556.3 241.2,1554.8 241.7,1551.1 242.2,1544.7 242.7,1535.9 243.2,1525.7 243.7,1514.6 244.2,1503.1 244.7,1491.2 245.2,1479.0 245.7,1466.5 246.2,1453.8 246.7,1440.8 247.2,1427.7 247.7,1414.4 248.2,1400.9 248.7,1387.3 249.2,1373.5 249.7,1359.5 250.2,1345.5 250.7,1331.4 251.2,1317.8 251.7,1306.7 252.2,1301.0 252.7,1302.6 253.2,1310.7 253.7,1322.0 254.2,1333.6 254.7,1344.5 255.2,1354.2 255.7,1362.5 256.2,1369.5 256.7,1375.3 257.2,1380.3 257.7,1385.0 258.2,1390.1 258.7,1396.3 259.2,1404.2 259.7,1414.4 260.2,1426.4 260.7,1438.7 261.2,1451.3 261.7,1463.8 262.2,1475.8 262.7,1486.1 263.2,1494.3 263.7,1500.2 264.2,1504.8 264.7,1509.0 265.2,1513.0 265.7,1516.9 266.2,1520.7 266.7,1524.3 267.2,1527.6 267.7,1530.7 268.2,1533.5 268.7,1536.0 269.2,1538.2 269.7,1540.1 270.2,1541.8 270.7,1543.2 271.2,1544.4 271.7,1545.3 272.2,1546.1 272.7,1546.7 273.2,1547.2 273.7,1547.6 274.2,1547.9 274.7,1548.1 275.2,1548.3 275.7,1548.4 276.2,1548.4 276.7,1548.5 277.2,1548.5 277.7,1548.5 278.2,1548.5 278.7,1548.4 279.2,1548.4 279.7,1548.4 280.2,1548.3 280.7,1548.3 281.2,1548.2 281.7,1548.2 282.2,1548.1 282.7,1548.1 283.2,1548.0 283.7,1548.0 284.2,1547.9 284.7,1547.9 285.2,1547.8 285.7,1547.8 286.2,1547.7 286.7,1547.7 287.2,1547.6 287.7,1547.6 288.2,1547.5 288.7,1547.5 289.2,1547.4 289.7,1547.3 290.2,1547.3 290.7,1547.2 291.2,1547.2 291.7,1547.1 292.2,1547.1 292.7,1547.0 293.2,1547.0 293.7,1546.9 294.2,1546.9 294.7,1546.8 295.2,1546.8 295.7,1546.7 296.2,1546.7 296.7,1546.6 297.2,1546.6 297.7,1546.5 298.2,1546.5 298.7,1546.4 299.2,1546.4 299.7,1546.3 300.2,1546.3 300.7,1546.2 301.2,1546.2 301.7,1546.1 302.2,1546.1 302.7,1546.0 303.2,1546.0 303.7,1545.9 304.2,1545.9 304.7,1545.8 305.2,1545.8 305.7,1545.7 306.2,1545.7 306.7,1545.6 307.2,1545.6 307.7,1545.5 308.2,1545.4 308.7,1545.4 309.2,1545.3 309.7,1545.3 310.2,1545.2 310.7,1545.1 311.2,1545.0 311.7,1544.9 312.2,1544.8 312.7,1544.7 313.2,1544.6 313.7,1544.4 314.2,1544.2 314.7,1544.1 315.2,1543.9 315.7,1543.6 316.2,1543.4 316.7,1543.1 317.2,1542.8 317.7,1542.5 318.2,1542.1 318.7,1541.7 319.2,1541.3 319.7,1540.8 320.2,1540.3 320.7,1539.7 321.2,1539.2 321.7,1538.6 322.2,1537.9 322.7,1537.2 323.2,1536.5 323.7,1535.8 324.2,1535.0 324.7,1534.2 325.2,1533.5 325.7,1532.7 326.2,1531.9 326.7,1531.0 327.2,1530.3 327.7,1529.5 328.2,1528.8 328.7,1528.1 329.2,1527.5 329.7,1526.9 330.2,1526.5 330.7,1526.1 331.2,1525.9 331.7,1525.7 332.2,1525.7 332.7,1525.8 333.2,1526.0 333.7,1526.4 334.2,1526.8 334.7,1527.4 335.2,1528.1 335.7,1528.9 336.2,1529.8 336.7,1530.8 337.2,1531.9 337.7,1533.0 338.2,1534.2 338.7,1535.4 339.2,1536.7 339.7,1538.0 340.2,1539.2 340.7,1540.5 341.2,1541.7 341.7,1542.9 342.2,1544.1 342.7,1545.2 343.2,1546.3 343.7,1547.3 344.2,1548.3 344.7,1549.2 345.2,1550.0 345.7,1550.8 346.2,1551.5 346.7,1552.1 347.2,1552.7 347.7,1553.3 348.2,1553.7 348.7,1554.2 349.2,1554.5 349.7,1554.9 350.2,1555.2 350.7,1555.4 351.2,1555.6 351.7,1555.8 352.2,1556.0 352.7,1556.1 353.2,1556.2 353.7,1556.3 354.2,1556.4 354.7,1556.5 355.2,1556.5 355.7,1556.6 356.2,1556.6 356.7,1556.7 357.2,1556.7 357.7,1556.7 358.2,1556.7 358.7,1556.7 359.2,1556.8 359.7,1556.8 360.2,1556.8 360.7,1556.8 361.2,1556.8 361.7,1556.8 362.2,1556.8 362.7,1556.8 363.2,1556.8 363.7,1556.8 364.2,1556.8 364.7,1556.8" fill="none" stroke="#e81ce8" stroke-width="1.4"/>
<line x1="252.5" y1="1281.6" x2="252.5" y2="1556.8" stroke="#22b022" stroke-width="1.5"/>
<line x1="332.5" y1="1281.6" x2="332.5" y2="1556.8" stroke="#22e0ea" stroke-width="1.6"/>
<rect x="313.9" y="1306.3" width="150" height="200.25" fill="#fff" opacity="0.8"/>
<text x="315.9" y="1318.3" font-family='"Liberation Sans", sans-serif' font-size="14.2" fill="#111">Watson</text>
<text x="315.9" y="1335.0" font-family='"Liberation Sans", sans-serif' font-size="14.2" fill="#111">RMS: 13.23</text>
<text x="315.9" y="1351.8" font-family='"Liberation Sans", sans-serif' font-size="14.2" fill="#111">Freq G1: 53.36</text>
<text x="315.9" y="1368.5" font-family='"Liberation Sans", sans-serif' font-size="14.2" fill="#111">Freq S: 31.52</text>
<text x="315.9" y="1385.3" font-family='"Liberation Sans", sans-serif' font-size="14.2" fill="#111">Freq G2: 14.66</text>
<text x="315.9" y="1402.0" font-family='"Liberation Sans", sans-serif' font-size="14.2" fill="#111">Mean G1: 1,017,726</text>
<text x="315.9" y="1418.8" font-family='"Liberation Sans", sans-serif' font-size="14.2" fill="#111">Mean G2: 1,994,366</text>
<text x="315.9" y="1435.5" font-family='"Liberation Sans", sans-serif' font-size="14.2" fill="#111">G2/G1: 1.96</text>
<text x="315.9" y="1452.3" font-family='"Liberation Sans", sans-serif' font-size="14.2" fill="#111">CV G1: 4.08%</text>
<text x="315.9" y="1469.0" font-family='"Liberation Sans", sans-serif' font-size="14.2" fill="#111">CV G2: 5.00%</text>
<text x="315.9" y="1485.8" font-family='"Liberation Sans", sans-serif' font-size="14.2" fill="#111">Freq Sub-G1: 0.00</text>
<text x="315.9" y="1502.5" font-family='"Liberation Sans", sans-serif' font-size="14.2" fill="#111">Freq Super-G2: 0.46</text>
<text x="256.5" y="1300.1" font-family='"Liberation Sans", sans-serif' font-size="13.5" text-anchor="middle" fill="#111">G1</text>
<text x="336.5" y="1300.1" font-family='"Liberation Sans", sans-serif' font-size="13.5" text-anchor="middle" fill="#111">G2</text>
<rect x="200.7" y="1281.6" width="276.7" height="275.20000000000005" fill="none" stroke="#222" stroke-width="1.6"/>
<line x1="197.7" y1="1556.8" x2="200.7" y2="1556.8" stroke="#222" stroke-width="1"/>
<line x1="197.7" y1="1542.6" x2="200.7" y2="1542.6" stroke="#222" stroke-width="1"/>
<line x1="197.7" y1="1528.4" x2="200.7" y2="1528.4" stroke="#222" stroke-width="1"/>
<line x1="197.7" y1="1514.2" x2="200.7" y2="1514.2" stroke="#222" stroke-width="1"/>
<line x1="197.7" y1="1500.1" x2="200.7" y2="1500.1" stroke="#222" stroke-width="1"/>
<line x1="197.7" y1="1485.9" x2="200.7" y2="1485.9" stroke="#222" stroke-width="1"/>
<line x1="197.7" y1="1471.7" x2="200.7" y2="1471.7" stroke="#222" stroke-width="1"/>
<line x1="197.7" y1="1457.5" x2="200.7" y2="1457.5" stroke="#222" stroke-width="1"/>
<line x1="197.7" y1="1443.3" x2="200.7" y2="1443.3" stroke="#222" stroke-width="1"/>
<line x1="197.7" y1="1429.1" x2="200.7" y2="1429.1" stroke="#222" stroke-width="1"/>
<line x1="197.7" y1="1414.9" x2="200.7" y2="1414.9" stroke="#222" stroke-width="1"/>
<line x1="197.7" y1="1400.8" x2="200.7" y2="1400.8" stroke="#222" stroke-width="1"/>
<line x1="197.7" y1="1386.6" x2="200.7" y2="1386.6" stroke="#222" stroke-width="1"/>
<line x1="197.7" y1="1372.4" x2="200.7" y2="1372.4" stroke="#222" stroke-width="1"/>
<line x1="197.7" y1="1358.2" x2="200.7" y2="1358.2" stroke="#222" stroke-width="1"/>
<line x1="197.7" y1="1344.0" x2="200.7" y2="1344.0" stroke="#222" stroke-width="1"/>
<line x1="197.7" y1="1329.8" x2="200.7" y2="1329.8" stroke="#222" stroke-width="1"/>
<line x1="197.7" y1="1315.6" x2="200.7" y2="1315.6" stroke="#222" stroke-width="1"/>
<line x1="197.7" y1="1301.5" x2="200.7" y2="1301.5" stroke="#222" stroke-width="1"/>
<line x1="197.7" y1="1287.3" x2="200.7" y2="1287.3" stroke="#222" stroke-width="1"/>
<line x1="194.7" y1="1556.8" x2="200.7" y2="1556.8" stroke="#222" stroke-width="1.3"/>
<text transform="translate(188,1558.3) rotate(-90)" font-family='"Liberation Sans", sans-serif' font-size="14.3" text-anchor="middle" fill="#111">0</text>
<line x1="194.7" y1="1485.9" x2="200.7" y2="1485.9" stroke="#222" stroke-width="1.3"/>
<text transform="translate(188,1487.4) rotate(-90)" font-family='"Liberation Sans", sans-serif' font-size="14.3" text-anchor="middle" fill="#111">200</text>
<line x1="194.7" y1="1414.9" x2="200.7" y2="1414.9" stroke="#222" stroke-width="1.3"/>
<text transform="translate(188,1416.4) rotate(-90)" font-family='"Liberation Sans", sans-serif' font-size="14.3" text-anchor="middle" fill="#111">400</text>
<line x1="194.7" y1="1344.0" x2="200.7" y2="1344.0" stroke="#222" stroke-width="1.3"/>
<text transform="translate(188,1345.5) rotate(-90)" font-family='"Liberation Sans", sans-serif' font-size="14.3" text-anchor="middle" fill="#111">600</text>
<line x1="194.7" y1="1281.6" x2="200.7" y2="1281.6" stroke="#222" stroke-width="1.3"/>
<text transform="translate(188,1283.1) rotate(-90)" font-family='"Liberation Sans", sans-serif' font-size="14.3" text-anchor="middle" fill="#111">776</text>
<line x1="200.8" y1="1556.8" x2="200.8" y2="1559.3999999999999" stroke="#222" stroke-width="1"/>
<line x1="209.3" y1="1556.8" x2="209.3" y2="1559.3999999999999" stroke="#222" stroke-width="1"/>
<line x1="217.8" y1="1556.8" x2="217.8" y2="1559.3999999999999" stroke="#222" stroke-width="1"/>
<line x1="226.2" y1="1556.8" x2="226.2" y2="1559.3999999999999" stroke="#222" stroke-width="1"/>
<line x1="234.7" y1="1556.8" x2="234.7" y2="1559.3999999999999" stroke="#222" stroke-width="1"/>
<line x1="242.9" y1="1556.8" x2="242.9" y2="1559.3999999999999" stroke="#222" stroke-width="1"/>
<line x1="251.1" y1="1556.8" x2="251.1" y2="1559.3999999999999" stroke="#222" stroke-width="1"/>
<line x1="259.3" y1="1556.8" x2="259.3" y2="1559.3999999999999" stroke="#222" stroke-width="1"/>
<line x1="267.5" y1="1556.8" x2="267.5" y2="1559.3999999999999" stroke="#222" stroke-width="1"/>
<line x1="275.8" y1="1556.8" x2="275.8" y2="1559.3999999999999" stroke="#222" stroke-width="1"/>
<line x1="284.0" y1="1556.8" x2="284.0" y2="1559.3999999999999" stroke="#222" stroke-width="1"/>
<line x1="292.2" y1="1556.8" x2="292.2" y2="1559.3999999999999" stroke="#222" stroke-width="1"/>
<line x1="300.4" y1="1556.8" x2="300.4" y2="1559.3999999999999" stroke="#222" stroke-width="1"/>
<line x1="308.7" y1="1556.8" x2="308.7" y2="1559.3999999999999" stroke="#222" stroke-width="1"/>
<line x1="317.1" y1="1556.8" x2="317.1" y2="1559.3999999999999" stroke="#222" stroke-width="1"/>
<line x1="325.4" y1="1556.8" x2="325.4" y2="1559.3999999999999" stroke="#222" stroke-width="1"/>
<line x1="333.8" y1="1556.8" x2="333.8" y2="1559.3999999999999" stroke="#222" stroke-width="1"/>
<line x1="342.1" y1="1556.8" x2="342.1" y2="1559.3999999999999" stroke="#222" stroke-width="1"/>
<line x1="350.5" y1="1556.8" x2="350.5" y2="1559.3999999999999" stroke="#222" stroke-width="1"/>
<line x1="358.8" y1="1556.8" x2="358.8" y2="1559.3999999999999" stroke="#222" stroke-width="1"/>
<line x1="367.2" y1="1556.8" x2="367.2" y2="1559.3999999999999" stroke="#222" stroke-width="1"/>
<line x1="375.7" y1="1556.8" x2="375.7" y2="1559.3999999999999" stroke="#222" stroke-width="1"/>
<line x1="384.1" y1="1556.8" x2="384.1" y2="1559.3999999999999" stroke="#222" stroke-width="1"/>
<line x1="392.6" y1="1556.8" x2="392.6" y2="1559.3999999999999" stroke="#222" stroke-width="1"/>
<line x1="401.0" y1="1556.8" x2="401.0" y2="1559.3999999999999" stroke="#222" stroke-width="1"/>
<line x1="409.5" y1="1556.8" x2="409.5" y2="1559.3999999999999" stroke="#222" stroke-width="1"/>
<line x1="418.0" y1="1556.8" x2="418.0" y2="1559.3999999999999" stroke="#222" stroke-width="1"/>
<line x1="426.4" y1="1556.8" x2="426.4" y2="1559.3999999999999" stroke="#222" stroke-width="1"/>
<line x1="434.9" y1="1556.8" x2="434.9" y2="1559.3999999999999" stroke="#222" stroke-width="1"/>
<line x1="443.4" y1="1556.8" x2="443.4" y2="1559.3999999999999" stroke="#222" stroke-width="1"/>
<line x1="451.9" y1="1556.8" x2="451.9" y2="1559.3999999999999" stroke="#222" stroke-width="1"/>
<line x1="460.4" y1="1556.8" x2="460.4" y2="1559.3999999999999" stroke="#222" stroke-width="1"/>
<line x1="468.9" y1="1556.8" x2="468.9" y2="1559.3999999999999" stroke="#222" stroke-width="1"/>
<line x1="477.4" y1="1556.8" x2="477.4" y2="1559.3999999999999" stroke="#222" stroke-width="1"/>
<line x1="200.8" y1="1556.8" x2="200.8" y2="1562.3" stroke="#222" stroke-width="1.4"/>
<text x="200.8" y="1582" font-family='"Liberation Sans", sans-serif' font-size="14.3" text-anchor="middle" fill="#111">0.4</text>
<line x1="234.7" y1="1556.8" x2="234.7" y2="1562.3" stroke="#222" stroke-width="1.4"/>
<text x="234.7" y="1582" font-family='"Liberation Sans", sans-serif' font-size="14.3" text-anchor="middle" fill="#111">0.8</text>
<line x1="300.4" y1="1556.8" x2="300.4" y2="1562.3" stroke="#222" stroke-width="1.4"/>
<text x="300.4" y="1582" font-family='"Liberation Sans", sans-serif' font-size="14.3" text-anchor="middle" fill="#111">1.6</text>
<line x1="367.2" y1="1556.8" x2="367.2" y2="1562.3" stroke="#222" stroke-width="1.4"/>
<text x="367.2" y="1582" font-family='"Liberation Sans", sans-serif' font-size="14.3" text-anchor="middle" fill="#111">2.4</text>
<line x1="434.9" y1="1556.8" x2="434.9" y2="1562.3" stroke="#222" stroke-width="1.4"/>
<text x="434.9" y="1582" font-family='"Liberation Sans", sans-serif' font-size="14.3" text-anchor="middle" fill="#111">3.2</text>
<line x1="477.4" y1="1556.8" x2="477.4" y2="1562.3" stroke="#222" stroke-width="1.4"/>
<text x="477.4" y="1582" font-family='"Liberation Sans", sans-serif' font-size="14.3" text-anchor="middle" fill="#111">3.7</text>
<path d="M559.5,1558.3 L559.5,1558.3 L560.0,1558.3 L560.5,1558.3 L561.0,1558.3 L561.5,1558.3 L562.0,1558.3 L562.5,1558.3 L563.0,1558.3 L563.5,1558.3 L564.0,1558.3 L564.5,1558.3 L565.0,1558.3 L565.5,1558.3 L566.0,1558.3 L566.5,1558.3 L567.0,1558.3 L567.5,1558.3 L568.0,1558.3 L568.5,1558.3 L569.0,1558.3 L569.5,1558.3 L570.0,1558.3 L570.5,1558.3 L571.0,1558.3 L571.5,1558.3 L572.0,1558.3 L572.5,1558.3 L573.0,1558.3 L573.5,1558.3 L574.0,1558.3 L574.5,1558.3 L575.0,1558.3 L575.5,1558.3 L576.0,1558.3 L576.5,1558.3 L577.0,1558.3 L577.5,1558.3 L578.0,1558.3 L578.5,1558.3 L579.0,1558.3 L579.5,1558.3 L580.0,1558.3 L580.5,1558.3 L581.0,1558.3 L581.5,1558.3 L582.0,1558.3 L582.5,1558.2 L583.0,1558.2 L583.5,1558.2 L584.0,1558.1 L584.5,1558.0 L585.0,1557.9 L585.5,1557.7 L586.0,1557.3 L586.5,1556.9 L587.0,1556.2 L587.5,1555.3 L588.0,1554.1 L588.5,1552.5 L589.0,1550.6 L589.5,1548.2 L590.0,1545.5 L590.5,1542.4 L591.0,1539.1 L591.5,1535.7 L592.0,1532.3 L592.5,1529.1 L593.0,1526.4 L593.5,1524.3 L594.0,1522.9 L594.5,1522.4 L595.0,1522.6 L595.5,1523.0 L596.0,1523.8 L596.5,1524.8 L597.0,1526.1 L597.5,1527.6 L598.0,1529.3 L598.5,1531.1 L599.0,1533.0 L599.5,1534.9 L600.0,1536.8 L600.5,1538.7 L601.0,1540.5 L601.5,1542.2 L602.0,1543.7 L602.5,1545.2 L603.0,1546.5 L603.5,1547.7 L604.0,1548.7 L604.5,1549.6 L605.0,1550.4 L605.5,1551.0 L606.0,1551.5 L606.5,1552.0 L607.0,1552.3 L607.5,1552.6 L608.0,1552.8 L608.5,1553.0 L609.0,1553.1 L609.5,1553.2 L610.0,1553.2 L610.5,1553.2 L611.0,1553.2 L611.5,1553.2 L612.0,1553.2 L612.5,1553.2 L613.0,1553.2 L613.5,1553.2 L614.0,1553.1 L614.5,1553.1 L615.0,1553.0 L615.5,1553.0 L616.0,1553.0 L616.5,1552.9 L617.0,1552.9 L617.5,1552.9 L618.0,1552.8 L618.5,1552.8 L619.0,1552.7 L619.5,1552.7 L620.0,1552.7 L620.5,1552.6 L621.0,1552.6 L621.5,1552.5 L622.0,1552.5 L622.5,1552.5 L623.0,1552.4 L623.5,1552.4 L624.0,1552.3 L624.5,1552.3 L625.0,1552.3 L625.5,1552.2 L626.0,1552.2 L626.5,1552.2 L627.0,1552.1 L627.5,1552.1 L628.0,1552.1 L628.5,1552.1 L629.0,1552.0 L629.5,1552.0 L630.0,1552.0 L630.5,1552.0 L631.0,1551.9 L631.5,1551.9 L632.0,1551.9 L632.5,1551.9 L633.0,1551.9 L633.5,1551.9 L634.0,1551.9 L634.5,1551.9 L635.0,1551.9 L635.5,1551.9 L636.0,1551.9 L636.5,1551.9 L637.0,1551.9 L637.5,1552.0 L638.0,1552.0 L638.5,1552.0 L639.0,1552.1 L639.5,1552.1 L640.0,1552.2 L640.5,1552.3 L641.0,1552.4 L641.5,1552.4 L642.0,1552.5 L642.5,1552.6 L643.0,1552.8 L643.5,1552.9 L644.0,1553.0 L644.5,1553.1 L645.0,1553.3 L645.5,1553.5 L646.0,1553.6 L646.5,1553.8 L647.0,1553.9 L647.5,1554.1 L648.0,1554.3 L648.5,1554.5 L649.0,1554.7 L649.5,1554.9 L650.0,1555.1 L650.5,1555.3 L651.0,1555.5 L651.5,1555.6 L652.0,1555.8 L652.5,1556.0 L653.0,1556.1 L653.5,1556.3 L654.0,1556.4 L654.5,1556.6 L655.0,1556.7 L655.5,1556.8 L656.0,1557.0 L656.5,1557.1 L657.0,1557.2 L657.5,1557.3 L658.0,1557.3 L658.5,1557.4 L659.0,1557.5 L659.5,1557.6 L660.0,1557.6 L660.5,1557.7 L661.0,1557.7 L661.5,1557.8 L662.0,1557.8 L662.5,1557.9 L663.0,1557.9 L663.5,1558.0 L664.0,1558.0 L664.5,1558.0 L665.0,1558.0 L665.5,1558.1 L666.0,1558.1 L666.5,1558.1 L667.0,1558.1 L667.5,1558.1 L668.0,1558.2 L668.5,1558.2 L669.0,1558.2 L669.5,1558.2 L670.0,1558.2 L670.5,1558.2 L671.0,1558.2 L671.5,1558.2 L672.0,1558.2 L672.5,1558.2 L673.0,1558.2 L673.5,1558.3 L674.0,1558.3 L674.5,1558.3 L675.0,1558.3 L675.5,1558.3 L676.0,1558.3 L676.5,1558.3 L677.0,1558.3 L677.5,1558.3 L678.0,1558.3 L678.5,1558.3 L679.0,1558.3 L679.5,1558.3 L680.0,1558.3 L680.5,1558.3 L681.0,1558.3 L681.5,1558.3 L682.0,1558.3 L682.5,1558.3 L683.0,1558.3 L683.5,1558.3 L684.0,1558.3 L684.5,1558.3 L685.0,1558.3 L685.5,1558.3 L686.0,1558.3 L686.5,1558.3 L687.0,1558.3 L687.5,1558.3 L688.0,1558.3 L688.5,1558.3 L689.0,1558.3 L689.5,1558.3 L690.0,1558.3 L690.5,1558.3 L691.0,1558.3 L691.5,1558.3 L692.0,1558.3 L692.5,1558.3 L693.0,1558.3 L693.5,1558.3 L694.0,1558.3 L694.5,1558.3 L695.0,1558.3 L695.5,1558.3 L696.0,1558.3 L696.5,1558.3 L697.0,1558.3 L697.5,1558.3 L698.0,1558.3 L698.5,1558.3 L699.0,1558.3 L699.5,1558.3 L700.0,1558.3 L700.5,1558.3 L701.0,1558.3 L701.5,1558.3 L702.0,1558.3 L702.5,1558.3 L703.0,1558.3 L703.5,1558.3 L704.0,1558.3 L704.5,1558.3 L705.0,1558.3 L705.5,1558.3 L705.5,1558.3 Z" fill="#e3de80" opacity="1"/>
<path d="M559.5,1558.3 L559.5,1558.3 L560.0,1558.3 L560.5,1558.3 L561.0,1558.3 L561.5,1558.3 L562.0,1558.3 L562.5,1558.3 L563.0,1558.3 L563.5,1558.3 L564.0,1558.3 L564.5,1558.3 L565.0,1558.3 L565.5,1558.3 L566.0,1558.2 L566.5,1557.7 L567.0,1556.2 L567.5,1553.1 L568.0,1548.3 L568.5,1542.2 L569.0,1535.4 L569.5,1528.1 L570.0,1520.6 L570.5,1512.8 L571.0,1504.8 L571.5,1496.7 L572.0,1488.4 L572.5,1480.0 L573.0,1471.5 L573.5,1462.8 L574.0,1454.1 L574.5,1445.2 L575.0,1436.3 L575.5,1427.3 L576.0,1418.2 L576.5,1409.0 L577.0,1399.7 L577.5,1390.4 L578.0,1381.0 L578.5,1371.5 L579.0,1362.0 L579.5,1352.4 L580.0,1342.8 L580.5,1333.1 L581.0,1323.6 L581.5,1314.8 L582.0,1308.5 L582.5,1306.9 L583.0,1310.5 L583.5,1318.1 L584.0,1327.3 L584.5,1337.0 L585.0,1346.6 L585.5,1356.3 L586.0,1365.8 L586.5,1375.3 L587.0,1384.8 L587.5,1394.1 L588.0,1403.4 L588.5,1412.7 L589.0,1421.8 L589.5,1430.9 L590.0,1439.9 L590.5,1448.8 L591.0,1457.6 L591.5,1466.3 L592.0,1474.9 L592.5,1483.4 L593.0,1491.7 L593.5,1500.0 L594.0,1508.0 L594.5,1515.9 L595.0,1523.6 L595.5,1531.1 L596.0,1538.2 L596.5,1544.8 L597.0,1550.5 L597.5,1554.6 L598.0,1557.0 L598.5,1558.0 L599.0,1558.2 L599.5,1558.3 L600.0,1558.3 L600.5,1558.3 L601.0,1558.3 L601.5,1558.3 L602.0,1558.3 L602.5,1558.3 L603.0,1558.3 L603.5,1558.3 L604.0,1558.3 L604.5,1558.3 L605.0,1558.3 L605.5,1558.3 L605.5,1558.3 Z" fill="#22c822" opacity="0.56"/>
<path d="M626.0,1558.3 L626.0,1558.3 L626.5,1558.3 L627.0,1558.3 L627.5,1558.3 L628.0,1558.3 L628.5,1558.3 L629.0,1558.3 L629.5,1558.2 L630.0,1558.2 L630.5,1558.2 L631.0,1558.2 L631.5,1558.2 L632.0,1558.2 L632.5,1558.1 L633.0,1558.1 L633.5,1558.1 L634.0,1558.1 L634.5,1558.0 L635.0,1558.0 L635.5,1557.9 L636.0,1557.8 L636.5,1557.8 L637.0,1557.7 L637.5,1557.6 L638.0,1557.5 L638.5,1557.4 L639.0,1557.3 L639.5,1557.1 L640.0,1556.9 L640.5,1556.8 L641.0,1556.6 L641.5,1556.3 L642.0,1556.1 L642.5,1555.8 L643.0,1555.5 L643.5,1555.2 L644.0,1554.8 L644.5,1554.4 L645.0,1554.0 L645.5,1553.5 L646.0,1553.0 L646.5,1552.5 L647.0,1551.9 L647.5,1551.3 L648.0,1550.6 L648.5,1550.0 L649.0,1549.2 L649.5,1548.5 L650.0,1547.6 L650.5,1546.8 L651.0,1545.9 L651.5,1545.0 L652.0,1544.0 L652.5,1543.0 L653.0,1542.0 L653.5,1541.0 L654.0,1539.9 L654.5,1538.9 L655.0,1537.8 L655.5,1536.7 L656.0,1535.6 L656.5,1534.5 L657.0,1533.4 L657.5,1532.4 L658.0,1531.3 L658.5,1530.3 L659.0,1529.3 L659.5,1528.4 L660.0,1527.5 L660.5,1526.7 L661.0,1525.9 L661.5,1525.2 L662.0,1524.6 L662.5,1524.0 L663.0,1523.5 L663.5,1523.1 L664.0,1522.8 L664.5,1522.5 L665.0,1522.4 L665.5,1522.3 L666.0,1522.3 L666.5,1522.4 L667.0,1522.7 L667.5,1522.9 L668.0,1523.3 L668.5,1523.8 L669.0,1524.3 L669.5,1524.9 L670.0,1525.6 L670.5,1526.4 L671.0,1527.2 L671.5,1528.1 L672.0,1529.0 L672.5,1529.9 L673.0,1530.9 L673.5,1531.9 L674.0,1533.0 L674.5,1534.1 L675.0,1535.2 L675.5,1536.2 L676.0,1537.3 L676.5,1538.4 L677.0,1539.5 L677.5,1540.6 L678.0,1541.6 L678.5,1542.6 L679.0,1543.6 L679.5,1544.6 L680.0,1545.5 L680.5,1546.4 L681.0,1547.3 L681.5,1548.1 L682.0,1548.9 L682.5,1549.7 L683.0,1550.4 L683.5,1551.0 L684.0,1551.7 L684.5,1552.3 L685.0,1552.8 L685.5,1553.3 L686.0,1553.8 L686.5,1554.2 L687.0,1554.7 L687.5,1555.0 L688.0,1555.4 L688.5,1555.7 L689.0,1556.0 L689.5,1556.2 L690.0,1556.5 L690.5,1556.7 L691.0,1556.9 L691.5,1557.0 L692.0,1557.2 L692.5,1557.3 L693.0,1557.5 L693.5,1557.6 L694.0,1557.7 L694.5,1557.7 L695.0,1557.8 L695.5,1557.9 L696.0,1557.9 L696.5,1558.0 L697.0,1558.0 L697.5,1558.1 L698.0,1558.1 L698.5,1558.1 L699.0,1558.2 L699.5,1558.2 L700.0,1558.2 L700.5,1558.2 L701.0,1558.2 L701.5,1558.2 L702.0,1558.3 L702.5,1558.3 L703.0,1558.3 L703.5,1558.3 L704.0,1558.3 L704.5,1558.3 L705.0,1558.3 L705.5,1558.3 L705.5,1558.3 Z" fill="#22eef0" opacity="0.62"/>
<polyline points="553.5,1558.3 554.0,1558.3 554.5,1558.3 555.0,1558.3 555.5,1558.3 556.0,1558.3 556.5,1558.3 557.0,1558.3 557.5,1558.3 558.0,1558.3 558.5,1558.3 559.0,1558.3 559.5,1558.3 560.0,1558.3 560.5,1558.3 561.0,1558.3 561.5,1558.3 562.0,1558.3 562.5,1558.3 563.0,1558.3 563.5,1558.3 564.0,1558.3 564.5,1558.3 565.0,1558.1 565.5,1557.4 566.0,1555.5 566.5,1552.2 567.0,1547.4 567.5,1541.7 568.0,1535.3 568.5,1528.5 569.0,1521.5 569.5,1514.3 570.0,1506.9 570.5,1499.4 571.0,1491.8 571.5,1484.0 572.0,1476.1 572.5,1468.2 573.0,1460.1 573.5,1451.9 574.0,1443.7 574.5,1435.4 575.0,1427.0 575.5,1418.5 576.0,1410.0 576.5,1401.3 577.0,1392.7 577.5,1384.0 578.0,1375.2 578.5,1366.3 579.0,1357.4 579.5,1348.5 580.0,1339.5 580.5,1330.5 581.0,1321.8 581.5,1313.9 582.0,1308.4 582.5,1306.8 583.0,1309.9 583.5,1316.6 584.0,1325.0 584.5,1333.9 585.0,1342.8 585.5,1351.6 586.0,1360.2 586.5,1368.7 587.0,1377.1 587.5,1385.1 588.0,1392.9 588.5,1400.4 589.0,1407.5 589.5,1414.2 590.0,1420.4 590.5,1426.3 591.0,1431.8 591.5,1436.9 592.0,1441.9 592.5,1446.7 593.0,1451.6 593.5,1456.7 594.0,1462.1 594.5,1467.9 595.0,1474.3 595.5,1481.3 596.0,1488.6 596.5,1496.0 597.0,1502.0 597.5,1511.5 598.0,1518.4 598.5,1521.2 599.0,1527.6 599.5,1530.8 600.0,1531.5 600.5,1534.3 601.0,1534.6 601.5,1538.2 602.0,1537.9 602.5,1541.3 603.0,1542.1 603.5,1542.6 604.0,1544.6 604.5,1545.2 605.0,1546.9 605.5,1549.7 606.0,1548.3 606.5,1549.8 607.0,1552.8 607.5,1553.5 608.0,1551.8 608.5,1552.7 609.0,1551.8 609.5,1552.4 610.0,1551.9 610.5,1553.1 611.0,1552.7 611.5,1552.9 612.0,1553.9 612.5,1551.9 613.0,1553.7 613.5,1552.4 614.0,1551.9 614.5,1552.7 615.0,1554.1 615.5,1552.1 616.0,1552.5 616.5,1553.8 617.0,1554.2 617.5,1552.8 618.0,1554.1 618.5,1551.6 619.0,1552.7 619.5,1552.6 620.0,1552.9 620.5,1552.2 621.0,1551.4 621.5,1553.1 622.0,1552.8 622.5,1552.2 623.0,1553.0 623.5,1552.1 624.0,1552.2 624.5,1552.5 625.0,1551.8 625.5,1552.2 626.0,1553.3 626.5,1550.8 627.0,1552.5 627.5,1552.3 628.0,1552.3 628.5,1550.8 629.0,1550.7 629.5,1551.9 630.0,1552.2 630.5,1553.0 631.0,1550.7 631.5,1552.7 632.0,1551.6 632.5,1552.2 633.0,1552.2 633.5,1552.1 634.0,1552.5 634.5,1552.9 635.0,1551.4 635.5,1550.7 636.0,1551.0 636.5,1552.2 637.0,1550.8 637.5,1552.5 638.0,1551.4 638.5,1550.2 639.0,1549.9 639.5,1551.1 640.0,1549.9 640.5,1550.7 641.0,1550.5 641.5,1550.2 642.0,1548.9 642.5,1549.5 643.0,1550.0 643.5,1549.1 644.0,1549.1 644.5,1549.7 645.0,1548.2 645.5,1547.8 646.0,1548.0 646.5,1546.7 647.0,1548.9 647.5,1547.1 648.0,1546.3 648.5,1546.6 649.0,1546.5 649.5,1544.5 650.0,1544.6 650.5,1544.4 651.0,1544.3 651.5,1541.0 652.0,1542.0 652.5,1541.8 653.0,1540.7 653.5,1539.7 654.0,1537.1 654.5,1538.0 655.0,1536.8 655.5,1536.4 656.0,1534.3 656.5,1534.1 657.0,1532.7 657.5,1530.7 658.0,1529.2 658.5,1528.5 659.0,1529.8 659.5,1528.0 660.0,1525.9 660.5,1527.4 661.0,1526.2 661.5,1524.7 662.0,1524.4 662.5,1522.9 663.0,1522.5 663.5,1522.8 664.0,1523.1 664.5,1523.0 665.0,1522.8 665.5,1523.3 666.0,1521.7 666.5,1523.2 667.0,1521.4 667.5,1522.4 668.0,1524.4 668.5,1523.7 669.0,1523.9 669.5,1526.1 670.0,1525.6 670.5,1527.6 671.0,1526.4 671.5,1529.4 672.0,1528.5 672.5,1528.5 673.0,1529.9 673.5,1532.6 674.0,1532.9 674.5,1535.0 675.0,1535.5 675.5,1535.2 676.0,1536.4 676.5,1539.7 677.0,1539.7 677.5,1540.0 678.0,1542.3 678.5,1541.5 679.0,1542.2 679.5,1544.1 680.0,1545.4 680.5,1544.8 681.0,1546.5 681.5,1548.1 682.0,1548.4 682.5,1549.3 683.0,1547.9 683.5,1549.2 684.0,1549.1 684.5,1549.1 685.0,1549.1 685.5,1551.6 686.0,1551.3 686.5,1550.3 687.0,1551.0 687.5,1552.3 688.0,1551.9 688.5,1553.6 689.0,1554.1 689.5,1554.8 690.0,1554.3 690.5,1555.1 691.0,1554.7 691.5,1553.9 692.0,1556.5 692.5,1555.8 693.0,1555.2 693.5,1556.3 694.0,1556.8 694.5,1556.3 695.0,1558.3 695.5,1556.2 696.0,1557.1 696.5,1556.9 697.0,1556.9 697.5,1558.3 698.0,1558.3 698.5,1558.3 699.0,1558.1 699.5,1556.9 700.0,1557.0 700.5,1558.3 701.0,1557.9 701.5,1557.6 702.0,1558.3 702.5,1556.9 703.0,1557.0 703.5,1557.6 704.0,1557.2 704.5,1557.4 705.0,1557.9 705.5,1558.3 706.0,1558.3 706.5,1558.3 707.0,1558.3 707.5,1557.1 708.0,1558.3 708.5,1558.3 709.0,1558.3 709.5,1558.3 710.0,1558.3 710.5,1558.3 711.0,1558.3 711.5,1558.3 712.0,1558.3 712.5,1558.3 713.0,1557.4 713.5,1558.3 714.0,1558.2 714.5,1557.2 715.0,1557.0 715.5,1558.3 716.0,1558.3 716.5,1557.0 717.0,1558.3 717.5,1558.3" fill="none" stroke="#111" stroke-width="1.2" opacity="0.9"/>
<polyline points="556.5,1558.3 557.0,1558.3 557.5,1558.3 558.0,1558.3 558.5,1558.3 559.0,1558.3 559.5,1558.3 560.0,1558.3 560.5,1558.3 561.0,1558.3 561.5,1558.3 562.0,1558.3 562.5,1558.3 563.0,1558.3 563.5,1558.3 564.0,1558.3 564.5,1558.3 565.0,1558.3 565.5,1558.3 566.0,1558.2 566.5,1557.7 567.0,1556.2 567.5,1553.1 568.0,1548.3 568.5,1542.2 569.0,1535.4 569.5,1528.1 570.0,1520.6 570.5,1512.8 571.0,1504.8 571.5,1496.7 572.0,1488.4 572.5,1480.0 573.0,1471.5 573.5,1462.8 574.0,1454.1 574.5,1445.2 575.0,1436.3 575.5,1427.3 576.0,1418.2 576.5,1409.0 577.0,1399.7 577.5,1390.4 578.0,1381.0 578.5,1371.5 579.0,1362.0 579.5,1352.4 580.0,1342.8 580.5,1333.1 581.0,1323.6 581.5,1314.8 582.0,1308.5 582.5,1306.8 583.0,1310.5 583.5,1318.0 584.0,1327.1 584.5,1336.7 585.0,1346.2 585.5,1355.6 586.0,1364.9 586.5,1373.9 587.0,1382.7 587.5,1391.1 588.0,1399.2 588.5,1406.9 589.0,1414.1 589.5,1420.8 590.0,1427.1 590.5,1432.9 591.0,1438.4 591.5,1443.7 592.0,1448.9 592.5,1454.2 593.0,1459.8 593.5,1465.9 594.0,1472.6 594.5,1480.0 595.0,1487.9 595.5,1495.8 596.0,1503.7 596.5,1511.3 597.0,1518.3 597.5,1523.9 598.0,1528.0 598.5,1530.7 599.0,1532.9 599.5,1534.9 600.0,1536.8 600.5,1538.7 601.0,1540.5 601.5,1542.2 602.0,1543.7 602.5,1545.2 603.0,1546.5 603.5,1547.7 604.0,1548.7 604.5,1549.6 605.0,1550.4 605.5,1551.0 606.0,1551.5 606.5,1552.0 607.0,1552.3 607.5,1552.6 608.0,1552.8 608.5,1553.0 609.0,1553.1 609.5,1553.2 610.0,1553.2 610.5,1553.2 611.0,1553.2 611.5,1553.2 612.0,1553.2 612.5,1553.2 613.0,1553.2 613.5,1553.2 614.0,1553.1 614.5,1553.1 615.0,1553.0 615.5,1553.0 616.0,1553.0 616.5,1552.9 617.0,1552.9 617.5,1552.9 618.0,1552.8 618.5,1552.8 619.0,1552.7 619.5,1552.7 620.0,1552.7 620.5,1552.6 621.0,1552.6 621.5,1552.5 622.0,1552.5 622.5,1552.5 623.0,1552.4 623.5,1552.4 624.0,1552.3 624.5,1552.3 625.0,1552.3 625.5,1552.2 626.0,1552.2 626.5,1552.2 627.0,1552.1 627.5,1552.1 628.0,1552.0 628.5,1552.0 629.0,1552.0 629.5,1551.9 630.0,1551.9 630.5,1551.9 631.0,1551.8 631.5,1551.8 632.0,1551.8 632.5,1551.7 633.0,1551.7 633.5,1551.7 634.0,1551.6 634.5,1551.6 635.0,1551.5 635.5,1551.5 636.0,1551.4 636.5,1551.4 637.0,1551.3 637.5,1551.3 638.0,1551.2 638.5,1551.1 639.0,1551.0 639.5,1550.9 640.0,1550.8 640.5,1550.7 641.0,1550.6 641.5,1550.5 642.0,1550.3 642.5,1550.1 643.0,1550.0 643.5,1549.7 644.0,1549.5 644.5,1549.3 645.0,1549.0 645.5,1548.7 646.0,1548.3 646.5,1548.0 647.0,1547.6 647.5,1547.1 648.0,1546.6 648.5,1546.2 649.0,1545.6 649.5,1545.0 650.0,1544.4 650.5,1543.8 651.0,1543.1 651.5,1542.3 652.0,1541.5 652.5,1540.7 653.0,1539.9 653.5,1539.0 654.0,1538.1 654.5,1537.1 655.0,1536.2 655.5,1535.2 656.0,1534.2 656.5,1533.3 657.0,1532.3 657.5,1531.3 658.0,1530.4 658.5,1529.4 659.0,1528.5 659.5,1527.7 660.0,1526.9 660.5,1526.1 661.0,1525.4 661.5,1524.7 662.0,1524.1 662.5,1523.6 663.0,1523.1 663.5,1522.7 664.0,1522.4 664.5,1522.2 665.0,1522.1 665.5,1522.1 666.0,1522.1 666.5,1522.3 667.0,1522.5 667.5,1522.8 668.0,1523.2 668.5,1523.7 669.0,1524.2 669.5,1524.8 670.0,1525.5 670.5,1526.3 671.0,1527.1 671.5,1528.0 672.0,1528.9 672.5,1529.9 673.0,1530.9 673.5,1531.9 674.0,1533.0 674.5,1534.0 675.0,1535.1 675.5,1536.2 676.0,1537.3 676.5,1538.4 677.0,1539.5 677.5,1540.5 678.0,1541.6 678.5,1542.6 679.0,1543.6 679.5,1544.6 680.0,1545.5 680.5,1546.4 681.0,1547.3 681.5,1548.1 682.0,1548.9 682.5,1549.7 683.0,1550.4 683.5,1551.0 684.0,1551.7 684.5,1552.3 685.0,1552.8 685.5,1553.3 686.0,1553.8 686.5,1554.2 687.0,1554.7 687.5,1555.0 688.0,1555.4 688.5,1555.7 689.0,1556.0 689.5,1556.2 690.0,1556.5 690.5,1556.7 691.0,1556.9 691.5,1557.0 692.0,1557.2 692.5,1557.3 693.0,1557.5 693.5,1557.6 694.0,1557.7 694.5,1557.7 695.0,1557.8 695.5,1557.9 696.0,1557.9 696.5,1558.0 697.0,1558.0 697.5,1558.1 698.0,1558.1 698.5,1558.1 699.0,1558.2 699.5,1558.2 700.0,1558.2 700.5,1558.2 701.0,1558.2 701.5,1558.2 702.0,1558.3 702.5,1558.3 703.0,1558.3 703.5,1558.3 704.0,1558.3 704.5,1558.3 705.0,1558.3 705.5,1558.3 706.0,1558.3 706.5,1558.3 707.0,1558.3 707.5,1558.3 708.0,1558.3 708.5,1558.3" fill="none" stroke="#e81ce8" stroke-width="1.4"/>
<line x1="582.4" y1="1281.4" x2="582.4" y2="1558.3" stroke="#22b022" stroke-width="1.5"/>
<line x1="665.6" y1="1281.4" x2="665.6" y2="1558.3" stroke="#22e0ea" stroke-width="1.6"/>
<rect x="631" y="1306.3" width="150" height="200.25" fill="#fff" opacity="0.8"/>
<text x="633" y="1318.3" font-family='"Liberation Sans", sans-serif' font-size="14.2" fill="#111">Watson</text>
<text x="633" y="1335.0" font-family='"Liberation Sans", sans-serif' font-size="14.2" fill="#111">RMS: 12.42</text>
<text x="633" y="1351.8" font-family='"Liberation Sans", sans-serif' font-size="14.2" fill="#111">Freq G1: 66.28</text>
<text x="633" y="1368.5" font-family='"Liberation Sans", sans-serif' font-size="14.2" fill="#111">Freq S: 13.48</text>
<text x="633" y="1385.3" font-family='"Liberation Sans", sans-serif' font-size="14.2" fill="#111">Freq G2: 20.21</text>
<text x="633" y="1402.0" font-family='"Liberation Sans", sans-serif' font-size="14.2" fill="#111">Mean G1: 1,178,223</text>
<text x="633" y="1418.8" font-family='"Liberation Sans", sans-serif' font-size="14.2" fill="#111">Mean G2: 2,181,255</text>
<text x="633" y="1435.5" font-family='"Liberation Sans", sans-serif' font-size="14.2" fill="#111">G2/G1: 1.85</text>
<text x="633" y="1452.3" font-family='"Liberation Sans", sans-serif' font-size="14.2" fill="#111">CV G1: 5.17%</text>
<text x="633" y="1469.0" font-family='"Liberation Sans", sans-serif' font-size="14.2" fill="#111">CV G2: 6.39%</text>
<text x="633" y="1485.8" font-family='"Liberation Sans", sans-serif' font-size="14.2" fill="#111">Freq Sub-G1: 0.03</text>
<text x="633" y="1502.5" font-family='"Liberation Sans", sans-serif' font-size="14.2" fill="#111">Freq Super-G2: 0.00</text>
<text x="586.4" y="1299.9" font-family='"Liberation Sans", sans-serif' font-size="13.5" text-anchor="middle" fill="#111">G1</text>
<text x="669.6" y="1299.9" font-family='"Liberation Sans", sans-serif' font-size="13.5" text-anchor="middle" fill="#111">G2</text>
<rect x="517.5" y="1281.4" width="278.5" height="276.89999999999986" fill="none" stroke="#222" stroke-width="1.6"/>
<line x1="514.5" y1="1558.3" x2="517.5" y2="1558.3" stroke="#222" stroke-width="1"/>
<line x1="514.5" y1="1550.0" x2="517.5" y2="1550.0" stroke="#222" stroke-width="1"/>
<line x1="514.5" y1="1541.8" x2="517.5" y2="1541.8" stroke="#222" stroke-width="1"/>
<line x1="514.5" y1="1533.5" x2="517.5" y2="1533.5" stroke="#222" stroke-width="1"/>
<line x1="514.5" y1="1525.2" x2="517.5" y2="1525.2" stroke="#222" stroke-width="1"/>
<line x1="514.5" y1="1517.0" x2="517.5" y2="1517.0" stroke="#222" stroke-width="1"/>
<line x1="514.5" y1="1508.7" x2="517.5" y2="1508.7" stroke="#222" stroke-width="1"/>
<line x1="514.5" y1="1500.4" x2="517.5" y2="1500.4" stroke="#222" stroke-width="1"/>
<line x1="514.5" y1="1492.2" x2="517.5" y2="1492.2" stroke="#222" stroke-width="1"/>
<line x1="514.5" y1="1483.9" x2="517.5" y2="1483.9" stroke="#222" stroke-width="1"/>
<line x1="514.5" y1="1475.6" x2="517.5" y2="1475.6" stroke="#222" stroke-width="1"/>
<line x1="514.5" y1="1467.4" x2="517.5" y2="1467.4" stroke="#222" stroke-width="1"/>
<line x1="514.5" y1="1459.1" x2="517.5" y2="1459.1" stroke="#222" stroke-width="1"/>
<line x1="514.5" y1="1450.8" x2="517.5" y2="1450.8" stroke="#222" stroke-width="1"/>
<line x1="514.5" y1="1442.6" x2="517.5" y2="1442.6" stroke="#222" stroke-width="1"/>
<line x1="514.5" y1="1434.3" x2="517.5" y2="1434.3" stroke="#222" stroke-width="1"/>
<line x1="514.5" y1="1426.0" x2="517.5" y2="1426.0" stroke="#222" stroke-width="1"/>
<line x1="514.5" y1="1417.8" x2="517.5" y2="1417.8" stroke="#222" stroke-width="1"/>
<line x1="514.5" y1="1409.5" x2="517.5" y2="1409.5" stroke="#222" stroke-width="1"/>
<line x1="514.5" y1="1401.3" x2="517.5" y2="1401.3" stroke="#222" stroke-width="1"/>
<line x1="514.5" y1="1393.0" x2="517.5" y2="1393.0" stroke="#222" stroke-width="1"/>
<line x1="514.5" y1="1384.7" x2="517.5" y2="1384.7" stroke="#222" stroke-width="1"/>
<line x1="514.5" y1="1376.5" x2="517.5" y2="1376.5" stroke="#222" stroke-width="1"/>
<line x1="514.5" y1="1368.2" x2="517.5" y2="1368.2" stroke="#222" stroke-width="1"/>
<line x1="514.5" y1="1359.9" x2="517.5" y2="1359.9" stroke="#222" stroke-width="1"/>
<line x1="514.5" y1="1351.7" x2="517.5" y2="1351.7" stroke="#222" stroke-width="1"/>
<line x1="514.5" y1="1343.4" x2="517.5" y2="1343.4" stroke="#222" stroke-width="1"/>
<line x1="514.5" y1="1335.1" x2="517.5" y2="1335.1" stroke="#222" stroke-width="1"/>
<line x1="514.5" y1="1326.9" x2="517.5" y2="1326.9" stroke="#222" stroke-width="1"/>
<line x1="514.5" y1="1318.6" x2="517.5" y2="1318.6" stroke="#222" stroke-width="1"/>
<line x1="514.5" y1="1310.3" x2="517.5" y2="1310.3" stroke="#222" stroke-width="1"/>
<line x1="514.5" y1="1302.1" x2="517.5" y2="1302.1" stroke="#222" stroke-width="1"/>
<line x1="514.5" y1="1293.8" x2="517.5" y2="1293.8" stroke="#222" stroke-width="1"/>
<line x1="514.5" y1="1285.5" x2="517.5" y2="1285.5" stroke="#222" stroke-width="1"/>
<line x1="511.5" y1="1558.3" x2="517.5" y2="1558.3" stroke="#222" stroke-width="1.3"/>
<text transform="translate(505,1559.8) rotate(-90)" font-family='"Liberation Sans", sans-serif' font-size="14.3" text-anchor="middle" fill="#111">0</text>
<line x1="511.5" y1="1517.0" x2="517.5" y2="1517.0" stroke="#222" stroke-width="1.3"/>
<text transform="translate(505,1518.5) rotate(-90)" font-family='"Liberation Sans", sans-serif' font-size="14.3" text-anchor="middle" fill="#111">100</text>
<line x1="511.5" y1="1475.6" x2="517.5" y2="1475.6" stroke="#222" stroke-width="1.3"/>
<text transform="translate(505,1477.1) rotate(-90)" font-family='"Liberation Sans", sans-serif' font-size="14.3" text-anchor="middle" fill="#111">200</text>
<line x1="511.5" y1="1434.3" x2="517.5" y2="1434.3" stroke="#222" stroke-width="1.3"/>
<text transform="translate(505,1435.8) rotate(-90)" font-family='"Liberation Sans", sans-serif' font-size="14.3" text-anchor="middle" fill="#111">300</text>
<line x1="511.5" y1="1393.0" x2="517.5" y2="1393.0" stroke="#222" stroke-width="1.3"/>
<text transform="translate(505,1394.5) rotate(-90)" font-family='"Liberation Sans", sans-serif' font-size="14.3" text-anchor="middle" fill="#111">400</text>
<line x1="511.5" y1="1351.7" x2="517.5" y2="1351.7" stroke="#222" stroke-width="1.3"/>
<text transform="translate(505,1353.2) rotate(-90)" font-family='"Liberation Sans", sans-serif' font-size="14.3" text-anchor="middle" fill="#111">500</text>
<line x1="511.5" y1="1281.4" x2="517.5" y2="1281.4" stroke="#222" stroke-width="1.3"/>
<text transform="translate(505,1282.9) rotate(-90)" font-family='"Liberation Sans", sans-serif' font-size="14.3" text-anchor="middle" fill="#111">670</text>
<line x1="517.5" y1="1558.3" x2="517.5" y2="1560.8999999999999" stroke="#222" stroke-width="1"/>
<line x1="525.9" y1="1558.3" x2="525.9" y2="1560.8999999999999" stroke="#222" stroke-width="1"/>
<line x1="534.2" y1="1558.3" x2="534.2" y2="1560.8999999999999" stroke="#222" stroke-width="1"/>
<line x1="542.6" y1="1558.3" x2="542.6" y2="1560.8999999999999" stroke="#222" stroke-width="1"/>
<line x1="551.0" y1="1558.3" x2="551.0" y2="1560.8999999999999" stroke="#222" stroke-width="1"/>
<line x1="559.4" y1="1558.3" x2="559.4" y2="1560.8999999999999" stroke="#222" stroke-width="1"/>
<line x1="567.8" y1="1558.3" x2="567.8" y2="1560.8999999999999" stroke="#222" stroke-width="1"/>
<line x1="576.1" y1="1558.3" x2="576.1" y2="1560.8999999999999" stroke="#222" stroke-width="1"/>
<line x1="584.5" y1="1558.3" x2="584.5" y2="1560.8999999999999" stroke="#222" stroke-width="1"/>
<line x1="592.9" y1="1558.3" x2="592.9" y2="1560.8999999999999" stroke="#222" stroke-width="1"/>
<line x1="601.2" y1="1558.3" x2="601.2" y2="1560.8999999999999" stroke="#222" stroke-width="1"/>
<line x1="609.6" y1="1558.3" x2="609.6" y2="1560.8999999999999" stroke="#222" stroke-width="1"/>
<line x1="618.0" y1="1558.3" x2="618.0" y2="1560.8999999999999" stroke="#222" stroke-width="1"/>
<line x1="626.3" y1="1558.3" x2="626.3" y2="1560.8999999999999" stroke="#222" stroke-width="1"/>
<line x1="634.7" y1="1558.3" x2="634.7" y2="1560.8999999999999" stroke="#222" stroke-width="1"/>
<line x1="643.0" y1="1558.3" x2="643.0" y2="1560.8999999999999" stroke="#222" stroke-width="1"/>
<line x1="651.4" y1="1558.3" x2="651.4" y2="1560.8999999999999" stroke="#222" stroke-width="1"/>
<line x1="659.7" y1="1558.3" x2="659.7" y2="1560.8999999999999" stroke="#222" stroke-width="1"/>
<line x1="668.0" y1="1558.3" x2="668.0" y2="1560.8999999999999" stroke="#222" stroke-width="1"/>
<line x1="676.4" y1="1558.3" x2="676.4" y2="1560.8999999999999" stroke="#222" stroke-width="1"/>
<line x1="684.7" y1="1558.3" x2="684.7" y2="1560.8999999999999" stroke="#222" stroke-width="1"/>
<line x1="693.2" y1="1558.3" x2="693.2" y2="1560.8999999999999" stroke="#222" stroke-width="1"/>
<line x1="701.6" y1="1558.3" x2="701.6" y2="1560.8999999999999" stroke="#222" stroke-width="1"/>
<line x1="710.1" y1="1558.3" x2="710.1" y2="1560.8999999999999" stroke="#222" stroke-width="1"/>
<line x1="718.5" y1="1558.3" x2="718.5" y2="1560.8999999999999" stroke="#222" stroke-width="1"/>
<line x1="727.0" y1="1558.3" x2="727.0" y2="1560.8999999999999" stroke="#222" stroke-width="1"/>
<line x1="735.5" y1="1558.3" x2="735.5" y2="1560.8999999999999" stroke="#222" stroke-width="1"/>
<line x1="743.9" y1="1558.3" x2="743.9" y2="1560.8999999999999" stroke="#222" stroke-width="1"/>
<line x1="752.4" y1="1558.3" x2="752.4" y2="1560.8999999999999" stroke="#222" stroke-width="1"/>
<line x1="761.1" y1="1558.3" x2="761.1" y2="1560.8999999999999" stroke="#222" stroke-width="1"/>
<line x1="769.8" y1="1558.3" x2="769.8" y2="1560.8999999999999" stroke="#222" stroke-width="1"/>
<line x1="778.6" y1="1558.3" x2="778.6" y2="1560.8999999999999" stroke="#222" stroke-width="1"/>
<line x1="787.3" y1="1558.3" x2="787.3" y2="1560.8999999999999" stroke="#222" stroke-width="1"/>
<line x1="796.0" y1="1558.3" x2="796.0" y2="1560.8999999999999" stroke="#222" stroke-width="1"/>
<line x1="517.5" y1="1558.3" x2="517.5" y2="1563.8" stroke="#222" stroke-width="1.4"/>
<text x="517.5" y="1583" font-family='"Liberation Sans", sans-serif' font-size="14.3" text-anchor="middle" fill="#111">0.4</text>
<line x1="551.0" y1="1558.3" x2="551.0" y2="1563.8" stroke="#222" stroke-width="1.4"/>
<text x="551.0" y="1583" font-family='"Liberation Sans", sans-serif' font-size="14.3" text-anchor="middle" fill="#111">0.8</text>
<line x1="618.0" y1="1558.3" x2="618.0" y2="1563.8" stroke="#222" stroke-width="1.4"/>
<text x="618.0" y="1583" font-family='"Liberation Sans", sans-serif' font-size="14.3" text-anchor="middle" fill="#111">1.6</text>
<line x1="684.7" y1="1558.3" x2="684.7" y2="1563.8" stroke="#222" stroke-width="1.4"/>
<text x="684.7" y="1583" font-family='"Liberation Sans", sans-serif' font-size="14.3" text-anchor="middle" fill="#111">2.4</text>
<line x1="752.4" y1="1558.3" x2="752.4" y2="1563.8" stroke="#222" stroke-width="1.4"/>
<text x="752.4" y="1583" font-family='"Liberation Sans", sans-serif' font-size="14.3" text-anchor="middle" fill="#111">3.2</text>
<line x1="796.0" y1="1558.3" x2="796.0" y2="1563.8" stroke="#222" stroke-width="1.4"/>
<text x="796.0" y="1583" font-family='"Liberation Sans", sans-serif' font-size="14.3" text-anchor="middle" fill="#111">3.7</text>
<text x="197.3" y="1775.4" font-family='"Liberation Serif", serif' font-size="34.5" font-weight="bold">HT29</text>
<line x1="153.6" y1="1791.7" x2="153.6" y2="2155.3" stroke="#000" stroke-width="4.6"/>
<line x1="151.29999999999998" y1="2153" x2="784.0" y2="2153" stroke="#000" stroke-width="4.6"/>
<path d="M153.6,1775.2 L141.0,1800.8 L153.6,1792.7 L166.2,1800.8 Z" fill="#000"/>
<path d="M800.5,2153 L774.9,2140.4 L783.0,2153 L774.9,2165.6 Z" fill="#000"/>
<text x="324.9" y="2142.2" font-family='"Liberation Serif", serif' font-size="33.2" font-weight="bold" text-anchor="middle">NC</text>
<text x="644.2" y="2142.2" font-family='"Liberation Serif", serif' font-size="33.6" font-weight="bold" text-anchor="middle">D-2-EPS</text>
<text x="503.4" y="2205.5" font-family='"Liberation Serif", serif' font-size="34.3" font-weight="bold" text-anchor="middle">PI</text>
<path d="M233.3,2074.3 L233.3,2074.3 L233.8,2074.3 L234.3,2074.3 L234.8,2074.3 L235.3,2074.3 L235.8,2074.3 L236.3,2074.3 L236.8,2074.3 L237.3,2074.3 L237.8,2074.3 L238.3,2074.3 L238.8,2074.3 L239.3,2074.3 L239.8,2074.3 L240.3,2074.3 L240.8,2074.3 L241.3,2074.3 L241.8,2074.3 L242.3,2074.3 L242.8,2074.3 L243.3,2074.3 L243.8,2074.3 L244.3,2074.3 L244.8,2074.3 L245.3,2074.3 L245.8,2074.3 L246.3,2074.3 L246.8,2074.3 L247.3,2074.3 L247.8,2074.3 L248.3,2074.3 L248.8,2074.3 L249.3,2074.3 L249.8,2074.3 L250.3,2074.3 L250.8,2074.3 L251.3,2074.3 L251.8,2074.3 L252.3,2074.2 L252.8,2074.2 L253.3,2074.1 L253.8,2074.0 L254.3,2073.7 L254.8,2073.4 L255.3,2072.7 L255.8,2071.9 L256.3,2070.7 L256.8,2069.0 L257.3,2066.8 L257.8,2064.0 L258.3,2060.4 L258.8,2056.1 L259.3,2051.0 L259.8,2045.4 L260.3,2039.4 L260.8,2033.3 L261.3,2027.4 L261.8,2022.2 L262.3,2018.0 L262.8,2015.0 L263.3,2013.6 L263.8,2013.4 L264.3,2013.8 L264.8,2014.6 L265.3,2015.9 L265.8,2017.7 L266.3,2019.8 L266.8,2022.2 L267.3,2024.9 L267.8,2027.7 L268.3,2030.7 L268.8,2033.8 L269.3,2036.8 L269.8,2039.9 L270.3,2042.8 L270.8,2045.6 L271.3,2048.3 L271.8,2050.8 L272.3,2053.1 L272.8,2055.2 L273.3,2057.0 L273.8,2058.7 L274.3,2060.2 L274.8,2061.5 L275.3,2062.6 L275.8,2063.6 L276.3,2064.4 L276.8,2065.1 L277.3,2065.6 L277.8,2066.1 L278.3,2066.4 L278.8,2066.7 L279.3,2066.9 L279.8,2067.1 L280.3,2067.2 L280.8,2067.3 L281.3,2067.4 L281.8,2067.4 L282.3,2067.5 L282.8,2067.5 L283.3,2067.5 L283.8,2067.5 L284.3,2067.5 L284.8,2067.5 L285.3,2067.4 L285.8,2067.4 L286.3,2067.4 L286.8,2067.4 L287.3,2067.4 L287.8,2067.3 L288.3,2067.3 L288.8,2067.3 L289.3,2067.3 L289.8,2067.2 L290.3,2067.2 L290.8,2067.2 L291.3,2067.1 L291.8,2067.1 L292.3,2067.1 L292.8,2067.1 L293.3,2067.0 L293.8,2067.0 L294.3,2067.0 L294.8,2067.0 L295.3,2066.9 L295.8,2066.9 L296.3,2066.9 L296.8,2066.9 L297.3,2066.8 L297.8,2066.8 L298.3,2066.8 L298.8,2066.8 L299.3,2066.7 L299.8,2066.7 L300.3,2066.7 L300.8,2066.7 L301.3,2066.7 L301.8,2066.6 L302.3,2066.6 L302.8,2066.6 L303.3,2066.6 L303.8,2066.6 L304.3,2066.6 L304.8,2066.5 L305.3,2066.5 L305.8,2066.5 L306.3,2066.5 L306.8,2066.5 L307.3,2066.5 L307.8,2066.5 L308.3,2066.5 L308.8,2066.5 L309.3,2066.5 L309.8,2066.5 L310.3,2066.5 L310.8,2066.5 L311.3,2066.5 L311.8,2066.6 L312.3,2066.6 L312.8,2066.6 L313.3,2066.7 L313.8,2066.7 L314.3,2066.8 L314.8,2066.8 L315.3,2066.9 L315.8,2067.0 L316.3,2067.0 L316.8,2067.1 L317.3,2067.2 L317.8,2067.3 L318.3,2067.5 L318.8,2067.6 L319.3,2067.7 L319.8,2067.9 L320.3,2068.0 L320.8,2068.2 L321.3,2068.3 L321.8,2068.5 L322.3,2068.7 L322.8,2068.9 L323.3,2069.1 L323.8,2069.3 L324.3,2069.5 L324.8,2069.7 L325.3,2069.9 L325.8,2070.2 L326.3,2070.4 L326.8,2070.6 L327.3,2070.8 L327.8,2071.0 L328.3,2071.2 L328.8,2071.4 L329.3,2071.6 L329.8,2071.8 L330.3,2072.0 L330.8,2072.2 L331.3,2072.3 L331.8,2072.5 L332.3,2072.6 L332.8,2072.7 L333.3,2072.9 L333.8,2073.0 L334.3,2073.1 L334.8,2073.2 L335.3,2073.3 L335.8,2073.4 L336.3,2073.4 L336.8,2073.5 L337.3,2073.6 L337.8,2073.7 L338.3,2073.7 L338.8,2073.8 L339.3,2073.8 L339.8,2073.9 L340.3,2073.9 L340.8,2073.9 L341.3,2074.0 L341.8,2074.0 L342.3,2074.0 L342.8,2074.1 L343.3,2074.1 L343.8,2074.1 L344.3,2074.1 L344.8,2074.1 L345.3,2074.1 L345.8,2074.2 L346.3,2074.2 L346.8,2074.2 L347.3,2074.2 L347.8,2074.2 L348.3,2074.2 L348.8,2074.2 L349.3,2074.2 L349.8,2074.2 L350.3,2074.2 L350.8,2074.2 L351.3,2074.3 L351.8,2074.3 L352.3,2074.3 L352.8,2074.3 L353.3,2074.3 L353.8,2074.3 L354.3,2074.3 L354.8,2074.3 L355.3,2074.3 L355.8,2074.3 L356.3,2074.3 L356.8,2074.3 L357.3,2074.3 L357.8,2074.3 L358.3,2074.3 L358.8,2074.3 L359.3,2074.3 L359.8,2074.3 L360.3,2074.3 L360.8,2074.3 L361.3,2074.3 L361.8,2074.3 L362.3,2074.3 L362.8,2074.3 L363.3,2074.3 L363.8,2074.3 L364.3,2074.3 L364.8,2074.3 L365.3,2074.3 L365.8,2074.3 L366.3,2074.3 L366.8,2074.3 L367.3,2074.3 L367.8,2074.3 L368.3,2074.3 L368.8,2074.3 L369.3,2074.3 L369.8,2074.3 L370.3,2074.3 L370.8,2074.3 L371.3,2074.3 L371.8,2074.3 L372.3,2074.3 L372.8,2074.3 L373.3,2074.3 L373.8,2074.3 L374.3,2074.3 L374.8,2074.3 L375.3,2074.3 L375.8,2074.3 L376.3,2074.3 L376.3,2074.3 Z" fill="#e3de80" opacity="1"/>
<path d="M233.3,2074.3 L233.3,2074.3 L233.8,2074.3 L234.3,2074.3 L234.8,2074.3 L235.3,2074.3 L235.8,2074.3 L236.3,2074.3 L236.8,2074.3 L237.3,2074.3 L237.8,2074.3 L238.3,2074.3 L238.8,2074.1 L239.3,2073.3 L239.8,2071.3 L240.3,2067.6 L240.8,2062.2 L241.3,2055.8 L241.8,2048.8 L242.3,2041.5 L242.8,2034.0 L243.3,2026.2 L243.8,2018.3 L244.3,2010.2 L244.8,2002.0 L245.3,1993.6 L245.8,1985.2 L246.3,1976.6 L246.8,1967.9 L247.3,1959.1 L247.8,1950.3 L248.3,1941.3 L248.8,1932.3 L249.3,1923.2 L249.8,1914.0 L250.3,1904.8 L250.8,1895.5 L251.3,1886.1 L251.8,1876.6 L252.3,1867.1 L252.8,1857.6 L253.3,1848.1 L253.8,1839.1 L254.3,1832.1 L254.8,1829.3 L255.3,1832.1 L255.8,1839.1 L256.3,1848.1 L256.8,1857.6 L257.3,1867.1 L257.8,1876.6 L258.3,1886.1 L258.8,1895.5 L259.3,1904.8 L259.8,1914.0 L260.3,1923.2 L260.8,1932.3 L261.3,1941.3 L261.8,1950.3 L262.3,1959.1 L262.8,1967.9 L263.3,1976.6 L263.8,1985.2 L264.3,1993.6 L264.8,2002.0 L265.3,2010.2 L265.8,2018.3 L266.3,2026.2 L266.8,2034.0 L267.3,2041.5 L267.8,2048.8 L268.3,2055.8 L268.8,2062.2 L269.3,2067.6 L269.8,2071.3 L270.3,2073.3 L270.8,2074.1 L271.3,2074.3 L271.8,2074.3 L272.3,2074.3 L272.8,2074.3 L273.3,2074.3 L273.8,2074.3 L274.3,2074.3 L274.8,2074.3 L275.3,2074.3 L275.8,2074.3 L276.3,2074.3 L276.3,2074.3 Z" fill="#22c822" opacity="0.56"/>
<path d="M304.8,2074.3 L304.8,2074.3 L305.3,2074.3 L305.8,2074.3 L306.3,2074.3 L306.8,2074.3 L307.3,2074.3 L307.8,2074.3 L308.3,2074.3 L308.8,2074.2 L309.3,2074.2 L309.8,2074.2 L310.3,2074.2 L310.8,2074.2 L311.3,2074.1 L311.8,2074.1 L312.3,2074.1 L312.8,2074.0 L313.3,2074.0 L313.8,2073.9 L314.3,2073.9 L314.8,2073.8 L315.3,2073.7 L315.8,2073.6 L316.3,2073.5 L316.8,2073.4 L317.3,2073.3 L317.8,2073.1 L318.3,2072.9 L318.8,2072.7 L319.3,2072.5 L319.8,2072.3 L320.3,2072.0 L320.8,2071.7 L321.3,2071.4 L321.8,2071.0 L322.3,2070.6 L322.8,2070.2 L323.3,2069.7 L323.8,2069.2 L324.3,2068.6 L324.8,2068.1 L325.3,2067.4 L325.8,2066.8 L326.3,2066.1 L326.8,2065.4 L327.3,2064.6 L327.8,2063.8 L328.3,2063.0 L328.8,2062.1 L329.3,2061.2 L329.8,2060.3 L330.3,2059.4 L330.8,2058.4 L331.3,2057.5 L331.8,2056.6 L332.3,2055.6 L332.8,2054.7 L333.3,2053.8 L333.8,2052.9 L334.3,2052.0 L334.8,2051.2 L335.3,2050.5 L335.8,2049.7 L336.3,2049.1 L336.8,2048.5 L337.3,2047.9 L337.8,2047.4 L338.3,2047.1 L338.8,2046.7 L339.3,2046.5 L339.8,2046.4 L340.3,2046.3 L340.8,2046.3 L341.3,2046.4 L341.8,2046.6 L342.3,2046.9 L342.8,2047.3 L343.3,2047.7 L343.8,2048.2 L344.3,2048.8 L344.8,2049.5 L345.3,2050.2 L345.8,2050.9 L346.3,2051.7 L346.8,2052.6 L347.3,2053.4 L347.8,2054.3 L348.3,2055.3 L348.8,2056.2 L349.3,2057.1 L349.8,2058.1 L350.3,2059.0 L350.8,2059.9 L351.3,2060.9 L351.8,2061.7 L352.3,2062.6 L352.8,2063.5 L353.3,2064.3 L353.8,2065.1 L354.3,2065.8 L354.8,2066.5 L355.3,2067.2 L355.8,2067.8 L356.3,2068.4 L356.8,2069.0 L357.3,2069.5 L357.8,2070.0 L358.3,2070.4 L358.8,2070.8 L359.3,2071.2 L359.8,2071.6 L360.3,2071.9 L360.8,2072.2 L361.3,2072.4 L361.8,2072.6 L362.3,2072.8 L362.8,2073.0 L363.3,2073.2 L363.8,2073.3 L364.3,2073.5 L364.8,2073.6 L365.3,2073.7 L365.8,2073.8 L366.3,2073.9 L366.8,2073.9 L367.3,2074.0 L367.8,2074.0 L368.3,2074.1 L368.8,2074.1 L369.3,2074.1 L369.8,2074.2 L370.3,2074.2 L370.8,2074.2 L371.3,2074.2 L371.8,2074.2 L372.3,2074.2 L372.8,2074.3 L373.3,2074.3 L373.8,2074.3 L374.3,2074.3 L374.8,2074.3 L375.3,2074.3 L375.8,2074.3 L376.3,2074.3 L376.3,2074.3 Z" fill="#22eef0" opacity="0.62"/>
<polyline points="227.3,2074.3 227.8,2074.3 228.3,2074.3 228.8,2074.3 229.3,2074.3 229.8,2074.3 230.3,2074.3 230.8,2074.3 231.3,2074.3 231.8,2074.3 232.3,2074.3 232.8,2074.3 233.3,2074.3 233.8,2074.3 234.3,2074.3 234.8,2074.3 235.3,2074.3 235.8,2074.3 236.3,2074.3 236.8,2074.3 237.3,2074.2 237.8,2073.8 238.3,2072.8 238.8,2070.5 239.3,2066.7 239.8,2061.6 240.3,2055.6 240.8,2049.1 241.3,2042.4 241.8,2035.4 242.3,2028.2 242.8,2020.8 243.3,2013.4 243.8,2005.8 244.3,1998.1 244.8,1990.2 245.3,1982.3 245.8,1974.3 246.3,1966.2 246.8,1958.1 247.3,1949.8 247.8,1941.5 248.3,1933.1 248.8,1924.6 249.3,1916.1 249.8,1907.5 250.3,1898.9 250.8,1890.2 251.3,1881.4 251.8,1872.6 252.3,1863.7 252.8,1854.8 253.3,1846.0 253.8,1837.8 254.3,1831.3 254.8,1828.4 255.3,1830.3 255.8,1835.8 256.3,1842.9 256.8,1850.2 257.3,1857.2 257.8,1863.6 258.3,1869.4 258.8,1874.5 259.3,1878.9 259.8,1882.6 260.3,1885.9 260.8,1888.8 261.3,1891.6 261.8,1894.5 262.3,1898.0 262.8,1902.2 263.3,1907.4 263.8,1913.8 264.3,1921.4 264.8,1929.5 265.3,1937.9 265.8,1946.6 266.3,1955.6 266.8,1964.8 267.3,1974.2 267.8,1983.7 268.3,1993.2 268.8,2001.5 269.3,2010.7 269.8,2019.7 270.3,2029.9 270.8,2035.1 271.3,2040.6 271.8,2044.0 272.3,2048.0 272.8,2050.3 273.3,2051.9 273.8,2054.6 274.3,2055.8 274.8,2058.7 275.3,2060.1 275.8,2059.7 276.3,2061.7 276.8,2062.5 277.3,2062.8 277.8,2064.6 278.3,2066.1 278.8,2065.9 279.3,2066.7 279.8,2066.7 280.3,2066.9 280.8,2066.0 281.3,2067.8 281.8,2066.7 282.3,2067.8 282.8,2067.3 283.3,2067.0 283.8,2068.0 284.3,2068.6 284.8,2067.5 285.3,2066.8 285.8,2067.2 286.3,2067.6 286.8,2067.0 287.3,2068.2 287.8,2068.2 288.3,2067.8 288.8,2066.4 289.3,2068.1 289.8,2068.3 290.3,2068.3 290.8,2068.5 291.3,2067.8 291.8,2066.9 292.3,2066.2 292.8,2067.5 293.3,2067.4 293.8,2067.6 294.3,2067.5 294.8,2066.2 295.3,2066.8 295.8,2067.6 296.3,2068.0 296.8,2066.1 297.3,2066.3 297.8,2065.9 298.3,2067.5 298.8,2066.6 299.3,2065.6 299.8,2066.5 300.3,2065.5 300.8,2067.6 301.3,2065.3 301.8,2067.9 302.3,2066.9 302.8,2067.9 303.3,2065.7 303.8,2066.0 304.3,2065.2 304.8,2065.7 305.3,2065.3 305.8,2066.4 306.3,2065.1 306.8,2065.8 307.3,2066.9 307.8,2065.1 308.3,2066.8 308.8,2067.3 309.3,2067.6 309.8,2066.5 310.3,2067.3 310.8,2065.2 311.3,2065.1 311.8,2067.2 312.3,2067.5 312.8,2066.3 313.3,2067.3 313.8,2066.2 314.3,2065.5 314.8,2067.0 315.3,2066.5 315.8,2065.2 316.3,2066.4 316.8,2066.7 317.3,2065.1 317.8,2065.3 318.3,2065.0 318.8,2065.5 319.3,2066.2 319.8,2065.3 320.3,2064.8 320.8,2065.2 321.3,2066.1 321.8,2065.8 322.3,2065.3 322.8,2064.0 323.3,2064.3 323.8,2064.0 324.3,2062.9 324.8,2064.6 325.3,2062.7 325.8,2063.1 326.3,2062.0 326.8,2060.7 327.3,2061.8 327.8,2059.3 328.3,2061.1 328.8,2059.1 329.3,2058.4 329.8,2058.6 330.3,2056.9 330.8,2056.4 331.3,2055.7 331.8,2054.1 332.3,2055.3 332.8,2053.5 333.3,2051.6 333.8,2052.6 334.3,2049.8 334.8,2050.9 335.3,2048.9 335.8,2049.7 336.3,2048.4 336.8,2047.9 337.3,2048.4 337.8,2046.2 338.3,2046.5 338.8,2045.7 339.3,2045.9 339.8,2045.8 340.3,2045.8 340.8,2046.5 341.3,2045.0 341.8,2047.5 342.3,2045.6 342.8,2046.0 343.3,2047.5 343.8,2047.2 344.3,2048.1 344.8,2049.0 345.3,2050.6 345.8,2051.3 346.3,2052.0 346.8,2053.0 347.3,2052.0 347.8,2054.7 348.3,2055.4 348.8,2056.3 349.3,2056.1 349.8,2058.0 350.3,2058.7 350.8,2060.4 351.3,2061.2 351.8,2062.5 352.3,2062.9 352.8,2063.5 353.3,2062.6 353.8,2064.2 354.3,2065.9 354.8,2065.4 355.3,2066.8 355.8,2066.0 356.3,2066.7 356.8,2065.9 357.3,2067.9 357.8,2066.5 358.3,2068.4 358.8,2066.7 359.3,2067.9 359.8,2069.8 360.3,2068.0 360.8,2069.8 361.3,2069.9 361.8,2070.9 362.3,2069.3 362.8,2071.7 363.3,2070.3 363.8,2071.6 364.3,2071.2 364.8,2072.6 365.3,2073.5 365.8,2071.5 366.3,2072.5 366.8,2074.1 367.3,2072.0 367.8,2072.4 368.3,2074.3 368.8,2074.3 369.3,2073.6 369.8,2074.3 370.3,2073.4 370.8,2074.2 371.3,2073.6 371.8,2074.0 372.3,2073.5 372.8,2073.3 373.3,2074.0 373.8,2074.0 374.3,2074.3 374.8,2074.3 375.3,2074.3 375.8,2073.3 376.3,2074.3 376.8,2074.3 377.3,2074.3 377.8,2074.0 378.3,2074.2 378.8,2073.3 379.3,2074.3 379.8,2074.3 380.3,2073.9 380.8,2073.6 381.3,2073.1 381.8,2074.3 382.3,2073.2 382.8,2073.0 383.3,2072.9 383.8,2074.3 384.3,2074.3 384.8,2073.5 385.3,2073.4 385.8,2074.3 386.3,2074.3 386.8,2073.7 387.3,2073.6 387.8,2074.2 388.3,2074.3" fill="none" stroke="#111" stroke-width="1.2" opacity="0.9"/>
<polyline points="230.3,2074.3 230.8,2074.3 231.3,2074.3 231.8,2074.3 232.3,2074.3 232.8,2074.3 233.3,2074.3 233.8,2074.3 234.3,2074.3 234.8,2074.3 235.3,2074.3 235.8,2074.3 236.3,2074.3 236.8,2074.3 237.3,2074.3 237.8,2074.3 238.3,2074.3 238.8,2074.1 239.3,2073.3 239.8,2071.3 240.3,2067.6 240.8,2062.2 241.3,2055.8 241.8,2048.8 242.3,2041.5 242.8,2034.0 243.3,2026.2 243.8,2018.3 244.3,2010.2 244.8,2002.0 245.3,1993.6 245.8,1985.2 246.3,1976.6 246.8,1967.9 247.3,1959.1 247.8,1950.3 248.3,1941.3 248.8,1932.3 249.3,1923.2 249.8,1914.0 250.3,1904.8 250.8,1895.4 251.3,1886.1 251.8,1876.6 252.3,1867.1 252.8,1857.5 253.3,1847.9 253.8,1838.8 254.3,1831.5 254.8,1828.4 255.3,1830.5 255.8,1836.7 256.3,1844.5 256.8,1852.3 257.3,1859.7 257.8,1866.3 258.3,1872.2 258.8,1877.2 259.3,1881.5 259.8,1885.1 260.3,1888.3 260.8,1891.3 261.3,1894.5 261.8,1898.2 262.3,1902.8 262.8,1908.6 263.3,1915.8 263.8,1924.2 264.3,1933.1 264.8,1942.3 265.3,1951.8 265.8,1961.7 266.3,1971.7 266.8,1981.9 267.3,1992.1 267.8,2002.3 268.3,2012.2 268.8,2021.7 269.3,2030.1 269.8,2036.9 270.3,2041.9 270.8,2045.4 271.3,2048.2 271.8,2050.8 272.3,2053.1 272.8,2055.2 273.3,2057.0 273.8,2058.7 274.3,2060.2 274.8,2061.5 275.3,2062.6 275.8,2063.6 276.3,2064.4 276.8,2065.1 277.3,2065.6 277.8,2066.1 278.3,2066.4 278.8,2066.7 279.3,2066.9 279.8,2067.1 280.3,2067.2 280.8,2067.3 281.3,2067.4 281.8,2067.4 282.3,2067.5 282.8,2067.5 283.3,2067.5 283.8,2067.5 284.3,2067.5 284.8,2067.5 285.3,2067.4 285.8,2067.4 286.3,2067.4 286.8,2067.4 287.3,2067.4 287.8,2067.3 288.3,2067.3 288.8,2067.3 289.3,2067.3 289.8,2067.2 290.3,2067.2 290.8,2067.2 291.3,2067.1 291.8,2067.1 292.3,2067.1 292.8,2067.1 293.3,2067.0 293.8,2067.0 294.3,2067.0 294.8,2067.0 295.3,2066.9 295.8,2066.9 296.3,2066.9 296.8,2066.9 297.3,2066.8 297.8,2066.8 298.3,2066.8 298.8,2066.8 299.3,2066.7 299.8,2066.7 300.3,2066.7 300.8,2066.7 301.3,2066.7 301.8,2066.6 302.3,2066.6 302.8,2066.6 303.3,2066.6 303.8,2066.6 304.3,2066.5 304.8,2066.5 305.3,2066.5 305.8,2066.5 306.3,2066.5 306.8,2066.5 307.3,2066.5 307.8,2066.4 308.3,2066.4 308.8,2066.4 309.3,2066.4 309.8,2066.4 310.3,2066.4 310.8,2066.4 311.3,2066.4 311.8,2066.4 312.3,2066.4 312.8,2066.4 313.3,2066.4 313.8,2066.4 314.3,2066.4 314.8,2066.3 315.3,2066.3 315.8,2066.3 316.3,2066.3 316.8,2066.2 317.3,2066.2 317.8,2066.1 318.3,2066.1 318.8,2066.0 319.3,2065.9 319.8,2065.8 320.3,2065.7 320.8,2065.6 321.3,2065.4 321.8,2065.2 322.3,2065.0 322.8,2064.8 323.3,2064.5 323.8,2064.2 324.3,2063.9 324.8,2063.5 325.3,2063.1 325.8,2062.6 326.3,2062.2 326.8,2061.7 327.3,2061.1 327.8,2060.5 328.3,2059.9 328.8,2059.2 329.3,2058.5 329.8,2057.8 330.3,2057.1 330.8,2056.3 331.3,2055.5 331.8,2054.7 332.3,2053.9 332.8,2053.1 333.3,2052.3 333.8,2051.6 334.3,2050.8 334.8,2050.1 335.3,2049.4 335.8,2048.8 336.3,2048.2 336.8,2047.7 337.3,2047.2 337.8,2046.8 338.3,2046.5 338.8,2046.2 339.3,2046.0 339.8,2045.9 340.3,2045.9 340.8,2046.0 341.3,2046.1 341.8,2046.3 342.3,2046.6 342.8,2047.0 343.3,2047.5 343.8,2048.0 344.3,2048.6 344.8,2049.3 345.3,2050.0 345.8,2050.8 346.3,2051.6 346.8,2052.4 347.3,2053.3 347.8,2054.2 348.3,2055.2 348.8,2056.1 349.3,2057.1 349.8,2058.0 350.3,2059.0 350.8,2059.9 351.3,2060.8 351.8,2061.7 352.3,2062.6 352.8,2063.4 353.3,2064.2 353.8,2065.0 354.3,2065.8 354.8,2066.5 355.3,2067.2 355.8,2067.8 356.3,2068.4 356.8,2069.0 357.3,2069.5 357.8,2070.0 358.3,2070.4 358.8,2070.8 359.3,2071.2 359.8,2071.5 360.3,2071.9 360.8,2072.1 361.3,2072.4 361.8,2072.6 362.3,2072.8 362.8,2073.0 363.3,2073.2 363.8,2073.3 364.3,2073.5 364.8,2073.6 365.3,2073.7 365.8,2073.8 366.3,2073.9 366.8,2073.9 367.3,2074.0 367.8,2074.0 368.3,2074.1 368.8,2074.1 369.3,2074.1 369.8,2074.2 370.3,2074.2 370.8,2074.2 371.3,2074.2 371.8,2074.2 372.3,2074.2 372.8,2074.3 373.3,2074.3 373.8,2074.3 374.3,2074.3 374.8,2074.3 375.3,2074.3 375.8,2074.3 376.3,2074.3 376.8,2074.3 377.3,2074.3 377.8,2074.3 378.3,2074.3 378.8,2074.3 379.3,2074.3" fill="none" stroke="#e81ce8" stroke-width="1.4"/>
<line x1="254.6" y1="1802" x2="254.6" y2="2074.3" stroke="#22b022" stroke-width="1.5"/>
<line x1="340.4" y1="1802" x2="340.4" y2="2074.3" stroke="#22e0ea" stroke-width="1.6"/>
<rect x="303.9" y="1826.5" width="150" height="200.25" fill="#fff" opacity="0.8"/>
<text x="305.9" y="1838.5" font-family='"Liberation Sans", sans-serif' font-size="14.2" fill="#111">Watson</text>
<text x="305.9" y="1855.2" font-family='"Liberation Sans", sans-serif' font-size="14.2" fill="#111">RMS: 6.38</text>
<text x="305.9" y="1872.0" font-family='"Liberation Sans", sans-serif' font-size="14.2" fill="#111">Freq G1: 59.57</text>
<text x="305.9" y="1888.8" font-family='"Liberation Sans", sans-serif' font-size="14.2" fill="#111">Freq S: 27.17</text>
<text x="305.9" y="1905.5" font-family='"Liberation Sans", sans-serif' font-size="14.2" fill="#111">Freq G2: 13.20</text>
<text x="305.9" y="1922.2" font-family='"Liberation Sans", sans-serif' font-size="14.2" fill="#111">Mean G1: 448,141</text>
<text x="305.9" y="1939.0" font-family='"Liberation Sans", sans-serif' font-size="14.2" fill="#111">Mean G2: 875,818</text>
<text x="305.9" y="1955.8" font-family='"Liberation Sans", sans-serif' font-size="14.2" fill="#111">G2/G1: 1.95</text>
<text x="305.9" y="1972.5" font-family='"Liberation Sans", sans-serif' font-size="14.2" fill="#111">CV G1: 5.12%</text>
<text x="305.9" y="1989.2" font-family='"Liberation Sans", sans-serif' font-size="14.2" fill="#111">CV G2: 5.32%</text>
<text x="305.9" y="2006.0" font-family='"Liberation Sans", sans-serif' font-size="14.2" fill="#111">Freq Sub-G1: 0.04</text>
<text x="305.9" y="2022.8" font-family='"Liberation Sans", sans-serif' font-size="14.2" fill="#111">Freq Super-G2: 0.02</text>
<text x="258.6" y="1820.5" font-family='"Liberation Sans", sans-serif' font-size="13.5" text-anchor="middle" fill="#111">G1</text>
<text x="344.4" y="1820.5" font-family='"Liberation Sans", sans-serif' font-size="13.5" text-anchor="middle" fill="#111">G2</text>
<rect x="191.8" y="1802" width="273.7" height="272.3000000000002" fill="none" stroke="#222" stroke-width="1.6"/>
<line x1="188.8" y1="2074.3" x2="191.8" y2="2074.3" stroke="#222" stroke-width="1"/>
<line x1="188.8" y1="2064.6" x2="191.8" y2="2064.6" stroke="#222" stroke-width="1"/>
<line x1="188.8" y1="2055.0" x2="191.8" y2="2055.0" stroke="#222" stroke-width="1"/>
<line x1="188.8" y1="2045.3" x2="191.8" y2="2045.3" stroke="#222" stroke-width="1"/>
<line x1="188.8" y1="2035.6" x2="191.8" y2="2035.6" stroke="#222" stroke-width="1"/>
<line x1="188.8" y1="2025.9" x2="191.8" y2="2025.9" stroke="#222" stroke-width="1"/>
<line x1="188.8" y1="2016.3" x2="191.8" y2="2016.3" stroke="#222" stroke-width="1"/>
<line x1="188.8" y1="2006.6" x2="191.8" y2="2006.6" stroke="#222" stroke-width="1"/>
<line x1="188.8" y1="1996.9" x2="191.8" y2="1996.9" stroke="#222" stroke-width="1"/>
<line x1="188.8" y1="1987.2" x2="191.8" y2="1987.2" stroke="#222" stroke-width="1"/>
<line x1="188.8" y1="1977.6" x2="191.8" y2="1977.6" stroke="#222" stroke-width="1"/>
<line x1="188.8" y1="1967.9" x2="191.8" y2="1967.9" stroke="#222" stroke-width="1"/>
<line x1="188.8" y1="1958.2" x2="191.8" y2="1958.2" stroke="#222" stroke-width="1"/>
<line x1="188.8" y1="1948.5" x2="191.8" y2="1948.5" stroke="#222" stroke-width="1"/>
<line x1="188.8" y1="1938.9" x2="191.8" y2="1938.9" stroke="#222" stroke-width="1"/>
<line x1="188.8" y1="1929.2" x2="191.8" y2="1929.2" stroke="#222" stroke-width="1"/>
<line x1="188.8" y1="1919.5" x2="191.8" y2="1919.5" stroke="#222" stroke-width="1"/>
<line x1="188.8" y1="1909.9" x2="191.8" y2="1909.9" stroke="#222" stroke-width="1"/>
<line x1="188.8" y1="1900.2" x2="191.8" y2="1900.2" stroke="#222" stroke-width="1"/>
<line x1="188.8" y1="1890.5" x2="191.8" y2="1890.5" stroke="#222" stroke-width="1"/>
<line x1="188.8" y1="1880.8" x2="191.8" y2="1880.8" stroke="#222" stroke-width="1"/>
<line x1="188.8" y1="1871.2" x2="191.8" y2="1871.2" stroke="#222" stroke-width="1"/>
<line x1="188.8" y1="1861.5" x2="191.8" y2="1861.5" stroke="#222" stroke-width="1"/>
<line x1="188.8" y1="1851.8" x2="191.8" y2="1851.8" stroke="#222" stroke-width="1"/>
<line x1="188.8" y1="1842.1" x2="191.8" y2="1842.1" stroke="#222" stroke-width="1"/>
<line x1="188.8" y1="1832.5" x2="191.8" y2="1832.5" stroke="#222" stroke-width="1"/>
<line x1="188.8" y1="1822.8" x2="191.8" y2="1822.8" stroke="#222" stroke-width="1"/>
<line x1="188.8" y1="1813.1" x2="191.8" y2="1813.1" stroke="#222" stroke-width="1"/>
<line x1="188.8" y1="1803.5" x2="191.8" y2="1803.5" stroke="#222" stroke-width="1"/>
<line x1="185.8" y1="2074.3" x2="191.8" y2="2074.3" stroke="#222" stroke-width="1.3"/>
<text transform="translate(179,2075.8) rotate(-90)" font-family='"Liberation Sans", sans-serif' font-size="14.3" text-anchor="middle" fill="#111">0</text>
<line x1="185.8" y1="2025.9" x2="191.8" y2="2025.9" stroke="#222" stroke-width="1.3"/>
<text transform="translate(179,2027.4) rotate(-90)" font-family='"Liberation Sans", sans-serif' font-size="14.3" text-anchor="middle" fill="#111">100</text>
<line x1="185.8" y1="1977.6" x2="191.8" y2="1977.6" stroke="#222" stroke-width="1.3"/>
<text transform="translate(179,1979.1) rotate(-90)" font-family='"Liberation Sans", sans-serif' font-size="14.3" text-anchor="middle" fill="#111">200</text>
<line x1="185.8" y1="1929.2" x2="191.8" y2="1929.2" stroke="#222" stroke-width="1.3"/>
<text transform="translate(179,1930.7) rotate(-90)" font-family='"Liberation Sans", sans-serif' font-size="14.3" text-anchor="middle" fill="#111">300</text>
<line x1="185.8" y1="1880.8" x2="191.8" y2="1880.8" stroke="#222" stroke-width="1.3"/>
<text transform="translate(179,1882.3) rotate(-90)" font-family='"Liberation Sans", sans-serif' font-size="14.3" text-anchor="middle" fill="#111">400</text>
<line x1="185.8" y1="1802.0" x2="191.8" y2="1802.0" stroke="#222" stroke-width="1.3"/>
<text transform="translate(179,1803.5) rotate(-90)" font-family='"Liberation Sans", sans-serif' font-size="14.3" text-anchor="middle" fill="#111">563</text>
<line x1="191.8" y1="2074.3" x2="191.8" y2="2076.9" stroke="#222" stroke-width="1"/>
<line x1="200.8" y1="2074.3" x2="200.8" y2="2076.9" stroke="#222" stroke-width="1"/>
<line x1="209.8" y1="2074.3" x2="209.8" y2="2076.9" stroke="#222" stroke-width="1"/>
<line x1="218.8" y1="2074.3" x2="218.8" y2="2076.9" stroke="#222" stroke-width="1"/>
<line x1="227.9" y1="2074.3" x2="227.9" y2="2076.9" stroke="#222" stroke-width="1"/>
<line x1="236.9" y1="2074.3" x2="236.9" y2="2076.9" stroke="#222" stroke-width="1"/>
<line x1="245.9" y1="2074.3" x2="245.9" y2="2076.9" stroke="#222" stroke-width="1"/>
<line x1="255.8" y1="2074.3" x2="255.8" y2="2076.9" stroke="#222" stroke-width="1"/>
<line x1="265.8" y1="2074.3" x2="265.8" y2="2076.9" stroke="#222" stroke-width="1"/>
<line x1="275.7" y1="2074.3" x2="275.7" y2="2076.9" stroke="#222" stroke-width="1"/>
<line x1="285.6" y1="2074.3" x2="285.6" y2="2076.9" stroke="#222" stroke-width="1"/>
<line x1="295.5" y1="2074.3" x2="295.5" y2="2076.9" stroke="#222" stroke-width="1"/>
<line x1="305.4" y1="2074.3" x2="305.4" y2="2076.9" stroke="#222" stroke-width="1"/>
<line x1="315.4" y1="2074.3" x2="315.4" y2="2076.9" stroke="#222" stroke-width="1"/>
<line x1="325.3" y1="2074.3" x2="325.3" y2="2076.9" stroke="#222" stroke-width="1"/>
<line x1="335.4" y1="2074.3" x2="335.4" y2="2076.9" stroke="#222" stroke-width="1"/>
<line x1="345.6" y1="2074.3" x2="345.6" y2="2076.9" stroke="#222" stroke-width="1"/>
<line x1="355.8" y1="2074.3" x2="355.8" y2="2076.9" stroke="#222" stroke-width="1"/>
<line x1="365.9" y1="2074.3" x2="365.9" y2="2076.9" stroke="#222" stroke-width="1"/>
<line x1="376.1" y1="2074.3" x2="376.1" y2="2076.9" stroke="#222" stroke-width="1"/>
<line x1="386.2" y1="2074.3" x2="386.2" y2="2076.9" stroke="#222" stroke-width="1"/>
<line x1="396.3" y1="2074.3" x2="396.3" y2="2076.9" stroke="#222" stroke-width="1"/>
<line x1="406.5" y1="2074.3" x2="406.5" y2="2076.9" stroke="#222" stroke-width="1"/>
<line x1="416.3" y1="2074.3" x2="416.3" y2="2076.9" stroke="#222" stroke-width="1"/>
<line x1="426.2" y1="2074.3" x2="426.2" y2="2076.9" stroke="#222" stroke-width="1"/>
<line x1="436.0" y1="2074.3" x2="436.0" y2="2076.9" stroke="#222" stroke-width="1"/>
<line x1="445.8" y1="2074.3" x2="445.8" y2="2076.9" stroke="#222" stroke-width="1"/>
<line x1="455.7" y1="2074.3" x2="455.7" y2="2076.9" stroke="#222" stroke-width="1"/>
<line x1="465.5" y1="2074.3" x2="465.5" y2="2076.9" stroke="#222" stroke-width="1"/>
<line x1="191.8" y1="2074.3" x2="191.8" y2="2079.8" stroke="#222" stroke-width="1.4"/>
<text x="191.8" y="2100" font-family='"Liberation Sans", sans-serif' font-size="14.3" text-anchor="middle" fill="#111">0.1</text>
<line x1="245.9" y1="2074.3" x2="245.9" y2="2079.8" stroke="#222" stroke-width="1.4"/>
<text x="245.9" y="2100" font-family='"Liberation Sans", sans-serif' font-size="14.3" text-anchor="middle" fill="#111">0.4</text>
<line x1="325.3" y1="2074.3" x2="325.3" y2="2079.8" stroke="#222" stroke-width="1.4"/>
<text x="325.3" y="2100" font-family='"Liberation Sans", sans-serif' font-size="14.3" text-anchor="middle" fill="#111">0.8</text>
<line x1="406.5" y1="2074.3" x2="406.5" y2="2079.8" stroke="#222" stroke-width="1.4"/>
<text x="406.5" y="2100" font-family='"Liberation Sans", sans-serif' font-size="14.3" text-anchor="middle" fill="#111">1.2</text>
<line x1="465.5" y1="2074.3" x2="465.5" y2="2079.8" stroke="#222" stroke-width="1.4"/>
<text x="465.5" y="2100" font-family='"Liberation Sans", sans-serif' font-size="14.3" text-anchor="middle" fill="#111">1.5</text>
<path d="M552.4,2077.9 L552.4,2077.9 L552.9,2077.9 L553.4,2077.9 L553.9,2077.9 L554.4,2077.9 L554.9,2077.9 L555.4,2077.9 L555.9,2077.9 L556.4,2077.9 L556.9,2077.9 L557.4,2077.9 L557.9,2077.9 L558.4,2077.9 L558.9,2077.9 L559.4,2077.9 L559.9,2077.9 L560.4,2077.9 L560.9,2077.9 L561.4,2077.9 L561.9,2077.9 L562.4,2077.9 L562.9,2077.9 L563.4,2077.9 L563.9,2077.9 L564.4,2077.9 L564.9,2077.9 L565.4,2077.9 L565.9,2077.9 L566.4,2077.9 L566.9,2077.9 L567.4,2077.9 L567.9,2077.9 L568.4,2077.9 L568.9,2077.9 L569.4,2077.9 L569.9,2077.9 L570.4,2077.9 L570.9,2077.9 L571.4,2077.9 L571.9,2077.9 L572.4,2077.9 L572.9,2077.9 L573.4,2077.9 L573.9,2077.8 L574.4,2077.8 L574.9,2077.6 L575.4,2077.4 L575.9,2077.2 L576.4,2076.8 L576.9,2076.2 L577.4,2075.4 L577.9,2074.3 L578.4,2072.8 L578.9,2070.9 L579.4,2068.5 L579.9,2065.6 L580.4,2062.3 L580.9,2058.6 L581.4,2054.7 L581.9,2050.8 L582.4,2047.1 L582.9,2043.8 L583.4,2041.1 L583.9,2039.3 L584.4,2038.5 L584.9,2038.4 L585.4,2038.8 L585.9,2039.5 L586.4,2040.5 L586.9,2041.8 L587.4,2043.4 L587.9,2045.2 L588.4,2047.1 L588.9,2049.2 L589.4,2051.3 L589.9,2053.4 L590.4,2055.5 L590.9,2057.5 L591.4,2059.4 L591.9,2061.2 L592.4,2062.8 L592.9,2064.3 L593.4,2065.7 L593.9,2066.8 L594.4,2067.9 L594.9,2068.8 L595.4,2069.5 L595.9,2070.1 L596.4,2070.6 L596.9,2071.1 L597.4,2071.4 L597.9,2071.7 L598.4,2071.9 L598.9,2072.0 L599.4,2072.2 L599.9,2072.3 L600.4,2072.3 L600.9,2072.4 L601.4,2072.4 L601.9,2072.4 L602.4,2072.4 L602.9,2072.4 L603.4,2072.4 L603.9,2072.4 L604.4,2072.4 L604.9,2072.3 L605.4,2072.3 L605.9,2072.3 L606.4,2072.3 L606.9,2072.3 L607.4,2072.2 L607.9,2072.2 L608.4,2072.2 L608.9,2072.2 L609.4,2072.2 L609.9,2072.1 L610.4,2072.1 L610.9,2072.1 L611.4,2072.1 L611.9,2072.1 L612.4,2072.0 L612.9,2072.0 L613.4,2072.0 L613.9,2072.0 L614.4,2072.0 L614.9,2072.0 L615.4,2071.9 L615.9,2071.9 L616.4,2071.9 L616.9,2071.9 L617.4,2071.9 L617.9,2071.9 L618.4,2071.9 L618.9,2071.9 L619.4,2071.9 L619.9,2071.8 L620.4,2071.8 L620.9,2071.8 L621.4,2071.8 L621.9,2071.8 L622.4,2071.8 L622.9,2071.9 L623.4,2071.9 L623.9,2071.9 L624.4,2071.9 L624.9,2071.9 L625.4,2071.9 L625.9,2072.0 L626.4,2072.0 L626.9,2072.0 L627.4,2072.1 L627.9,2072.1 L628.4,2072.2 L628.9,2072.2 L629.4,2072.3 L629.9,2072.4 L630.4,2072.4 L630.9,2072.5 L631.4,2072.6 L631.9,2072.7 L632.4,2072.8 L632.9,2072.9 L633.4,2073.0 L633.9,2073.2 L634.4,2073.3 L634.9,2073.4 L635.4,2073.6 L635.9,2073.7 L636.4,2073.9 L636.9,2074.0 L637.4,2074.2 L637.9,2074.4 L638.4,2074.5 L638.9,2074.7 L639.4,2074.9 L639.9,2075.1 L640.4,2075.2 L640.9,2075.4 L641.4,2075.5 L641.9,2075.7 L642.4,2075.8 L642.9,2076.0 L643.4,2076.1 L643.9,2076.3 L644.4,2076.4 L644.9,2076.5 L645.4,2076.6 L645.9,2076.7 L646.4,2076.8 L646.9,2076.9 L647.4,2077.0 L647.9,2077.1 L648.4,2077.1 L648.9,2077.2 L649.4,2077.3 L649.9,2077.3 L650.4,2077.4 L650.9,2077.4 L651.4,2077.5 L651.9,2077.5 L652.4,2077.5 L652.9,2077.6 L653.4,2077.6 L653.9,2077.6 L654.4,2077.6 L654.9,2077.7 L655.4,2077.7 L655.9,2077.7 L656.4,2077.7 L656.9,2077.7 L657.4,2077.8 L657.9,2077.8 L658.4,2077.8 L658.9,2077.8 L659.4,2077.8 L659.9,2077.8 L660.4,2077.8 L660.9,2077.8 L661.4,2077.8 L661.9,2077.8 L662.4,2077.8 L662.9,2077.9 L663.4,2077.9 L663.9,2077.9 L664.4,2077.9 L664.9,2077.9 L665.4,2077.9 L665.9,2077.9 L666.4,2077.9 L666.9,2077.9 L667.4,2077.9 L667.9,2077.9 L668.4,2077.9 L668.9,2077.9 L669.4,2077.9 L669.9,2077.9 L670.4,2077.9 L670.9,2077.9 L671.4,2077.9 L671.9,2077.9 L672.4,2077.9 L672.9,2077.9 L673.4,2077.9 L673.9,2077.9 L674.4,2077.9 L674.9,2077.9 L675.4,2077.9 L675.9,2077.9 L676.4,2077.9 L676.9,2077.9 L677.4,2077.9 L677.9,2077.9 L678.4,2077.9 L678.9,2077.9 L679.4,2077.9 L679.9,2077.9 L680.4,2077.9 L680.9,2077.9 L681.4,2077.9 L681.9,2077.9 L682.4,2077.9 L682.9,2077.9 L683.4,2077.9 L683.9,2077.9 L684.4,2077.9 L684.9,2077.9 L685.4,2077.9 L685.9,2077.9 L686.4,2077.9 L686.9,2077.9 L687.4,2077.9 L687.9,2077.9 L688.4,2077.9 L688.9,2077.9 L689.4,2077.9 L689.9,2077.9 L690.4,2077.9 L690.9,2077.9 L691.4,2077.9 L691.9,2077.9 L692.4,2077.9 L692.9,2077.9 L693.4,2077.9 L693.9,2077.9 L694.4,2077.9 L694.9,2077.9 L694.9,2077.9 Z" fill="#e3de80" opacity="1"/>
<path d="M552.4,2077.9 L552.4,2077.9 L552.9,2077.9 L553.4,2077.9 L553.9,2077.9 L554.4,2077.9 L554.9,2077.9 L555.4,2077.9 L555.9,2077.9 L556.4,2077.9 L556.9,2077.9 L557.4,2077.9 L557.9,2077.7 L558.4,2077.1 L558.9,2075.4 L559.4,2072.1 L559.9,2067.1 L560.4,2060.9 L560.9,2054.1 L561.4,2047.0 L561.9,2039.5 L562.4,2031.9 L562.9,2024.1 L563.4,2016.1 L563.9,2008.0 L564.4,1999.8 L564.9,1991.4 L565.4,1982.9 L565.9,1974.4 L566.4,1965.7 L566.9,1957.0 L567.4,1948.1 L567.9,1939.2 L568.4,1930.2 L568.9,1921.2 L569.4,1912.0 L569.9,1902.8 L570.4,1893.6 L570.9,1884.3 L571.4,1874.9 L571.9,1865.4 L572.4,1856.0 L572.9,1846.5 L573.4,1837.4 L573.9,1830.1 L574.4,1826.5 L574.9,1828.1 L575.4,1834.3 L575.9,1842.8 L576.4,1852.2 L576.9,1861.6 L577.4,1871.1 L577.9,1880.5 L578.4,1889.9 L578.9,1899.1 L579.4,1908.4 L579.9,1917.5 L580.4,1926.6 L580.9,1935.6 L581.4,1944.6 L581.9,1953.4 L582.4,1962.2 L582.9,1970.9 L583.4,1979.5 L583.9,1988.0 L584.4,1996.4 L584.9,2004.7 L585.4,2012.9 L585.9,2020.9 L586.4,2028.8 L586.9,2036.5 L587.4,2044.0 L587.9,2051.3 L588.4,2058.3 L588.9,2064.7 L589.4,2070.3 L589.9,2074.3 L590.4,2076.6 L590.9,2077.6 L591.4,2077.8 L591.9,2077.9 L592.4,2077.9 L592.9,2077.9 L593.4,2077.9 L593.9,2077.9 L594.4,2077.9 L594.9,2077.9 L595.4,2077.9 L595.9,2077.9 L596.4,2077.9 L596.9,2077.9 L596.9,2077.9 Z" fill="#22c822" opacity="0.56"/>
<path d="M618.9,2077.9 L618.9,2077.9 L619.4,2077.9 L619.9,2077.9 L620.4,2077.9 L620.9,2077.9 L621.4,2077.9 L621.9,2077.9 L622.4,2077.9 L622.9,2077.9 L623.4,2077.9 L623.9,2077.8 L624.4,2077.8 L624.9,2077.8 L625.4,2077.8 L625.9,2077.8 L626.4,2077.8 L626.9,2077.7 L627.4,2077.7 L627.9,2077.7 L628.4,2077.6 L628.9,2077.6 L629.4,2077.5 L629.9,2077.5 L630.4,2077.4 L630.9,2077.3 L631.4,2077.2 L631.9,2077.1 L632.4,2077.0 L632.9,2076.9 L633.4,2076.7 L633.9,2076.6 L634.4,2076.4 L634.9,2076.2 L635.4,2076.0 L635.9,2075.7 L636.4,2075.5 L636.9,2075.2 L637.4,2074.9 L637.9,2074.5 L638.4,2074.1 L638.9,2073.7 L639.4,2073.3 L639.9,2072.9 L640.4,2072.4 L640.9,2071.8 L641.4,2071.3 L641.9,2070.7 L642.4,2070.1 L642.9,2069.5 L643.4,2068.8 L643.9,2068.1 L644.4,2067.4 L644.9,2066.6 L645.4,2065.9 L645.9,2065.1 L646.4,2064.3 L646.9,2063.5 L647.4,2062.7 L647.9,2061.9 L648.4,2061.1 L648.9,2060.4 L649.4,2059.6 L649.9,2058.8 L650.4,2058.1 L650.9,2057.4 L651.4,2056.8 L651.9,2056.1 L652.4,2055.6 L652.9,2055.0 L653.4,2054.5 L653.9,2054.1 L654.4,2053.8 L654.9,2053.4 L655.4,2053.2 L655.9,2053.0 L656.4,2052.9 L656.9,2052.9 L657.4,2052.9 L657.9,2053.0 L658.4,2053.2 L658.9,2053.4 L659.4,2053.8 L659.9,2054.1 L660.4,2054.5 L660.9,2055.0 L661.4,2055.6 L661.9,2056.1 L662.4,2056.8 L662.9,2057.4 L663.4,2058.1 L663.9,2058.8 L664.4,2059.6 L664.9,2060.4 L665.4,2061.1 L665.9,2061.9 L666.4,2062.7 L666.9,2063.5 L667.4,2064.3 L667.9,2065.1 L668.4,2065.9 L668.9,2066.6 L669.4,2067.4 L669.9,2068.1 L670.4,2068.8 L670.9,2069.5 L671.4,2070.1 L671.9,2070.7 L672.4,2071.3 L672.9,2071.8 L673.4,2072.4 L673.9,2072.9 L674.4,2073.3 L674.9,2073.7 L675.4,2074.1 L675.9,2074.5 L676.4,2074.9 L676.9,2075.2 L677.4,2075.5 L677.9,2075.7 L678.4,2076.0 L678.9,2076.2 L679.4,2076.4 L679.9,2076.6 L680.4,2076.7 L680.9,2076.9 L681.4,2077.0 L681.9,2077.1 L682.4,2077.2 L682.9,2077.3 L683.4,2077.4 L683.9,2077.5 L684.4,2077.5 L684.9,2077.6 L685.4,2077.6 L685.9,2077.7 L686.4,2077.7 L686.9,2077.7 L687.4,2077.8 L687.9,2077.8 L688.4,2077.8 L688.9,2077.8 L689.4,2077.8 L689.9,2077.8 L690.4,2077.9 L690.9,2077.9 L691.4,2077.9 L691.9,2077.9 L692.4,2077.9 L692.9,2077.9 L693.4,2077.9 L693.9,2077.9 L694.4,2077.9 L694.9,2077.9 L694.9,2077.9 Z" fill="#22eef0" opacity="0.62"/>
<polyline points="546.4,2077.9 546.9,2077.9 547.4,2077.9 547.9,2077.9 548.4,2077.9 548.9,2077.9 549.4,2077.9 549.9,2077.9 550.4,2077.9 550.9,2077.9 551.4,2077.9 551.9,2077.9 552.4,2077.9 552.9,2077.9 553.4,2077.9 553.9,2077.9 554.4,2077.9 554.9,2077.9 555.4,2077.9 555.9,2077.9 556.4,2077.8 556.9,2077.5 557.4,2076.6 557.9,2074.6 558.4,2071.0 558.9,2066.0 559.4,2060.2 559.9,2053.8 560.4,2047.1 560.9,2040.3 561.4,2033.2 561.9,2025.9 562.4,2018.6 562.9,2011.1 563.4,2003.4 563.9,1995.7 564.4,1987.9 564.9,1980.0 565.4,1972.0 565.9,1963.9 566.4,1955.8 566.9,1947.6 567.4,1939.3 567.9,1930.9 568.4,1922.5 568.9,1914.0 569.4,1905.5 569.9,1896.9 570.4,1888.2 570.9,1879.5 571.4,1870.8 571.9,1862.0 572.4,1853.1 572.9,1844.4 573.4,1836.0 573.9,1829.4 574.4,1826.3 574.9,1827.7 575.4,1832.9 575.9,1840.4 576.4,1848.7 576.9,1857.0 577.4,1865.1 577.9,1873.0 578.4,1880.5 578.9,1887.7 579.4,1894.3 579.9,1900.6 580.4,1906.3 580.9,1911.6 581.4,1916.5 581.9,1921.2 582.4,1925.8 582.9,1930.5 583.4,1935.4 583.9,1940.8 584.4,1946.8 584.9,1953.4 585.4,1960.8 585.9,1968.6 586.4,1976.6 586.9,1984.8 587.4,1993.1 587.9,2001.5 588.4,2010.0 588.9,2017.8 589.4,2025.8 589.9,2035.6 590.4,2040.6 590.9,2048.9 591.4,2052.2 591.9,2057.1 592.4,2057.6 592.9,2061.1 593.4,2061.2 593.9,2062.7 594.4,2063.9 594.9,2066.0 595.4,2065.9 595.9,2066.5 596.4,2069.8 596.9,2069.4 597.4,2068.7 597.9,2069.8 598.4,2071.1 598.9,2071.8 599.4,2070.9 599.9,2073.4 600.4,2071.6 600.9,2071.4 601.4,2073.3 601.9,2072.9 602.4,2072.9 602.9,2072.3 603.4,2072.8 603.9,2071.3 604.4,2071.2 604.9,2072.9 605.4,2071.2 605.9,2073.5 606.4,2073.4 606.9,2071.8 607.4,2071.4 607.9,2071.3 608.4,2070.8 608.9,2071.2 609.4,2072.8 609.9,2071.5 610.4,2070.9 610.9,2073.2 611.4,2072.1 611.9,2073.0 612.4,2073.0 612.9,2072.1 613.4,2071.5 613.9,2070.7 614.4,2073.0 614.9,2071.9 615.4,2070.6 615.9,2071.2 616.4,2071.8 616.9,2072.6 617.4,2071.5 617.9,2072.5 618.4,2071.5 618.9,2071.4 619.4,2072.1 619.9,2071.0 620.4,2072.1 620.9,2071.9 621.4,2070.9 621.9,2072.5 622.4,2072.7 622.9,2071.6 623.4,2072.0 623.9,2070.8 624.4,2072.5 624.9,2072.2 625.4,2073.1 625.9,2072.0 626.4,2072.4 626.9,2072.0 627.4,2071.1 627.9,2073.2 628.4,2070.5 628.9,2071.3 629.4,2071.0 629.9,2071.8 630.4,2071.7 630.9,2072.2 631.4,2072.2 631.9,2072.7 632.4,2072.5 632.9,2072.5 633.4,2072.3 633.9,2070.7 634.4,2070.9 634.9,2071.3 635.4,2073.0 635.9,2072.2 636.4,2071.3 636.9,2070.8 637.4,2071.4 637.9,2070.6 638.4,2069.7 638.9,2071.2 639.4,2070.6 639.9,2069.3 640.4,2070.2 640.9,2068.7 641.4,2069.2 641.9,2069.9 642.4,2068.2 642.9,2068.8 643.4,2066.2 643.9,2065.5 644.4,2065.8 644.9,2064.1 645.4,2065.4 645.9,2064.1 646.4,2064.1 646.9,2063.8 647.4,2060.9 647.9,2062.3 648.4,2059.2 648.9,2059.5 649.4,2058.4 649.9,2059.5 650.4,2056.4 650.9,2056.1 651.4,2057.4 651.9,2056.6 652.4,2056.2 652.9,2054.7 653.4,2055.4 653.9,2053.0 654.4,2053.5 654.9,2052.6 655.4,2053.7 655.9,2052.4 656.4,2052.9 656.9,2052.3 657.4,2053.0 657.9,2051.5 658.4,2052.1 658.9,2052.4 659.4,2054.1 659.9,2054.9 660.4,2055.4 660.9,2056.0 661.4,2054.2 661.9,2056.7 662.4,2055.7 662.9,2058.1 663.4,2057.7 663.9,2059.5 664.4,2060.1 664.9,2059.6 665.4,2060.8 665.9,2060.6 666.4,2063.4 666.9,2064.1 667.4,2065.4 667.9,2065.8 668.4,2064.3 668.9,2066.2 669.4,2067.1 669.9,2068.1 670.4,2067.5 670.9,2068.2 671.4,2070.2 671.9,2071.0 672.4,2071.0 672.9,2069.5 673.4,2070.1 673.9,2071.8 674.4,2072.0 674.9,2072.0 675.4,2071.1 675.9,2071.1 676.4,2072.8 676.9,2072.7 677.4,2073.2 677.9,2071.5 678.4,2072.9 678.9,2072.1 679.4,2074.3 679.9,2073.6 680.4,2074.1 680.9,2073.4 681.4,2075.4 681.9,2076.1 682.4,2074.8 682.9,2074.7 683.4,2076.2 683.9,2077.0 684.4,2077.9 684.9,2077.1 685.4,2075.9 685.9,2077.7 686.4,2077.5 686.9,2077.3 687.4,2077.9 687.9,2077.9 688.4,2077.7 688.9,2076.4 689.4,2076.7 689.9,2077.9 690.4,2077.0 690.9,2076.9 691.4,2077.6 691.9,2077.9 692.4,2077.9 692.9,2077.3 693.4,2077.4 693.9,2077.9 694.4,2077.9 694.9,2077.9 695.4,2077.0 695.9,2076.8 696.4,2077.8 696.9,2077.6 697.4,2077.3 697.9,2077.9 698.4,2077.8 698.9,2077.9 699.4,2076.9 699.9,2077.9 700.4,2076.9 700.9,2077.9 701.4,2077.6 701.9,2076.8 702.4,2077.9 702.9,2077.9 703.4,2077.9 703.9,2077.9 704.4,2077.9 704.9,2076.6 705.4,2077.9 705.9,2076.8 706.4,2077.3 706.9,2076.9" fill="none" stroke="#111" stroke-width="1.2" opacity="0.9"/>
<polyline points="549.4,2077.9 549.9,2077.9 550.4,2077.9 550.9,2077.9 551.4,2077.9 551.9,2077.9 552.4,2077.9 552.9,2077.9 553.4,2077.9 553.9,2077.9 554.4,2077.9 554.9,2077.9 555.4,2077.9 555.9,2077.9 556.4,2077.9 556.9,2077.9 557.4,2077.9 557.9,2077.7 558.4,2077.1 558.9,2075.4 559.4,2072.1 559.9,2067.1 560.4,2060.9 560.9,2054.1 561.4,2047.0 561.9,2039.5 562.4,2031.9 562.9,2024.1 563.4,2016.1 563.9,2008.0 564.4,1999.8 564.9,1991.4 565.4,1982.9 565.9,1974.4 566.4,1965.7 566.9,1957.0 567.4,1948.1 567.9,1939.2 568.4,1930.2 568.9,1921.2 569.4,1912.0 569.9,1902.8 570.4,1893.6 570.9,1884.3 571.4,1874.9 571.9,1865.4 572.4,1855.9 572.9,1846.5 573.4,1837.4 573.9,1830.0 574.4,1826.3 574.9,1827.8 575.4,1833.8 575.9,1842.1 576.4,1851.1 576.9,1860.0 577.4,1868.6 577.9,1876.9 578.4,1884.8 578.9,1892.1 579.4,1899.0 579.9,1905.3 580.4,1911.0 580.9,1916.4 581.4,1921.4 581.9,1926.3 582.4,1931.4 582.9,1936.8 583.4,1942.7 583.9,1949.4 584.4,1957.0 584.9,1965.2 585.4,1973.7 585.9,1982.5 586.4,1991.4 586.9,2000.4 587.4,2009.5 587.9,2018.6 588.4,2027.5 588.9,2036.0 589.4,2043.6 589.9,2049.8 590.4,2054.2 590.9,2057.2 591.4,2059.3 591.9,2061.2 592.4,2062.8 592.9,2064.3 593.4,2065.7 593.9,2066.8 594.4,2067.9 594.9,2068.8 595.4,2069.5 595.9,2070.1 596.4,2070.6 596.9,2071.1 597.4,2071.4 597.9,2071.7 598.4,2071.9 598.9,2072.0 599.4,2072.2 599.9,2072.3 600.4,2072.3 600.9,2072.4 601.4,2072.4 601.9,2072.4 602.4,2072.4 602.9,2072.4 603.4,2072.4 603.9,2072.4 604.4,2072.4 604.9,2072.3 605.4,2072.3 605.9,2072.3 606.4,2072.3 606.9,2072.3 607.4,2072.2 607.9,2072.2 608.4,2072.2 608.9,2072.2 609.4,2072.2 609.9,2072.1 610.4,2072.1 610.9,2072.1 611.4,2072.1 611.9,2072.1 612.4,2072.0 612.9,2072.0 613.4,2072.0 613.9,2072.0 614.4,2072.0 614.9,2072.0 615.4,2071.9 615.9,2071.9 616.4,2071.9 616.9,2071.9 617.4,2071.9 617.9,2071.9 618.4,2071.9 618.9,2071.9 619.4,2071.8 619.9,2071.8 620.4,2071.8 620.9,2071.8 621.4,2071.8 621.9,2071.8 622.4,2071.8 622.9,2071.8 623.4,2071.8 623.9,2071.8 624.4,2071.8 624.9,2071.8 625.4,2071.8 625.9,2071.8 626.4,2071.8 626.9,2071.9 627.4,2071.9 627.9,2071.9 628.4,2071.9 628.9,2071.9 629.4,2071.9 629.9,2071.9 630.4,2071.9 630.9,2071.9 631.4,2071.9 631.9,2071.9 632.4,2071.9 632.9,2071.9 633.4,2071.9 633.9,2071.8 634.4,2071.8 634.9,2071.7 635.4,2071.7 635.9,2071.6 636.4,2071.4 636.9,2071.3 637.4,2071.2 637.9,2071.0 638.4,2070.8 638.9,2070.6 639.4,2070.3 639.9,2070.0 640.4,2069.7 640.9,2069.3 641.4,2068.9 641.9,2068.5 642.4,2068.0 642.9,2067.5 643.4,2067.0 643.9,2066.5 644.4,2065.9 644.9,2065.2 645.4,2064.6 645.9,2063.9 646.4,2063.2 646.9,2062.5 647.4,2061.8 647.9,2061.1 648.4,2060.4 648.9,2059.7 649.4,2058.9 649.9,2058.3 650.4,2057.6 650.9,2056.9 651.4,2056.3 651.9,2055.7 652.4,2055.2 652.9,2054.7 653.4,2054.2 653.9,2053.8 654.4,2053.5 654.9,2053.2 655.4,2053.0 655.9,2052.8 656.4,2052.8 656.9,2052.7 657.4,2052.8 657.9,2052.9 658.4,2053.1 658.9,2053.3 659.4,2053.7 659.9,2054.0 660.4,2054.5 660.9,2054.9 661.4,2055.5 661.9,2056.1 662.4,2056.7 662.9,2057.4 663.4,2058.1 663.9,2058.8 664.4,2059.6 664.9,2060.3 665.4,2061.1 665.9,2061.9 666.4,2062.7 666.9,2063.5 667.4,2064.3 667.9,2065.1 668.4,2065.9 668.9,2066.6 669.4,2067.4 669.9,2068.1 670.4,2068.8 670.9,2069.5 671.4,2070.1 671.9,2070.7 672.4,2071.3 672.9,2071.8 673.4,2072.4 673.9,2072.9 674.4,2073.3 674.9,2073.7 675.4,2074.1 675.9,2074.5 676.4,2074.9 676.9,2075.2 677.4,2075.5 677.9,2075.7 678.4,2076.0 678.9,2076.2 679.4,2076.4 679.9,2076.6 680.4,2076.7 680.9,2076.9 681.4,2077.0 681.9,2077.1 682.4,2077.2 682.9,2077.3 683.4,2077.4 683.9,2077.5 684.4,2077.5 684.9,2077.6 685.4,2077.6 685.9,2077.7 686.4,2077.7 686.9,2077.7 687.4,2077.8 687.9,2077.8 688.4,2077.8 688.9,2077.8 689.4,2077.8 689.9,2077.8 690.4,2077.8 690.9,2077.9 691.4,2077.9 691.9,2077.9 692.4,2077.9 692.9,2077.9 693.4,2077.9 693.9,2077.9 694.4,2077.9 694.9,2077.9 695.4,2077.9 695.9,2077.9 696.4,2077.9 696.9,2077.9 697.4,2077.9 697.9,2077.9" fill="none" stroke="#e81ce8" stroke-width="1.4"/>
<line x1="573" y1="1803.6" x2="573" y2="2077.9" stroke="#22b022" stroke-width="1.5"/>
<line x1="656.9" y1="1803.6" x2="656.9" y2="2077.9" stroke="#22e0ea" stroke-width="1.6"/>
<rect x="620.3" y="1828.5" width="150" height="200.25" fill="#fff" opacity="0.8"/>
<text x="622.3" y="1840.5" font-family='"Liberation Sans", sans-serif' font-size="14.2" fill="#111">Watson</text>
<text x="622.3" y="1857.2" font-family='"Liberation Sans", sans-serif' font-size="14.2" fill="#111">RMS: 12.82</text>
<text x="622.3" y="1874.0" font-family='"Liberation Sans", sans-serif' font-size="14.2" fill="#111">Freq G1: 68.73</text>
<text x="622.3" y="1890.8" font-family='"Liberation Sans", sans-serif' font-size="14.2" fill="#111">Freq S: 17.13</text>
<text x="622.3" y="1907.5" font-family='"Liberation Sans", sans-serif' font-size="14.2" fill="#111">Freq G2: 14.16</text>
<text x="622.3" y="1924.2" font-family='"Liberation Sans", sans-serif' font-size="14.2" fill="#111">Mean G1: 517,642</text>
<text x="622.3" y="1941.0" font-family='"Liberation Sans", sans-serif' font-size="14.2" fill="#111">Mean G2: 998,965</text>
<text x="622.3" y="1957.8" font-family='"Liberation Sans", sans-serif' font-size="14.2" fill="#111">G2/G1: 1.93</text>
<text x="622.3" y="1974.5" font-family='"Liberation Sans", sans-serif' font-size="14.2" fill="#111">CV G1: 5.58%</text>
<text x="622.3" y="1991.2" font-family='"Liberation Sans", sans-serif' font-size="14.2" fill="#111">CV G2: 6.48%</text>
<text x="622.3" y="2008.0" font-family='"Liberation Sans", sans-serif' font-size="14.2" fill="#111">Freq Sub-G1: -0.01</text>
<text x="622.3" y="2024.8" font-family='"Liberation Sans", sans-serif' font-size="14.2" fill="#111">Freq Super-G2: 0.00</text>
<text x="577" y="1822.1" font-family='"Liberation Sans", sans-serif' font-size="13.5" text-anchor="middle" fill="#111">G1</text>
<text x="660.9" y="1822.1" font-family='"Liberation Sans", sans-serif' font-size="13.5" text-anchor="middle" fill="#111">G2</text>
<rect x="507.9" y="1803.6" width="275.1" height="274.3000000000002" fill="none" stroke="#222" stroke-width="1.6"/>
<line x1="504.9" y1="2077.9" x2="507.9" y2="2077.9" stroke="#222" stroke-width="1"/>
<line x1="504.9" y1="2069.8" x2="507.9" y2="2069.8" stroke="#222" stroke-width="1"/>
<line x1="504.9" y1="2061.8" x2="507.9" y2="2061.8" stroke="#222" stroke-width="1"/>
<line x1="504.9" y1="2053.7" x2="507.9" y2="2053.7" stroke="#222" stroke-width="1"/>
<line x1="504.9" y1="2045.7" x2="507.9" y2="2045.7" stroke="#222" stroke-width="1"/>
<line x1="504.9" y1="2037.6" x2="507.9" y2="2037.6" stroke="#222" stroke-width="1"/>
<line x1="504.9" y1="2029.6" x2="507.9" y2="2029.6" stroke="#222" stroke-width="1"/>
<line x1="504.9" y1="2021.5" x2="507.9" y2="2021.5" stroke="#222" stroke-width="1"/>
<line x1="504.9" y1="2013.5" x2="507.9" y2="2013.5" stroke="#222" stroke-width="1"/>
<line x1="504.9" y1="2005.4" x2="507.9" y2="2005.4" stroke="#222" stroke-width="1"/>
<line x1="504.9" y1="1997.3" x2="507.9" y2="1997.3" stroke="#222" stroke-width="1"/>
<line x1="504.9" y1="1989.3" x2="507.9" y2="1989.3" stroke="#222" stroke-width="1"/>
<line x1="504.9" y1="1981.2" x2="507.9" y2="1981.2" stroke="#222" stroke-width="1"/>
<line x1="504.9" y1="1973.2" x2="507.9" y2="1973.2" stroke="#222" stroke-width="1"/>
<line x1="504.9" y1="1965.1" x2="507.9" y2="1965.1" stroke="#222" stroke-width="1"/>
<line x1="504.9" y1="1957.1" x2="507.9" y2="1957.1" stroke="#222" stroke-width="1"/>
<line x1="504.9" y1="1949.0" x2="507.9" y2="1949.0" stroke="#222" stroke-width="1"/>
<line x1="504.9" y1="1941.0" x2="507.9" y2="1941.0" stroke="#222" stroke-width="1"/>
<line x1="504.9" y1="1932.9" x2="507.9" y2="1932.9" stroke="#222" stroke-width="1"/>
<line x1="504.9" y1="1924.8" x2="507.9" y2="1924.8" stroke="#222" stroke-width="1"/>
<line x1="504.9" y1="1916.8" x2="507.9" y2="1916.8" stroke="#222" stroke-width="1"/>
<line x1="504.9" y1="1908.7" x2="507.9" y2="1908.7" stroke="#222" stroke-width="1"/>
<line x1="504.9" y1="1900.7" x2="507.9" y2="1900.7" stroke="#222" stroke-width="1"/>
<line x1="504.9" y1="1892.6" x2="507.9" y2="1892.6" stroke="#222" stroke-width="1"/>
<line x1="504.9" y1="1884.6" x2="507.9" y2="1884.6" stroke="#222" stroke-width="1"/>
<line x1="504.9" y1="1876.5" x2="507.9" y2="1876.5" stroke="#222" stroke-width="1"/>
<line x1="504.9" y1="1868.4" x2="507.9" y2="1868.4" stroke="#222" stroke-width="1"/>
<line x1="504.9" y1="1860.4" x2="507.9" y2="1860.4" stroke="#222" stroke-width="1"/>
<line x1="504.9" y1="1852.3" x2="507.9" y2="1852.3" stroke="#222" stroke-width="1"/>
<line x1="504.9" y1="1844.3" x2="507.9" y2="1844.3" stroke="#222" stroke-width="1"/>
<line x1="504.9" y1="1836.2" x2="507.9" y2="1836.2" stroke="#222" stroke-width="1"/>
<line x1="504.9" y1="1828.2" x2="507.9" y2="1828.2" stroke="#222" stroke-width="1"/>
<line x1="504.9" y1="1820.1" x2="507.9" y2="1820.1" stroke="#222" stroke-width="1"/>
<line x1="504.9" y1="1812.1" x2="507.9" y2="1812.1" stroke="#222" stroke-width="1"/>
<line x1="504.9" y1="1804.0" x2="507.9" y2="1804.0" stroke="#222" stroke-width="1"/>
<line x1="501.9" y1="2077.9" x2="507.9" y2="2077.9" stroke="#222" stroke-width="1.3"/>
<text transform="translate(495,2079.4) rotate(-90)" font-family='"Liberation Sans", sans-serif' font-size="14.3" text-anchor="middle" fill="#111">0</text>
<line x1="501.9" y1="2037.6" x2="507.9" y2="2037.6" stroke="#222" stroke-width="1.3"/>
<text transform="translate(495,2039.1) rotate(-90)" font-family='"Liberation Sans", sans-serif' font-size="14.3" text-anchor="middle" fill="#111">100</text>
<line x1="501.9" y1="1997.3" x2="507.9" y2="1997.3" stroke="#222" stroke-width="1.3"/>
<text transform="translate(495,1998.8) rotate(-90)" font-family='"Liberation Sans", sans-serif' font-size="14.3" text-anchor="middle" fill="#111">200</text>
<line x1="501.9" y1="1957.1" x2="507.9" y2="1957.1" stroke="#222" stroke-width="1.3"/>
<text transform="translate(495,1958.6) rotate(-90)" font-family='"Liberation Sans", sans-serif' font-size="14.3" text-anchor="middle" fill="#111">300</text>
<line x1="501.9" y1="1916.8" x2="507.9" y2="1916.8" stroke="#222" stroke-width="1.3"/>
<text transform="translate(495,1918.3) rotate(-90)" font-family='"Liberation Sans", sans-serif' font-size="14.3" text-anchor="middle" fill="#111">400</text>
<line x1="501.9" y1="1876.5" x2="507.9" y2="1876.5" stroke="#222" stroke-width="1.3"/>
<text transform="translate(495,1878.0) rotate(-90)" font-family='"Liberation Sans", sans-serif' font-size="14.3" text-anchor="middle" fill="#111">500</text>
<line x1="501.9" y1="1836.2" x2="507.9" y2="1836.2" stroke="#222" stroke-width="1.3"/>
<text transform="translate(495,1837.7) rotate(-90)" font-family='"Liberation Sans", sans-serif' font-size="14.3" text-anchor="middle" fill="#111">600</text>
<line x1="501.9" y1="1803.6" x2="507.9" y2="1803.6" stroke="#222" stroke-width="1.3"/>
<text transform="translate(495,1805.1) rotate(-90)" font-family='"Liberation Sans", sans-serif' font-size="14.3" text-anchor="middle" fill="#111">681</text>
<line x1="507.9" y1="2077.9" x2="507.9" y2="2080.5" stroke="#222" stroke-width="1"/>
<line x1="515.6" y1="2077.9" x2="515.6" y2="2080.5" stroke="#222" stroke-width="1"/>
<line x1="523.3" y1="2077.9" x2="523.3" y2="2080.5" stroke="#222" stroke-width="1"/>
<line x1="531.0" y1="2077.9" x2="531.0" y2="2080.5" stroke="#222" stroke-width="1"/>
<line x1="538.8" y1="2077.9" x2="538.8" y2="2080.5" stroke="#222" stroke-width="1"/>
<line x1="546.5" y1="2077.9" x2="546.5" y2="2080.5" stroke="#222" stroke-width="1"/>
<line x1="554.2" y1="2077.9" x2="554.2" y2="2080.5" stroke="#222" stroke-width="1"/>
<line x1="562.9" y1="2077.9" x2="562.9" y2="2080.5" stroke="#222" stroke-width="1"/>
<line x1="571.6" y1="2077.9" x2="571.6" y2="2080.5" stroke="#222" stroke-width="1"/>
<line x1="580.3" y1="2077.9" x2="580.3" y2="2080.5" stroke="#222" stroke-width="1"/>
<line x1="589.0" y1="2077.9" x2="589.0" y2="2080.5" stroke="#222" stroke-width="1"/>
<line x1="597.7" y1="2077.9" x2="597.7" y2="2080.5" stroke="#222" stroke-width="1"/>
<line x1="606.4" y1="2077.9" x2="606.4" y2="2080.5" stroke="#222" stroke-width="1"/>
<line x1="615.1" y1="2077.9" x2="615.1" y2="2080.5" stroke="#222" stroke-width="1"/>
<line x1="623.8" y1="2077.9" x2="623.8" y2="2080.5" stroke="#222" stroke-width="1"/>
<line x1="632.5" y1="2077.9" x2="632.5" y2="2080.5" stroke="#222" stroke-width="1"/>
<line x1="641.2" y1="2077.9" x2="641.2" y2="2080.5" stroke="#222" stroke-width="1"/>
<line x1="649.9" y1="2077.9" x2="649.9" y2="2080.5" stroke="#222" stroke-width="1"/>
<line x1="658.6" y1="2077.9" x2="658.6" y2="2080.5" stroke="#222" stroke-width="1"/>
<line x1="667.4" y1="2077.9" x2="667.4" y2="2080.5" stroke="#222" stroke-width="1"/>
<line x1="676.1" y1="2077.9" x2="676.1" y2="2080.5" stroke="#222" stroke-width="1"/>
<line x1="684.8" y1="2077.9" x2="684.8" y2="2080.5" stroke="#222" stroke-width="1"/>
<line x1="693.5" y1="2077.9" x2="693.5" y2="2080.5" stroke="#222" stroke-width="1"/>
<line x1="702.2" y1="2077.9" x2="702.2" y2="2080.5" stroke="#222" stroke-width="1"/>
<line x1="710.9" y1="2077.9" x2="710.9" y2="2080.5" stroke="#222" stroke-width="1"/>
<line x1="719.6" y1="2077.9" x2="719.6" y2="2080.5" stroke="#222" stroke-width="1"/>
<line x1="728.3" y1="2077.9" x2="728.3" y2="2080.5" stroke="#222" stroke-width="1"/>
<line x1="737.0" y1="2077.9" x2="737.0" y2="2080.5" stroke="#222" stroke-width="1"/>
<line x1="745.7" y1="2077.9" x2="745.7" y2="2080.5" stroke="#222" stroke-width="1"/>
<line x1="754.4" y1="2077.9" x2="754.4" y2="2080.5" stroke="#222" stroke-width="1"/>
<line x1="763.1" y1="2077.9" x2="763.1" y2="2080.5" stroke="#222" stroke-width="1"/>
<line x1="773.0" y1="2077.9" x2="773.0" y2="2080.5" stroke="#222" stroke-width="1"/>
<line x1="783.0" y1="2077.9" x2="783.0" y2="2080.5" stroke="#222" stroke-width="1"/>
<line x1="507.9" y1="2077.9" x2="507.9" y2="2083.4" stroke="#222" stroke-width="1.4"/>
<text x="507.9" y="2102" font-family='"Liberation Sans", sans-serif' font-size="14.3" text-anchor="middle" fill="#111">0.1</text>
<line x1="554.2" y1="2077.9" x2="554.2" y2="2083.4" stroke="#222" stroke-width="1.4"/>
<text x="554.2" y="2102" font-family='"Liberation Sans", sans-serif' font-size="14.3" text-anchor="middle" fill="#111">0.4</text>
<line x1="623.8" y1="2077.9" x2="623.8" y2="2083.4" stroke="#222" stroke-width="1.4"/>
<text x="623.8" y="2102" font-family='"Liberation Sans", sans-serif' font-size="14.3" text-anchor="middle" fill="#111">0.8</text>
<line x1="693.5" y1="2077.9" x2="693.5" y2="2083.4" stroke="#222" stroke-width="1.4"/>
<text x="693.5" y="2102" font-family='"Liberation Sans", sans-serif' font-size="14.3" text-anchor="middle" fill="#111">1.2</text>
<line x1="763.1" y1="2077.9" x2="763.1" y2="2083.4" stroke="#222" stroke-width="1.4"/>
<line x1="783.0" y1="2077.9" x2="783.0" y2="2083.4" stroke="#222" stroke-width="1.4"/>
<text x="783.0" y="2102" font-family='"Liberation Sans", sans-serif' font-size="14.3" text-anchor="middle" fill="#111">1.7</text>
</svg></body></html>
